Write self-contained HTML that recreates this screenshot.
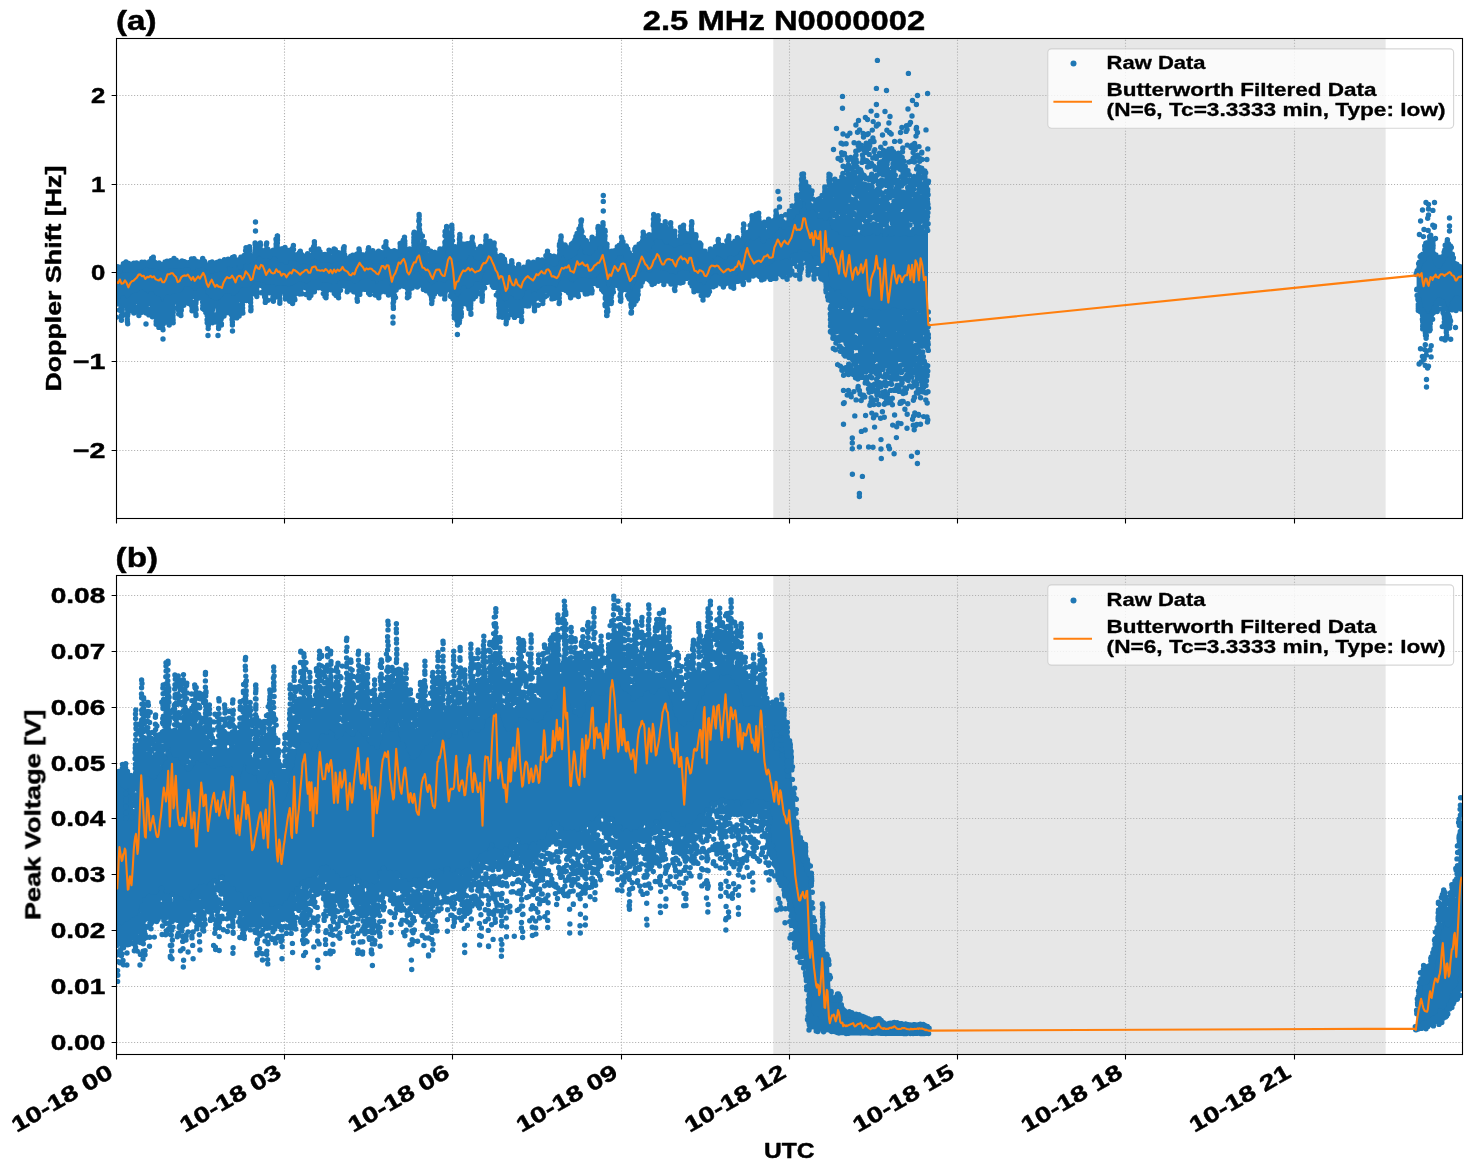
<!DOCTYPE html>
<html><head><meta charset="utf-8"><title>2.5 MHz N0000002</title>
<style>html,body{margin:0;padding:0;background:#fff}svg{display:block}</style></head>
<body>
<svg width="1472" height="1172" viewBox="0 0 1472 1172">
<defs>
<clipPath id="ca"><rect x="116.5" y="38.5" width="1346.0" height="480.0"/></clipPath>
<clipPath id="cb"><rect x="116.5" y="575.5" width="1346.0" height="479.0"/></clipPath>
<filter id="nf" x="0" y="0" width="100%" height="100%" filterUnits="userSpaceOnUse" color-interpolation-filters="sRGB"><feOffset dx="0" dy="0"/></filter>
</defs>
<rect width="1472" height="1172" fill="#fff"/>
<rect x="773.3" y="38.5" width="612.3" height="480.0" fill="#e7e7e7"/>
<path d="M284.5 518.5V38.5M452.5 518.5V38.5M621.5 518.5V38.5M789.5 518.5V38.5M957.5 518.5V38.5M1125.5 518.5V38.5M1294.5 518.5V38.5M116.5 95.5H1462.5M116.5 184.5H1462.5M116.5 272.5H1462.5M116.5 361.5H1462.5M116.5 450.5H1462.5" stroke="#b0b0b0" stroke-width="1.1" stroke-dasharray="1.1 1.83" fill="none"/>
<g clip-path="url(#ca)">
<path d="M116.5 271.2L117.5 270.5L118.5 272.3L119.5 272.7L120.5 270L121.5 269.4L122.5 269L123.5 268.8L124.5 268.5L125.5 271.5L126.5 269.2L127.5 269.6L128.5 271.4L129.5 269.4L130.5 268.5L131.5 268.6L132.5 271.4L133.5 268.4L134.5 269.1L135.5 270.1L136.5 268L137.5 268.6L138.5 268.3L139.5 266.2L140.5 267.2L141.5 265.7L142.5 267.9L143.5 265.9L144.5 266.7L145.5 265.7L146.5 265.1L147.5 265.2L148.5 265.8L149.5 266.6L150.5 267.3L151.5 267L152.5 263.3L153.5 264.8L154.5 264.7L155.5 266.1L156.5 266.6L157.5 267.8L158.5 265.5L159.5 266.1L160.5 269.2L161.5 267.7L162.5 270.1L163.5 267.1L164.5 269.2L165.5 267L166.5 268.4L167.5 266.6L168.5 265.5L169.5 267.1L170.5 266.1L171.5 265.3L172.5 265.6L173.5 265.7L174.5 264.4L175.5 267L176.5 265.3L177.5 265.3L178.5 267.4L179.5 264.6L180.5 265.5L181.5 267L182.5 267.1L183.5 264.4L184.5 264.6L185.5 265.8L186.5 266.2L187.5 265.5L188.5 264.7L189.5 264.9L190.5 266.6L191.5 265L192.5 265.3L193.5 266.1L194.5 266L195.5 265.4L196.5 265.1L197.5 264.5L198.5 266.8L199.5 264.6L200.5 263.9L201.5 266.2L202.5 264L203.5 265.9L204.5 264.8L205.5 267.1L206.5 266.7L207.5 268.7L208.5 269.4L209.5 268.6L210.5 268.5L211.5 268.4L212.5 270.7L213.5 270.6L214.5 269.5L215.5 268.3L216.5 271L217.5 268L218.5 270.4L219.5 268.7L220.5 269.9L221.5 267.3L222.5 269.1L223.5 267.1L224.5 268.3L225.5 265.7L226.5 264.9L227.5 265.5L228.5 265.4L229.5 263.7L230.5 264.3L231.5 266.3L232.5 264.9L233.5 266.1L234.5 263L235.5 263.5L236.5 263.6L237.5 263.3L238.5 264.4L239.5 266.6L240.5 268.3L241.5 265L242.5 263.5L243.5 262.2L244.5 261.1L245.5 259.6L246.5 262.7L247.5 262.9L248.5 262.3L249.5 258.6L250.5 259.7L251.5 257.5L252.5 260.8L253.5 259.9L254.5 259.1L255.5 255.3L256.5 255.8L257.5 254.3L258.5 253.7L259.5 254.5L260.5 254L261.5 255.5L262.5 254.7L263.5 257.1L264.5 254.4L265.5 255.3L266.5 257.7L267.5 255.5L268.5 254.6L269.5 254.3L270.5 257.9L271.5 253.3L272.5 255.2L273.5 254.3L274.5 255L275.5 252.8L276.5 253.4L277.5 252.8L278.5 253.1L279.5 257.6L280.5 261L281.5 261.2L282.5 260.1L283.5 260.5L284.5 260.7L285.5 259.8L286.5 263.2L287.5 260.3L288.5 259.6L289.5 259.1L290.5 257.8L291.5 259.1L292.5 258.5L293.5 258L294.5 258.4L295.5 259.4L296.5 259L297.5 259.5L298.5 260.1L299.5 260.7L300.5 260.7L301.5 262.9L302.5 262.7L303.5 261.2L304.5 261.4L305.5 261.6L306.5 261.7L307.5 263.6L308.5 260.8L309.5 259.4L310.5 258.1L311.5 258.3L312.5 257.9L313.5 255L314.5 255.3L315.5 254.6L316.5 258.4L317.5 256.4L318.5 259.7L319.5 259.8L320.5 258.8L321.5 259.6L322.5 261.5L323.5 261.7L324.5 260.6L325.5 259.4L326.5 259.8L327.5 261.2L328.5 260.5L329.5 259.8L330.5 260.9L331.5 262.4L332.5 259.5L333.5 259.8L334.5 259.4L335.5 260.7L336.5 258.5L337.5 258.4L338.5 259.9L339.5 257.7L340.5 257.5L341.5 259.9L342.5 256.8L343.5 257.9L344.5 258L345.5 260.4L346.5 259.9L347.5 262.4L348.5 262.5L349.5 263.3L350.5 265.8L351.5 263.9L352.5 264.9L353.5 262.4L354.5 261.2L355.5 260.6L356.5 259.1L357.5 258.4L358.5 257.9L359.5 258.5L360.5 257.2L361.5 257.8L362.5 257.6L363.5 257.3L364.5 257.2L365.5 257.2L366.5 259.6L367.5 259.1L368.5 257.4L369.5 257.9L370.5 257.8L371.5 258.1L372.5 259.2L373.5 259.4L374.5 262.4L375.5 261.2L376.5 262.8L377.5 260.8L378.5 262.3L379.5 260.2L380.5 258.5L381.5 258.6L382.5 256.2L383.5 254.9L384.5 254.2L385.5 253.1L386.5 256.5L387.5 256.2L388.5 257.5L389.5 259.2L390.5 260.8L391.5 262.9L392.5 260.7L393.5 262L394.5 259L395.5 260.2L396.5 257.4L397.5 256.4L398.5 256L399.5 252.3L400.5 252.9L401.5 250.7L402.5 250.1L403.5 250.6L404.5 251.9L405.5 251.4L406.5 252.6L407.5 257.2L408.5 257.3L409.5 258.8L410.5 257.1L411.5 256.1L412.5 251.6L413.5 250.4L414.5 248.9L415.5 244.7L416.5 240.1L417.5 239.9L418.5 235.3L419.5 235.3L420.5 239.1L421.5 247.8L422.5 247.3L423.5 252.3L424.5 254.2L425.5 255.1L426.5 259.4L427.5 257.8L428.5 258.6L429.5 262.2L430.5 263.5L431.5 261.1L432.5 261.8L433.5 261.1L434.5 260.7L435.5 262.6L436.5 259.7L437.5 262.3L438.5 260.3L439.5 261.9L440.5 259.5L441.5 258.6L442.5 254.8L443.5 252.5L444.5 249.5L445.5 247.2L446.5 244.1L447.5 242.1L448.5 242.2L449.5 244.5L450.5 242.2L451.5 242.4L452.5 247.6L453.5 252.1L454.5 258.7L455.5 259.8L456.5 260.3L457.5 260.6L458.5 257.5L459.5 257.1L460.5 254.9L461.5 254.8L462.5 258.8L463.5 255.6L464.5 258.7L465.5 255.7L466.5 256.7L467.5 254.4L468.5 253.1L469.5 252.4L470.5 251.9L471.5 253.7L472.5 253L473.5 253.2L474.5 254.8L475.5 256.6L476.5 258.7L477.5 259.2L478.5 259.4L479.5 257.3L480.5 255.9L481.5 254.5L482.5 253L483.5 252.9L484.5 249.8L485.5 249.6L486.5 247.8L487.5 248.2L488.5 249.1L489.5 248.7L490.5 249.4L491.5 250.1L492.5 253.4L493.5 253.1L494.5 254L495.5 255.9L496.5 257.3L497.5 259.8L498.5 260.9L499.5 264.5L500.5 264.3L501.5 268.4L502.5 267.8L503.5 270.9L504.5 270.7L505.5 271.9L506.5 269.6L507.5 273.4L508.5 270.4L509.5 270.5L510.5 271L511.5 270.6L512.5 270.7L513.5 272.2L514.5 272.9L515.5 272.5L516.5 272.7L517.5 273L518.5 273.3L519.5 273.8L520.5 273.5L521.5 275.3L522.5 274.5L523.5 273.1L524.5 271.3L525.5 271.8L526.5 271.9L527.5 269.7L528.5 270.9L529.5 270.4L530.5 269.3L531.5 269.1L532.5 269.9L533.5 268.9L534.5 270.1L535.5 268.1L536.5 269.8L537.5 268.1L538.5 267.8L539.5 267.9L540.5 266.3L541.5 265.6L542.5 264.2L543.5 263.1L544.5 262.1L545.5 262.2L546.5 262.7L547.5 261.5L548.5 262L549.5 263.1L550.5 262.5L551.5 263.3L552.5 264.5L553.5 264.8L554.5 264.5L555.5 264.5L556.5 263.1L557.5 258.7L558.5 259.1L559.5 255.7L560.5 254.4L561.5 251L562.5 252.3L563.5 253.5L564.5 254.5L565.5 256.2L566.5 256L567.5 258.8L568.5 256.1L569.5 258L570.5 256.7L571.5 254.4L572.5 255.3L573.5 252L574.5 254.7L575.5 251.9L576.5 247.7L577.5 246.1L578.5 244L579.5 241.5L580.5 242.8L581.5 238.2L582.5 245L583.5 247L584.5 249.6L585.5 253.3L586.5 252.7L587.5 252.6L588.5 252.7L589.5 254.2L590.5 252.5L591.5 252L592.5 252.3L593.5 249.1L594.5 248.9L595.5 247.9L596.5 245.1L597.5 242.7L598.5 244.7L599.5 241.3L600.5 243.2L601.5 239.4L602.5 242L603.5 244.9L604.5 244L605.5 250.5L606.5 252.5L607.5 257.8L608.5 257.6L609.5 258.9L610.5 260.2L611.5 260.8L612.5 260.6L613.5 258.6L614.5 257.5L615.5 257.7L616.5 255L617.5 253.6L618.5 253.4L619.5 251.9L620.5 254.4L621.5 250.1L622.5 251.1L623.5 251.6L624.5 253.4L625.5 255.7L626.5 258.2L627.5 259.5L628.5 259.9L629.5 260.4L630.5 260.7L631.5 261.8L632.5 261.5L633.5 262.6L634.5 262.1L635.5 260.8L636.5 258.2L637.5 254.9L638.5 255L639.5 250.8L640.5 248.8L641.5 247.5L642.5 249.3L643.5 247.1L644.5 246.1L645.5 248.8L646.5 249.8L647.5 249.8L648.5 247.8L649.5 251.5L650.5 244.6L651.5 244.5L652.5 239.6L653.5 235.3L654.5 234.4L655.5 237.9L656.5 234.6L657.5 233.3L658.5 233.5L659.5 238.5L660.5 234.8L661.5 238.1L662.5 236.8L663.5 237.8L664.5 240.9L665.5 240.2L666.5 243.3L667.5 238.2L668.5 241.2L669.5 240.3L670.5 240.8L671.5 244.3L672.5 242.2L673.5 242.5L674.5 246.4L675.5 245.4L676.5 245.4L677.5 244.6L678.5 242.2L679.5 243.7L680.5 244.1L681.5 240.5L682.5 242L683.5 242.3L684.5 240.7L685.5 239.2L686.5 242.5L687.5 239.1L688.5 238.4L689.5 238.6L690.5 242.3L691.5 239L692.5 244.2L693.5 246.7L694.5 248.3L695.5 248.4L696.5 250.6L697.5 254.3L698.5 256.3L699.5 255.6L700.5 257.7L701.5 259.5L702.5 261.3L703.5 259.9L704.5 260.6L705.5 262.6L706.5 261.9L707.5 262L708.5 259.1L709.5 259.2L710.5 259.4L711.5 256.7L712.5 257.2L713.5 256.9L714.5 253.9L715.5 253.5L716.5 253.2L717.5 254.2L718.5 251.8L719.5 253.8L720.5 255.5L721.5 255L722.5 255.8L723.5 255.7L724.5 258.3L725.5 253.9L726.5 252.6L727.5 255L728.5 251.6L729.5 254.5L730.5 252L731.5 254.3L732.5 253.2L733.5 254.8L734.5 254.3L735.5 253.8L736.5 251.1L737.5 250.5L738.5 250.7L739.5 246.2L740.5 244.9L741.5 247.2L742.5 240.9L743.5 240.3L744.5 242L745.5 236.8L746.5 238.8L747.5 237.7L748.5 238.6L749.5 235.6L750.5 233.8L751.5 233.1L752.5 233.4L753.5 239L754.5 236.4L755.5 237.8L756.5 234.4L757.5 234.5L758.5 234.4L759.5 234.2L760.5 235.3L761.5 236.5L762.5 239L763.5 242.1L764.5 238.3L765.5 236.5L766.5 237.8L767.5 236.4L768.5 235.5L769.5 234L770.5 237.3L771.5 235.1L772.5 233.1L773.5 231.4L774.5 230.1L775.5 226.6L776.5 229.2L777.5 226.3L778.5 226L779.5 224.7L780.5 225.1L781.5 225.7L782.5 226.7L783.5 228.5L784.5 227.8L785.5 226.4L786.5 224.9L787.5 225.6L788.5 224.5L789.5 223.2L790.5 220.8L791.5 219.4L792.5 217.6L793.5 215.1L794.5 213.7L795.5 211.8L796.5 213.4L797.5 210.2L798.5 205.8L799.5 207.4L800.5 203.6L801.5 198.2L802.5 199.2L803.5 200L804.5 199.3L805.5 198.5L806.5 200.9L807.5 202L808.5 204.3L809.5 209.7L810.5 206.5L811.5 207.6L812.5 207.9L813.5 207.4L814.5 207.6L815.5 207.3L816.5 207.4L817.5 211L818.5 211L819.5 217.4L820.5 216.6L821.5 216.8L822.5 210.8L823.5 215.9L824.5 216.9L825.5 219.5L826.5 212.1L827.5 214.9L828.5 206.9L829.5 208.3L830.5 203.2L831.5 200.5L832.5 202.8L832.5 308.2L831.5 297L830.5 298.4L829.5 294L828.5 286.9L827.5 283L826.5 277.5L825.5 269.7L824.5 268.7L823.5 267.4L822.5 265.9L821.5 263.5L820.5 260.9L819.5 262.5L818.5 260.1L817.5 257.2L816.5 261L815.5 256.8L814.5 261.6L813.5 260.1L812.5 261L811.5 260.1L810.5 256.5L809.5 254.3L808.5 258.8L807.5 256.3L806.5 257.5L805.5 252.9L804.5 252.8L803.5 256.8L802.5 256.7L801.5 256.7L800.5 250.8L799.5 256.8L798.5 255.3L797.5 257.2L796.5 258L795.5 253.8L794.5 259.5L793.5 259.8L792.5 254.9L791.5 261.1L790.5 261.3L789.5 262.1L788.5 261.1L787.5 262.7L786.5 260.7L785.5 259.7L784.5 263.4L783.5 262.3L782.5 261.1L781.5 263.8L780.5 262.8L779.5 263.2L778.5 260.9L777.5 262.6L776.5 264.8L775.5 262.9L774.5 264.8L773.5 266.5L772.5 267L771.5 265L770.5 268.5L769.5 266.6L768.5 267.1L767.5 267L766.5 269.5L765.5 269.5L764.5 270.1L763.5 270.4L762.5 270.7L761.5 269L760.5 269.1L759.5 270.4L758.5 270.4L757.5 271.5L756.5 270.1L755.5 271.3L754.5 271.1L753.5 269.8L752.5 270.4L751.5 268.3L750.5 269.4L749.5 268.9L748.5 267.2L747.5 270.2L746.5 268.1L745.5 271.1L744.5 271.7L743.5 272.8L742.5 273.9L741.5 275L740.5 273.6L739.5 276.7L738.5 277.2L737.5 277.5L736.5 278L735.5 277.1L734.5 278.1L733.5 277.3L732.5 277.3L731.5 279.1L730.5 278.9L729.5 277.2L728.5 279.3L727.5 278.9L726.5 279.2L725.5 277.7L724.5 279.3L723.5 277.1L722.5 278.5L721.5 278.6L720.5 278.3L719.5 276.4L718.5 276.8L717.5 276.8L716.5 275.9L715.5 274.5L714.5 277.3L713.5 276.7L712.5 279.3L711.5 280L710.5 281.5L709.5 280.2L708.5 283.3L707.5 284.9L706.5 285.1L705.5 285.5L704.5 286L703.5 287L702.5 286.4L701.5 287.2L700.5 283.8L699.5 285.8L698.5 284.7L697.5 283.1L696.5 282.9L695.5 281.8L694.5 280.6L693.5 277L692.5 278.6L691.5 275.4L690.5 277L689.5 275L688.5 273.3L687.5 271.4L686.5 274.4L685.5 271.5L684.5 272.1L683.5 272.8L682.5 272.2L681.5 272.2L680.5 273.3L679.5 272.3L678.5 275.5L677.5 275.6L676.5 275.9L675.5 277.1L674.5 276.8L673.5 274.9L672.5 277.1L671.5 275L670.5 275.5L669.5 275.9L668.5 274.4L667.5 274.2L666.5 272.7L665.5 272.3L664.5 271.9L663.5 273.7L662.5 274.1L661.5 272.2L660.5 273.4L659.5 270.8L658.5 270.7L657.5 270.6L656.5 272.9L655.5 270L654.5 270.7L653.5 274L652.5 273.6L651.5 274.1L650.5 275.1L649.5 274L648.5 275.1L647.5 274.9L646.5 272.8L645.5 272.1L644.5 271.6L643.5 270.7L642.5 272.8L641.5 274.3L640.5 276L639.5 278L638.5 281.7L637.5 284.1L636.5 284.3L635.5 287.1L634.5 290.9L633.5 293.7L632.5 295.6L631.5 293.5L630.5 292.1L629.5 291.9L628.5 290.1L627.5 285.6L626.5 283.1L625.5 280.1L624.5 280L623.5 281L622.5 279.8L621.5 283L620.5 285.7L619.5 284.5L618.5 280.2L617.5 280.4L616.5 278.3L615.5 278L614.5 280.6L613.5 281.4L612.5 285.6L611.5 287.4L610.5 288L609.5 293.1L608.5 292.9L607.5 296.5L606.5 293.3L605.5 289.7L604.5 286.5L603.5 282.1L602.5 278.5L601.5 274.1L600.5 276.5L599.5 276.9L598.5 277.7L597.5 278.8L596.5 279.6L595.5 280.4L594.5 278.9L593.5 280.8L592.5 281L591.5 280.2L590.5 280.4L589.5 282.4L588.5 280.2L587.5 282.4L586.5 280.1L585.5 280.8L584.5 278.8L583.5 279.4L582.5 278.4L581.5 279.9L580.5 281.9L579.5 279.2L578.5 279.4L577.5 283.2L576.5 281.8L575.5 284.4L574.5 284.8L573.5 284.2L572.5 284.9L571.5 285.5L570.5 284.4L569.5 283.4L568.5 282.9L567.5 282.8L566.5 279.5L565.5 280.1L564.5 279.2L563.5 279.2L562.5 281.4L561.5 282.4L560.5 285.2L559.5 289.1L558.5 289.9L557.5 290.6L556.5 288.5L555.5 288.8L554.5 289.1L553.5 287.9L552.5 287.2L551.5 287.6L550.5 287L549.5 287.3L548.5 286.6L547.5 288.1L546.5 288.8L545.5 287.7L544.5 287L543.5 290L542.5 289L541.5 289.5L540.5 291.6L539.5 290.6L538.5 293L537.5 294.4L536.5 294.6L535.5 294.7L534.5 295.5L533.5 294.4L532.5 295L531.5 295.3L530.5 294.9L529.5 290.6L528.5 294.2L527.5 293.9L526.5 296.3L525.5 296.8L524.5 300.7L523.5 302L522.5 304.7L521.5 303.1L520.5 302.2L519.5 303.9L518.5 301L517.5 302L516.5 303.6L515.5 303.1L514.5 302.7L513.5 301.4L512.5 299.8L511.5 299.3L510.5 301.4L509.5 302.5L508.5 302L507.5 301.5L506.5 305.3L505.5 305L504.5 303.1L503.5 305.2L502.5 301.7L501.5 301.4L500.5 300.5L499.5 298.9L498.5 295.4L497.5 291.2L496.5 286.1L495.5 282.1L494.5 275.8L493.5 276L492.5 275.7L491.5 274.6L490.5 273.2L489.5 273.2L488.5 272.5L487.5 272.7L486.5 273L485.5 275.9L484.5 278.7L483.5 283.4L482.5 285.4L481.5 286.2L480.5 285.6L479.5 283.3L478.5 284.4L477.5 282.9L476.5 285.6L475.5 286.1L474.5 287.6L473.5 290.4L472.5 288.1L471.5 290.2L470.5 295.4L469.5 293.8L468.5 289.7L467.5 292.5L466.5 289.9L465.5 290.9L464.5 289L463.5 288.4L462.5 293.5L461.5 295.8L460.5 299L459.5 302.7L458.5 302.9L457.5 302.6L456.5 304.7L455.5 297.3L454.5 297.2L453.5 296.1L452.5 291.1L451.5 283L450.5 282.8L449.5 280.5L448.5 281.6L447.5 283.2L446.5 283.6L445.5 284.7L444.5 283.9L443.5 286.3L442.5 285.3L441.5 284.7L440.5 283.2L439.5 283.5L438.5 284.4L437.5 283.1L436.5 286.5L435.5 287.9L434.5 285.2L433.5 287.4L432.5 288.4L431.5 287.2L430.5 286.6L429.5 286.8L428.5 284L427.5 285L426.5 283.4L425.5 281.7L424.5 279.8L423.5 277.5L422.5 278.2L421.5 277.8L420.5 276.9L419.5 275.9L418.5 274.3L417.5 275.7L416.5 275.9L415.5 276.8L414.5 275.1L413.5 279.3L412.5 280.9L411.5 282.4L410.5 283.3L409.5 281L408.5 284.6L407.5 282.1L406.5 282.2L405.5 281.6L404.5 279.5L403.5 279.5L402.5 275.3L401.5 276L400.5 274.5L399.5 275.8L398.5 278L397.5 280.7L396.5 281.8L395.5 287.5L394.5 290.3L393.5 290.3L392.5 293.1L391.5 287.7L390.5 290L389.5 288.1L388.5 286.2L387.5 281.8L386.5 281.5L385.5 281L384.5 281L383.5 281.2L382.5 282.2L381.5 284.1L380.5 281.9L379.5 284.5L378.5 284.6L377.5 285.8L376.5 285.2L375.5 285.9L374.5 285.3L373.5 284.8L372.5 281.5L371.5 283.7L370.5 283.7L369.5 282.3L368.5 281.4L367.5 279.7L366.5 279.4L365.5 279.2L364.5 281.5L363.5 282.2L362.5 280.8L361.5 280.9L360.5 282.9L359.5 283.7L358.5 286.2L357.5 284.1L356.5 286.5L355.5 284.9L354.5 286.9L353.5 285L352.5 286.4L351.5 283.7L350.5 283.7L349.5 282.1L348.5 283.5L347.5 282.8L346.5 282.3L345.5 281.8L344.5 283.1L343.5 281L342.5 283.6L341.5 284L340.5 284.5L339.5 282.1L338.5 284.9L337.5 285.9L336.5 285.3L335.5 284.9L334.5 286.1L333.5 285.2L332.5 286.6L331.5 286.6L330.5 285.9L329.5 284.7L328.5 286.5L327.5 285.9L326.5 283.2L325.5 284L324.5 285.6L323.5 285.4L322.5 284.8L321.5 283.6L320.5 283.9L319.5 283L318.5 280.2L317.5 280.3L316.5 282.1L315.5 281.8L314.5 280.4L313.5 281.5L312.5 280.6L311.5 284.4L310.5 285.3L309.5 285.9L308.5 285.9L307.5 284.2L306.5 285.6L305.5 285.3L304.5 285.2L303.5 283.9L302.5 284.8L301.5 284.6L300.5 284.3L299.5 284.4L298.5 285.9L297.5 284.1L296.5 287.4L295.5 285.2L294.5 285.6L293.5 289.6L292.5 289.9L291.5 288.2L290.5 289.6L289.5 287.5L288.5 288.4L287.5 288.7L286.5 288.6L285.5 287.1L284.5 289L283.5 288.8L282.5 286.8L281.5 286.9L280.5 286.4L279.5 286.8L278.5 286.4L277.5 289.1L276.5 288.3L275.5 289.1L274.5 288.8L273.5 285.8L272.5 287.2L271.5 288.4L270.5 285.4L269.5 288.8L268.5 288.5L267.5 288.9L266.5 285.8L265.5 286.2L264.5 287.2L263.5 285.7L262.5 283.4L261.5 284.1L260.5 283.3L259.5 283L258.5 284.1L257.5 282.5L256.5 285.4L255.5 287.2L254.5 285L253.5 287.3L252.5 287.3L251.5 287.2L250.5 288.8L249.5 290.8L248.5 288.3L247.5 291.4L246.5 292.4L245.5 288.6L244.5 289.6L243.5 292.7L242.5 289.2L241.5 291.7L240.5 292.2L239.5 295.2L238.5 294.4L237.5 296L236.5 297L235.5 298.3L234.5 297.6L233.5 297.1L232.5 299.5L231.5 297.5L230.5 298L229.5 294.4L228.5 296.2L227.5 295.3L226.5 294.3L225.5 296.6L224.5 296.4L223.5 298L222.5 301.8L221.5 301.2L220.5 300.5L219.5 304.4L218.5 305.8L217.5 305.2L216.5 301.5L215.5 301.9L214.5 301.3L213.5 302.1L212.5 301.2L211.5 302L210.5 302.1L209.5 299.1L208.5 303.1L207.5 298.1L206.5 300.2L205.5 295.3L204.5 294.8L203.5 293L202.5 289.7L201.5 289L200.5 289L199.5 289.6L198.5 293.4L197.5 294.2L196.5 294.8L195.5 291.4L194.5 291.5L193.5 292.9L192.5 292.4L191.5 289.8L190.5 290.5L189.5 289.6L188.5 288.2L187.5 289.3L186.5 287.5L185.5 289L184.5 291.5L183.5 292.6L182.5 293.6L181.5 293.2L180.5 295.8L179.5 293.7L178.5 296.7L177.5 294.2L176.5 296.5L175.5 297.4L174.5 294.5L173.5 297.6L172.5 296.4L171.5 296.1L170.5 298.3L169.5 299L168.5 296.7L167.5 295.8L166.5 298.7L165.5 302.3L164.5 303.2L163.5 302.4L162.5 302.7L161.5 303.2L160.5 303.2L159.5 303L158.5 299.9L157.5 297.2L156.5 299.9L155.5 297.2L154.5 296.1L153.5 296L152.5 295.8L151.5 292.5L150.5 294L149.5 295.5L148.5 294.7L147.5 294.9L146.5 294.5L145.5 293.6L144.5 292.5L143.5 293.4L142.5 293.8L141.5 290.7L140.5 292L139.5 294L138.5 294.1L137.5 294L136.5 294.5L135.5 294.9L134.5 294.1L133.5 294.9L132.5 296.5L131.5 297.5L130.5 298.8L129.5 300L128.5 299.9L127.5 302L126.5 300L125.5 299.4L124.5 300.8L123.5 296.8L122.5 298.7L121.5 300L120.5 300.6L119.5 300.5L118.5 299.4L117.5 300.9L116.5 300.6ZM831 223.7L832 225.2L833 226.3L834 226.8L835 226.4L836 226.1L837 227.7L838 226.9L839 230.1L840 229.9L841 230.7L842 230.2L843 229.6L844 232.1L845 230.9L846 232.2L847 231.6L848 232.2L849 230.1L850 231.9L851 230.2L852 231.8L853 230.9L854 230.4L855 232.2L856 231.5L857 230L858 231.4L859 232.5L860 231.9L861 231.9L862 230.8L863 231.5L864 230.8L865 232.1L866 230.5L867 232.2L868 230.6L869 231.8L870 231.7L871 230.5L872 231.6L873 231L874 230.3L875 230.9L876 231.2L877 232.7L878 231.3L879 232.8L880 231L881 230.1L882 230.3L883 232.4L884 230.2L885 233L886 230.8L887 232.1L888 230.3L889 231.4L890 231.1L891 232.7L892 230.6L893 230.6L894 231.6L895 231.1L896 231.9L897 230.2L898 232.2L899 232.6L900 232.3L901 230.8L902 230.6L903 230.3L904 232.5L905 232.3L906 230L907 230.3L908 231.9L909 232L910 231L911 232.3L912 232.7L913 231.4L914 230L915 232.4L916 230.6L917 231.6L918 231.3L919 231.3L920 231.5L921 233L922 230.8L923 230.6L924 230.1L925 230.7L926 232.1L927 232.4L928 232.2L928 313.6L927 313.9L926 311.9L925 313.3L924 312.1L923 312.4L922 312.3L921 311.2L920 313.8L919 313.9L918 312.3L917 311.3L916 312.6L915 311.5L914 313.2L913 312.4L912 313L911 312.6L910 311.9L909 312.4L908 311.7L907 313.8L906 313.7L905 313.3L904 312.2L903 312.3L902 313.5L901 312.8L900 311.7L899 313.6L898 312L897 312.8L896 312.7L895 311.5L894 311.1L893 311.8L892 311.4L891 312.4L890 313.9L889 313.2L888 312L887 313.6L886 313.8L885 312.9L884 312L883 311.6L882 312.2L881 313.3L880 311.9L879 313.2L878 311.9L877 313.7L876 313L875 313.1L874 311.2L873 313.5L872 313.8L871 312.6L870 311.5L869 313.7L868 312.5L867 313L866 310.4L865 311.5L864 310.9L863 312L862 310.2L861 309.1L860 309.9L859 309.5L858 310.8L857 309L856 310.5L855 307.9L854 307L853 306.7L852 305.7L851 305.8L850 304.2L849 305.5L848 303.8L847 304.2L846 302.9L845 301.4L844 299.4L843 298.8L842 298.5L841 299.4L840 296.4L839 295.3L838 293.6L837 295.8L836 293.9L835 295.7L834 293.4L833 294.2L832 292.6L831 294.2ZM1416.6 275.9L1417.6 272.6L1418.6 269L1419.6 266.1L1420.6 263L1421.6 262.1L1422.6 259.8L1423.6 260.9L1424.6 257.4L1425.6 256.1L1426.6 255L1427.6 252.3L1428.6 249.8L1429.6 253.3L1430.6 254.3L1431.6 253.1L1432.6 255.6L1433.6 257.3L1434.6 260.5L1435.6 262.8L1436.6 264.4L1437.6 266.4L1438.6 267.4L1439.6 265.4L1440.6 264.7L1441.6 262.1L1442.6 260.1L1443.6 258.3L1444.6 256.6L1445.6 256.6L1446.6 253.5L1447.6 252.9L1448.6 252.4L1449.6 252.1L1450.6 256.2L1451.6 256.1L1452.6 258.4L1453.6 263.8L1454.6 268.1L1455.6 269.6L1456.6 269.8L1457.6 270.5L1458.6 270.1L1459.6 270.2L1460.6 270.4L1461.6 271.7L1462.6 271.1L1462.6 297.6L1461.6 296.9L1460.6 298L1459.6 298.1L1458.6 297.4L1457.6 298.2L1456.6 296.7L1455.6 297.8L1454.6 299L1453.6 301L1452.6 301L1451.6 305.2L1450.6 307.3L1449.6 316L1448.6 313.6L1447.6 317L1446.6 317.8L1445.6 313.5L1444.6 306.7L1443.6 303.3L1442.6 301.4L1441.6 300.1L1440.6 299.6L1439.6 298.3L1438.6 299.7L1437.6 301.9L1436.6 301.4L1435.6 304.7L1434.6 306.6L1433.6 308.4L1432.6 310.7L1431.6 312.5L1430.6 314.7L1429.6 314.3L1428.6 314.4L1427.6 317.9L1426.6 315.7L1425.6 318.2L1424.6 317L1423.6 311.6L1422.6 309L1421.6 308.6L1420.6 305.9L1419.6 302.6L1418.6 298.4L1417.6 294.2L1416.6 287.9Z" fill="#1f77b4"/>
<path d="M116.8 269.8h0M116.4 268.2h0M116.7 301.9h0M116.2 317.2h0M117.4 269.2h0M117.7 266.7h0M117.1 302.2h0M117.3 303.9h0M118.2 270.9h0M118.1 270.5h0M118.9 300.8h0M119.5 271.3h0M119.5 301.9h0M119.3 310.1h0M120.3 268.7h0M120 267.8h0M120.6 301.9h0M120.3 303.7h0M121.5 268.1h0M121.3 266.9h0M121.5 301.3h0M121.5 303.5h0M122.9 267.6h0M122.2 300.1h0M122.2 310.6h0M122 302.8h0M121.9 307.5h0M122.1 310.4h0M122.1 312.6h0M122.2 315.8h0M123.9 267.4h0M123.4 263.6h0M123.1 298.1h0M123.2 303.5h0M124.6 267.2h0M124.3 302.2h0M124.1 305.2h0M125 270.2h0M125.9 300.7h0M125.3 302.6h0M126 267.9h0M126.9 266.5h0M127.1 267.3h0M127.1 264.8h0M127 263.4h0M127 301.4h0M126 315.1h0M127.3 268.3h0M128.2 263.9h0M128 263.3h0M127.5 303.4h0M127.2 308.3h0M127.8 306.1h0M127.7 307.7h0M127.9 313.9h0M127.7 314.3h0M129 270.1h0M128.1 301.2h0M128.1 304.9h0M129.2 268.1h0M129.2 267.7h0M130 301.4h0M129.3 307.7h0M130.8 267.2h0M130.5 264.3h0M130.8 300.1h0M130.6 304.5h0M129.9 300.2h0M130.1 305.2h0M130 306.3h0M130 309.3h0M131.4 267.2h0M131.2 266.3h0M131.4 298.8h0M131.6 299.9h0M132.8 270h0M132.5 297.9h0M132.8 303.4h0M132.5 300.7h0M132.6 305h0M132.6 310.2h0M132.3 310.9h0M133.2 267.1h0M133.3 264.6h0M133 296.3h0M133.3 306.3h0M134.8 267.7h0M134.5 266.3h0M134.7 295.4h0M134.9 299.1h0M135.5 268.8h0M135.1 265.7h0M135.3 296.2h0M135.5 300.5h0M136.7 266.7h0M136.6 263h0M136.1 295.9h0M137.1 299.6h0M136.8 300.5h0M136.7 307.4h0M136.7 310.7h0M136.9 311.5h0M137.1 267.2h0M137.4 266.1h0M137.4 295.3h0M138.7 267h0M138.9 265.4h0M138.5 295.4h0M138.5 295.8h0M139.8 264.8h0M140 264.1h0M139.8 295.3h0M139.3 297.5h0M140.4 265.9h0M140.5 265.6h0M140.1 293.4h0M140.1 299.5h0M141.9 264.3h0M141.4 264h0M141.7 262.6h0M141.8 262.2h0M141.7 292.1h0M141.5 292.6h0M141.7 294.8h0M141.8 296.7h0M142 302h0M142 302.9h0M141.6 305.9h0M141.8 309.1h0M141.9 312.2h0M142.2 266.6h0M143 265.4h0M142.7 295.1h0M142.3 296.7h0M143.5 264.5h0M143.6 294.7h0M143.5 301.2h0M144.2 265.4h0M144.6 262.3h0M144.1 293.8h0M144.2 297.1h0M145.3 264.4h0M145.8 264h0M145.2 295h0M145.6 303.5h0M146.9 263.8h0M146.9 295.9h0M147.4 263.8h0M147.6 263.4h0M147.5 296.3h0M148.4 264.5h0M148.4 296h0M148.8 299.7h0M149.2 299.7h0M148.7 301.7h0M149.2 303.6h0M148.8 309.1h0M148.8 313.3h0M148.9 314.9h0M149.2 265.2h0M149.5 261.7h0M149.4 296.8h0M150.6 266h0M150.7 265.7h0M150.9 295.4h0M150.7 299.2h0M150.4 296.5h0M150.1 301.5h0M150.3 302.6h0M151.1 265.6h0M151.6 265.6h0M151.6 261.1h0M151.9 259.9h0M151.6 258.4h0M151.4 293.8h0M151.5 299.6h0M152.8 262h0M152.4 260.2h0M152.4 297.1h0M152.1 299.7h0M153.3 263.5h0M153 297.4h0M153.9 308.3h0M154.4 263.4h0M154.7 262.3h0M154.7 297.4h0M154.3 303.1h0M155.8 264.7h0M155.6 264h0M155.4 298.5h0M155.8 304.3h0M156.6 265.3h0M156.6 264.2h0M156.4 301.3h0M156.6 304.2h0M155.9 304.1h0M156.2 306.7h0M156 309.1h0M156.3 313.5h0M156 317.4h0M156.2 321.5h0M156.2 324.2h0M157.2 266.4h0M157.7 265.6h0M157.6 298.6h0M157.3 300.6h0M157.8 304.4h0M157.4 306.2h0M157.6 311.4h0M157.5 313h0M158.2 264.2h0M158.9 301.2h0M158.6 314.6h0M159.3 264.8h0M159.1 262.9h0M159.8 304.3h0M159.3 318.2h0M159.6 305.5h0M159.4 308.4h0M159.3 315.2h0M159.2 318.4h0M159.4 321.5h0M159.4 323.1h0M160.4 267.9h0M160.6 304.5h0M160.5 313.1h0M161 266.3h0M161 266.2h0M161.6 304.6h0M161.1 320.3h0M161.9 304.8h0M161.7 309.9h0M162 313.8h0M162.1 316.2h0M161.8 318.6h0M162.4 268.7h0M162.2 268.1h0M163 304h0M162.6 320.5h0M163.7 265.8h0M163.6 264.3h0M164 303.7h0M163.5 305.5h0M164.9 267.8h0M164.7 264.9h0M164.4 304.5h0M164.3 307.1h0M164.1 309.2h0M164.1 313.2h0M164 316.6h0M164 319.6h0M164.2 322.2h0M165.3 265.6h0M165.9 303.7h0M166.6 267.1h0M166.8 266h0M167 261.3h0M166.1 300h0M166.4 306.1h0M167 265.2h0M167.6 262.1h0M167.6 297.1h0M167.8 302.9h0M167.6 300.1h0M168.1 303.9h0M167.8 305h0M167.9 309h0M168 312.9h0M168 316.8h0M167.8 322.3h0M167.8 322.6h0M169 264.1h0M168.3 263.8h0M168.5 298.1h0M168.3 309.9h0M169.6 265.8h0M169.3 300.4h0M169.3 312.3h0M171 264.8h0M170.6 260.8h0M170.6 299.7h0M170.9 301.6h0M170.3 302.4h0M169.9 304.1h0M170 307.2h0M170.1 312.8h0M170.1 315.2h0M170.1 317.1h0M170.2 319.6h0M171.6 263.9h0M171.2 262.9h0M171.7 297.5h0M172 300.4h0M172.2 264.2h0M172.9 297.7h0M172.1 305.7h0M173.7 264.4h0M173.8 263.2h0M173.6 261.3h0M173.1 299h0M173.4 309.3h0M174.8 263h0M174.3 295.8h0M174.3 308.1h0M175.5 265.6h0M175.1 262.3h0M175.8 298.7h0M175.5 301h0M176.1 263.9h0M176.2 260.2h0M176 297.9h0M178 264h0M177.1 263.7h0M177.2 295.6h0M177.7 295.8h0M178 266h0M178.4 264h0M178.9 298.1h0M178.2 304.2h0M178.8 300.7h0M178.5 302.1h0M178.8 307.5h0M178.7 310.4h0M178.7 313.9h0M179.7 263.3h0M179.2 262.8h0M179.5 295.1h0M179.4 302.8h0M180.9 264.2h0M180.6 262.1h0M180.4 297.1h0M180.7 313.3h0M181.5 265.6h0M182 261h0M182 294.6h0M181.7 300.1h0M181.4 296.5h0M181.6 301.9h0M181 306h0M181.5 306.8h0M181.3 310.2h0M182.3 265.7h0M182.5 295h0M182.2 299.5h0M183.3 263.1h0M183.1 262.5h0M183.1 293.9h0M183.8 305.3h0M183.3 299.8h0M183.4 300.1h0M184.8 263.3h0M184.4 261.8h0M184.7 292.9h0M184.5 293h0M184 295.9h0M184.2 300h0M184.1 300.9h0M185.2 264.4h0M185.6 290.4h0M185.9 297.5h0M185.3 291.2h0M184.9 295.6h0M185.3 296.9h0M185 299.9h0M186.5 264.9h0M186.7 262.8h0M186.2 288.9h0M186.8 293.3h0M187.4 264.1h0M187.5 263.4h0M187.1 290.7h0M187.8 302.7h0M188.9 263.4h0M188.4 262.8h0M188.8 289.5h0M188.3 294.7h0M188.3 290.1h0M188.6 298.5h0M188.4 299.5h0M189.6 263.5h0M189.2 262.7h0M189.6 291h0M189.7 300h0M190.5 265.2h0M190.1 291.8h0M190.3 292.8h0M191.6 263.7h0M191.7 261.4h0M191.5 259h0M191.2 291.2h0M191.6 305.4h0M191.9 295h0M192 296.7h0M191.9 302h0M192.1 306.2h0M192.1 307.5h0M192 310.8h0M192.3 264h0M192.6 263h0M192.2 293.8h0M193.2 264.7h0M193.9 263.4h0M193.9 261.9h0M193.6 260h0M193.9 258.7h0M193.8 294.2h0M193.2 295.6h0M194.6 264.7h0M194.4 292.9h0M194.9 293.6h0M195.2 264.1h0M195.7 261h0M195.1 292.8h0M195.8 295.6h0M196 263.8h0M196.2 296.2h0M196.4 298.1h0M197.1 263.2h0M197.8 295.5h0M198 298h0M198.5 265.5h0M198.7 261.9h0M198 294.8h0M198.9 298.1h0M200 263.3h0M199.2 290.9h0M199.5 293.3h0M200.3 262.6h0M200.5 262h0M200.4 290.3h0M200.1 296.8h0M201 264.8h0M201.2 290.3h0M201.9 291h0M202.4 262.7h0M202.2 262.2h0M202.5 291.1h0M202.7 291.2h0M202.9 296.2h0M202.9 298.1h0M203.9 264.5h0M203.8 262.9h0M203.7 261.7h0M203.9 261.2h0M203.4 294.4h0M203.9 299.1h0M204.6 263.5h0M204.4 261.2h0M204.9 296.1h0M204.1 309.5h0M205.1 297.1h0M204.7 301.4h0M205.1 305.3h0M205 305.7h0M205.6 265.8h0M205.6 296.6h0M205.8 312.6h0M205.6 298h0M205.1 304.7h0M205.4 305.4h0M206.6 265.3h0M206.5 265h0M206.5 301.6h0M206.1 302h0M207.9 267.4h0M207.8 265.3h0M207.1 299.4h0M207.2 314.3h0M207.1 300.3h0M207.2 303.7h0M207 310.2h0M207.1 313.7h0M207.2 315.4h0M207.1 319.7h0M207.2 322.8h0M208.7 268.1h0M208.1 304.4h0M208.7 306.6h0M208.3 310.2h0M208.4 312.4h0M208.6 314.9h0M208.4 318.3h0M208.5 320.1h0M209.5 267.2h0M209.4 300.5h0M209.5 300.8h0M210.7 267.2h0M210 262.8h0M210.9 303.4h0M211.6 267.1h0M211.5 303.3h0M211.8 305h0M212.8 269.4h0M212 264.7h0M213.1 269.1h0M213 265.8h0M212.5 302.5h0M213.2 269.2h0M213.1 268.3h0M213.9 303.5h0M213.8 315h0M214.3 268.2h0M214.8 263.5h0M214.4 302.6h0M214.5 305h0M215.2 267h0M215.3 303.3h0M215.4 316.9h0M216.5 269.6h0M217 266.5h0M216.8 265.6h0M216.9 262.4h0M216.3 302.8h0M216.1 322h0M217.7 266.7h0M217.3 306.6h0M217.9 312.9h0M218.6 269h0M218.5 307.2h0M219.3 267.4h0M219.9 264.8h0M219.9 261.9h0M219.8 261.1h0M219.8 305.8h0M219.2 309.6h0M219.7 308.1h0M220.1 313.5h0M219.9 314.8h0M221 268.5h0M220.8 267.5h0M220.9 301.8h0M220 315.3h0M221.9 266h0M221.1 265.5h0M221.3 302.6h0M221.7 312.1h0M222.3 267.7h0M222.2 303.1h0M222.2 312.2h0M224 265.8h0M223 263h0M223.5 299.4h0M223.8 306.4h0M224.3 266.9h0M224.6 266.1h0M225 297.8h0M224 299.2h0M224.2 302h0M224.2 305.4h0M224.1 311.9h0M224.1 314.8h0M224 316h0M225.4 264.4h0M226 298h0M225.3 298h0M225.7 301.4h0M226.1 304.6h0M225.9 305.3h0M225.9 308.5h0M227 263.5h0M226.1 295.7h0M226.4 297h0M227.7 264.1h0M227.5 262h0M227.7 296.6h0M227.7 304.6h0M228.1 264.1h0M228.4 263h0M228.1 263.3h0M228.4 260.1h0M228.1 259.2h0M228.6 297.6h0M228.6 299h0M228.2 303.5h0M228.6 309.4h0M228.4 309.5h0M229.1 262.3h0M229.9 262h0M229.3 295.7h0M229.3 301h0M230.4 263h0M230.9 261.1h0M231 299.4h0M230.9 301.2h0M230.5 302.2h0M230.5 306.3h0M230.6 308.4h0M230.7 313.3h0M230.5 313.5h0M231.9 264.9h0M231.5 262.1h0M231.6 298.9h0M231.9 315.4h0M232.1 263.6h0M232.5 257.5h0M232.6 300.8h0M232.7 308.3h0M233.9 264.7h0M233.7 262.9h0M233.1 298.4h0M233.6 302.2h0M234.2 261.7h0M234.4 298.9h0M234.1 302h0M234.4 305h0M234.2 307.9h0M234.2 308.6h0M235.8 262.2h0M235.3 260.4h0M235.4 299.6h0M236.2 262.3h0M236.1 298.3h0M237 301.1h0M237.4 261.9h0M237.2 260.2h0M237.2 297.3h0M238.8 263.1h0M238.4 295.8h0M238.5 299.9h0M239.8 265.3h0M239.3 259.8h0M239.6 296.5h0M238.9 297.8h0M239.4 300h0M238.9 305.4h0M239.3 307.9h0M239.1 310.1h0M238.9 313.2h0M239.1 316h0M240.6 266.9h0M241 263.3h0M240.6 293.6h0M240.2 296.9h0M241.3 263.7h0M241.8 262.6h0M241.3 293h0M241.6 295.1h0M243 262.2h0M242.8 261.2h0M242.3 290.5h0M242.5 297h0M243.8 260.8h0M243.4 259.5h0M243.8 294.1h0M243.6 295.5h0M244.8 259.8h0M244.2 255.5h0M244.5 290.9h0M245.3 258.3h0M245.8 257h0M245.3 290h0M245.7 298.9h0M246.6 261.3h0M246.7 293.7h0M246.4 300.6h0M247.7 261.5h0M247.5 292.8h0M247.6 295h0M248.6 260.9h0M248.7 255.2h0M248.3 289.6h0M248.9 294.2h0M249.2 257.3h0M249 255.9h0M249.5 254.4h0M249.6 251.1h0M249.7 248.3h0M249.5 246.8h0M249.8 292.2h0M250.2 258.3h0M251 290.1h0M250.5 301.8h0M251.7 256.2h0M251.1 288.6h0M251.5 292h0M252 259.4h0M252.5 288.6h0M252.4 292.9h0M253.8 258.6h0M253 257.4h0M253.7 288.6h0M253.3 289.3h0M254.5 257.7h0M254.3 286.4h0M254 293.8h0M255 254h0M255.3 288.5h0M255.9 292.3h0M256.1 254.5h0M256.4 286.8h0M257.9 252.9h0M257.8 246.1h0M257 283.8h0M258.2 252.3h0M258.7 251.1h0M258 249.8h0M258.4 248.8h0M258.2 246.7h0M258.2 285.5h0M260 253.1h0M259.6 251.3h0M259.4 284.4h0M259.3 284.4h0M260.2 252.6h0M260.6 250.2h0M260.6 249.8h0M260.1 246.5h0M260.4 245h0M260.3 242.9h0M260.2 284.6h0M261.5 254.2h0M261 251.7h0M261.4 285.5h0M261.1 292.7h0M262.6 253.4h0M262.8 284.7h0M262.8 292.5h0M262 285.5h0M262.4 292.1h0M262.3 292.8h0M263.8 255.8h0M263.5 287.1h0M264.8 253h0M264.1 288.5h0M264.6 296.8h0M265.2 254h0M265.5 250h0M265.5 287.5h0M265.3 292.4h0M266.4 256.4h0M266.5 253.3h0M266.2 287.2h0M266.1 288.7h0M267.5 254.2h0M267.8 249.1h0M267.2 290.3h0M267.9 300.2h0M268.1 253.3h0M268.1 250.4h0M268.9 289.9h0M268.1 291.2h0M269.1 253h0M269.4 290.1h0M269.8 292.9h0M270.2 256.5h0M270.2 286.8h0M270 288.3h0M271 251.9h0M271.6 289.8h0M271.8 292h0M272.8 253.8h0M272.7 251.7h0M272.8 288.5h0M272.9 297.5h0M272.6 291.1h0M272.7 293.7h0M272.6 299.4h0M272.8 299.6h0M273.4 252.9h0M273.2 250.3h0M273.1 287.1h0M273 297.5h0M274.8 253.7h0M274.7 290.1h0M274.2 292.9h0M274.3 295.8h0M274.5 297.6h0M275.7 251.5h0M275.1 290.4h0M275.7 291.3h0M276.3 252h0M276.2 246.1h0M276.3 249.6h0M276.1 243.9h0M276.3 240.6h0M276 239.3h0M276.4 289.7h0M277.3 251.5h0M277.1 239.6h0M277.2 290.5h0M277.1 291.2h0M277 292.6h0M277 296.9h0M278.4 251.8h0M279 249h0M278.6 287.7h0M279 289.1h0M279.2 256.3h0M279.2 252.5h0M279.7 288.2h0M279.3 291.4h0M280.4 259.7h0M280.1 255.9h0M280.1 287.8h0M280.6 289.9h0M281.9 259.8h0M281.1 288.3h0M281.5 290.9h0M282.1 258.7h0M282.2 253.1h0M283 288.2h0M282.8 289.9h0M283.2 259.2h0M283 248.6h0M283.2 290.2h0M283.9 292h0M284.9 259.4h0M284.5 259.2h0M284.9 290.3h0M284.9 294h0M285.6 258.5h0M285.1 256.6h0M285.1 258.1h0M285.2 254h0M284.7 250.6h0M284.9 247.7h0M285 247.5h0M285.5 288.4h0M285.3 291.4h0M286.1 261.9h0M286.6 289.9h0M286.7 297.4h0M287 258.9h0M287.6 257.3h0M288 290h0M287.2 291.1h0M288.1 258.2h0M288.4 253.3h0M288.5 255.7h0M288.1 251.2h0M288.2 250.4h0M288.1 289.8h0M288.4 291.6h0M289.2 257.8h0M289.1 252.2h0M289.9 288.9h0M289.7 299.5h0M289.5 291.8h0M289.6 294.5h0M289.5 295.3h0M289.6 298.5h0M289.7 301.3h0M290.9 256.4h0M290.9 251h0M290.1 290.9h0M290.3 292.5h0M291.6 257.8h0M291.3 289.6h0M291.9 296.9h0M292.3 257.1h0M292.1 248.7h0M292.8 291.2h0M292.8 292.7h0M293.9 256.7h0M293.5 255.8h0M293.3 290.9h0M293.9 298.5h0M294.8 257.1h0M294.7 287h0M294.1 287.9h0M295 290.2h0M294.9 291.6h0M295.1 294.2h0M294.7 298.9h0M294.9 299.8h0M295.2 258.1h0M296 286.5h0M295.4 286.6h0M296.2 257.7h0M296.5 288.8h0M296.4 290.9h0M298 258.1h0M297.8 254.5h0M297.8 285.4h0M297.9 289.9h0M298.8 258.8h0M298.5 255.5h0M298.6 287.3h0M298.9 291.3h0M299.1 259.4h0M299.9 254.3h0M299.3 258.1h0M299.3 254.2h0M299.4 252.8h0M299.6 285.7h0M299.5 291.9h0M300.3 259.4h0M300.6 256.9h0M301 285.6h0M300.4 292.3h0M300.8 287.5h0M300.8 289.5h0M300.9 292.7h0M301.5 261.6h0M301.7 257.1h0M301 286h0M301.6 287h0M302.3 261.3h0M302.2 254.9h0M302.1 286.1h0M302.1 293.7h0M303.4 259.9h0M303.7 257.8h0M303.7 285.3h0M303.4 286.3h0M304.7 260h0M304.2 257.6h0M304.6 286.5h0M304.3 286.8h0M305.3 260.2h0M305.4 286.7h0M305.6 287.7h0M306.1 260.3h0M306.3 256.8h0M306.5 259.5h0M306 256.3h0M306.2 256.2h0M306.2 287h0M306.1 294.5h0M307.9 262.2h0M307.4 257.6h0M307.8 285.6h0M308.9 259.5h0M308.1 258.7h0M308.8 287.2h0M309 292h0M308 287.7h0M308.3 291.3h0M309.9 258h0M309.5 255.9h0M309 287.3h0M309.2 289.9h0M310 256.7h0M310.7 255.3h0M310.6 286.6h0M310.9 295.6h0M311.3 257h0M311.3 249.6h0M311.4 285.7h0M311.6 286.5h0M312.5 256.5h0M312.8 249.6h0M312.8 281.9h0M312.2 287.8h0M313.1 253.7h0M313.5 247h0M313.3 282.8h0M313.5 286.9h0M314.5 253.9h0M314.5 281.8h0M314.4 283.9h0M316 253.3h0M315.3 283.2h0M315.9 285.3h0M316.7 257h0M316.2 251h0M316.6 283.4h0M316.5 284.4h0M317.3 255.1h0M317.4 253h0M317.4 281.6h0M318.2 258.4h0M318.8 256.6h0M318.1 281.5h0M318.4 287.7h0M319.4 258.4h0M319.1 257.2h0M319.5 284.3h0M320.6 257.4h0M320.1 255.8h0M320.2 253.3h0M320 251.8h0M320.1 285.3h0M320.6 287.5h0M321.7 258.2h0M321.6 285h0M322.7 260.2h0M322.3 286.2h0M322.9 288.8h0M323.5 260.3h0M323.7 254.6h0M323.8 286.7h0M323.3 293.6h0M324.4 259.3h0M325 254.4h0M324.5 286.9h0M325.3 258.1h0M325.8 256.5h0M325.4 285.4h0M325 296.6h0M325.8 287.6h0M325.6 289.5h0M325.9 290.8h0M326.1 258.4h0M326.7 284.6h0M327.5 259.8h0M327.1 258.7h0M327.4 287.2h0M327.9 288.4h0M328.3 259.2h0M328.8 257.2h0M328.8 287.9h0M328.6 288h0M329.3 258.4h0M329.8 258.1h0M329.8 286.1h0M330.5 259.5h0M330.3 287.3h0M330.9 289.8h0M331.7 261.1h0M331.3 256.6h0M331.7 288h0M331.9 289.2h0M332.7 258.2h0M332.8 257.4h0M332.5 287.9h0M333.4 258.4h0M333.7 252.3h0M333.3 286.6h0M333.1 287.4h0M334.9 258.1h0M334.7 252.1h0M334.4 257h0M334.1 254.7h0M334.3 250.7h0M334.1 248.9h0M334.9 287.4h0M334.3 293.4h0M335.1 259.4h0M335.3 257.8h0M335.6 254.3h0M335.2 252.3h0M335.3 249.8h0M335.7 286.2h0M335.6 291.7h0M336.3 257.1h0M336.5 286.6h0M336.1 295.5h0M337.7 257h0M337.2 287.3h0M337 290.9h0M338.1 258.6h0M338.5 252.6h0M338.7 286.2h0M338.4 288.5h0M339.7 256.4h0M339.2 252.9h0M339.8 283.5h0M339.9 288.4h0M340.5 256.2h0M340.4 285.8h0M340.5 290.2h0M341.1 258.6h0M341.1 255.2h0M341.3 285.4h0M341.7 285.7h0M342.9 255.5h0M342.8 253.1h0M342.7 285h0M343.6 256.6h0M343.7 254.8h0M343.3 256.3h0M343.5 250.1h0M343.5 248.2h0M343.1 282.4h0M343.2 283.7h0M344.5 256.6h0M344.6 254.6h0M344.8 284.5h0M344.5 286h0M345.7 259.1h0M345.2 257h0M345.8 283.1h0M345.6 285h0M347 258.5h0M346.7 283.6h0M346 284.5h0M347.8 261h0M347.1 284.2h0M347.7 284.8h0M348.1 261.2h0M348.9 284.8h0M348.3 285.1h0M348.3 286.9h0M348.5 287.4h0M349.1 261.9h0M349.8 283.5h0M349.2 287.9h0M349.5 284.4h0M349.2 288.7h0M350.8 264.4h0M350.2 285h0M350.4 285.4h0M351.7 262.5h0M351.3 258.5h0M351.5 285.1h0M351.7 285.2h0M352.2 263.5h0M352.7 255.3h0M353 287.7h0M352.1 290.2h0M353.8 261h0M353.4 255.4h0M353.3 286.3h0M353.7 291.7h0M354.5 259.8h0M354.5 258.2h0M354.4 288.3h0M354.9 291.4h0M355.1 259.3h0M355.9 258.9h0M355.4 286.2h0M355.7 288.1h0M356.6 257.8h0M356.4 254.5h0M356.6 287.8h0M357.2 257.1h0M357.2 253.9h0M357.6 285.4h0M357.3 291h0M358.5 256.5h0M358.4 255.3h0M358.6 254.9h0M358.5 253.3h0M358.8 287.5h0M358.2 291.5h0M359.8 257.1h0M359.1 285h0M359.8 294.4h0M361 255.9h0M360.6 254.2h0M360.1 284.3h0M360.1 291h0M361.9 256.4h0M362 282.2h0M361.7 287.9h0M362.3 256.3h0M362 282.2h0M363.1 256h0M363.6 254.9h0M363.9 283.5h0M363.4 287.3h0M364.5 255.9h0M364.7 282.8h0M364.8 288.1h0M364.3 282.9h0M364.2 289.2h0M365.9 255.8h0M365.4 280.6h0M365.6 286.3h0M366.6 258.3h0M367 255h0M367 280.7h0M366.1 285.1h0M367 257.7h0M367.7 254.8h0M367.7 252.7h0M367.9 281h0M367.5 283.8h0M368.2 256h0M368.3 254.4h0M368.3 282.7h0M368.6 286.6h0M368.5 284.1h0M368.9 288.1h0M368.8 291.1h0M368.6 293h0M369.7 256.5h0M369.6 283.7h0M369.9 285.6h0M370.2 256.4h0M370.4 253.8h0M370.5 285.1h0M370.9 290.4h0M371 256.8h0M371.9 285h0M371.6 286.7h0M372.7 257.8h0M372.8 250.6h0M372.8 282.9h0M372.6 283.3h0M373.6 258.1h0M373 253.6h0M373.8 286.1h0M373.2 286.2h0M374.2 261.1h0M374.2 253.4h0M374.9 286.7h0M374.2 290.8h0M375.2 259.9h0M375.2 256.8h0M375.1 287.2h0M375.9 291.6h0M375.4 289.6h0M375.1 294.7h0M375.2 295h0M376.5 261.4h0M376.6 253h0M376.5 286.6h0M376.2 290.6h0M377.3 259.4h0M378 258.3h0M377.9 287.1h0M378.9 261h0M378.2 285.9h0M378.7 294.3h0M379.6 258.8h0M379.8 285.9h0M380.7 257.1h0M380.8 254.4h0M380.7 283.2h0M380.6 292.2h0M381.9 257.3h0M381.6 252.8h0M381.1 285.5h0M381.5 290.3h0M382.3 254.8h0M382.2 283.6h0M383.5 253.6h0M383.5 282.6h0M384.1 252.8h0M384 247h0M384.2 282.3h0M384.1 286.2h0M385.5 251.7h0M385.9 247.7h0M385.8 246.9h0M386 282.3h0M385.2 283.6h0M386.8 255.2h0M386.6 252.3h0M386.6 282.9h0M386.3 286.8h0M387.7 254.8h0M387.6 249.5h0M387.5 283.1h0M387.7 289.4h0M388.1 256.1h0M388.4 255.9h0M388.2 287.5h0M388.7 288.1h0M388.6 293.8h0M388.5 295.1h0M389 257.9h0M390 257.5h0M389.3 289.5h0M389.4 290.8h0M390.5 259.4h0M390.5 257.3h0M390 291.3h0M390.4 293.9h0M391.9 261.6h0M391.5 255h0M391.3 289h0M392.2 259.4h0M392.4 258.7h0M392.6 294.5h0M393.8 260.7h0M393.8 256.8h0M393.4 291.7h0M393.6 301.4h0M394.6 257.7h0M394.9 255.9h0M393.9 254.8h0M393.9 253.3h0M394.2 250.8h0M394.1 291.6h0M394.5 295.9h0M394.5 295.5h0M394.4 295.9h0M395.1 258.8h0M395 251.3h0M395.2 288.8h0M395.5 297.6h0M396.5 256h0M396.5 255.3h0M396.8 283.2h0M396.1 290h0M398 255h0M397.3 252.7h0M397 282h0M397.2 285.3h0M398 254.6h0M398.7 279.4h0M398.9 281.5h0M399.5 251h0M399.9 250.2h0M399.6 277.1h0M399.6 277.5h0M400.3 251.6h0M400.1 243.5h0M400.3 247.1h0M400.3 246h0M400.7 275.9h0M401.1 249.3h0M401.2 243.9h0M401.5 277.3h0M401.8 285.1h0M402.3 248.7h0M402.4 276.7h0M402.3 277.1h0M403.2 249.2h0M403.8 247.9h0M403.4 249h0M403 244.6h0M403.1 241.3h0M403.3 240.1h0M403.1 280.9h0M403.8 286.2h0M404.1 250.6h0M404.7 280.9h0M404.5 284.9h0M405.1 282.9h0M404.7 283.5h0M404.9 285.7h0M405.2 250.1h0M405.4 248.6h0M405.9 283h0M405.4 285h0M406.1 251.3h0M406.4 283.5h0M406.8 286.6h0M407.7 255.8h0M407.9 251.2h0M407.3 283.5h0M408 286.4h0M407.5 284.8h0M407.3 288.6h0M407.6 293.3h0M407.6 296.9h0M407.4 297.7h0M408 256h0M408.2 250.7h0M408.8 286h0M409 289h0M409.7 257.4h0M409.6 254.5h0M409.6 282.3h0M409.8 282.5h0M410.4 255.7h0M410.9 284.7h0M411 285.9h0M410.5 285h0M410.3 288.2h0M411.2 254.7h0M411.9 254h0M411.3 283.7h0M411.3 287.2h0M412.9 250.2h0M412.7 282.2h0M412.1 288h0M413.1 249.1h0M413.8 242.5h0M413.9 280.6h0M413.9 285.3h0M414.1 247.6h0M414.7 244.7h0M414.1 276.5h0M415.3 243.3h0M415.2 240.5h0M415.5 278.2h0M416.6 238.8h0M416.9 238.1h0M416.7 277.2h0M416.5 280.8h0M417.9 238.6h0M417 277h0M417.3 283.8h0M418.3 234h0M418.4 275.7h0M418 279.8h0M419.3 233.9h0M419.2 232.6h0M419.6 277.3h0M419.3 281.1h0M421 237.8h0M420.2 233.1h0M420.4 278.3h0M420.3 278.7h0M421.3 246.5h0M421.6 279.1h0M421.5 285.3h0M423 246h0M422.4 236h0M422.8 279.5h0M422.3 280.8h0M423.9 251h0M423 248.9h0M423 250.5h0M423.4 246.4h0M423.1 242.4h0M423.2 278.9h0M424.4 252.9h0M424.2 247.7h0M425 281.2h0M424.1 284h0M425.7 253.7h0M425.8 249h0M425.6 283h0M425.2 288.3h0M426.5 258.1h0M426.7 249.8h0M426.5 284.7h0M426.2 290.8h0M427.9 256.5h0M427.6 248.7h0M427.9 286.4h0M427.8 289.7h0M428 257.2h0M428.7 285.3h0M428.9 286.9h0M429.8 260.8h0M429.2 260.5h0M429.4 288.1h0M429.8 293.6h0M430.1 262.1h0M430.1 261.2h0M430.7 288h0M430.4 293.7h0M431.4 259.8h0M431.5 288.5h0M431.7 292.7h0M430.9 290.3h0M431 295h0M431.2 296.1h0M432.9 260.5h0M432.7 259.8h0M432.3 289.7h0M433 296.9h0M432.7 293.2h0M432.5 294.8h0M433.8 259.8h0M433.1 255.5h0M433.9 288.7h0M433.7 290.5h0M434.8 259.4h0M434.8 257.1h0M435 258.1h0M434.8 254.9h0M434.9 252.5h0M434.7 252.4h0M434 286.5h0M434.4 291.4h0M434.4 288.9h0M434.3 291.1h0M434.5 294.1h0M435.2 261.2h0M435.2 258.2h0M435.3 289.2h0M436.8 258.3h0M436.6 253.6h0M436.6 287.9h0M436.3 291.7h0M437.7 261h0M437.2 259.1h0M437.2 284.4h0M438.2 259h0M438.3 256.6h0M438.7 285.8h0M438.3 288h0M438.6 287.6h0M438.6 289.8h0M439.7 260.6h0M439.6 253.1h0M439 284.8h0M440.5 258.1h0M440.4 254.7h0M440.8 284.5h0M442 257.2h0M441.3 286.1h0M441.2 286.2h0M442.6 253.4h0M442.4 250.1h0M442.5 286.7h0M442.3 287.4h0M443 251.1h0M443.1 249.1h0M443.6 287.6h0M443.4 291h0M444.1 248.2h0M444.7 285.2h0M444.9 293.8h0M445.1 245.8h0M445.9 244.8h0M445 243h0M444.9 242.1h0M445 235.8h0M445.1 231.7h0M445.1 231.4h0M446 286h0M445.3 291.8h0M446.6 242.7h0M446.5 240.5h0M446.3 284.9h0M446.6 289.5h0M447.6 240.8h0M447.5 240.4h0M447.9 284.6h0M447.1 286.2h0M448.5 240.8h0M448.2 237.8h0M448.3 283h0M448.6 284.1h0M449.4 243.2h0M449.1 242.2h0M449.7 281.8h0M449.3 284.3h0M450.7 240.9h0M450 239.5h0M450.6 239.5h0M450.4 236.5h0M450.4 236.1h0M450.1 284.1h0M450.4 284.2h0M451.6 241.1h0M451.7 284.4h0M451.6 288.3h0M452.3 246.2h0M452.5 240.6h0M452.1 292.5h0M453 295.5h0M453.4 250.7h0M453.1 297.4h0M453 299.1h0M454.4 257.3h0M454.8 255.5h0M454.7 298.6h0M454 299.5h0M454.8 300.4h0M454.7 303.4h0M454.8 308.3h0M454.8 308.5h0M455.8 258.5h0M455.9 298.7h0M455.7 302h0M456.8 258.9h0M456.9 306h0M456.9 320.5h0M457.6 259.2h0M457.5 252.9h0M457.8 304h0M457.4 307.9h0M458 256.1h0M458.2 304.3h0M458.3 305.5h0M460 255.7h0M460 242.6h0M459.8 254.7h0M460 249.7h0M459.9 245.6h0M460.1 242.6h0M459.6 239.5h0M460 237.2h0M459.8 234.5h0M459.4 304.1h0M460 304.2h0M460.6 253.5h0M460.9 249.9h0M460.3 300.4h0M461.7 253.5h0M461.7 251.5h0M461.2 297.2h0M461 297.4h0M461 300.3h0M460.9 301.5h0M461.1 307.6h0M461.2 312h0M461.4 314h0M461.2 316.6h0M462.7 257.4h0M462.8 294.9h0M463.5 254.3h0M464 250.5h0M463.6 289.8h0M463.9 289.9h0M465 257.4h0M464.3 250.7h0M464.9 290.4h0M465 294h0M465 293.1h0M464.7 294.2h0M464.8 299.5h0M464.9 301.3h0M465.5 254.4h0M465.8 244.1h0M465.8 292.2h0M465.8 296.9h0M465.2 294.6h0M465.6 296.7h0M465.3 302.9h0M465.5 303.6h0M466.6 255.3h0M466.6 291.2h0M466.8 292.4h0M466.6 295.1h0M466.7 298.7h0M467.1 253.1h0M467.5 247.4h0M467.7 252.7h0M467.8 248.7h0M467.6 245.8h0M467.6 243.8h0M467.8 293.8h0M467.1 301.8h0M468.4 251.8h0M468 248.8h0M468.1 291h0M468.1 305.5h0M469.2 291.8h0M468.8 296h0M468.9 298.9h0M468.7 304.7h0M469.1 306h0M469 308.8h0M469.8 251h0M469.5 250.2h0M469.2 295.1h0M469.5 297.8h0M470.9 250.6h0M470.7 243h0M470.6 296.8h0M470.8 298.7h0M471 252.4h0M471.8 250.3h0M471.9 291.5h0M471.1 294.3h0M472.9 251.7h0M472.1 243.2h0M472.3 289.4h0M473.9 251.9h0M473.1 244.2h0M473.5 251.2h0M473.6 246.8h0M473.7 291.8h0M473.2 298.9h0M474.3 253.4h0M474.5 251.6h0M474.4 288.9h0M474.7 289.4h0M474.2 293.2h0M474.4 295.2h0M475.5 255.3h0M475.2 287.5h0M475.7 292.6h0M476.1 257.3h0M476.1 287h0M476.4 289.7h0M477.7 257.9h0M478 284.2h0M477.6 286.3h0M478.7 258h0M478.1 251.1h0M478 285.8h0M478.8 287.5h0M479.8 255.9h0M479.4 251.3h0M479.7 284.6h0M479.2 293.2h0M480.4 254.6h0M480.6 252.9h0M480.6 250.2h0M480.5 246.4h0M480.6 287h0M480.7 294.2h0M481.5 253.1h0M482 249.4h0M481.1 287.5h0M481.7 287.6h0M482 251.7h0M482 286.7h0M482.4 294.7h0M483.9 251.5h0M483.7 284.8h0M484.5 248.4h0M484.8 246.4h0M484.4 280.1h0M484.6 287.9h0M485 248.3h0M485.2 246.1h0M485.1 277.2h0M485.9 278.8h0M486.6 246.5h0M486.2 242.5h0M486 274.3h0M487.7 246.9h0M487.8 246.4h0M487.2 274.1h0M487.2 275.4h0M488.2 247.8h0M488.3 247.7h0M488.1 273.8h0M488.6 274.4h0M489.5 247.3h0M489 245.3h0M489.4 274.5h0M489.3 278.4h0M490.8 248h0M490.6 244.5h0M489.8 246.8h0M490.1 243h0M490.1 241.2h0M490.3 274.5h0M490.3 278.1h0M491.5 248.8h0M491.2 245.2h0M491.6 276h0M491.1 280h0M492.1 252h0M492.1 277h0M492.9 281.6h0M492.5 280h0M492.1 283.8h0M492.3 285.5h0M493.4 251.7h0M493.2 249.8h0M493.3 277.3h0M493.2 278.6h0M493.6 280.9h0M493.4 284h0M493.5 287.3h0M494.9 252.6h0M494.5 252.6h0M494.7 277.1h0M494.1 281.1h0M494.9 278.1h0M494.3 282.9h0M494.6 285h0M495.1 254.5h0M495.1 249.6h0M495.7 283.5h0M495.9 283.5h0M496.2 255.9h0M496.1 287.4h0M496.3 295.1h0M497.8 258.5h0M497.3 257.2h0M498 292.5h0M497.4 294.4h0M499 259.5h0M498.3 258.1h0M498.8 296.7h0M499.8 263.2h0M499.7 260.1h0M499.7 300.3h0M499.4 308.9h0M500.1 263h0M500.6 262.9h0M501 262.1h0M500.8 256.9h0M500.9 255.5h0M500.3 301.9h0M500.6 309.2h0M500.5 307.3h0M500.3 307.5h0M501.9 267.1h0M502 261.9h0M501.3 302.8h0M500.9 303.1h0M500.9 310.8h0M501.1 311.8h0M503 266.4h0M502.5 264.1h0M502.2 303.1h0M502.3 317.2h0M502.7 303.8h0M502.7 307.4h0M502.4 311.5h0M502.5 312.6h0M503.5 269.6h0M503.2 268.6h0M502.8 263.6h0M503.1 261.1h0M503.1 259.1h0M503.7 306.5h0M503.2 309.3h0M504.4 269.3h0M504.8 262h0M504.6 269h0M504.6 262.7h0M504.3 260.3h0M504.4 259.3h0M504.1 304.4h0M504.8 306.8h0M505.9 270.5h0M505.2 268.1h0M505.8 306.3h0M505.9 307.3h0M506.4 268.3h0M506.6 306.7h0M506.2 309h0M507.8 272h0M507.4 266.1h0M507.1 302.8h0M507.9 318h0M508.5 269h0M508.7 303.3h0M508.2 305.6h0M509.1 269.2h0M509.3 268.4h0M509.6 303.8h0M509.4 315h0M510.4 269.7h0M510.5 302.8h0M511.7 269.2h0M512 263h0M511.9 300.7h0M511.4 300.8h0M512.8 269.4h0M512.5 266.8h0M512.6 301.2h0M512.3 301.2h0M513.4 270.9h0M513.7 268.2h0M513.3 302.8h0M513.8 304.9h0M513.5 304.4h0M513.8 308.9h0M513.7 309.5h0M513.4 312.5h0M513.7 315.6h0M514.8 271.6h0M515 304.1h0M514.8 309.2h0M515 271.2h0M515.6 304.4h0M515.1 310.9h0M516.2 271.4h0M516.9 271h0M516.4 305h0M516.5 307h0M517.4 271.6h0M517.1 270.6h0M517.5 303.3h0M517.7 315.2h0M518.6 272h0M518.7 267.5h0M518.7 302.3h0M518.7 303.1h0M519.2 272.4h0M519.7 268.7h0M520 305.2h0M519.7 311h0M519 307.2h0M518.9 312.4h0M519.1 315h0M520.3 272.2h0M520.8 303.5h0M520.1 306.7h0M521.6 273.9h0M521.6 273.1h0M521.8 304.5h0M521.2 306.1h0M522.2 273.1h0M522.9 306h0M522.1 306.3h0M523.3 271.8h0M523.8 267.1h0M523.7 303.4h0M523.7 305.4h0M524.8 269.9h0M524.4 268.4h0M524.2 302h0M524.9 305.5h0M525.5 270.5h0M525.5 298.2h0M525.6 301.7h0M526.4 270.6h0M526.1 267.2h0M526.5 297.6h0M526.6 304.6h0M526.3 299.6h0M526.3 303h0M526.2 303.3h0M527.4 268.4h0M527.8 265.8h0M527 295.3h0M527.9 299.6h0M528.4 269.5h0M528.1 295.6h0M528.7 297.1h0M528.5 301h0M528.8 303.8h0M528.7 305.9h0M529.6 269.1h0M529 266.7h0M529 292h0M529 300.6h0M530.2 268h0M530.8 267.1h0M530.9 296.3h0M530.4 298.5h0M531.3 267.7h0M531.4 267.7h0M531.8 296.7h0M532.8 268.6h0M532.3 268.3h0M532.9 264.5h0M532.7 263.5h0M532.9 296.3h0M532.5 298.9h0M532.3 298h0M532.3 300.7h0M532.6 301.2h0M533.6 267.5h0M533.4 262.3h0M533.9 295.7h0M534.3 268.8h0M534.5 268.7h0M534.8 296.8h0M534.9 305h0M535.1 266.8h0M535.3 264.4h0M535.9 296h0M535.1 305.1h0M536.4 268.5h0M536.4 267.8h0M536.8 296h0M536.7 298.2h0M537.4 266.8h0M537.5 263.7h0M537.3 295.8h0M538.6 266.5h0M538.7 294.3h0M538.3 305.2h0M539.5 266.5h0M539.5 291.9h0M540.8 264.9h0M541 293h0M540.6 294.9h0M541.7 264.3h0M541.8 290.8h0M541 299.5h0M542.6 262.8h0M542.1 260h0M542.1 290.4h0M543 292.4h0M543.4 261.7h0M543.2 291.3h0M544.3 260.8h0M544.9 260.7h0M544.3 288.3h0M545.4 260.9h0M545.9 255.7h0M545.1 289.1h0M545.1 296.8h0M546.9 261.3h0M546.7 290.2h0M546.6 295.7h0M547.9 260.2h0M547.6 254.7h0M547.6 289.5h0M547.6 289.6h0M548.5 260.6h0M548.3 257.1h0M548.2 288h0M548.6 291.6h0M549.3 261.8h0M549.6 255.5h0M549.8 288.6h0M549.1 293.5h0M550.7 261.2h0M550.2 257h0M550.5 260.3h0M550.5 258.4h0M550.4 257h0M550.7 288.3h0M550.3 293.2h0M551.1 261.9h0M552 289h0M551.7 291.9h0M552.7 263.1h0M552.4 261.4h0M552.3 288.6h0M552.5 293.6h0M553.1 263.5h0M554 262.9h0M553.8 289.2h0M554.6 263.2h0M554.1 260.4h0M554.4 290.4h0M554.7 298.2h0M555.4 263.2h0M555 260.2h0M555.6 290.1h0M556.3 261.7h0M556.3 259.3h0M556.9 289.9h0M556.1 293.5h0M557.7 257.4h0M557.8 256.8h0M557.4 292h0M557.5 294.3h0M558.4 257.7h0M558.1 291.3h0M559 293.2h0M559.6 254.4h0M559.9 252.2h0M559.8 253.1h0M559.7 250.3h0M559.4 246h0M559.5 244.1h0M559.3 290.5h0M559.5 294.1h0M560.8 253.1h0M560.4 241.2h0M560.2 249.8h0M560 247.7h0M560.2 246.4h0M560.1 286.5h0M560.7 288.8h0M561 249.7h0M561.7 245.1h0M561 283.7h0M561.4 285h0M561.5 288.8h0M561.6 289.1h0M562.2 250.9h0M561.8 250h0M562 246.3h0M562 245.8h0M562.2 282.8h0M563.5 252.1h0M563.2 249.2h0M563.9 280.6h0M563.5 286.3h0M564.5 253.1h0M565 245h0M564.7 280.6h0M565 286.2h0M565.8 254.9h0M565.4 250.1h0M565.3 281.4h0M565.8 290.4h0M566.1 254.6h0M566.1 253.2h0M566.5 280.8h0M566.5 289.3h0M567.4 257.5h0M568 252h0M567.8 284.2h0M567.1 285.6h0M568.3 254.8h0M568.7 253.2h0M568.3 284.2h0M568.3 292.4h0M569.4 256.6h0M569.1 254.2h0M569.2 284.7h0M569.8 286.5h0M570.8 255.4h0M570.3 253.2h0M570.2 252.2h0M570.1 249h0M570.3 285.8h0M571.4 253.1h0M571.4 286.9h0M571.8 295.4h0M572.7 254h0M572.9 242.9h0M572.1 286.2h0M572.8 290.1h0M573.7 250.7h0M573.5 248.6h0M573.4 285.6h0M573.8 289.1h0M574.5 253.3h0M574.2 245.9h0M574.7 253.1h0M575.1 247.7h0M574.6 245.6h0M574.8 243.1h0M574.8 240.3h0M574.1 286.1h0M574.3 290.9h0M575.2 250.5h0M575.7 249h0M575.9 248.6h0M575.8 246.9h0M576 244.7h0M576.1 240.7h0M575.7 238.6h0M575.9 236.4h0M575.2 285.8h0M575.4 294.9h0M576.5 246.4h0M576.3 283.1h0M576.7 288.7h0M577.6 244.7h0M577.5 238.5h0M577.1 284.5h0M579 242.6h0M578.6 280.7h0M579 240.2h0M579.6 239.2h0M579.4 239.8h0M579.3 236.2h0M579.2 233.7h0M579.9 280.6h0M581 241.4h0M580.1 283.2h0M580.8 283.6h0M580.8 287.6h0M580.6 289.1h0M581.1 236.9h0M581.9 231.5h0M581.2 281.3h0M581.2 289.6h0M582.8 243.7h0M582.1 238.4h0M582.1 240.4h0M582.6 239.8h0M582.3 236.7h0M582.6 279.7h0M582 289.5h0M583.5 245.6h0M583.5 237.5h0M583.3 280.8h0M583.3 286.5h0M583.5 281.5h0M583.7 284.6h0M583.9 288.3h0M583.6 289.6h0M585 248.2h0M584.1 243.7h0M584.8 280.1h0M585.4 251.9h0M585.4 245.7h0M585.3 282.2h0M586.1 251.3h0M586.4 243.9h0M586.6 281.5h0M586.8 288.4h0M587.8 251.3h0M587.5 248.7h0M587.4 251.1h0M587.2 247.2h0M587.1 245.3h0M587.5 283.8h0M587.7 289.3h0M587.6 286.5h0M587.6 287.2h0M587.3 291h0M587.5 293.7h0M588.7 251.3h0M588.8 281.5h0M588.8 288.3h0M589.4 252.9h0M589.5 283.8h0M589.6 292.4h0M591 251.1h0M590.4 246.8h0M590.1 249.4h0M590.2 244.8h0M590.2 244.5h0M590 281.8h0M591 284.5h0M591.2 250.6h0M591.9 247.3h0M591.4 281.5h0M591.6 284h0M592.1 251h0M592.4 240.9h0M592.5 282.4h0M593.4 247.8h0M593.1 241.9h0M593.8 247.6h0M593.4 242.2h0M593.6 240h0M593.6 282.2h0M593.9 283.6h0M594.9 247.5h0M594.7 280.2h0M594.5 281.2h0M595.2 246.6h0M595.4 238.9h0M595 281.7h0M596.8 243.7h0M597 238.8h0M596.2 280.9h0M596.7 282.4h0M597.8 241.4h0M597.9 239.3h0M597.7 280.2h0M598 285.6h0M599 243.4h0M598.4 234.8h0M598.4 279h0M598.9 279.6h0M599.7 240h0M599.9 278.2h0M599.4 279.8h0M600.8 241.8h0M600.5 277.8h0M600.5 280.2h0M601.5 238.1h0M601.2 237.7h0M601.1 236.3h0M601.2 231.1h0M601.2 231.1h0M601.3 275.5h0M602.4 240.7h0M602.2 230.2h0M602.9 279.9h0M602.8 283h0M603 243.5h0M603.8 283.4h0M603.5 291.5h0M604.9 242.6h0M604.9 242h0M604.8 238.8h0M605.1 235.9h0M605.2 231.6h0M605 230.2h0M604.8 287.8h0M604.7 288.3h0M605 249.1h0M605 242.4h0M605.6 291h0M605.1 293.4h0M605.1 293.3h0M605.3 297.5h0M605.3 298.4h0M605 304.3h0M605.2 305.7h0M606.3 251.1h0M606.3 246.5h0M606.1 294.6h0M607.4 256.5h0M607.2 297.9h0M607.8 311.6h0M607.5 297.9h0M607.2 303h0M607.4 304.7h0M607.6 309.2h0M607.5 311.2h0M608.2 256.2h0M608.4 254.6h0M608.8 294.2h0M609 296.5h0M609.2 257.6h0M609.6 294.5h0M610.9 258.8h0M610.1 289.4h0M610.3 293.1h0M610.3 291h0M610.5 295.1h0M610.2 295.9h0M612 259.5h0M611.9 256.6h0M611.6 288.7h0M612.8 259.3h0M612.3 256h0M612.6 286.9h0M612.9 289.4h0M613.2 257.3h0M613.8 251h0M613.9 282.8h0M613.4 292.1h0M614.8 256.1h0M614.7 252.3h0M614.1 282h0M615 283.4h0M615.2 256.4h0M616 251.7h0M616 279.4h0M616 279.5h0M616.2 253.7h0M616.8 249.4h0M616.2 279.7h0M616.6 280.5h0M617.5 252.2h0M617.3 246.6h0M617.7 281.8h0M617 285.4h0M618.7 252.1h0M618.1 249.2h0M618.2 281.5h0M619.6 250.5h0M619.3 245.2h0M619.5 285.9h0M619.8 288.8h0M620.1 253.1h0M620.3 287h0M620.1 295.9h0M621.2 248.7h0M621.2 284.3h0M621.3 285.3h0M621.2 286.3h0M621.1 289.2h0M621.1 291.6h0M622.7 249.7h0M623 241.8h0M622.7 281.2h0M623.8 250.3h0M623.1 248.7h0M623.9 282.3h0M623.6 285h0M624.4 252h0M624.4 281.4h0M624.3 286h0M625.6 254.4h0M625.5 253.8h0M625.2 281.4h0M626.1 256.8h0M626.1 251h0M626 255.9h0M626.1 250.1h0M626.4 246.6h0M626.2 245.9h0M626.1 284.5h0M626.4 289.7h0M627.4 258.2h0M627.8 253.8h0M627.9 287h0M627.5 295.5h0M628.3 258.6h0M628.3 253.8h0M629 291.5h0M628.7 297.8h0M629.5 259h0M629.6 258.3h0M629.2 257.7h0M629.1 254.2h0M629.3 252.7h0M629.1 293.2h0M629.4 299.1h0M630.9 259.4h0M630.2 255.9h0M630.2 293.5h0M630.9 304.4h0M631 260.5h0M631.7 259.8h0M632 294.9h0M631.2 306.4h0M632.7 260.1h0M632.4 297h0M632.2 303.8h0M633.4 261.3h0M633 255.5h0M633.6 295h0M633.5 296.4h0M633.7 295.3h0M634.2 303.1h0M634 304.6h0M634.1 260.7h0M634.5 258.8h0M634.6 292.3h0M634.2 298.5h0M635.8 259.4h0M635.4 252.8h0M635.7 257.6h0M635.8 255.5h0M635.9 251.8h0M635.5 249.4h0M635.7 247.2h0M635.5 288.4h0M635.9 292.9h0M635.8 290.1h0M636 292.7h0M636 300.9h0M635.8 301.1h0M636 256.9h0M636.8 255.7h0M636.1 256.5h0M636.2 252.7h0M637 285.7h0M636.1 290.8h0M637.6 253.5h0M637.4 249.1h0M637.3 285.4h0M637.9 287.3h0M638.1 253.6h0M638.4 283h0M638.9 283.7h0M638.2 284.9h0M638.1 287.9h0M638 291h0M638.2 294.6h0M639.1 249.4h0M639.1 244.2h0M639.5 279.3h0M639.7 280.4h0M640.1 247.4h0M640.9 244.5h0M640.3 277.4h0M640.7 278.5h0M640.9 282h0M640.5 283.6h0M640.8 285.9h0M641.9 246.1h0M641.6 242.9h0M641.2 275.7h0M641.1 277h0M641.1 277.8h0M640.8 281.6h0M641 283.2h0M642 247.9h0M642.5 241.4h0M642.4 274.1h0M642.8 280.6h0M643.3 245.8h0M644 235h0M643.9 272h0M643.3 278.2h0M644.9 244.8h0M644.4 272.9h0M644.3 275.8h0M645.3 247.5h0M645.9 241h0M645.3 273.5h0M645 275.9h0M646.7 248.5h0M646.2 239.3h0M645.7 246.3h0M646.3 243.5h0M645.7 239.6h0M646 238.7h0M646.7 274.1h0M646.6 275.6h0M646.5 276h0M646.3 278.3h0M647.2 248.4h0M647.9 243.7h0M647.3 276.2h0M647.7 277.1h0M648.5 246.5h0M648.7 245.9h0M648.6 276.5h0M648.3 276.7h0M649 277.1h0M648.8 279.7h0M649.4 250.1h0M649.4 275.4h0M649.8 278.9h0M650.4 243.2h0M650 241.7h0M650.9 276.5h0M650.7 281.6h0M651.7 243.2h0M651.2 239.7h0M651.3 275.4h0M651.6 275.6h0M652.4 238.2h0M652.7 236.3h0M652.3 275h0M652.3 276.9h0M652.3 275.2h0M651.8 280.4h0M652.1 283.5h0M652.1 284.5h0M653.8 234h0M653.3 225.4h0M653.5 275.4h0M653.3 279.1h0M654.2 233.1h0M654.3 227.3h0M655 272.1h0M654.3 272.5h0M653.9 276.4h0M654.2 280.1h0M655.3 236.5h0M655.4 232.7h0M655.2 233.8h0M655.7 232.9h0M655.6 227.7h0M655.4 225.9h0M655.5 223h0M655.6 271.4h0M655.9 277.9h0M656.5 233.2h0M656.8 226h0M656.6 274.3h0M656.2 275.6h0M657.3 231.9h0M657.9 221.9h0M657.3 272h0M658.8 232.1h0M658.6 231.1h0M658 272h0M658.3 281.2h0M659.6 237.1h0M659.7 225.1h0M659 272.1h0M659.4 274h0M659.4 278.8h0M660.3 233.5h0M660.2 274.8h0M660.1 278.9h0M661.5 236.8h0M661.6 228.8h0M661.8 273.6h0M661.3 276.8h0M662.5 235.4h0M662.7 230h0M662.1 235.4h0M662.3 230.3h0M662.1 226.1h0M662 225.9h0M662.7 275.5h0M663 281.1h0M663.9 236.5h0M663.7 231.9h0M663.6 275h0M664.8 239.6h0M664.8 239h0M664.7 273.2h0M665.4 238.8h0M665.8 229.5h0M665.6 273.6h0M665.7 278.6h0M666.4 241.9h0M666.2 241.4h0M666.4 274.1h0M666.7 278.4h0M667.3 236.8h0M667.4 275.5h0M667.6 277h0M668.2 239.9h0M668.6 230.9h0M668.1 275.8h0M668.8 281.3h0M669.6 238.9h0M669.8 236.6h0M669.5 235h0M669.7 232.5h0M669.9 277.3h0M669.8 277.5h0M670.3 239.5h0M670.5 234.1h0M670 276.8h0M671.3 243h0M671.8 234.5h0M671.6 276.4h0M671 281.1h0M670.8 279.7h0M671.3 280.3h0M671 284.1h0M672.7 240.8h0M672 237h0M672.8 278.5h0M672.7 282.4h0M673.9 241.1h0M673.2 232.7h0M673 276.3h0M674.7 245h0M674.8 244.1h0M674.3 243.1h0M674.5 240.5h0M674.3 236.8h0M674.4 235.3h0M675 278.1h0M674.1 280.7h0M675.9 244.1h0M675 244h0M675.6 278.5h0M675.1 281.3h0M676.3 244.1h0M676.4 240.3h0M676.2 277.3h0M676.1 279.7h0M677.6 243.2h0M677.2 276.9h0M677.3 278.6h0M678 240.9h0M678.4 240.6h0M678.4 276.8h0M678.5 277h0M678.2 281.9h0M678.4 282.5h0M679.8 242.4h0M679.9 241.8h0M679.9 273.7h0M679.4 282.6h0M680.9 242.7h0M680.3 239.6h0M680.3 238.7h0M680.3 235.7h0M680.7 231.7h0M680.7 228h0M680.5 227.1h0M680.2 274.7h0M680.5 283.1h0M681.2 239.1h0M681.7 235.9h0M681 273.5h0M681.5 276.8h0M682.2 240.7h0M683 240.1h0M682.2 273.6h0M682.7 275.5h0M682.5 275.7h0M682.2 280.9h0M682.2 281.7h0M683.9 240.9h0M683.2 274.1h0M683.8 276h0M683.3 275.9h0M683.3 277.3h0M684.1 239.3h0M684.1 273.4h0M684.5 277.5h0M685.4 237.9h0M685.5 233.3h0M685.2 272.9h0M685.4 274.4h0M685.1 274.9h0M685.3 277.3h0M686.2 241.2h0M686.5 240h0M686.9 275.7h0M686.8 278.4h0M687.9 237.7h0M687.9 235.4h0M687.1 272.8h0M689 237h0M688.2 274.7h0M689.5 237.2h0M689.6 233.7h0M689.6 276.4h0M689.1 277.3h0M690.7 240.9h0M690.6 278.3h0M690.3 282.9h0M691.5 237.6h0M691.5 276.8h0M691.8 282.7h0M692 242.8h0M692.4 233.7h0M692.2 280h0M692.1 286h0M692.7 282.7h0M692.5 284.1h0M693 245.4h0M693.1 238.3h0M693.3 278.3h0M693.4 278.4h0M694.1 246.9h0M694.6 243.9h0M694.3 282h0M694.4 282.6h0M695.7 247.1h0M695.9 242.9h0M695.7 245.4h0M695.4 244h0M695.3 239.7h0M695.4 239.2h0M695.7 283.2h0M695.9 287.8h0M696.3 249.2h0M696.9 247.1h0M696.4 284.2h0M696.2 290.1h0M697.5 252.9h0M697.5 284.4h0M697.9 288h0M698.8 254.9h0M698.7 248.7h0M698.1 286.1h0M698.3 290.7h0M699.8 254.2h0M699.1 253.6h0M699 287.1h0M699.5 288.2h0M700.5 256.3h0M700.8 249.3h0M701 254.4h0M700.8 251.2h0M701 250.3h0M700.7 246.5h0M700.9 244.4h0M700.2 285.1h0M700.6 289.8h0M701.2 258.1h0M701.8 255.6h0M701.1 288.5h0M701.2 295.5h0M702.3 259.9h0M702.7 252.4h0M702.3 287.7h0M702.6 293.4h0M703.2 258.6h0M703.2 256.5h0M703.1 288.3h0M703.8 288.6h0M704.7 259.3h0M704.8 287.4h0M704.6 290.3h0M705.5 261.3h0M705.5 256.5h0M706 286.8h0M705.2 288.2h0M705.7 288.7h0M706.2 291.7h0M705.9 291.7h0M706.2 260.5h0M707 286.4h0M706.3 287.5h0M707.8 260.6h0M707.2 255.1h0M707 257.4h0M707.2 256.1h0M707.2 253.9h0M707.2 286.3h0M707.5 286.8h0M707.3 291.8h0M707.5 292.9h0M707.6 295h0M708.6 257.7h0M708.8 254.7h0M708.6 254.6h0M708.6 284.7h0M708.1 284.8h0M709.8 257.9h0M709.2 257.3h0M709.2 281.6h0M709.5 291.6h0M709.1 283.1h0M709 285.7h0M709.2 288.3h0M710.8 258h0M710.3 249.7h0M710.5 282.8h0M710 284.7h0M711.3 255.4h0M711.3 255h0M711.8 254.4h0M711.9 252.8h0M711.9 250.6h0M711.5 281.4h0M711.2 284.7h0M712.3 255.8h0M712.8 251.9h0M712.9 280.7h0M712.9 281.4h0M713.8 255.6h0M713.2 278h0M713.2 282h0M713.1 280.5h0M713.1 282.1h0M713.2 284.5h0M713.3 286.7h0M714.7 252.6h0M714.8 250.9h0M714.4 278.7h0M714.7 279.4h0M715.9 252.2h0M715.4 246.6h0M715.7 275.9h0M715.9 282.8h0M716.1 276.5h0M715.6 279.3h0M715.5 284.6h0M715.8 285.5h0M716.3 251.9h0M716.6 251.3h0M717 277.2h0M716.3 280.6h0M717.5 252.9h0M717.8 247.9h0M717.7 278.2h0M717.6 279.9h0M718.9 250.5h0M718.3 247.9h0M718.4 246.9h0M718.6 278.2h0M718.2 279.1h0M719.4 252.4h0M719.6 250.6h0M719.6 277.7h0M719.5 282.6h0M720.5 254.1h0M721 254.1h0M720.9 279.6h0M720.7 281h0M721.6 253.7h0M721.5 280h0M721.1 284h0M722 254.5h0M722.7 248.3h0M722.1 279.9h0M722.5 280.3h0M723.8 254.3h0M723 245.8h0M723.5 278.4h0M723.1 281.4h0M725 257h0M724.1 256h0M724.7 280.7h0M724.9 284.1h0M725.5 252.6h0M725.2 279.1h0M726 251.2h0M726.1 249h0M727.1 250.9h0M727 245.3h0M727.1 240.8h0M726.9 240.7h0M727 280.5h0M726.8 281.5h0M727.6 253.6h0M727.7 249.8h0M727.8 252.6h0M728.1 246.4h0M728.2 243.1h0M727.9 242.7h0M728 280.3h0M727.5 283.1h0M729 250.2h0M728.7 280.7h0M728.5 282.1h0M729.9 253.1h0M729.1 252.4h0M729.8 278.6h0M731 250.7h0M730.7 280.3h0M731.8 253h0M731.4 280.5h0M731.9 281.4h0M730.9 286.7h0M731.1 286.9h0M732.5 251.8h0M732.4 246.3h0M732.9 250.7h0M732.7 245.9h0M732.7 243.2h0M732.6 278.6h0M733.8 253.5h0M733.6 278.7h0M733.2 283.4h0M733.4 280.9h0M733.5 281.9h0M733.2 284.1h0M733.4 286.6h0M735 253h0M734.2 247.3h0M734.7 250.3h0M735 248.1h0M734.9 245.6h0M734.9 242.3h0M734.9 241.2h0M734.5 279.5h0M734.2 281.1h0M736 252.5h0M735.5 245.8h0M735.8 278.5h0M736.8 249.7h0M736.5 244h0M736.1 279.3h0M736.5 281.4h0M737.3 249.2h0M737.4 247.2h0M737.5 245.7h0M737.6 242.5h0M737.4 241.1h0M737.4 237.7h0M737.5 278.9h0M738 249.4h0M738.6 278.6h0M738.3 279.8h0M738.2 281h0M738.3 281.2h0M739.2 244.8h0M739.2 240.7h0M739.2 278h0M739.4 279.9h0M740.6 243.5h0M740.4 241.6h0M740.4 275h0M741.2 245.9h0M741.9 244.7h0M741.4 276.3h0M741.2 279h0M742.1 239.6h0M742.2 275.3h0M742.1 281.4h0M743.2 239h0M743.2 237.9h0M743.4 274.2h0M743.5 275h0M743.5 275.1h0M743.1 282.1h0M743.3 282.5h0M744.3 240.6h0M744.9 273h0M745.4 235.5h0M745.5 233.9h0M745.3 272.4h0M745.2 277.3h0M746.9 237.4h0M746.9 269.4h0M747.4 236.3h0M747.2 233.7h0M747.8 271.6h0M747.6 271.6h0M748.3 237.2h0M748.1 232.3h0M748.7 268.5h0M748.9 272h0M749.4 234.2h0M750 225.4h0M749.9 270.2h0M749.5 271.1h0M750.1 232.4h0M750.6 229.4h0M750.1 270.8h0M750.5 275.8h0M751.7 231.7h0M751.5 227h0M751.6 269.6h0M751.2 272h0M752.8 232h0M752.5 225.3h0M752.4 271.8h0M752.4 275.7h0M753.3 237.7h0M753.9 271.1h0M753.1 276.1h0M753.3 274.2h0M753.5 274.3h0M754.8 235h0M754.4 219.7h0M754.7 272.4h0M754.4 272.9h0M755.1 236.4h0M755.9 235.4h0M755.7 232.3h0M756.2 227.2h0M756.2 223.2h0M756.2 219.6h0M756.2 217.6h0M756 214.2h0M755.9 272.6h0M756.4 233.1h0M756.2 230.2h0M756.7 271.4h0M756.4 274.9h0M758 233.1h0M757.2 230.7h0M757.3 272.8h0M757.6 274.7h0M758.1 233.1h0M758.5 232.9h0M758.1 271.7h0M758.3 274.3h0M759.7 232.9h0M759.6 231h0M760 228.7h0M759.9 225.7h0M759.8 224.9h0M759.6 271.8h0M759.6 275.2h0M759.3 271.9h0M759.8 276.1h0M759.5 276.5h0M760.1 233.9h0M760.6 223.7h0M760.7 270.4h0M760.8 272.7h0M761.5 235.2h0M761.4 270.4h0M761.2 273.4h0M763 237.7h0M762.6 228.2h0M762.8 272.1h0M762.8 277.3h0M763.4 240.7h0M763.7 230.6h0M763.4 271.8h0M764.1 237h0M764.5 222.2h0M765 271.5h0M764.5 272.8h0M764 274.4h0M764.3 275.6h0M764.1 279.1h0M765.4 235.1h0M765 231.6h0M765.3 270.8h0M766 277.1h0M766.5 236.4h0M767 235.8h0M766.8 270.9h0M766.8 274.9h0M766.3 272.3h0M765.9 275.6h0M766.1 276h0M767.3 235h0M767.4 233.2h0M767.7 268.3h0M767.6 268.7h0M768.2 234.2h0M768.2 225.9h0M768.6 268.4h0M769.7 232.7h0M769 227.6h0M769.4 268h0M769.7 270.4h0M770.1 236h0M770.3 235.4h0M770.2 232.1h0M770.3 230.9h0M770.4 228.6h0M770.3 269.8h0M770 274.3h0M770.3 270.9h0M770.3 279.2h0M770.5 279.4h0M771.4 233.7h0M771.3 231.2h0M771.5 233.6h0M771.7 225.9h0M771.7 225.3h0M771.7 266.4h0M772.7 231.8h0M772.4 268.3h0M772.2 271.4h0M773.8 230.1h0M773.3 220.8h0M773.4 267.9h0M773.3 270.5h0M773.9 270h0M773.9 274.2h0M773.9 277.6h0M774 278.3h0M774.9 228.8h0M774.1 226.3h0M774.5 266.1h0M774.7 269.7h0M775.1 225.3h0M775.1 264.3h0M775.1 270.5h0M776.1 227.8h0M776.2 226.5h0M776 266.1h0M777.7 224.9h0M777.5 216.5h0M777.1 263.9h0M777.2 268.3h0M778.2 224.6h0M778.3 221.3h0M778.5 262.3h0M778.4 266.6h0M778.2 264.9h0M778.4 267.2h0M778.6 272.3h0M778.3 273.2h0M779.3 223.3h0M779.7 264.6h0M779.9 266.5h0M780.2 223.7h0M780.5 264.2h0M780.5 268h0M781.6 224.4h0M781.5 221h0M781.2 219.4h0M781.5 216.5h0M781.7 265.1h0M781.4 272.7h0M781.6 268h0M781.8 268.4h0M781.6 272.3h0M781.5 274.9h0M782.1 225.3h0M782.9 221.8h0M782.8 262.5h0M782.9 276.7h0M783.7 227.1h0M783.1 225.3h0M783.2 263.6h0M783.5 269.3h0M783.3 265.4h0M783.5 269.1h0M783.5 272.3h0M783.4 274.9h0M784.2 226.5h0M784.8 223.9h0M784.7 264.8h0M784.1 272.7h0M785.1 225h0M785.6 214.8h0M785.7 261h0M785.7 267.3h0M786 223.6h0M786.7 262.1h0M786.7 265.2h0M787.6 224.3h0M787.3 222.7h0M787.1 264.1h0M787.4 269.1h0M787.1 265.5h0M786.9 268h0M787.1 273.1h0M786.9 278.4h0M787.1 279.2h0M788.4 223.1h0M788.9 222.6h0M788.3 262.5h0M788.3 271.1h0M789 221.9h0M789.1 221.2h0M789.4 263.4h0M789 273h0M790.4 219.5h0M790.4 213.7h0M790 262.7h0M790.1 265.3h0M790.1 266.7h0M790.1 268.8h0M790.3 274.7h0M790.1 275h0M791 218h0M791.2 217.8h0M791.9 262.5h0M791.3 271h0M791.9 263.3h0M791.9 271h0M791.8 272.4h0M792.6 216.2h0M792.2 205.9h0M792.5 256.3h0M793.7 213.8h0M793.1 213.2h0M793.1 261.2h0M794 212.4h0M794.1 208.9h0M794.6 260.9h0M794.5 263.5h0M795.1 210.4h0M795 207.7h0M795.2 255.2h0M795.5 275.2h0M796.8 212.1h0M797 259.3h0M796.8 266.6h0M797.3 208.8h0M797.8 196.2h0M797.2 258.6h0M798.3 204.4h0M798.1 200.8h0M798.7 256.7h0M798.6 258.8h0M799.9 206.1h0M799.5 196.7h0M799.2 258.2h0M800.1 202.3h0M800.8 196.8h0M800.1 252.1h0M800.3 267h0M800.8 253.3h0M801 257.2h0M801 261.3h0M800.9 266.1h0M801 268.7h0M801 269.7h0M801.5 196.8h0M801.6 189.5h0M801.6 194.9h0M801.3 193.7h0M801.4 188.5h0M801.2 185.6h0M801.6 184.6h0M801.8 181h0M801.5 179.3h0M801.4 258h0M801.1 263.7h0M801.7 258.6h0M801.7 264.8h0M801.5 268.5h0M803 197.8h0M802.1 193.6h0M802.3 195.3h0M802.1 192.7h0M802.1 189h0M802.2 188.7h0M801.9 185.7h0M802 182.6h0M802 178.4h0M801.9 174.8h0M802 174.1h0M802.4 258h0M803.4 198.7h0M803.2 190.2h0M803.1 258.1h0M804.5 198h0M804.7 254.2h0M805.7 197.1h0M805.8 192.9h0M805.5 193.3h0M805.8 192.4h0M805.7 189.2h0M805.7 184h0M805.6 182h0M805.8 254.3h0M806.4 199.5h0M806.1 196.3h0M806.2 258.9h0M806.8 263.1h0M807.5 200.6h0M807.4 191.4h0M807.3 257.7h0M807.5 258.6h0M808.1 203h0M808.5 195.9h0M808.8 260.2h0M808.5 265.7h0M808 262.4h0M808.1 266.9h0M808.1 270.4h0M808.3 272.8h0M808.2 275.1h0M809.2 208.4h0M809.5 198.3h0M809.2 255.6h0M809 264h0M810.5 205.1h0M810.1 257.8h0M810.2 261.3h0M810.2 262.5h0M810.2 265.2h0M811.9 206.2h0M811.4 194.2h0M811.9 261.5h0M811.4 267.7h0M813 206.5h0M812 191h0M812.8 262.3h0M812.5 269.7h0M814 206h0M813 199.1h0M813.9 261.5h0M813.5 266.9h0M814.2 206.3h0M814.8 263h0M814 271h0M813.9 266.1h0M814.1 268.9h0M814.2 271.8h0M813.9 275.9h0M814.1 279h0M815.3 205.9h0M815.8 203h0M815.9 258.2h0M815.7 263.5h0M816 206.1h0M816 202h0M816.1 262.4h0M816.1 269.5h0M817.2 209.7h0M817.9 199.4h0M817.4 258.6h0M817.3 261.5h0M818.2 209.6h0M818.4 201.9h0M818.5 261.5h0M818.2 273.7h0M819.5 216h0M819.4 198.7h0M819.9 263.8h0M819.2 269.4h0M820.8 215.3h0M820.8 214.9h0M821.2 210.4h0M820.8 205.5h0M821.2 201.8h0M821 200.9h0M820.8 262.3h0M820.7 278h0M821.4 215.4h0M821.5 264.8h0M821.8 266.7h0M822.7 209.5h0M822.1 195.4h0M822.6 267.2h0M823.5 214.6h0M823.7 268.8h0M823.6 276.7h0M824.5 215.5h0M825 210.2h0M825 215.1h0M824.7 209.7h0M825.1 208.1h0M824.7 204.4h0M825.2 199.4h0M825.1 196.6h0M824.9 194.6h0M824.3 270.1h0M824.1 280.3h0M825.6 218.1h0M826.1 216.9h0M825.9 212.2h0M825.9 208.4h0M826.3 205.7h0M826 203.1h0M826.2 198h0M826.2 195.7h0M825.7 193.2h0M826 191.3h0M825.5 271h0M825 279.3h0M827 210.7h0M826.2 206.2h0M827 278.9h0M826 283.7h0M826.2 280.7h0M826.1 285.4h0M826.1 289.6h0M827 213.5h0M827.4 210.4h0M827.2 284.3h0M827.6 296.7h0M828.8 205.6h0M828.6 288.3h0M828.3 299.9h0M829.9 206.9h0M829 205.8h0M829.1 202.3h0M828.8 197.9h0M829.1 196h0M829.2 192.2h0M828.8 190.4h0M829.3 185.3h0M829.1 181.7h0M828.9 180h0M829 176.9h0M829 174.3h0M829 295.3h0M830 297h0M830.3 201.8h0M830 299.7h0M830.2 308.6h0M830.6 300.8h0M830.6 307.6h0M830.3 308.4h0M830.3 313.9h0M830.4 319.6h0M830.8 323h0M830.5 325.9h0M830.4 331.5h0M830.6 332.1h0M831.1 199.2h0M831.7 298.4h0M832.7 201.4h0M833 309.5h0M833 310.9h0M833 314h0M833 318.5h0M832.8 322.6h0M832.9 324.4h0M833.2 328.5h0M833.1 334.4h0M832.9 338h0M832.9 338.3h0M126 262h0M125.6 264.3h0M126.2 266.6h0M126.2 269.9h0M133.8 263.2h0M133.9 265.5h0M133.7 268h0M134.1 269.7h0M153.3 257.3h0M153.2 259h0M153 262.6h0M153.4 265.6h0M165.1 262h0M164.9 263.5h0M165.2 266.9h0M165.4 269.8h0M174 258.5h0M173.8 260.1h0M173.7 262.5h0M173.8 266.3h0M192.8 259.6h0M193.2 261.3h0M192.9 264.5h0M193.2 268h0M202.7 258.5h0M202.9 259.6h0M202.9 262.8h0M203 265.2h0M212.1 262h0M211.9 264.6h0M212.5 268.2h0M212.1 270.9h0M224.4 259.6h0M224.7 262h0M224.5 264.7h0M224 267.4h0M224.8 269.7h0M234.2 256.6h0M234.2 258.7h0M234.5 260.8h0M234 263.6h0M233.9 265.4h0M240.9 257.3h0M241.2 259.9h0M241.2 261.7h0M240.6 265.4h0M246 247.8h0M245.6 250.6h0M246.3 253.1h0M245.9 255.2h0M245.7 258.8h0M255.1 243h0M255.1 244.2h0M255.5 246.9h0M255.2 250.3h0M254.8 253.3h0M255.1 254.5h0M266.7 243h0M266.3 244.7h0M266.7 248.9h0M266.6 251.6h0M266.9 255.4h0M277.3 235.9h0M277.4 237.7h0M277.1 240.4h0M277.4 242.9h0M277.1 245.4h0M276.9 248.7h0M277.2 251.3h0M281.7 248.9h0M282.1 251h0M281.9 253.5h0M281.5 257.3h0M281.7 259.6h0M293.4 245.4h0M293 247.8h0M293.5 249.5h0M293.1 253.5h0M293.7 256.8h0M300.3 251.3h0M300.4 252.7h0M300.4 255.8h0M300.4 260.4h0M307.6 253.7h0M307.9 255.7h0M307.7 258.8h0M307.3 261.1h0M314.4 241.8h0M314.4 244.4h0M314.3 247.2h0M314.7 249.4h0M314.8 252.6h0M318.7 248.9h0M318.4 250.4h0M318.6 254.4h0M319 257.1h0M329 250.1h0M329.4 252h0M329.1 255.6h0M328.6 258.2h0M344.2 246.6h0M344 248.7h0M343.9 251.5h0M343.9 253.2h0M344 256h0M350.7 256.1h0M350.9 257.3h0M350.6 259.9h0M350.6 263.7h0M359 248.9h0M359.3 250.7h0M358.8 253.4h0M358.7 255.7h0M368.6 247.8h0M368.2 249.4h0M368.8 252.4h0M368.4 256.6h0M378.6 251.3h0M378.2 252.7h0M378.2 255.6h0M378.2 258.9h0M386 241.8h0M385.8 244.5h0M386 247.1h0M386.1 250.1h0M385.7 252.9h0M390 251.3h0M389.9 253.4h0M389.7 255.9h0M390.3 260.5h0M404.5 237.1h0M404.3 239.3h0M404.8 241.1h0M404.8 243.7h0M404.8 245.8h0M404.6 249.7h0M409.6 248.9h0M409.5 250.6h0M409.8 255h0M409.9 257.1h0M414.2 232.3h0M413.8 233.7h0M413.9 237.4h0M413.9 240.2h0M414.5 242.7h0M414 245.5h0M419.1 214.5h0M419.2 215.9h0M419.2 219.1h0M418.8 220.9h0M419.5 224.7h0M419 227.3h0M419.5 229.8h0M419 232h0M418.8 235.5h0M424.2 241.8h0M424.1 243.8h0M424.1 247.3h0M424.2 249.6h0M424 252h0M430.8 251.3h0M430.5 254.5h0M431 257.7h0M430.7 260.3h0M440 248.9h0M439.8 250h0M440.2 253h0M440.3 255.9h0M440.1 258.3h0M446.6 226.4h0M446.6 227.8h0M446.7 231.2h0M446.8 234.1h0M446.5 236.9h0M446.2 239.7h0M446.3 242.5h0M451.8 225.2h0M451.9 227.6h0M452 229.6h0M451.7 232.6h0M452.1 235.9h0M451.5 237.2h0M451.5 240.1h0M451.5 243.5h0M455.1 246.6h0M455.1 248.5h0M455.5 251.9h0M455.4 253.8h0M455.1 256.7h0M454.8 259.6h0M459.7 237.1h0M459.4 239.1h0M459.7 240.7h0M459.5 243.5h0M459.8 247.3h0M459.5 248.5h0M459.4 251.3h0M459.5 253.8h0M463.3 244.2h0M463.6 246.7h0M463.2 250.1h0M463.1 251.7h0M463.4 254.5h0M472.4 237.1h0M472.2 238.2h0M472.1 241.6h0M472.3 243.7h0M472.3 247h0M472.2 248.2h0M472.5 251.2h0M478.4 248.9h0M478.2 251.6h0M478.7 254.1h0M478.8 257.8h0M486.1 235.9h0M486.1 237.3h0M485.8 240.4h0M485.9 244h0M485.9 246.7h0M494.2 243h0M493.9 245.1h0M494 247.6h0M493.9 250h0M494.5 253.2h0M502.4 256.1h0M502.2 258.3h0M502.7 260h0M502.1 263.6h0M502.5 266.2h0M511.7 260.8h0M511.7 263.1h0M512 266.6h0M512.1 268.6h0M518.7 264.4h0M518.4 266.5h0M518.4 269.6h0M518.7 273.2h0M528.4 262h0M528.1 264.1h0M528.7 267.3h0M538 259.6h0M538 260.8h0M537.8 264.4h0M538.1 266.7h0M547.5 251.3h0M547.5 253.5h0M547.7 256.6h0M547.1 259.4h0M553.9 256.1h0M553.6 258.4h0M554.2 261.3h0M554.1 264.2h0M561 235.9h0M561.2 237.1h0M560.8 239.7h0M561.1 242.5h0M561.1 245.6h0M560.9 248h0M560.9 250.3h0M566.2 246.6h0M566.5 249.6h0M566.3 252.7h0M565.9 254.4h0M571.4 244.2h0M571.4 246.5h0M571.5 249.7h0M571.7 252.7h0M571.7 255.3h0M577.1 233.5h0M577.5 235.9h0M577.2 238.5h0M577.4 241.2h0M576.9 244.4h0M577.2 246.9h0M581 220.4h0M581.2 221.7h0M580.7 225.4h0M580.9 228.5h0M581.4 229.9h0M581.1 233.4h0M581.3 235.6h0M581.1 239.2h0M586.3 240.6h0M586.7 242.4h0M586.7 246.4h0M586 248.1h0M585.9 252.2h0M592.1 237.1h0M591.9 239.1h0M592.2 242.1h0M592.4 244.4h0M592.4 248.3h0M591.8 250.7h0M598.2 226.4h0M597.9 228.2h0M598.4 231.1h0M598.6 233.2h0M598.5 236h0M598 238.6h0M597.9 242h0M603 222.8h0M603.1 225h0M602.7 227.9h0M602.9 230.5h0M602.8 232.3h0M603.4 234.3h0M602.8 236.7h0M602.8 239.4h0M607 244.2h0M606.9 246.8h0M606.8 249h0M606.9 252.9h0M606.8 256.1h0M611.6 251.3h0M611.9 253.3h0M612 255.9h0M611.9 260.2h0M621.5 237.1h0M621.9 238.5h0M621.7 242.1h0M621.8 244.3h0M621.2 247h0M621.6 248.9h0M627.8 248.9h0M627.7 250.3h0M628 253.4h0M627.7 255.4h0M627.5 259.3h0M634.8 248.9h0M634.8 250.4h0M635.2 254.1h0M634.4 255.6h0M634.6 258.7h0M643.2 232.3h0M643.4 234.8h0M642.9 237.1h0M642.9 240.1h0M642.8 242.4h0M643.4 245.5h0M649.2 234.7h0M649.2 237.1h0M649 239.9h0M649.1 243h0M649.1 244.6h0M649 248.6h0M653.7 214.5h0M654 216.3h0M653.4 219.1h0M653.8 221.7h0M653.5 223.6h0M654 227.6h0M654 229.8h0M654.1 232.1h0M654 235h0M658.1 215.7h0M657.8 217.1h0M658.3 220h0M657.8 223.5h0M657.9 225.8h0M658.1 228.9h0M658 231.7h0M658.4 235.2h0M665.2 221.6h0M665.3 223h0M665.5 226.2h0M665.5 228h0M665.3 231.7h0M665.3 233.8h0M665 235.9h0M665.5 238.1h0M670.7 222.8h0M670.6 224h0M670.8 227.5h0M670.4 230.5h0M670.5 232.5h0M670.8 236h0M671.1 239.8h0M674.8 231.1h0M674.6 232.7h0M674.6 235.5h0M675 239.3h0M674.7 241h0M674.8 244h0M683.6 225.2h0M683.3 227.2h0M683.5 230h0M683.7 231.8h0M683.3 234.1h0M683.5 237.3h0M683.6 240.1h0M691.7 221.6h0M691.9 223.5h0M691.4 225.9h0M691.5 229.2h0M691.7 231.5h0M691.8 233.6h0M691.9 236.1h0M691.9 239.6h0M695.8 234.7h0M696.1 236.4h0M695.5 239.9h0M695.9 241.9h0M695.9 245.3h0M695.4 248.6h0M699.7 243h0M700 244.5h0M699.8 246.8h0M699.5 250.6h0M699.3 251.7h0M699.8 254.9h0M704.9 251.3h0M705.1 254.1h0M705.2 257.3h0M704.7 261h0M710.4 248.9h0M710.4 251.6h0M710.8 255h0M710.1 257.4h0M718.3 239.4h0M718.1 240.5h0M718.5 243.1h0M718.5 245.8h0M718 248.7h0M718.7 252h0M722.8 245.4h0M722.9 247h0M723.1 250.2h0M723.1 253.3h0M722.4 255.1h0M728.8 235.9h0M728.6 237.8h0M728.7 239.7h0M728.8 243.4h0M728.6 244.8h0M728.8 247.4h0M729.1 250.2h0M734.8 241.8h0M734.4 244.2h0M735 246.4h0M735.1 249.1h0M734.7 252.1h0M743.6 224h0M744 225.2h0M743.3 228.8h0M743.5 231.6h0M743.9 234.7h0M743.9 237.5h0M743.5 240.5h0M752 215.7h0M752.3 218.2h0M752.3 221h0M751.8 222.8h0M751.9 225.9h0M751.6 228.5h0M751.9 231.8h0M752.4 233.9h0M758.7 213.3h0M758.4 216h0M758.8 217.2h0M759 220.4h0M758.9 223.1h0M758.9 226.4h0M758.4 229.4h0M758.8 231.8h0M759 233.4h0M763.8 222.8h0M764.1 225.2h0M763.7 226.8h0M763.4 229.6h0M763.5 232.9h0M763.5 235.9h0M763.9 238h0M768.6 219.2h0M768.6 221.7h0M768.8 223.6h0M768.4 226.3h0M769 230h0M768.7 233.1h0M768.7 235.7h0M776 211h0M776.3 213.5h0M775.9 215.7h0M775.8 218.1h0M776.2 220.1h0M776.4 223.8h0M775.7 226.1h0M789.4 211h0M789.1 213.5h0M789.2 216.1h0M789.1 218.8h0M789.6 220.7h0M789.7 223.3h0M796.7 195h0M796.8 197.2h0M796.9 199.7h0M797.1 202.8h0M796.6 204.4h0M796.4 207.5h0M796.7 209h0M803.5 174h0M803.1 176.1h0M803.5 177.6h0M803.7 181.1h0M803.3 183.4h0M803.3 186.1h0M803.6 188h0M803.2 190.5h0M803.6 193h0M803.5 196.4h0M808.8 187h0M808.9 188.4h0M808.5 190.9h0M808.6 194.4h0M808.5 196.6h0M808.6 198.9h0M808.8 202.2h0M808.4 204.1h0M808.4 206.2h0M824.8 187h0M824.9 188.6h0M824.8 191.4h0M824.4 194h0M825.1 197h0M824.7 199.8h0M824.8 202.5h0M824.7 203.8h0M824.4 207.5h0M824.8 208.9h0M825 212.7h0M825 215.4h0M830.1 175h0M829.7 177.2h0M830.1 180h0M829.7 182.9h0M830.2 183.9h0M830.2 187.3h0M830.5 189.6h0M829.9 192.5h0M829.8 195.3h0M830.3 198.1h0M830.1 200.5h0M829.9 203.2h0M830 206.5h0M829.8 208.7h0M121.4 320.3h0M121.2 317.5h0M121.3 315.8h0M121.2 311.1h0M121.1 308h0M121.3 306.3h0M121.4 301.5h0M127.7 323.8h0M127.4 321.8h0M127.3 319.4h0M127.5 315.9h0M127.4 313.3h0M127.7 309.9h0M128 307.7h0M127.4 304.3h0M133.9 313.1h0M133.6 311.7h0M134.2 306.7h0M133.6 303.5h0M134 301.9h0M133.6 298.1h0M138.9 315.5h0M138.6 312.8h0M138.7 310.3h0M138.5 308.4h0M139.2 305.9h0M138.7 302.7h0M139.1 300h0M138.7 296.8h0M146.1 313.1h0M146.4 311.4h0M145.8 308.6h0M145.9 305.4h0M146.4 301.8h0M146.1 299.4h0M146.3 297.3h0M152.4 316.7h0M152.5 315.3h0M152.2 310.9h0M152.3 308.2h0M152.3 305.3h0M152 300.8h0M152.3 298.3h0M158.9 327.4h0M159 325.9h0M159 322.3h0M158.9 318.7h0M158.7 316.2h0M158.9 313h0M159.1 311.2h0M158.8 308.2h0M159.2 305.4h0M163 329.8h0M162.7 328.5h0M163.2 324.1h0M162.9 321.4h0M162.7 319.1h0M163.1 315.4h0M163.1 312.6h0M163.3 309.3h0M163.3 305.7h0M169.2 325h0M169.4 322h0M169.4 319.5h0M169.1 316h0M168.9 313.8h0M169.3 311h0M169 308h0M169.1 304.4h0M169.3 300.6h0M173.2 322.7h0M173.1 320h0M172.9 317.9h0M173 315.4h0M173.2 312.3h0M173 308.8h0M172.8 306.4h0M173 302.9h0M173.5 299.4h0M180.9 315.5h0M180.6 313h0M180.8 309.8h0M180.7 307.9h0M180.9 304.3h0M180.6 300h0M180.9 297h0M188.8 303.6h0M188.5 301.9h0M189 297.5h0M188.9 294.5h0M189 291h0M196 315.5h0M195.9 314.1h0M196.1 309.4h0M195.8 307.4h0M195.9 303.6h0M196 301.8h0M195.9 297.2h0M202.7 308.4h0M202.8 305.6h0M202.6 302.1h0M202.7 298.9h0M202.5 296.6h0M202.8 294.2h0M208.2 328.6h0M208.3 325.7h0M208.3 324.3h0M208 321.3h0M208.5 318.2h0M208.2 314h0M208.6 311.3h0M208.1 307.9h0M208.1 306.1h0M212.5 322.7h0M212.5 321.5h0M212.8 318.2h0M212.2 314.2h0M212.1 311.4h0M212.8 309.4h0M212.9 306.5h0M212.2 303.5h0M218.6 328.6h0M218.6 326.7h0M218.7 322.6h0M218.3 319.9h0M218.3 316.6h0M218.3 314.7h0M218.3 311.6h0M218.4 308.7h0M221.4 325h0M221.4 323.8h0M221 319.6h0M221.7 317.8h0M221.1 314h0M221.6 310.9h0M221.4 309.6h0M221.3 305.6h0M226 313.1h0M225.8 310.7h0M226.4 308.8h0M226.1 304.8h0M226 302.5h0M225.8 300.4h0M225.6 297.3h0M232.4 325h0M232.4 322.2h0M232.1 319.5h0M232.7 317.2h0M232.5 315h0M232.6 311.4h0M232.5 307.9h0M232.5 306h0M232.5 302.9h0M236.7 317.9h0M236.4 316.6h0M236.6 313.2h0M237.1 310.2h0M236.8 307.6h0M236.6 303.9h0M236.3 302h0M236.7 299.7h0M242.9 313.1h0M242.6 311.1h0M242.6 307.9h0M242.5 304.8h0M242.5 301.4h0M242.7 297.7h0M243.1 294.8h0M250.8 310.8h0M251 309.5h0M250.9 306.5h0M250.6 302.6h0M250.7 299.1h0M250.4 297.6h0M251.2 293.3h0M256.8 296.5h0M256.4 293.8h0M257 291.6h0M256.7 288.8h0M257.2 286.3h0M257.1 283.9h0M265.3 302.4h0M265.5 299.9h0M265.6 296.4h0M265.1 294.1h0M265.2 290.8h0M265.5 288h0M273.4 301.3h0M273.5 298.7h0M273.4 295.6h0M273.1 293.1h0M273 291h0M273.5 287.6h0M279.8 303.2h0M279.9 300.9h0M279.8 298.1h0M279.5 295.4h0M279.9 291.9h0M280 288.3h0M285.5 298.9h0M285.6 296.5h0M285.2 293.1h0M285.7 290.9h0M285.1 288.6h0M292.6 303.6h0M292.7 300.8h0M292.4 298.5h0M292.7 295.6h0M292.6 291.3h0M292.9 287.7h0M299.7 294.1h0M299.5 291.6h0M299.6 287.7h0M299.8 283.9h0M309.3 297.7h0M309.4 296.3h0M309.3 292.4h0M309 287.8h0M309.6 284.5h0M314.4 291.7h0M314.4 290.3h0M314.8 286.8h0M314.7 284.2h0M314.7 281.8h0M326 297.7h0M326.2 295h0M326.3 291.7h0M325.9 289.4h0M326.3 286.5h0M338.6 297.7h0M338.4 294.3h0M338.2 292.2h0M338.8 289.4h0M338.6 285.5h0M347.2 291.7h0M347.5 290.4h0M346.9 285.8h0M347.3 282.6h0M357.4 301.3h0M357.1 298.8h0M357.6 294.9h0M357.1 293.2h0M357.3 288.8h0M357.2 285.6h0M366.3 289.4h0M366.1 286.2h0M365.9 283.2h0M366.3 280.8h0M369.9 294.6h0M369.6 291.5h0M370.3 288.6h0M369.9 285.4h0M369.9 282.4h0M378.8 297.7h0M378.8 295h0M378.7 292.9h0M379.2 288.6h0M378.6 285.6h0M385.2 291.7h0M385.4 289.5h0M385.3 287.3h0M384.9 284.1h0M385.4 280.8h0M393.4 308.4h0M393.3 306.5h0M393.1 303.3h0M393.7 300h0M393.4 297.8h0M393.5 294.6h0M393.7 292.2h0M399.1 287h0M398.9 284.5h0M399 282h0M399.2 277.5h0M408.9 296.5h0M409.1 293.4h0M409.1 290.2h0M409 286.3h0M408.6 283.7h0M417.3 287h0M417.3 284.1h0M417.3 280.6h0M417.2 278.2h0M416.9 273.9h0M423.4 289.4h0M423.2 286.7h0M423.7 284.6h0M423.4 281.6h0M423.6 279h0M431.7 303.6h0M432 301.1h0M431.6 299.2h0M431.5 296.1h0M431.7 292.4h0M431.8 290.2h0M440.6 294.1h0M440.8 292.2h0M440.2 287.9h0M440.9 284.4h0M444.7 298.9h0M445 296.3h0M444.5 293.3h0M444.4 290.9h0M444.7 287.6h0M444.4 285.7h0M450.7 296.5h0M450.7 295.1h0M450.5 290.6h0M451.1 288.5h0M450.7 284.7h0M450.7 282.3h0M454.4 317.9h0M454.1 315.1h0M454.3 311.9h0M454.5 309h0M454 305.6h0M454.6 303.5h0M454.3 298.9h0M454 296.3h0M457.5 325h0M457.8 323.4h0M457.7 320.7h0M457.5 317.4h0M457.3 314h0M457.7 311.9h0M457.2 308.8h0M457.9 305.5h0M457.8 303.2h0M459.3 322.7h0M459.6 319.9h0M459.4 317.4h0M459 314.6h0M459.6 312.4h0M459.6 308.9h0M459.6 306.8h0M459.6 304.2h0M459 300.5h0M464.2 303.6h0M464.3 301.9h0M463.9 298.3h0M464 295.7h0M463.9 291h0M463.8 288.2h0M470.9 314.3h0M470.9 313.1h0M470.7 308.5h0M470.7 305.2h0M470.8 303.1h0M470.8 300.4h0M470.7 296.7h0M470.9 293.6h0M475.6 296.5h0M475.6 293.9h0M475.4 291.4h0M475.9 288h0M475.9 284.5h0M482.1 301.3h0M482.1 298.6h0M482.3 297h0M481.9 293h0M482.2 291.3h0M482.3 287.4h0M481.9 285h0M487.5 282.2h0M487.5 280.3h0M487.8 276.3h0M487.4 272.1h0M494.3 287h0M494.3 285h0M494.1 280.8h0M494 278.3h0M499 316.7h0M499.2 314.3h0M499.4 311.8h0M499.1 309.1h0M498.7 305.3h0M498.7 303.2h0M499.1 300.8h0M498.9 297.6h0M506.1 323.8h0M506.3 321.6h0M506.4 318.3h0M506.3 316.4h0M505.9 313h0M506.1 310.7h0M506 308.2h0M506.4 305.1h0M511.2 313.1h0M511.1 310.6h0M511.5 307.8h0M511.3 305.1h0M511.3 301.4h0M511.2 298.5h0M514.5 317.4h0M514.5 316h0M514.8 312.2h0M514.6 309.8h0M514.7 306.5h0M514.7 303.5h0M514.7 301.6h0M521.5 321.5h0M521.8 319.9h0M521.2 316.5h0M521.7 312.2h0M521.5 309.7h0M521.7 306.7h0M521.5 303.9h0M527.4 306h0M527.3 304.2h0M527.8 301.1h0M527.5 298.1h0M527.3 296.3h0M527.2 292.9h0M534.5 310.8h0M534.5 308.5h0M534.1 304.7h0M534.1 301.9h0M534.2 298.3h0M534.6 294.3h0M542.8 303.6h0M542.8 300.7h0M542.9 299.2h0M542.7 294.9h0M543 293.3h0M542.5 289.9h0M551.9 298.9h0M552.1 296.1h0M551.8 294h0M552.2 291.4h0M551.6 288.2h0M559.1 303.6h0M559.4 301.9h0M559.2 298.1h0M559.1 295.2h0M558.9 292.1h0M558.8 289.5h0M563.5 289.4h0M563.2 286.6h0M563.5 282.9h0M563.7 279.3h0M570.6 297.7h0M570.2 295.3h0M570.5 293.1h0M571 290.7h0M570.5 286.7h0M570.3 284.1h0M578.4 296.5h0M578.1 294.7h0M578.2 290.6h0M578.3 288h0M578.4 284.1h0M578.6 280.8h0M585.4 294.1h0M585.1 293h0M585.7 290.1h0M585.3 285.8h0M585.3 282.7h0M585.2 280h0M591.8 292.9h0M592.1 290.7h0M591.4 288.4h0M591.5 283.8h0M591.5 282.3h0M601.7 289.4h0M601.9 288h0M601.8 283.8h0M602 281.7h0M601.5 279.3h0M602 275.8h0M606.7 315.5h0M606.9 313.2h0M606.6 311.5h0M607.1 307.5h0M606.7 305.4h0M606.4 301.6h0M607 299.7h0M606.7 297h0M606.8 292.8h0M611.2 303.6h0M611.5 301.5h0M611.2 297.6h0M611.6 294.4h0M610.9 291.6h0M611.2 289.9h0M615.4 284.6h0M615.6 282.3h0M615.1 276.6h0M620.7 301.3h0M620.9 298.7h0M620.6 296.4h0M620.5 294.1h0M621.1 291.1h0M620.6 287.1h0M620.5 284h0M625.1 289.4h0M624.9 286.2h0M625 282.6h0M625.4 280.6h0M631.4 313.1h0M631.5 311.6h0M631.5 307.3h0M631.7 305.8h0M631.5 302.7h0M631.4 299.5h0M631.5 296.6h0M637.4 298.9h0M637.4 296.4h0M637.3 292.9h0M637 290.1h0M637.1 288h0M637.5 284.9h0M642.2 282.2h0M642.4 279.8h0M642.1 276.4h0M642.6 274h0M654.3 283.4h0M654.5 281.9h0M654.1 277.5h0M654.2 274.4h0M663.8 284.6h0M664.1 282.5h0M664.1 279.2h0M664.1 277.2h0M664.2 273.2h0M674.9 290.6h0M674.5 288.9h0M675.1 285.9h0M675.3 283.3h0M674.9 280.1h0M675.2 277.4h0M683 282.2h0M683.3 279.8h0M683.3 277h0M683.3 275h0M682.8 272.4h0M694 291.7h0M693.9 289.5h0M693.9 286.7h0M694.2 283.5h0M694 279.8h0M703 300.1h0M703 297.3h0M702.9 294.7h0M702.7 291.9h0M703.3 288.2h0M708.3 294.1h0M708.7 291.3h0M708.4 288.4h0M708.5 285.7h0M708.7 282.8h0M715.4 284.6h0M715.3 283.3h0M715.1 278.6h0M715.4 275.9h0M723.4 287h0M723.7 285.8h0M723.7 282.1h0M723.7 278.7h0M733.7 288.2h0M733.5 286.2h0M733.7 283.2h0M733.4 279h0M743.2 284.6h0M743.4 282.8h0M742.9 280.5h0M743.5 277.2h0M743.2 272.9h0M748.8 279.9h0M748.8 278h0M749 275.2h0M749.2 271.3h0M749.1 267.9h0M761.6 279.9h0M761.3 277.8h0M761.3 274.2h0M761.7 271.6h0M775.9 278.6h0M775.9 275.6h0M776 273.7h0M775.9 270.2h0M775.6 267.5h0M776.2 263.2h0M799.8 279h0M799.7 276.9h0M800.1 273.2h0M799.5 270.6h0M799.9 268.2h0M799.9 265.9h0M799.7 261.6h0M800.1 259.3h0M800.1 255.8h0M800.2 253.5h0M821.5 279h0M821.7 277.4h0M821.4 273.9h0M821.4 272.2h0M821.3 268.3h0M821.7 266h0M821.7 263.4h0M826.1 292h0M825.9 289.9h0M826.3 286.9h0M826.1 284.2h0M826.3 280.8h0M825.9 278.8h0M826 274.5h0M825.8 271.9h0M830.9 295.2h0M830.5 199.3h0M830.6 215.1h0M831.4 208.4h0M830.7 316.5h0M830.8 306.2h0M830.9 309.6h0M831.9 223.4h0M831.7 301.9h0M831.8 291.2h0M832.1 304.9h0M832 203.4h0M832 214.1h0M832.3 194h0M831.5 332h0M832.1 306.1h0M832 314.7h0M832.6 220.9h0M832.7 221.7h0M832.8 305.6h0M832.9 297.9h0M833.1 293.8h0M833.2 209.8h0M832.8 188.8h0M833.1 215.2h0M832.8 310h0M833.3 348.4h0M832.6 314h0M833.5 227h0M834.3 225.1h0M833.7 304.6h0M834.5 305.8h0M833.5 305.5h0M833.5 186.3h0M834.4 206.7h0M834.2 205.4h0M833.7 200.1h0M834.2 327h0M833.9 326.6h0M833.7 317.2h0M834.9 226.5h0M835.4 221.4h0M835.4 306.2h0M835.4 307.8h0M834.7 303h0M834.9 179.3h0M835.2 180.9h0M835 195.2h0M835 214.3h0M834.8 185h0M835.3 349.7h0M834.8 318.9h0M834.9 329h0M834.8 318h0M836.5 216.5h0M836.4 223h0M835.6 310.7h0M836 305h0M836.3 296.1h0M835.8 312.1h0M835.7 303.3h0M835.6 184.5h0M835.9 192.8h0M835.9 205h0M836 200.5h0M836.4 196.2h0M835.8 331.9h0M835.9 337.6h0M835.8 321.2h0M836.4 316.8h0M835.9 343.1h0M837.4 221.5h0M836.7 224.4h0M836.5 228.6h0M837.4 300.8h0M836.7 317.8h0M837.4 315.7h0M837.4 301.8h0M837 300h0M837.2 197.8h0M836.7 187.3h0M837.5 191.2h0M837 198.7h0M837.3 322.1h0M836.6 323.7h0M836.6 330h0M837 328h0M836.6 341.6h0M837.6 218.5h0M837.9 218h0M837.8 226.5h0M838.5 303.6h0M837.7 293.8h0M838.4 291.9h0M837.7 293.9h0M837.6 297h0M837.8 295.6h0M838 209.2h0M838.1 158.5h0M838 188.9h0M838.3 210.2h0M837.9 185.5h0M837.6 321.5h0M837.6 326h0M837.6 364.6h0M838.2 338.2h0M838.2 320.4h0M838.6 221h0M839 226.9h0M838.8 219.4h0M838.9 212.1h0M839.3 305.9h0M838.6 301.8h0M838.8 318.6h0M838.8 298.8h0M838.9 295.1h0M838.5 316.8h0M838.7 190.8h0M839.2 210.1h0M839.1 198.3h0M839.1 181.5h0M838.6 192.9h0M839 200.5h0M839.3 346.5h0M839.2 337.9h0M838.6 340.9h0M838.9 337.5h0M838.6 326.3h0M840.3 209.6h0M839.6 230.2h0M840.2 221.1h0M839.7 225.3h0M839.6 320.9h0M839.8 322.5h0M839.7 302.2h0M839.6 311.3h0M839.7 297.4h0M840.4 300.3h0M839.6 202.7h0M840 185.2h0M839.7 190.3h0M840.4 197h0M840.1 207.3h0M839.8 192.5h0M840.1 346.4h0M840.3 351.3h0M839.8 336.7h0M840.3 366.1h0M839.7 331.5h0M840.6 223.3h0M841.3 227.9h0M840.9 228.3h0M840.9 232.3h0M840.6 312.8h0M841.5 299.9h0M841.4 325.4h0M841.3 306.8h0M841 304.1h0M841.1 323.5h0M840.7 191.1h0M841.2 181.4h0M841.1 143.2h0M841.1 193.2h0M841 160.2h0M841 205.3h0M841.3 349.2h0M840.7 331.3h0M841.2 337.6h0M841.5 348.3h0M840.9 350.1h0M841.1 331.8h0M842 217.8h0M842.4 232.2h0M842.1 227.3h0M842.4 211.9h0M841.9 213.8h0M842.1 321.5h0M841.9 305.2h0M841.8 301.1h0M841.9 325.4h0M842.1 324.6h0M842 315.7h0M842 205.9h0M841.8 177h0M842.3 204.9h0M842.2 154.9h0M842.5 191.3h0M842.4 180.3h0M841.6 152.8h0M841.7 331.9h0M841.7 328.7h0M841.9 370.3h0M842.3 337.1h0M842.2 339.7h0M843.5 211.7h0M843 206.8h0M843.4 208.1h0M843.4 221.7h0M842.7 225.2h0M842.7 298.6h0M842.6 318h0M842.8 324.7h0M842.7 312.8h0M843.1 306.4h0M843.4 201h0M842.5 181.3h0M843.1 166.2h0M842.9 173.4h0M842.5 195.6h0M842.9 187.2h0M842.9 191.9h0M842.7 328h0M843.1 368.4h0M842.8 331.3h0M842.9 328.7h0M842.8 338.3h0M844.1 225.5h0M844.5 208.1h0M843.6 222.1h0M843.6 223.8h0M843.5 216.4h0M843.5 305.1h0M844.3 305.1h0M843.8 312.9h0M843.6 304.7h0M843.9 318.9h0M844.1 315.2h0M843.8 188.8h0M844.3 154.1h0M843.9 179.7h0M843.9 178.5h0M843.6 179.9h0M844.3 200h0M844.4 153.5h0M843.9 350h0M844 334.7h0M843.6 375.3h0M843.9 354.5h0M844.2 402.7h0M844.2 330.9h0M844.9 227.5h0M845.3 224.1h0M845.1 220.5h0M845.1 207.1h0M844.7 211.4h0M845 320.7h0M844.9 300.5h0M844.7 317.4h0M845.4 318.4h0M845 327.5h0M845.4 325h0M844.9 184h0M844.9 183.8h0M845.3 201.7h0M845.1 196.9h0M844.7 179.7h0M844.7 198.8h0M845.2 191h0M845.4 350.2h0M845 349.3h0M844.9 353h0M845 335.6h0M844.8 336.3h0M845.1 356.1h0M845.5 229.3h0M846.1 226.4h0M846.1 233.7h0M845.6 233.3h0M845.5 211.7h0M846.4 210.4h0M845.9 321.4h0M845.7 306.6h0M846.3 317.4h0M846.2 326.8h0M846.4 319.2h0M845.6 310.9h0M846.3 201.7h0M846.4 184.6h0M846 200.4h0M846 166.8h0M845.8 202h0M846.1 200.3h0M846.1 143.7h0M845.7 367.7h0M845.9 342.3h0M846.1 355h0M846.3 333.7h0M845.7 354.3h0M846.2 343.7h0M847.2 205.7h0M846.7 218.6h0M846.6 216.9h0M847.5 208.1h0M847.2 208.4h0M847.3 224.2h0M846.9 303.8h0M847.1 307.4h0M847.4 317.2h0M847.1 323.1h0M847.1 314.1h0M846.9 189.4h0M847.2 187.8h0M846.9 185.9h0M846.7 195h0M846.6 169.6h0M847.2 183.3h0M847.2 158h0M847.4 135.8h0M847.1 344.8h0M847.2 352.9h0M847.2 395.1h0M847.3 340.6h0M847 371.4h0M847 336.1h0M847.7 208.8h0M848.2 221.8h0M847.9 228.4h0M848.4 222.2h0M848.4 210.2h0M848 233.3h0M848.4 322h0M848.4 311.4h0M848.3 329.7h0M847.6 305.8h0M847.7 303.6h0M848.2 160.2h0M848.4 165h0M848.1 186.5h0M847.7 173.7h0M848.1 185.5h0M848.1 196h0M848 173.8h0M848.5 374.5h0M848 345h0M847.5 369.8h0M848.5 352.8h0M848.1 369h0M848.4 337.4h0M849.3 213.2h0M849.4 222.9h0M848.9 227.8h0M848.9 219.6h0M849.4 219.9h0M849.5 330.1h0M849 306.5h0M849 320.9h0M848.9 319.8h0M848.6 309h0M848.7 177.4h0M848.7 199.3h0M849.5 177.8h0M849.4 199.1h0M848.7 195.9h0M849.5 168.7h0M849.1 167.4h0M848.5 177.5h0M848.9 357.5h0M848.6 373.5h0M848.7 364.1h0M849.3 368h0M849 337.1h0M849.2 350h0M850 209.1h0M850.1 231.3h0M849.7 223.9h0M849.7 223.7h0M850.2 233.9h0M850.4 306h0M849.6 330.5h0M849.5 331h0M850 308.3h0M849.8 327.2h0M850.2 331.9h0M849.5 181.5h0M850 188.5h0M850.4 192.1h0M850.2 167.5h0M849.6 177.2h0M850.3 190h0M849.9 133.3h0M850.4 339.2h0M849.5 349h0M850.4 355.1h0M849.7 340.1h0M850 354.1h0M850.2 353h0M850.4 356.6h0M850.6 205.9h0M850.7 223.1h0M850.7 208.2h0M850.5 216.5h0M851.4 208.5h0M851.1 317.6h0M851.2 321.2h0M850.8 317.9h0M851.1 315.5h0M851.1 315.7h0M851 325.6h0M850.6 200.6h0M851.3 185.4h0M850.9 187h0M851.5 181.7h0M850.7 157.4h0M851.4 199.4h0M851.5 176.1h0M851.5 177.4h0M851 337.7h0M850.9 394.6h0M850.8 341.4h0M851.2 396.7h0M850.9 335.1h0M850.6 366.6h0M851.7 211.8h0M852 226.3h0M852.2 220.6h0M851.7 208.2h0M851.6 212.4h0M852.4 321.3h0M851.8 327.5h0M852.1 321.5h0M851.6 330.9h0M851.7 304.1h0M852.4 318.5h0M852.4 186.3h0M852.1 177.5h0M851.9 202.3h0M851.9 175.4h0M852.3 190.7h0M851.9 190.3h0M852.1 203.9h0M851.7 337.5h0M851.7 348.5h0M851.5 351.6h0M851.8 347.6h0M851.9 356.5h0M851.7 341h0M851.9 336h0M852.5 214.3h0M853.5 220.8h0M853.5 226.3h0M852.9 205.9h0M853 223.4h0M852.9 315.8h0M852.6 305.2h0M852.7 328.5h0M852.8 332.3h0M852.8 325.7h0M853.3 318.5h0M853.4 173.1h0M853.2 172.4h0M852.9 171.3h0M852.6 199.8h0M853 159.8h0M853.5 171.8h0M853.2 171.8h0M853 355.7h0M852.9 360.2h0M852.7 359.8h0M853.3 374.6h0M852.6 370.5h0M852.7 344.7h0M853.1 374h0M853.7 213.3h0M853.5 205.5h0M854.4 214.9h0M853.5 229.7h0M854.5 215.1h0M854.1 315.6h0M854.4 321.6h0M854.1 330.5h0M853.6 328.4h0M854.2 320h0M853.7 315h0M854.1 142.7h0M854 193.1h0M854.4 178.8h0M854.4 175h0M854.3 166.4h0M853.6 161.6h0M853.7 162.9h0M853.9 364.1h0M853.7 338h0M853.6 340.6h0M853.9 391.6h0M853.9 369.7h0M853.9 337.9h0M854.3 345h0M855.3 229h0M855.2 232.5h0M855.2 226.7h0M854.7 226.3h0M854.9 207.7h0M855.2 323.6h0M855.4 327.3h0M854.6 324.5h0M854.6 330.4h0M855.5 315.5h0M855.4 319.9h0M854.6 160.6h0M854.8 162.7h0M854.9 180.8h0M855.3 182.3h0M855.3 194.2h0M855.3 199.4h0M854.6 180.9h0M855.5 364.7h0M854.5 360h0M854.7 343.9h0M855.4 362.6h0M854.6 340.9h0M854.7 337h0M854.8 415.9h0M855.7 227.8h0M856.3 207.7h0M855.8 225.8h0M856.3 228h0M855.7 205.9h0M855.8 312.7h0M856.1 310h0M856 319h0M856.3 328.1h0M855.6 313.5h0M855.6 322.3h0M856 155.1h0M856.1 159.8h0M855.8 151.2h0M855.9 178h0M855.9 125h0M855.8 201.9h0M855.7 155.6h0M855.7 347.5h0M856.1 399.9h0M856.5 360.5h0M855.8 347.7h0M856.4 369.8h0M855.5 377.7h0M855.7 340.2h0M856.6 205.9h0M857.4 217.9h0M856.6 215.3h0M856.5 207.1h0M856.7 204.4h0M856.6 320.6h0M856.7 307.6h0M856.7 321.4h0M856.9 319.6h0M856.5 314.4h0M857.1 310.5h0M857.3 187h0M857 166.9h0M857.2 171.4h0M856.5 162.3h0M857.3 195h0M856.9 189.5h0M857 196.2h0M857.2 345.8h0M856.5 342h0M857.5 346.9h0M857.4 338.8h0M856.9 345.9h0M857 355.4h0M856.6 340.2h0M856.7 372.9h0M858 216.7h0M858.1 206.7h0M857.8 222.9h0M857.6 204.3h0M857.7 219.6h0M858.3 319.2h0M857.6 314.3h0M858.4 331.4h0M858 314h0M858.1 323.8h0M857.9 171.3h0M858.3 145.7h0M857.9 182.5h0M857.5 132.3h0M858.4 182.4h0M857.7 193.7h0M858.2 145.4h0M858 190.6h0M858.2 374.6h0M858.2 386.5h0M858.1 376.6h0M858.4 357.1h0M857.7 371.3h0M858 387.9h0M857.8 379.1h0M859.3 222.4h0M859.3 216.4h0M858.6 215.3h0M859 218h0M859 211.5h0M859.2 314.4h0M858.6 321.3h0M858.8 307.8h0M859.2 331.8h0M859.4 331.1h0M859.2 316h0M858.8 143.1h0M859.1 169.2h0M859.2 178h0M858.6 191.4h0M858.8 203h0M858.6 150h0M858.6 171.9h0M859.1 148.4h0M859.2 367h0M859 376.2h0M858.7 342.3h0M858.6 356.8h0M858.6 370.8h0M858.5 372.7h0M859.4 376.2h0M860.4 216.9h0M859.5 225.5h0M859.7 227.3h0M859.6 223.4h0M860.3 227.4h0M860 316.7h0M860.4 321.6h0M860.4 334.6h0M860.2 324.8h0M860.4 314.3h0M860.4 311.7h0M859.6 129.9h0M860.4 179.7h0M859.6 193.7h0M860.5 169.9h0M859.8 180.8h0M859.7 176.9h0M860 194.7h0M860.2 393.9h0M859.8 340.3h0M860.1 349.2h0M859.8 358h0M860.4 369.9h0M860.3 340.9h0M860 376.6h0M859.9 361.4h0M861.2 206.4h0M860.7 217.5h0M861.5 205.3h0M861.3 205h0M860.9 213.1h0M861.4 323.6h0M860.9 310.7h0M860.6 326.9h0M860.9 314.3h0M860.7 321.4h0M861 335.4h0M861.2 145.3h0M861.2 171.9h0M861.2 145.8h0M861.1 197.9h0M860.6 192.3h0M861.2 178h0M861 174.1h0M861.3 341h0M860.6 351.6h0M861.4 431.4h0M861.2 357.9h0M860.6 343.2h0M861.4 375.5h0M860.9 354.1h0M861.2 400.5h0M862.4 232h0M862 219.4h0M862.4 210.7h0M861.6 213.9h0M862.3 218h0M861.7 317.2h0M862.1 319.4h0M862 308.9h0M862.3 335.4h0M861.7 332.8h0M862.1 326.7h0M862.2 202.4h0M862 173.7h0M862.4 177.1h0M861.7 187.3h0M862.5 154.9h0M861.5 183.8h0M861.9 162.4h0M862.3 199.4h0M862.4 366.1h0M861.8 341.7h0M862.5 352h0M861.8 348h0M862 395.4h0M861.6 377.4h0M862.4 353.5h0M861.7 364.8h0M862.8 214.1h0M863 206.7h0M863 232.5h0M863.5 217.9h0M863.4 227.6h0M862.8 213.1h0M862.7 333.1h0M862.5 327.8h0M863.2 324.7h0M863.3 313.7h0M863.4 327.2h0M862.7 189.7h0M862.9 192.4h0M862.9 159.8h0M863 158.1h0M863.1 133.5h0M862.7 187.3h0M862.9 190.9h0M863.5 137.1h0M863.3 349.3h0M862.6 351.2h0M863 341.6h0M863.5 370.4h0M863.4 356.5h0M863 366h0M862.7 360.4h0M862.6 367.7h0M864.4 207.3h0M863.5 226.7h0M863.7 228.5h0M863.6 210.7h0M863.6 207.2h0M864 312.3h0M864.4 328.2h0M864.5 337.2h0M863.6 323.1h0M864.4 323.7h0M863.8 313.1h0M864.5 197.1h0M863.8 150h0M864.3 134.3h0M864.1 175.4h0M864.3 190.5h0M864.2 186h0M863.6 184h0M864 339.5h0M864.4 352.9h0M863.8 372h0M863.6 395.1h0M864 340.8h0M864.2 366.2h0M863.5 355.6h0M864.1 377.6h0M865.4 204.7h0M864.7 232.8h0M864.9 227.4h0M865 227.8h0M864.8 233.6h0M864.8 329.3h0M864.9 323.7h0M864.8 329.3h0M865.2 325.5h0M864.8 338.2h0M865.3 188.7h0M865.4 117.5h0M865.3 148.9h0M865.4 185.6h0M864.6 176.6h0M865.3 203.6h0M865.1 184.4h0M865.4 362.5h0M865.2 382.9h0M864.6 366.4h0M865.2 430h0M865 340.6h0M865.2 367.5h0M864.7 368.6h0M865 354.1h0M864.8 397h0M866.4 222.6h0M866.3 206.3h0M865.5 221.5h0M865.9 214h0M866.2 212.5h0M865.7 312.5h0M866.3 329.7h0M865.5 337h0M865.9 313.1h0M865.9 315h0M865.5 320.6h0M866.2 143.2h0M865.9 178.8h0M866.5 201.5h0M866 203.2h0M866.4 200.9h0M865.7 161.6h0M865.9 147.2h0M865.5 147.9h0M865.6 349.4h0M865.6 415.5h0M866 371.8h0M865.6 361h0M865.7 345.2h0M866 355.7h0M866 359.1h0M866.2 362.4h0M865.6 379.4h0M867.4 214.8h0M867 226.4h0M866.9 214.3h0M866.6 209.1h0M866.9 213.3h0M867.5 320.7h0M867.4 328.8h0M867.1 326.9h0M866.8 337.5h0M866.6 330.5h0M867 200.3h0M867.3 134.5h0M866.7 160.7h0M866.7 152.4h0M867.2 196.2h0M866.7 197h0M866.9 193.8h0M866.7 371.1h0M867.2 347.7h0M866.9 354.1h0M867.3 360h0M866.5 380.6h0M867.1 361.7h0M866.9 351.6h0M866.7 379h0M866.8 377.3h0M868.3 232.6h0M868.3 223.9h0M867.8 214.7h0M868.2 215.8h0M868.2 227h0M867.8 231.1h0M867.9 333.9h0M868.3 323.5h0M868.2 329.9h0M868.1 338.4h0M868.2 315.2h0M868.4 315.2h0M868.2 178.2h0M868.2 133.7h0M868.4 184.9h0M868 162h0M867.9 188.5h0M868 200.5h0M867.6 167h0M868 364.7h0M868.3 351.7h0M867.9 346.5h0M868.3 367.3h0M867.6 344.5h0M868.3 368.3h0M867.5 367.8h0M868.1 383.7h0M869.4 229.1h0M868.7 220.7h0M869.3 209.5h0M869 211.8h0M869 232.9h0M869.4 324.5h0M868.8 329.6h0M868.7 322.7h0M869 325.7h0M869.1 322.2h0M868.6 335.5h0M868.9 179.4h0M868.8 198.6h0M868.5 200h0M869.2 154.4h0M868.5 188.3h0M868.9 148.4h0M868.8 165.7h0M868.5 345.9h0M869.2 356.8h0M868.9 365.2h0M869.3 361.7h0M869.2 392.2h0M868.5 388.9h0M869.1 360.8h0M869.1 368.4h0M870.2 212h0M870 228.8h0M870.1 219.5h0M870 232.5h0M869.7 210.1h0M869.6 312.6h0M870.3 322.4h0M870.4 310.8h0M870.1 327.9h0M870.3 337.3h0M870.4 335.8h0M870.3 203.1h0M870.4 197h0M870 202h0M869.7 145.7h0M870.5 141.3h0M870.2 166.3h0M870.4 193.6h0M870.1 376.2h0M869.8 376.9h0M869.9 405.2h0M869.7 364.4h0M869.6 365h0M869.5 342h0M870.4 354.4h0M869.6 354.4h0M870 345.3h0M871.2 217.3h0M870.7 210h0M871.2 226.5h0M870.8 204.4h0M871.5 205.8h0M870.7 330.8h0M870.8 332.4h0M870.7 319h0M871.1 318h0M871.4 315.4h0M871 312.1h0M871 202.7h0M871.1 111.1h0M871.2 190.7h0M871 193.9h0M871.2 176.9h0M870.7 142.2h0M871.4 163.4h0M871 357.9h0M870.5 346.2h0M870.5 351.3h0M871.1 397.7h0M870.7 366.4h0M871.1 389.8h0M871 402.3h0M871.5 385.5h0M871.8 230.9h0M872 226.3h0M872.3 228.8h0M872.2 230.1h0M872.1 230.5h0M871.7 336h0M871.6 329.1h0M872.1 322h0M871.6 330.2h0M872.3 338.4h0M872.4 327.2h0M871.7 185.6h0M872.1 199.2h0M872.1 187h0M872.3 130.1h0M872.2 200.5h0M871.7 174.2h0M872.2 201.7h0M872.5 388.8h0M871.6 372h0M871.9 377.8h0M872.4 364.3h0M872.2 347.7h0M872.2 365h0M872.4 363.3h0M871.8 413.1h0M871.6 391.6h0M873 230.9h0M872.8 228.4h0M872.7 230.1h0M873.5 224h0M872.9 209.6h0M872.5 328.7h0M872.5 333h0M873.4 315.6h0M873.4 328.4h0M872.5 335h0M872.9 312.1h0M873.2 121.6h0M873.1 176h0M873.1 181.8h0M872.8 158.1h0M872.5 195.8h0M873 200.9h0M873.5 165.9h0M872.9 137.9h0M872.7 370.1h0M872.7 366.5h0M873.1 370.7h0M873.5 417.7h0M873.4 349.5h0M873.5 399.9h0M873.4 356.3h0M872.6 359.8h0M873 447.2h0M873.8 208.3h0M873.6 204.5h0M874.2 231.3h0M873.7 204.4h0M874.2 228.8h0M874.1 337.6h0M874.3 313.8h0M874.2 315.1h0M873.7 331.4h0M874.3 328.6h0M873.7 312.4h0M874.1 192.6h0M874.4 177.4h0M874 141.5h0M874 151.6h0M874.2 191.8h0M873.8 203.1h0M874.5 180.4h0M874.4 391h0M874.2 356.8h0M873.7 361h0M874.5 348.4h0M873.6 359.5h0M873.9 345.6h0M874.4 384.9h0M873.8 404.6h0M873.6 368.8h0M874.9 226.7h0M875.3 211.4h0M874.7 217.8h0M874.9 216h0M875 206.6h0M874.9 335.8h0M875 334.7h0M874.8 329.9h0M874.5 326h0M874.6 333.9h0M875.3 320.2h0M874.7 193.2h0M875.1 192.9h0M874.8 149.6h0M875 156.1h0M875.2 193.3h0M874.7 201.1h0M875.3 169.5h0M874.5 340.5h0M874.5 384.2h0M874.6 427.1h0M874.7 343.2h0M875.5 366.9h0M875.4 357.9h0M875.1 356.1h0M875.3 350h0M876.2 227.8h0M875.8 224.8h0M876 213.4h0M875.7 226h0M875.8 215.5h0M876 313h0M875.6 312.1h0M876 323.7h0M876.2 332.8h0M876 338.5h0M876.5 316.5h0M876.1 192.6h0M875.5 178.1h0M875.5 191.1h0M876.2 194.7h0M876.1 180.4h0M876.1 194.9h0M876.3 158.4h0M876 370.7h0M875.6 345.3h0M876.4 345.1h0M876.5 353.9h0M876.2 373.5h0M876 351.4h0M875.8 349h0M875.8 356.7h0M876 414.9h0M877.3 230.2h0M876.8 228.8h0M876.6 218.8h0M877.1 219.6h0M877.3 215.8h0M876.7 313.6h0M877.3 338.6h0M877.3 318.2h0M877 319.5h0M876.6 319h0M877.2 339.5h0M876.8 115.4h0M876.5 203.9h0M876.6 201.5h0M877.2 174.9h0M876.9 197.7h0M877 190.2h0M876.8 202.4h0M876.5 399.8h0M876.6 356.2h0M877.3 348.3h0M877.4 351.9h0M876.9 394.7h0M876.7 379.4h0M876.9 345.3h0M877.3 366h0M878 217.2h0M878.4 211.3h0M877.5 233h0M878 206.7h0M877.7 231.2h0M877.9 311.7h0M877.9 312h0M878.3 315.2h0M878.3 314h0M877.8 321.5h0M877.7 329.9h0M878.4 167.3h0M878.3 184.2h0M878.4 169h0M877.5 189.5h0M878.4 182h0M878.3 124.3h0M877.8 195.2h0M877.5 382.6h0M878.3 376.1h0M877.6 356.7h0M877.8 393.2h0M878.2 386.8h0M877.9 372.9h0M877.6 389.4h0M877.8 377.1h0M878 391.4h0M879.3 217.8h0M879.3 215h0M878.5 216h0M878.5 227h0M878.9 216.6h0M878.6 212.6h0M878.7 322.6h0M879.3 320h0M879.3 318.4h0M878.5 322.2h0M878.8 313.8h0M878.7 182h0M879.2 186.3h0M879.4 163.2h0M879.1 186.8h0M879.4 173.1h0M879.2 186.3h0M879.3 188.3h0M878.6 360h0M879.2 344.3h0M879.3 373h0M879.1 349.6h0M879.1 349.5h0M878.8 376h0M878.7 404.5h0M879.1 368.8h0M878.5 351.1h0M880.2 210.2h0M879.7 226.3h0M880.4 215.8h0M879.9 219.5h0M880 224.8h0M880.2 323.5h0M880.1 334.6h0M880.3 336.6h0M880.2 337.8h0M879.8 339.8h0M880.3 338.2h0M880.3 200.5h0M879.5 153.1h0M880.4 181.5h0M879.6 154.3h0M880.3 155.5h0M879.5 191.4h0M879.8 191.7h0M879.8 348.6h0M880.3 364.4h0M879.8 357.7h0M880.5 343.4h0M879.7 382.6h0M880.2 353.2h0M880.1 368.6h0M880.2 350.1h0M879.7 369.7h0M880.6 228.1h0M880.6 215.1h0M881.3 220.9h0M880.8 228.8h0M880.7 220.3h0M881.3 324.7h0M881.3 335.3h0M881.3 320.3h0M880.8 340h0M880.7 339.6h0M881.3 329.6h0M880.6 173.6h0M880.7 162h0M881 192.6h0M880.7 147.2h0M881.3 186.2h0M880.5 185.7h0M881.4 202h0M880.7 369.4h0M880.8 386.9h0M881.2 347.5h0M880.8 395.7h0M881.1 356.3h0M881.4 368.7h0M881.2 364.4h0M880.6 418.3h0M881.6 206.6h0M882.1 211.4h0M881.7 219.2h0M881.7 212.1h0M881.6 225.3h0M882.4 327.6h0M882.1 338h0M881.6 323.1h0M882.4 332.9h0M881.7 315h0M881.7 336.4h0M882.2 193.4h0M881.6 179.9h0M881.6 163h0M882.1 183.3h0M882.5 135h0M882 184.6h0M882.1 193.3h0M881.8 169.6h0M882 368.6h0M882.4 411.8h0M882.4 342.4h0M882.1 366.9h0M882.4 341.8h0M882.2 359.7h0M881.5 383.4h0M882 361.6h0M882.8 220.5h0M883.2 222.6h0M883.3 230.8h0M883.2 213.2h0M882.8 231h0M882.9 312.4h0M882.9 337h0M883.2 315.5h0M883.1 328.5h0M883 333h0M882.9 313.8h0M882.9 196.2h0M882.7 174.4h0M883.1 166.2h0M882.6 183.4h0M883.1 169.3h0M882.6 183.5h0M883.3 153h0M882.5 199.6h0M883.2 392.1h0M883.1 369.2h0M883.4 355.4h0M882.9 368.5h0M882.7 358h0M882.6 350.5h0M883.1 376.6h0M882.6 348.8h0M883.9 209.8h0M883.9 205h0M883.7 204.7h0M884 204.9h0M883.9 223.7h0M884.3 328.3h0M884 326.9h0M883.6 325.1h0M883.8 334.6h0M884.3 330.4h0M884.1 311.7h0M884.3 201.8h0M883.9 160.1h0M883.7 150.4h0M884.4 170.3h0M884.1 172.8h0M884.2 184.5h0M883.9 174.7h0M883.6 200.3h0M883.9 396.8h0M884.3 404.3h0M884.3 417.3h0M884.4 359.4h0M883.9 355.9h0M884.5 353h0M883.9 365.6h0M884.3 347.9h0M885.4 219.7h0M885.3 215.9h0M885.1 234.4h0M885.3 214.4h0M884.9 231.8h0M884.9 328.4h0M884.9 313h0M885.2 321.2h0M884.9 311.9h0M884.6 316.8h0M884.8 324.5h0M885 143.2h0M884.7 168.9h0M885.5 201.5h0M885.2 162.6h0M885.4 203h0M884.5 155.9h0M885.2 153.9h0M884.9 363.8h0M885 381.7h0M885.2 393.4h0M884.7 346.2h0M885.3 403h0M885.3 361.5h0M885.2 391.4h0M885.5 344.2h0M885.3 374.3h0M885.7 219.5h0M886.4 214.9h0M886.4 225.5h0M886 232.5h0M885.9 217.7h0M886.4 316.2h0M886.4 319.5h0M886.1 318.9h0M885.9 329.9h0M885.5 311.9h0M886.4 160.6h0M886.1 156.7h0M886.4 185.4h0M886.4 180.6h0M886.1 191.6h0M886.5 174.9h0M886.3 199.1h0M886.2 355.7h0M886.4 348.7h0M885.6 359.4h0M885.6 351.6h0M885.9 385.7h0M885.6 365.3h0M886.1 346h0M885.9 376.7h0M885.9 344.4h0M886.7 229.1h0M886.7 221.7h0M886.7 209.1h0M887.1 229.5h0M887.2 215.9h0M886.7 330.6h0M887.4 314.7h0M887.4 322.7h0M887.4 326.2h0M887.5 330h0M887.1 314h0M887 199h0M886.9 130.3h0M887.1 173.8h0M887.1 164.6h0M887.2 162.1h0M887.5 168.9h0M886.7 179.5h0M887.4 394.1h0M887.3 349.1h0M887.4 375.5h0M887.4 363.5h0M886.7 399.6h0M887 340.5h0M887 365.7h0M887.1 364.6h0M888.2 205.7h0M888 205.5h0M888.5 213.9h0M887.7 231.7h0M887.8 205.9h0M888.3 332.8h0M888.1 335h0M887.6 339.9h0M888.2 335.2h0M888.1 335h0M887.7 335.3h0M887.5 156.7h0M887.9 195h0M888.2 150.6h0M888.4 159.5h0M888.2 156h0M887.7 180.2h0M887.6 203.6h0M887.9 363.8h0M887.9 402.7h0M888 342.5h0M887.5 364h0M888.1 383.6h0M888.3 354.9h0M887.6 397.8h0M888.5 345.7h0M889.4 215.8h0M888.9 216.4h0M889.1 217.8h0M889.4 219.1h0M889.2 228.2h0M889.3 317h0M889.1 312.1h0M888.7 330.1h0M889.2 314.9h0M888.6 317.2h0M889 339.1h0M889.3 177.7h0M888.9 123h0M888.7 196.5h0M888.9 181.2h0M889 149.2h0M889.2 153.7h0M889.5 194.2h0M889 181.9h0M888.7 348.1h0M888.6 370.4h0M888.9 356.1h0M888.6 366.6h0M888.6 377.3h0M889.4 353.2h0M889.1 360.7h0M888.8 377h0M890 218.9h0M890.3 213.8h0M890.3 206.4h0M890.2 218.6h0M889.8 209.9h0M890.4 334.5h0M890.4 335.8h0M890.4 327.9h0M890.2 337.7h0M889.6 339.4h0M889.5 187.8h0M890.2 172.7h0M889.9 197.5h0M889.8 157.5h0M890.3 186.8h0M890 116.5h0M889.9 179.8h0M889.6 356.8h0M889.8 344.7h0M889.8 369.5h0M890.2 370.6h0M889.7 363.5h0M889.7 366h0M889.8 345.3h0M889.5 448.8h0M891 214.9h0M891.5 219h0M891.2 232.8h0M891.2 212.6h0M891.1 234.3h0M890.8 206.5h0M890.5 333h0M890.6 330.5h0M891.3 330.7h0M890.8 323.5h0M891.3 337.1h0M891.2 320.2h0M891.3 186.4h0M891 190.4h0M891.1 172.2h0M891.2 134h0M890.6 173.5h0M891 158.5h0M891.3 184.6h0M890.8 402.8h0M891 352.6h0M890.5 400.3h0M890.7 345.4h0M891 378h0M890.5 341.1h0M890.9 371.4h0M890.5 390.4h0M890.8 382.8h0M892.4 223.4h0M891.9 213.8h0M892 231.9h0M892.2 205.4h0M892.2 218h0M891.9 317.7h0M891.7 314.3h0M891.8 313.5h0M892.1 334.9h0M892.3 321.5h0M892.1 311.3h0M892.3 156.2h0M891.7 148.7h0M891.7 196h0M892 193.4h0M892.2 179h0M892.1 155.1h0M891.9 176.1h0M891.5 384.3h0M891.9 362.5h0M891.8 346.3h0M892.1 378.3h0M892.4 404.7h0M892.3 398.3h0M892 362h0M892.2 361h0M891.5 377.7h0M893 218.6h0M892.9 205.5h0M892.8 210.3h0M892.5 211.8h0M892.6 229.6h0M892.8 329.4h0M893.5 336.5h0M892.7 331.5h0M893.5 311.8h0M893.4 332.2h0M892.6 312.3h0M892.6 167.4h0M893.3 173.6h0M893.5 156.9h0M893.5 151.8h0M892.5 181.2h0M893 163.8h0M893.1 171.7h0M892.8 373.4h0M892.5 357.7h0M892.9 352.8h0M893 377.5h0M892.5 347.1h0M893 342.1h0M892.7 425.1h0M892.8 354.7h0M893.7 227h0M894.4 226.6h0M894.2 230.4h0M893.9 229.9h0M894.1 204.7h0M893.7 225.8h0M893.6 325.6h0M894 316h0M893.8 309.6h0M893.8 329.1h0M893.6 326h0M893.8 335.9h0M894 201.5h0M894.4 195.9h0M893.9 169.9h0M893.8 170.1h0M894.4 176.6h0M893.8 171.5h0M894.1 160.4h0M893.5 390.3h0M893.8 371.6h0M894.3 378.8h0M894.2 363h0M893.7 367.6h0M894 371.6h0M894.3 345.7h0M894.1 453.8h0M894.9 220.6h0M894.6 208.8h0M894.9 229.1h0M895 228h0M895 213.9h0M894.7 334.3h0M894.8 310.3h0M894.6 313.3h0M895.2 317.2h0M895.3 328.3h0M894.8 315.4h0M894.5 166h0M895.3 175.1h0M894.6 141.4h0M894.6 182.8h0M895.3 164.9h0M894.6 190.6h0M895.2 183.1h0M894.9 341.6h0M894.6 340.3h0M894.9 342.8h0M894.6 415h0M894.8 369.3h0M894.7 366.3h0M894.5 368.1h0M895 349.7h0M895.4 345.3h0M895.8 231.2h0M895.7 225.8h0M896.3 233.4h0M896.5 221.8h0M896.2 204.9h0M896.2 225.2h0M895.7 312.1h0M896.2 324.2h0M895.7 320.1h0M896.3 313.9h0M896.2 326.8h0M895.9 328.6h0M896.4 194.9h0M895.9 180.5h0M895.8 161.5h0M896.2 180.8h0M896 190.8h0M896.1 202.2h0M896.3 191.4h0M895.9 353.3h0M896 355.8h0M895.7 390.4h0M896.4 437.6h0M896.3 375h0M896.1 342.8h0M896 388.7h0M895.7 361.8h0M896.3 356.7h0M896.8 204.1h0M897.5 229.5h0M896.5 214.9h0M896.6 218.4h0M897 207.1h0M896.9 333.9h0M896.7 317.1h0M897 318.3h0M897.1 315h0M896.9 321.4h0M896.8 339.4h0M896.6 187.9h0M896.8 188.4h0M897.3 155h0M897.2 158.9h0M897.1 198.1h0M896.7 154.9h0M897.1 195.8h0M896.9 389.7h0M897.3 349.7h0M897.1 357.7h0M897.1 385.5h0M896.5 365.3h0M896.7 379h0M896.7 426.7h0M897.1 353.8h0M896.8 376.4h0M897.8 208.7h0M898 212.2h0M898.4 229h0M898.1 219.4h0M897.6 214.9h0M898.5 221.9h0M897.7 310.7h0M898.3 328.1h0M898.1 326.9h0M898.2 334.6h0M898.4 336.7h0M898.3 335.4h0M897.9 183.5h0M898.4 201.6h0M897.7 202.5h0M897.7 189.3h0M898 180.4h0M898.3 153.3h0M897.8 194.1h0M898.4 344h0M898.4 341.5h0M898.5 389.7h0M897.5 372.2h0M898.2 342.2h0M897.9 387h0M897.6 358.1h0M898.2 423.2h0M898.9 222h0M899 223.6h0M899 204h0M898.6 209.7h0M899.1 214.2h0M899.1 207.8h0M899 334.4h0M899.2 329h0M898.9 332.8h0M899.5 325.3h0M899 323h0M899.2 159h0M898.7 193.2h0M898.5 161.9h0M898.6 168h0M899.4 154.7h0M899.1 192.4h0M899 190h0M899.3 342.1h0M899.1 369.3h0M899.3 353.6h0M899.3 359.4h0M899.1 343.1h0M899 389.1h0M899.1 391.4h0M899.2 349.9h0M899.8 218.9h0M899.9 229.8h0M899.6 224.3h0M899.5 208h0M900.1 234.2h0M899.7 206.5h0M899.6 316.9h0M900 323.2h0M900.5 333.3h0M900.4 339.7h0M899.9 339.3h0M900 339.4h0M900.1 203.8h0M899.7 198.5h0M900.1 203h0M900 141.2h0M899.7 197.5h0M900.1 165h0M899.9 162.5h0M900.1 169.2h0M899.9 378.1h0M900.3 345.7h0M899.5 343.4h0M900.3 385h0M900.3 372.2h0M900 369.2h0M900 403.4h0M900.2 348.8h0M899.8 354.5h0M900.5 217.4h0M901.2 214.9h0M901.4 216.3h0M901.4 225h0M901.2 206.6h0M901.4 230.5h0M901.2 335.9h0M901.1 311.7h0M900.8 318.1h0M901.3 320.5h0M901.1 320.8h0M900.8 318.7h0M901.3 192.9h0M901.2 176.8h0M900.5 184.1h0M901.3 182.1h0M901.3 158.8h0M901.2 192.2h0M901.4 164.6h0M901.4 365h0M901 378.6h0M901 359.3h0M901.1 384.6h0M901 423.6h0M900.6 402h0M901.5 372.4h0M901.2 403.1h0M901.1 347.5h0M901.8 221.6h0M902 225.6h0M901.6 215.4h0M902.4 227.6h0M902 226.6h0M902.2 313h0M902.1 320.6h0M902 319.4h0M902.3 336.8h0M901.6 331.2h0M901.7 185.8h0M902 158.8h0M902.2 157.5h0M902.2 199.9h0M901.6 185.9h0M901.9 127.5h0M902.5 151.7h0M901.9 401.5h0M901.6 349.4h0M901.8 364.9h0M902.4 345h0M901.8 380.8h0M901.5 401.6h0M902.4 356.2h0M902.1 382.8h0M902.8 205.2h0M903 214.4h0M902.7 206.4h0M903.2 231.9h0M903.1 224.8h0M903.3 331.3h0M902.9 312.4h0M903 319.2h0M902.6 332.2h0M903.2 337.4h0M903.4 326.8h0M903.4 183.7h0M903 172.5h0M903 177.7h0M903.2 196.8h0M902.8 148h0M903 199.2h0M903 192.2h0M903.4 201h0M903 364.5h0M903.3 342.4h0M902.8 346.5h0M903.3 350.2h0M902.8 364.7h0M903.2 393.6h0M903.2 401.5h0M902.6 340.2h0M903.5 231.7h0M903.8 231.3h0M904.5 216h0M904.1 231.1h0M904.3 233h0M904.4 325.8h0M904.1 328.5h0M903.5 327.3h0M904.3 337.2h0M904 339.8h0M903.9 322.4h0M903.5 172h0M903.8 196.2h0M904.4 167.7h0M904.5 179.4h0M904.4 166.4h0M904 161.1h0M904.3 179.1h0M904 363.4h0M904.5 354.8h0M904 353.4h0M904.2 390.6h0M904.4 347.3h0M903.8 346.8h0M904.5 392.3h0M903.9 351.7h0M905.1 218.2h0M905.2 213.1h0M904.6 225.1h0M904.8 214.8h0M905.4 215.2h0M905 212.3h0M905 337.4h0M905.3 311.5h0M905.2 323h0M905.1 327.7h0M904.6 319.1h0M905.4 314.6h0M905 165.9h0M905.5 202.1h0M905.3 182.5h0M904.8 173.5h0M904.8 181h0M905 203.9h0M905.3 166.6h0M905.5 392.7h0M905 387.9h0M904.9 409.2h0M905.3 369.7h0M905 355.3h0M905 378.6h0M905.1 392.8h0M904.7 377.8h0M906.5 230h0M905.9 220.2h0M905.6 224.1h0M906.3 221.3h0M905.9 208.1h0M905.7 338.5h0M906.3 336.4h0M906.1 326.6h0M905.9 317h0M906.2 332.3h0M905.5 181.8h0M905.6 173.4h0M905.8 196.8h0M905.6 175.6h0M906.1 131.4h0M906.5 125.7h0M906.5 198.9h0M906 360.2h0M905.6 357.5h0M906.4 389.1h0M905.9 349.7h0M906.4 365.7h0M905.8 343.4h0M906.2 351.8h0M906.1 352.2h0M905.9 341.4h0M907 223.7h0M907.2 231.5h0M907.3 229.2h0M906.9 228.6h0M906.6 210.6h0M906.9 324.9h0M906.9 339.6h0M907.5 323.3h0M907.4 330.5h0M906.7 313.2h0M907.3 200.8h0M907.3 198.2h0M907.3 145.1h0M906.7 181.2h0M906.5 192.9h0M907.1 129.6h0M906.9 181.7h0M906.7 375.3h0M907.2 414.2h0M906.9 364.5h0M907 428.3h0M906.8 355.1h0M906.8 341.3h0M907.4 343.7h0M906.9 340.2h0M906.6 345.2h0M908 217h0M907.6 218.8h0M908 204.5h0M907.9 219.1h0M908 233h0M908.4 312.2h0M908.1 326h0M908.1 338.2h0M908.1 334.3h0M908.4 338.3h0M908.2 317.7h0M908.2 190h0M908 199.7h0M907.7 187.4h0M908 170.6h0M908.4 199.7h0M908 190.1h0M907.9 180.9h0M908.2 380.4h0M908.2 363.1h0M907.8 403.7h0M907.7 343.6h0M908 351.2h0M907.9 374.9h0M907.5 375.3h0M908.3 371.3h0M907.6 380.1h0M909.3 207.2h0M909 218.5h0M909.2 233.9h0M908.7 206.3h0M909.1 215.5h0M908.6 316h0M909.3 339.3h0M908.6 312h0M908.7 313.3h0M909.1 315.4h0M908.8 326.5h0M909.3 174.7h0M909.3 124.6h0M909.1 193.9h0M908.7 191.7h0M908.7 187.4h0M908.7 180h0M909 162.1h0M908.6 366.3h0M908.6 367.4h0M909 349.1h0M909.3 368.1h0M909.4 353.4h0M908.6 358.5h0M908.6 341.5h0M909.4 359.7h0M910.1 213.3h0M910 214.4h0M909.9 212h0M910 225h0M909.5 216.5h0M910.5 317.8h0M910 337.3h0M909.6 323.8h0M909.5 328.2h0M909.7 321h0M909.8 330.2h0M910.1 181.8h0M909.6 200.9h0M910.5 182.2h0M910 200.4h0M910.4 199.6h0M910.2 182.8h0M910.1 195.9h0M909.7 182.4h0M909.7 354h0M910.3 352.7h0M909.7 360.3h0M909.5 341.5h0M909.7 343.6h0M910.1 367h0M909.7 372h0M910.2 356.7h0M909.6 385.9h0M911.3 219.6h0M910.9 219.3h0M911.4 213.3h0M911.5 206.2h0M910.6 219.2h0M911 322.6h0M911.5 331.5h0M911.2 314.7h0M910.9 325h0M911 318.7h0M911.4 322h0M910.9 183.2h0M911 191.9h0M911 147.5h0M911.3 195.3h0M911.2 161.3h0M910.7 203.2h0M911.5 188.6h0M911 342.2h0M910.6 366.6h0M910.5 344.3h0M911.4 376.8h0M910.8 347.4h0M911.4 360.4h0M911.4 359.4h0M910.6 357.8h0M912.2 231.6h0M912.2 211.8h0M911.7 234.2h0M912.4 212h0M911.5 207.3h0M911.7 336.8h0M912.5 326.6h0M912.2 324.1h0M912.1 323.7h0M911.6 312.1h0M912.3 336.4h0M912.5 144.9h0M912.1 179.9h0M911.8 202.3h0M911.7 189.5h0M912.2 184.1h0M912.2 201.7h0M911.5 201.2h0M911.6 357.9h0M911.9 387h0M912 348h0M911.8 377.1h0M912.1 369.9h0M912.4 354.2h0M911.6 358.7h0M911.9 386.6h0M911.8 361.9h0M912.9 209.1h0M912.9 205.1h0M912.6 232.1h0M913.3 215.5h0M912.7 216.5h0M913.5 312.7h0M913 311.3h0M913 323.4h0M912.8 325.4h0M912.8 317.1h0M912.7 314.2h0M913.5 177.4h0M912.8 146.6h0M913.4 193.7h0M913.1 158.2h0M913 189.6h0M912.7 203.3h0M913.1 152.5h0M913.4 354.9h0M912.6 357h0M913.1 355.1h0M913 372.4h0M912.6 419.2h0M913.3 425.3h0M913.4 400.3h0M913 346.3h0M914.4 209.5h0M913.8 229.4h0M913.7 211.6h0M914.4 213.5h0M914.1 338.1h0M913.6 335.2h0M914 331h0M913.7 324.2h0M913.6 323h0M914 176.4h0M913.8 189.3h0M913.8 185.3h0M914.3 184.8h0M914.1 200.7h0M914.3 162h0M914.2 179.4h0M913.6 416.3h0M914.1 362.8h0M914.5 353.1h0M913.5 351.7h0M913.8 381.8h0M913.6 350.5h0M914.2 429.8h0M914.3 397.1h0M915.3 222.4h0M915.4 213.9h0M914.9 222.3h0M915.5 229.5h0M915.3 214.4h0M914.6 318.8h0M915.3 336.2h0M914.7 315.7h0M915.2 338.7h0M915.1 327.4h0M915.1 329.3h0M914.9 147.4h0M915.5 198.3h0M915.2 149.7h0M914.6 161.8h0M914.6 143.5h0M915 155.8h0M914.6 157h0M914.5 371.2h0M915.1 371.9h0M915.1 351.2h0M914.6 397.6h0M914.8 412.9h0M914.8 353.2h0M914.8 364.6h0M915.4 365.6h0M916.1 232h0M915.7 220.7h0M916.2 207.4h0M916.3 225.8h0M915.9 219.3h0M916.5 323.7h0M915.7 334.9h0M916.1 335.9h0M915.9 325.1h0M916.3 313.8h0M915.8 315.8h0M916.5 179.7h0M916.2 128.9h0M916 157h0M915.6 177.2h0M916 136.1h0M916 182.3h0M916 198.6h0M915.6 425.4h0M916.3 367.9h0M916 357.9h0M915.9 349.8h0M916.4 392.6h0M915.8 345.4h0M916.4 383.4h0M915.6 385.5h0M916.5 352.4h0M916.9 211.1h0M916.5 220.2h0M916.6 207.4h0M917.3 214.6h0M916.6 207.3h0M917 210.7h0M917.2 338.9h0M917.3 333.2h0M917.3 329.4h0M917.1 335.2h0M917 328.1h0M917 314.3h0M916.6 169.1h0M917.4 196.7h0M917.4 195.9h0M916.9 181.6h0M917.4 182.2h0M917.1 202.7h0M916.9 199.6h0M916.9 346.3h0M916.8 424.4h0M916.7 367.4h0M917.5 371.3h0M917.1 340.1h0M916.7 384.8h0M916.9 374.9h0M917.4 378.8h0M918.2 224.4h0M918 211.1h0M918 215.1h0M918.3 232.8h0M918.4 227h0M918.4 326.3h0M918.4 322.3h0M917.5 318.6h0M917.8 335.6h0M917.9 319.3h0M918.1 329.3h0M917.8 184.4h0M917.9 166.4h0M917.8 155.2h0M918.1 193.4h0M917.5 132.4h0M918.1 194.2h0M918.5 173.9h0M918.1 347.7h0M918 349.6h0M918.5 414.4h0M917.9 366.4h0M918.1 375.4h0M918.2 389.5h0M918.2 369.1h0M918.2 358.4h0M917.9 393h0M919 217.7h0M918.6 209.2h0M919.1 227.6h0M919 219.1h0M919.3 222.5h0M919.5 328.9h0M919.2 316h0M918.7 335.6h0M918.8 321.7h0M919.3 317.3h0M919.2 339.7h0M919.4 177.1h0M918.9 174.2h0M918.6 185.3h0M919 146.6h0M919.2 188.4h0M919.1 189.7h0M918.8 196.2h0M919.4 340.4h0M919.5 359.5h0M918.6 350.9h0M919.4 372.9h0M918.8 360.5h0M919.2 344h0M918.7 415.2h0M918.8 358.7h0M919.4 377.9h0M920.4 228.4h0M919.9 211.5h0M920 227.2h0M919.8 210.2h0M919.5 232.2h0M920.2 322.4h0M919.8 327.4h0M920.1 332.9h0M919.7 334.1h0M920.5 324.6h0M919.9 335.8h0M919.6 198h0M919.6 172.8h0M919.7 161.3h0M919.9 180.8h0M919.7 158.4h0M920.1 204h0M920.3 183.7h0M919.6 363.3h0M919.6 367.2h0M919.8 352.6h0M920.5 424.2h0M920 357h0M919.8 392h0M919.8 351.4h0M920.2 369.4h0M920.9 227.1h0M921.4 230.1h0M921.1 218.1h0M921.2 233h0M920.5 217.3h0M921.1 328.8h0M921.3 328.1h0M920.7 323.2h0M921.4 316.3h0M920.7 334.8h0M920.9 319h0M920.9 190.7h0M920.7 201.6h0M921.3 188.9h0M920.6 196.9h0M921.3 196.7h0M920.7 168h0M921.2 191.4h0M921 367.4h0M921.4 370.3h0M921.1 340.9h0M920.6 397.8h0M920.7 370.7h0M921.3 381.5h0M921.1 363.1h0M921.1 343.9h0M920.6 391.1h0M922.2 210.9h0M921.8 204.9h0M921.6 228h0M922.4 208.7h0M922.1 213.6h0M922 320.2h0M922 327.4h0M921.6 311.1h0M922.1 323.8h0M922.3 326.8h0M922.2 326.2h0M921.7 168.3h0M921.8 152.2h0M922.2 199.1h0M922 171.7h0M921.7 153.1h0M921.8 189.2h0M922 159.4h0M921.6 377.9h0M921.9 340.4h0M922.1 374h0M922.2 341.6h0M922.3 385.1h0M922.3 373h0M922.2 387.5h0M922.4 356.2h0M921.9 346.2h0M923.3 205h0M923.2 216.7h0M922.5 212.5h0M922.5 220.9h0M923.1 217.8h0M922.6 311.7h0M923.4 328.3h0M922.6 314.8h0M922.9 320.2h0M922.8 319.9h0M922.7 310.9h0M923.3 202.5h0M923.5 192.5h0M922.9 177.3h0M923.2 184.2h0M923.1 189h0M922.8 199.4h0M922.7 190.7h0M922.7 351.9h0M923.3 373.2h0M922.6 361.4h0M922.7 370.5h0M923 345.3h0M923.3 356.5h0M923.1 378.7h0M923.4 369.5h0M923.4 387.7h0M924.1 206.4h0M924.3 218.2h0M924 231.9h0M923.5 207.5h0M923.9 206.7h0M924.1 315.7h0M924.5 338.7h0M923.9 325.8h0M923.6 322.2h0M924.2 338.8h0M924.3 171h0M924.1 203h0M923.9 193.7h0M924.4 199.9h0M924.5 175.8h0M924.2 189.9h0M923.8 177.6h0M923.6 392h0M923.6 360.4h0M924.1 374.4h0M923.5 340.5h0M924.4 370.4h0M924 340h0M923.7 416.6h0M923.5 360.5h0M924.3 361.2h0M925.1 216.7h0M924.7 221h0M924.9 224.7h0M924.8 225.2h0M925.2 220.6h0M925.4 318.4h0M925 325.8h0M924.7 333h0M924.9 330.6h0M924.6 332.9h0M925.3 322.5h0M925.5 198.8h0M925.4 173h0M924.9 176.3h0M924.8 170.9h0M925.4 200.8h0M924.9 177.2h0M925.5 180.3h0M924.6 385.1h0M925.1 345.9h0M925.5 367.2h0M924.8 380.4h0M924.8 381.6h0M924.9 381.9h0M925.1 341.4h0M924.8 363.2h0M925.7 223.7h0M926.3 212.3h0M926 206.3h0M925.9 212.3h0M926.3 214.4h0M926.4 325.6h0M926.1 337.6h0M926.1 316.3h0M926.2 325h0M926.4 318.8h0M926.1 312h0M925.9 199h0M925.7 184.8h0M925.9 203h0M926 129.9h0M925.7 172.7h0M926.4 185.7h0M925.9 194.3h0M925.8 400h0M926.2 372.9h0M925.8 346.3h0M925.6 344.6h0M926.5 380.8h0M926.1 392.9h0M925.9 373.1h0M926 385.5h0M926.9 206.7h0M927.5 216.6h0M927 219h0M926.9 228.1h0M926.6 217h0M927.2 331.2h0M927 339.5h0M926.6 332.3h0M927 324.9h0M926.7 330.4h0M926.8 183.4h0M926.8 194.9h0M927 182.3h0M926.9 200.2h0M927.5 201.9h0M927.4 199.2h0M926.9 159.5h0M926.9 367h0M927 417h0M927.2 374.9h0M927.2 403h0M927.1 376h0M926.6 345.2h0M927.4 422.1h0M926.9 340.7h0M926.7 340.5h0M928.5 208.1h0M927.9 212.8h0M928.1 223.8h0M927.9 204.2h0M927.7 230.4h0M927.9 338.2h0M928.4 337.7h0M928.3 319.4h0M928.3 312h0M928.3 334.4h0M928.1 326.8h0M927.7 189.5h0M928.5 181.1h0M928.1 182.8h0M927.6 191.2h0M928.1 194.8h0M928.2 182.8h0M927.8 148.9h0M928 391.8h0M927.7 348.5h0M927.7 365.7h0M927.8 371.1h0M927.8 420h0M928.3 350.4h0M928.2 344.5h0M927.9 342.3h0M1416.2 274.5h0M1416.3 273.2h0M1416.9 289.3h0M1416.7 289.7h0M1417.9 271.3h0M1417.2 270.6h0M1417.1 295.5h0M1417.9 299.2h0M1419 267.7h0M1418.6 263.6h0M1419.1 264.5h0M1419 263.8h0M1419.1 299.8h0M1418.3 304.4h0M1418.2 299.9h0M1418.3 305.9h0M1418.3 308.3h0M1418.3 310.5h0M1420 264.7h0M1419.4 262.1h0M1419.9 303.9h0M1419.3 310.3h0M1420.2 261.7h0M1420.1 256.5h0M1420.1 307.3h0M1420.4 311.7h0M1422.1 260.8h0M1421.3 255.1h0M1421.3 309.9h0M1421.4 311.3h0M1422.8 258.5h0M1422.8 254.2h0M1422.2 310.3h0M1422.6 315.5h0M1422.9 311.4h0M1422.5 314.3h0M1422.4 319.3h0M1422.7 321.7h0M1422.8 325.2h0M1422.7 326.3h0M1422.7 328.9h0M1423.5 259.5h0M1423.9 257.7h0M1423.6 313h0M1423.8 318.9h0M1424.3 256.1h0M1424.6 255.8h0M1424.8 253.9h0M1424.8 249.6h0M1425 248.5h0M1424.7 245.9h0M1424.9 318.3h0M1424.1 318.5h0M1425.9 254.8h0M1425.7 249.9h0M1425.6 254.4h0M1425.9 248.9h0M1425.6 245.8h0M1425.8 243.3h0M1425.5 319.5h0M1425.7 319.9h0M1425.2 319.8h0M1425.6 323.8h0M1425.7 326.3h0M1425.6 331.2h0M1425.3 332.5h0M1425.5 335.2h0M1427.1 253.6h0M1426.5 247.8h0M1427 317.1h0M1426.8 330.9h0M1426.3 318h0M1426.3 323h0M1426.2 325.6h0M1426.2 330.9h0M1425.8 333.7h0M1426.4 335.6h0M1426.1 338.3h0M1427.9 251h0M1427.5 242.7h0M1427.5 319.2h0M1427.9 326h0M1428.6 248.4h0M1428.3 246h0M1428.5 315.8h0M1429 315.9h0M1430 252h0M1430.1 251.6h0M1429.4 251h0M1429.6 248.6h0M1429.5 245.2h0M1429.6 241.9h0M1429.8 238.8h0M1429.5 236.6h0M1429.9 315.6h0M1429.6 330.8h0M1431 253h0M1431 242.2h0M1430.4 252.2h0M1430.6 248.2h0M1430.4 242.8h0M1430.7 239h0M1430.5 237.6h0M1430.7 235.3h0M1430.3 316.1h0M1431 317.2h0M1430.1 317.9h0M1430.1 321.5h0M1430.3 323.5h0M1430 327h0M1430.2 329.6h0M1432.1 251.8h0M1431.2 247.5h0M1432.1 313.9h0M1431.2 316.3h0M1432.8 254.2h0M1432.4 248.3h0M1432.8 251.8h0M1433 247.9h0M1433.1 245.5h0M1432.9 243.6h0M1433 241.1h0M1432.3 312h0M1432.6 319.3h0M1433.9 255.9h0M1433.3 253.8h0M1433.9 309.7h0M1433.4 312.7h0M1434.8 259.1h0M1435.1 256.4h0M1434.6 256h0M1434.9 255.1h0M1434.2 308h0M1434.1 311.5h0M1435.7 261.5h0M1435.9 254.9h0M1435.8 259.8h0M1435.7 257.8h0M1435.6 255h0M1435.7 306.1h0M1436 311.3h0M1436.6 263.1h0M1436.4 257.5h0M1435.9 262.8h0M1436.1 258.8h0M1436.6 302.8h0M1436.7 308.2h0M1437.9 265h0M1438.1 260.5h0M1437.9 303.3h0M1437.2 311.6h0M1438.8 266.1h0M1438.8 263.4h0M1438.9 265.7h0M1438.7 262h0M1438.1 301h0M1438.4 303.5h0M1440.1 264.1h0M1439.1 262.3h0M1439.2 299.7h0M1439.1 303.6h0M1440.2 263.3h0M1440.1 257.1h0M1440.6 300.9h0M1440.2 308.9h0M1442.1 260.7h0M1442 258.7h0M1442 301.5h0M1442 303.7h0M1443 258.8h0M1443.1 258.7h0M1442.7 302.7h0M1442.8 303.3h0M1443.2 256.9h0M1443.7 255.7h0M1444.1 255.4h0M1444.1 252.3h0M1443.4 304.7h0M1443.1 312.7h0M1444.6 255.3h0M1444.8 250h0M1444.9 308.1h0M1444.5 315h0M1444.3 309.1h0M1444.1 314.9h0M1444.4 318.3h0M1444.3 322.1h0M1444.4 324.3h0M1444.1 326h0M1445.5 255.2h0M1445.2 245.2h0M1445.7 254.9h0M1445.7 249.2h0M1446.1 245.8h0M1446 245h0M1445.7 314.8h0M1445.3 315.1h0M1446.8 252.1h0M1446.6 251.3h0M1446.3 319.2h0M1447.1 320.9h0M1446.3 321h0M1446.7 324.7h0M1446.7 328.4h0M1446.3 329.4h0M1446.3 332.2h0M1446.7 335.5h0M1446.5 338.1h0M1447.7 251.6h0M1447.8 243.4h0M1447.1 248.5h0M1447.2 243.9h0M1447.2 241.7h0M1447.4 239.7h0M1448 318.3h0M1448.1 321.3h0M1448.6 251.1h0M1448.4 243.6h0M1448.5 315h0M1448.9 316h0M1450 250.8h0M1449.4 249.8h0M1449.5 317.3h0M1450 319.8h0M1450.3 254.8h0M1450.4 246h0M1450.8 308.6h0M1450.6 321h0M1451.9 254.7h0M1451.3 247.5h0M1452 306.5h0M1451.8 309.9h0M1452.6 257h0M1452.3 254.3h0M1452.6 302.4h0M1452.6 305h0M1453.6 262.5h0M1453.4 258h0M1454 302.3h0M1453.5 303.6h0M1454.8 266.7h0M1455 263.8h0M1454.9 300.3h0M1455.1 308.2h0M1455.2 301.5h0M1454.8 303.7h0M1455 305h0M1455.6 268.3h0M1455.4 264.5h0M1455.5 299.2h0M1455.6 301.4h0M1456 299.7h0M1455.8 302.9h0M1455.9 307.6h0M1455.9 307.8h0M1456 310.6h0M1456.3 268.4h0M1456.5 266.2h0M1456.6 266.6h0M1456.9 265.8h0M1456.8 264.2h0M1456.4 298h0M1456.6 301.2h0M1456.8 300h0M1457 304.7h0M1456.8 307.4h0M1457.3 269.2h0M1457.7 268.4h0M1458 299.6h0M1457.7 304.4h0M1458.1 268.8h0M1458.9 266.2h0M1458.4 298.7h0M1458.5 298.8h0M1459.2 268.9h0M1459.2 268.2h0M1459.6 268.4h0M1459.7 266.8h0M1459.3 299.5h0M1459.7 306.8h0M1460.3 269.1h0M1460.2 266.8h0M1460.8 299.4h0M1460.4 304.2h0M1461.1 299.5h0M1461 304.8h0M1461.3 308.2h0M1461 309h0M1461.7 270.4h0M1462.1 269.6h0M1461.9 298.3h0M1462.1 303h0M1462.6 269.7h0M1463.1 269.2h0M1462.9 299h0M1462.9 299.5h0M1420.5 348.7h0M1427.6 368.1h0M1421.2 362h0M1424.6 349.6h0M1428.5 366.3h0M1425.3 365.5h0M1422.4 356.4h0M1426.3 355h0M1423.4 360.1h0M1425.3 344.7h0M1419.1 364h0M1431.1 356.9h0M1426.5 351h0M1424.2 358.8h0M1431.2 345.7h0M1430 349.9h0M1420.6 221h0M1432.8 225.2h0M1434.3 227.3h0M1427.7 218.3h0M1435.5 238.5h0M1423.4 236.6h0M1428.2 230.4h0M1424 229.5h0M1419.4 234.5h0M1432.9 210.4h0M1445.1 340h0M1449.5 328h0M1450 324.6h0M1442.3 326.6h0M1445.2 338.2h0M1441.7 338.8h0M1443.3 339.1h0M1450.7 339.2h0M255.5 222h0M255.5 231h0M277.5 236h0M277.5 240h0M146 324h0M163 339h0M208 335.5h0M218 335.5h0M232.5 331h0M393 317h0M393 323h0M603.3 195.5h0M603.3 201.4h0M603.3 211h0M581.5 220h0M579 229h0M457.4 334.5h0M607 315.5h0M620.5 301h0M631 313h0M778 191.5h0M779.5 199h0M779.5 207h0M877.4 60.4h0M908.4 73.4h0M876.4 88.4h0M886.5 90.5h0M842.5 96.4h0M842.5 108.3h0M927.6 93.5h0M917.5 95.5h0M912.5 100.5h0M916.4 104.5h0M876.4 104.5h0M885 111.5h0M908 109h0M858.5 120.5h0M867.5 119.5h0M836.5 128.5h0M843 134h0M843 144h0M833.5 149.5h0M876.4 126h0M889.5 132.5h0M900.5 132.5h0M912 116h0M910.5 122.5h0M916.5 127.5h0M843.5 390.4h0M848.4 390.4h0M859.4 390.4h0M843.5 403.5h0M843.5 424.3h0M852.3 438h0M852.3 443h0M852.3 448.7h0M859.4 447h0M868.6 447h0M881 439.6h0M881 449h0M888.6 446.3h0M881.3 458.5h0M911.5 456.3h0M917.4 452.5h0M917.4 463.5h0M852.4 474.2h0M862.4 476.4h0M859.4 493.5h0M859.4 496.5h0M1426 202.5h0M1428.5 204.5h0M1434.5 202.5h0M1422.5 210h0M1428.5 209h0M1428.5 215h0M1434.5 226h0M1449.5 218h0M1449.5 226h0M1449.5 231h0M1426.5 379.5h0M1426.5 387h0M1455.5 327.5h0" fill="none" stroke="#1f77b4" stroke-width="5.4" stroke-linecap="round"/>
<path d="M116.5 282L118.2 283L119.9 279.5L121.6 283.8L123.3 283.3L125 280.4L126.7 283L128.4 287.3L130.1 283.4L131.8 281.3L133.5 280.8L135.2 279.1L136.9 277.4L138.6 274.6L140.3 274.4L142 276.2L143.7 275.7L145.4 278.9L147.1 276.9L148.8 277.1L150.5 275.9L152.2 277.4L153.9 276.4L155.6 279.2L157.3 279.9L159 280.5L160.7 278.5L162.4 282.1L164.1 282.3L165.8 279.5L167.5 274.4L169.2 274.3L170.9 273.3L172.6 273.2L174.3 275.5L176 277.1L177.7 282.1L179.4 281.4L181.1 277.5L182.8 276L184.5 275.4L186.2 275.8L187.9 274.6L189.6 277.1L191.3 279.8L193 277L194.7 280.8L196.4 278.6L198.1 276.4L199.8 278.6L201.5 275.8L203.2 272.8L204.9 276.2L206.6 283.3L208.3 286.9L210 282.8L211.7 279.7L213.4 283.5L215.1 286.7L216.8 284.8L218.5 286.8L220.2 286.8L221.9 288L223.6 282.5L225.3 279.4L227 277.1L228.7 278.1L230.4 278L232.1 275.6L233.8 278.4L235.5 282.4L237.2 277.3L238.9 275.9L240.6 276L242.3 279.5L244 277L245.7 271.3L247.4 273.4L249.1 275.7L250.8 280L252.5 279.1L254.2 271.1L255.9 265.6L257.6 268.3L259.3 268.9L261 264.9L262.7 265.8L264.4 269.8L266.1 274.9L267.8 272L269.5 269.4L271.2 272.6L272.9 273.4L274.6 273L276.3 269.3L278 271.9L279.7 271.6L281.4 275.7L283.1 273.8L284.8 274.2L286.5 277.3L288.2 274.5L289.9 272.3L291.6 273.4L293.3 269.7L295 270.3L296.7 271.6L298.4 273L300.1 274.7L301.8 272.8L303.5 271.9L305.2 270.1L306.9 269.8L308.6 272.7L310.3 272.7L312 267.5L313.7 266.7L315.4 266.5L317.1 270.1L318.8 270.3L320.5 270.7L322.2 270.2L323.9 271.1L325.6 269L327.3 270.5L329 272.8L330.7 269.9L332.4 273.4L334.1 269.5L335.8 272.1L337.5 269.5L339.2 271L340.9 269.6L342.6 266.9L344.3 270L346 270.9L347.7 271.9L349.4 274.7L351.1 275.4L352.8 273L354.5 274.4L356.2 269.1L357.9 266L359.6 262.8L361.3 265.5L363 267.2L364.7 270.5L366.4 268.3L368.1 269.4L369.8 268.5L371.5 268.8L373.2 270.6L374.9 271.6L376.6 273.6L378.3 274.3L380 270.7L381.7 266L383.4 266.1L385.1 268.8L386.8 265.2L388.5 265.5L390.2 273.8L391.9 281.7L393.6 275.7L395.3 273.1L397 268.3L398.7 262.5L400.4 263.6L402.1 260.7L403.8 258.9L405.5 263.3L407.2 272L408.9 274.5L410.6 271.2L412.3 266.2L414 262.4L415.7 262.5L417.4 257.2L419.1 255.4L420.8 262.7L422.5 267.6L424.2 268.1L425.9 270.2L427.6 269.6L429.3 271.8L431 276L432.7 278.8L434.4 273.6L436.1 269.9L437.8 269.6L439.5 269.5L441.2 274L442.9 275.7L444.6 276L446.3 268.8L448 260.1L449.7 257L451.4 259.1L453.1 270L454.8 288.8L456.5 282L458.2 281.3L459.9 276.7L461.6 273.1L463.3 270.4L465 271.2L466.7 269.7L468.4 267.8L470.1 270.4L471.8 268.7L473.5 270.7L475.2 272.4L476.9 271.3L478.6 271L480.3 269.8L482 265.3L483.7 262.9L485.4 263.3L487.1 260.6L488.8 256.4L490.5 257.6L492.2 261.6L493.9 265.2L495.6 270.2L497.3 272.3L499 278.8L500.7 276L502.4 276.7L504.1 283.5L505.8 290.9L507.5 288.1L509.2 275.9L510.9 281.3L512.6 285L514.3 285.5L516 279.3L517.7 284.6L519.4 285.9L521.1 287.6L522.8 282L524.5 279.5L526.2 277.3L527.9 276.1L529.6 278L531.3 279.2L533 280.5L534.7 277.9L536.4 274.1L538.1 275.2L539.8 273.2L541.5 271.1L543.2 273.2L544.9 273.5L546.6 269.7L548.3 269.3L550 271.7L551.7 276.5L553.4 276.3L555.1 277.2L556.8 278.1L558.5 276L560.2 271.3L561.9 267.9L563.6 268.6L565.3 267.3L567 267.6L568.7 265.3L570.4 271L572.1 271.4L573.8 272.7L575.5 267.2L577.2 261.3L578.9 264.7L580.6 264.1L582.3 262.4L584 264.9L585.7 265.9L587.4 264.6L589.1 270.8L590.8 270.4L592.5 268.9L594.2 265.7L595.9 264.8L597.6 262.9L599.3 262.6L601 259L602.7 255L604.4 262.2L606.1 269.9L607.8 279L609.5 274.4L611.2 275.9L612.9 270.6L614.6 266L616.3 268.4L618 271L619.7 268.6L621.4 264L623.1 263.4L624.8 264.3L626.5 270.3L628.2 275.4L629.9 281L631.6 279L633.3 276L635 275.9L636.7 270.5L638.4 266L640.1 261.5L641.8 256.5L643.5 259.8L645.2 264.1L646.9 265.6L648.6 268.9L650.3 268.2L652 265.6L653.7 260.4L655.4 258.6L657.1 254L658.8 255.9L660.5 260.8L662.2 264.4L663.9 264.4L665.6 260.8L667.3 259.2L669 259L670.7 259.7L672.4 260.1L674.1 263.7L675.8 266.4L677.5 260.9L679.2 258.4L680.9 256.4L682.6 259.3L684.3 258.4L686 259.7L687.7 263.1L689.4 257.7L691.1 257.8L692.8 265L694.5 270.7L696.2 271.1L697.9 272.9L699.6 270.1L701.3 270.8L703 271.9L704.7 275.8L706.4 276.1L708.1 272.7L709.8 267.5L711.5 265.6L713.2 265.8L714.9 266.5L716.6 265.6L718.3 266.1L720 268.7L721.7 270.5L723.4 272.3L725.1 271.3L726.8 269.5L728.5 268.9L730.2 270.9L731.9 269.9L733.6 269.9L735.3 267.2L737 266.5L738.7 261.2L740.4 264.7L742.1 269.6L743.8 262.2L745.5 253.9L747.2 248L748.9 254.3L750.6 257.8L752.3 260.5L754 263.6L755.7 262L757.4 261L759.1 260.5L760.8 262L762.5 259.9L764.2 256.5L765.9 256.2L767.6 254.7L769.3 257.8L771 257.8L772.7 257.1L774.4 247.4L776.1 243.7L777.8 239.5L779.5 242.8L781.2 246.5L782.9 242.6L784.6 240.6L786.3 243.1L788 244.1L789.7 240.7L791.4 237.8L793.1 231.2L794.8 224.8L796.5 229.9L798.2 229.5L799.9 230L801.6 228L803.3 218.3L805 218.5L806.7 226.9L808.4 231.9L810.1 238.1L811.8 232.9L813.5 245.1L815.2 231.1L816.9 238.2L818.6 239L820.3 231.6L822 262.4L823.7 260.5L825.4 231L827.1 252L828.8 248.5L830.5 254.3L832.2 247.9L833.9 256.8L835.6 259.5L837.3 264.7L839 273.6L840.7 257L842.4 251L844.1 272.6L845.8 276.5L847.5 266.3L849.2 255L850.9 269.4L852.6 279.6L854.3 270.1L856 267.3L857.7 274.7L859.4 272.3L861.1 264.2L862.8 272.8L864.5 266.1L866.2 259.7L867.9 288.7L869.6 295.8L871.3 278.7L873 273.7L874.7 269.5L876.4 255.9L878.1 268.5L879.8 268.4L881.5 300L883.2 281.3L884.9 259.3L886.6 284.1L888.3 302.5L890 290.3L891.7 275.8L893.4 265.2L895.1 276.8L896.8 283.5L898.5 275.2L900.2 275.9L901.9 282.3L903.6 277.3L905.3 275.3L907 275.3L908.7 265.4L910.4 279.9L912.1 264.9L913.8 282.3L915.5 260.3L917.2 264.4L918.9 280.3L920.6 258.2L922.3 265L924 280.1L925.7 276.9L927.4 306.2L928.3 324.2L928.6 325.2L1416.6 275.4L1416.6 275.9L1417.6 274.1L1418.6 274.3L1419.6 276.6L1420.6 274.6L1421.6 273.2L1422.6 281.4L1423.6 286.2L1424.6 282L1425.6 278.5L1426.6 278.9L1427.6 283.7L1428.6 285.9L1429.6 281.1L1430.6 277.1L1431.6 278.1L1432.6 279.9L1433.6 276.8L1434.6 276.7L1435.6 274.5L1436.6 277.1L1437.6 277.1L1438.6 277.8L1439.6 275.5L1440.6 274.4L1441.6 274.3L1442.6 274.3L1443.6 274.9L1444.6 275.9L1445.6 274.6L1446.6 274.3L1447.6 273.5L1448.6 272.6L1449.6 272.1L1450.6 272.8L1451.6 274.8L1452.6 275.5L1453.6 275.8L1454.6 277.7L1455.6 280.5L1456.6 280.4L1457.6 278.3L1458.6 277.1L1459.6 276.8L1460.6 277L1461.6 276.2L1462.2 276.7" fill="none" stroke="#ff7f0e" stroke-width="2.1" stroke-linejoin="round" stroke-linecap="square"/>
</g>
<path d="M116.5 518.5v4.9M284.5 518.5v4.9M452.5 518.5v4.9M621.5 518.5v4.9M789.5 518.5v4.9M957.5 518.5v4.9M1125.5 518.5v4.9M1294.5 518.5v4.9M116.5 95.5h-4.9M116.5 184.5h-4.9M116.5 272.5h-4.9M116.5 361.5h-4.9M116.5 450.5h-4.9" stroke="#000" stroke-width="1.1" fill="none"/>
<rect x="116.5" y="38.5" width="1346.0" height="480.0" fill="none" stroke="#000" stroke-width="1.1"/>
<rect x="773.3" y="575.5" width="612.3" height="479.0" fill="#e7e7e7"/>
<path d="M284.5 1054.5V575.5M452.5 1054.5V575.5M621.5 1054.5V575.5M789.5 1054.5V575.5M957.5 1054.5V575.5M1125.5 1054.5V575.5M1294.5 1054.5V575.5M116.5 1042.5H1462.5M116.5 986.5H1462.5M116.5 930.5H1462.5M116.5 874.5H1462.5M116.5 818.5H1462.5M116.5 763.5H1462.5M116.5 707.5H1462.5M116.5 651.5H1462.5M116.5 595.5H1462.5" stroke="#b0b0b0" stroke-width="1.1" stroke-dasharray="1.1 1.83" fill="none"/>
<g clip-path="url(#cb)">
<path d="M116.5 782.9L117.5 779.6L118.5 783L119.5 781.2L120.5 779L121.5 780.2L122.5 786.3L123.5 779.2L124.5 779.1L125.5 778.2L126.5 780.6L127.5 780.2L128.5 787.4L129.5 785L130.5 785.8L131.5 793.7L132.5 791.4L133.5 813.6L134.5 806.8L135.5 802.9L136.5 786.8L137.5 785.8L138.5 784.7L139.5 780.9L140.5 776.6L141.5 769L142.5 771.9L143.5 765.6L144.5 767.7L145.5 770.1L146.5 774.8L147.5 774.7L148.5 775.1L149.5 773.6L150.5 772.4L151.5 774L152.5 777.2L153.5 775.6L154.5 777.9L155.5 774.2L156.5 773.8L157.5 771.3L158.5 769L159.5 771.3L160.5 764.3L161.5 761.7L162.5 759.3L163.5 756.9L164.5 759.4L165.5 750.3L166.5 747.8L167.5 745.1L168.5 743.2L169.5 744.4L170.5 746.1L171.5 745.5L172.5 751.7L173.5 752.6L174.5 754.6L175.5 756.5L176.5 752L177.5 754.6L178.5 753.7L179.5 754.9L180.5 757L181.5 759.7L182.5 763.9L183.5 760.9L184.5 761L185.5 761.7L186.5 763.4L187.5 769.1L188.5 770.5L189.5 768.8L190.5 767.1L191.5 764.1L192.5 764.7L193.5 763.7L194.5 760.2L195.5 758.7L196.5 759.5L197.5 757.1L198.5 759.2L199.5 758.4L200.5 757.7L201.5 761.5L202.5 756.3L203.5 759.3L204.5 755.4L205.5 756.6L206.5 760.5L207.5 758.4L208.5 763.9L209.5 763.4L210.5 764.5L211.5 764.5L212.5 764.7L213.5 767.7L214.5 762.5L215.5 762.3L216.5 765.6L217.5 765.5L218.5 761.9L219.5 761.8L220.5 765.1L221.5 761.1L222.5 761L223.5 763.9L224.5 761.8L225.5 763.5L226.5 762.8L227.5 766.4L228.5 766.1L229.5 763.3L230.5 764.9L231.5 765.3L232.5 763.5L233.5 764.8L234.5 772.3L235.5 771.6L236.5 778.1L237.5 781.3L238.5 774.9L239.5 771.3L240.5 766.8L241.5 763.3L242.5 760.3L243.5 757.1L244.5 759.8L245.5 760.2L246.5 761.9L247.5 764.2L248.5 770.9L249.5 771.9L250.5 770.9L251.5 771.6L252.5 768.3L253.5 773.9L254.5 771L255.5 766.5L256.5 769.2L257.5 773.5L258.5 778.7L259.5 781.2L260.5 782.6L261.5 781.4L262.5 781.7L263.5 778.5L264.5 775.7L265.5 774L266.5 772.5L267.5 770.8L268.5 770.1L269.5 769.2L270.5 768.5L271.5 767.7L272.5 769.4L273.5 762.4L274.5 763.1L275.5 772.4L276.5 783L277.5 796.3L278.5 795.8L279.5 802L280.5 801.9L281.5 799.5L282.5 800.1L283.5 796.3L284.5 793L285.5 791.8L286.5 789.9L287.5 781L288.5 777.1L289.5 770.5L290.5 768.4L291.5 766.5L292.5 759.6L293.5 754.4L294.5 753L295.5 746.5L296.5 743.3L297.5 744.8L298.5 740.9L299.5 740.1L300.5 738.8L301.5 739.1L302.5 736.2L303.5 736.2L304.5 735.3L305.5 738.2L306.5 741.7L307.5 738.2L308.5 741.6L309.5 737.9L310.5 737.8L311.5 739.9L312.5 744.8L313.5 743.5L314.5 750.1L315.5 746.2L316.5 742.9L317.5 737L318.5 733.2L319.5 731.1L320.5 727.6L321.5 729.9L322.5 732.3L323.5 731.2L324.5 731.6L325.5 731.9L326.5 733.4L327.5 728.5L328.5 728.7L329.5 724.7L330.5 727.8L331.5 728.8L332.5 729.7L333.5 728.7L334.5 730.2L335.5 732.1L336.5 733.5L337.5 737.8L338.5 734.2L339.5 734.4L340.5 735.7L341.5 730L342.5 731.8L343.5 729L344.5 726.8L345.5 729.7L346.5 726.4L347.5 726.9L348.5 726.8L349.5 733L350.5 734.1L351.5 733.7L352.5 735.2L353.5 728.5L354.5 728.2L355.5 731L356.5 728.7L357.5 727.2L358.5 724.8L359.5 728.8L360.5 728.7L361.5 730.7L362.5 732.3L363.5 731.3L364.5 735.1L365.5 733.5L366.5 730L367.5 729.7L368.5 734.7L369.5 741.1L370.5 740.2L371.5 743.3L372.5 744.5L373.5 740L374.5 744.6L375.5 743.3L376.5 748.4L377.5 748.2L378.5 744.1L379.5 739.9L380.5 737.9L381.5 732.3L382.5 727.8L383.5 726.7L384.5 721.3L385.5 721L386.5 716.1L387.5 712.5L388.5 713.4L389.5 714.9L390.5 719.8L391.5 725.3L392.5 730.6L393.5 724.7L394.5 720.5L395.5 717L396.5 713.1L397.5 717.1L398.5 721.9L399.5 730.3L400.5 732.1L401.5 736.6L402.5 735.7L403.5 740.8L404.5 735.1L405.5 737.3L406.5 737.6L407.5 743L408.5 750.2L409.5 751.3L410.5 751.6L411.5 754.1L412.5 758.4L413.5 755.8L414.5 758L415.5 755.7L416.5 754.8L417.5 756.1L418.5 753.6L419.5 749L420.5 749.1L421.5 746.4L422.5 748.6L423.5 741.5L424.5 742.1L425.5 740.1L426.5 744.2L427.5 738.9L428.5 738.6L429.5 740.7L430.5 741.3L431.5 735.5L432.5 735L433.5 732.4L434.5 731L435.5 730.4L436.5 728.8L437.5 728L438.5 729L439.5 728.7L440.5 722.2L441.5 722.7L442.5 720.4L443.5 726.8L444.5 729.9L445.5 730.1L446.5 732.4L447.5 734.9L448.5 737.1L449.5 733.3L450.5 730.8L451.5 728.7L452.5 728.1L453.5 728.9L454.5 733.1L455.5 733.6L456.5 727.7L457.5 727.4L458.5 727.4L459.5 728.2L460.5 726.9L461.5 727.4L462.5 728.9L463.5 731.6L464.5 736.8L465.5 734.8L466.5 735.1L467.5 729.2L468.5 730.4L469.5 729.3L470.5 727.9L471.5 728.2L472.5 728L473.5 727.5L474.5 728.6L475.5 725.9L476.5 730.9L477.5 731.1L478.5 724.3L479.5 723.5L480.5 723.5L481.5 728.5L482.5 723.6L483.5 717.6L484.5 718.5L485.5 714.3L486.5 717.1L487.5 716.5L488.5 715.4L489.5 712.6L490.5 713L491.5 714L492.5 705.4L493.5 702L494.5 700.3L495.5 700.3L496.5 700.4L497.5 708.9L498.5 706.6L499.5 711.1L500.5 713.4L501.5 712.7L502.5 713.9L503.5 716.9L504.5 720.2L505.5 723.5L506.5 726.3L507.5 726.2L508.5 730.6L509.5 728.5L510.5 725.3L511.5 726.7L512.5 726L513.5 721.6L514.5 719.5L515.5 717L516.5 721.2L517.5 713.4L518.5 712.2L519.5 711.5L520.5 716L521.5 711.2L522.5 712.2L523.5 716.1L524.5 715.5L525.5 717.1L526.5 714.1L527.5 712.6L528.5 718.9L529.5 716.2L530.5 717L531.5 716L532.5 716.7L533.5 716.9L534.5 717.6L535.5 717.1L536.5 721.6L537.5 720.8L538.5 719.5L539.5 719.3L540.5 717.1L541.5 718.6L542.5 714.6L543.5 712.4L544.5 710.8L545.5 710.9L546.5 707.7L547.5 710.3L548.5 710.4L549.5 705.3L550.5 704.7L551.5 703.1L552.5 699.1L553.5 698.3L554.5 698.3L555.5 691.7L556.5 689.4L557.5 689L558.5 685.9L559.5 686.6L560.5 687.7L561.5 683L562.5 686.8L563.5 684.5L564.5 682.1L565.5 684.4L566.5 690.1L567.5 691.5L568.5 693.3L569.5 696.3L570.5 701.2L571.5 701.3L572.5 702.3L573.5 707.5L574.5 705.9L575.5 713.1L576.5 713.6L577.5 711.6L578.5 711.6L579.5 716.4L580.5 713.8L581.5 709.9L582.5 711.5L583.5 703.7L584.5 702.4L585.5 699.9L586.5 697.6L587.5 699.7L588.5 695.9L589.5 692.3L590.5 691.1L591.5 689L592.5 687.8L593.5 686.6L594.5 687.3L595.5 689.8L596.5 687.6L597.5 693.7L598.5 691.5L599.5 694.2L600.5 692.8L601.5 692.1L602.5 694.3L603.5 690.4L604.5 690.1L605.5 687.5L606.5 688.4L607.5 692L608.5 687.4L609.5 684.3L610.5 679.9L611.5 681.1L612.5 678L613.5 674.4L614.5 676.7L615.5 671.6L616.5 675.6L617.5 674.3L618.5 676.8L619.5 679.8L620.5 680.2L621.5 683.6L622.5 682.7L623.5 688L624.5 684.7L625.5 690.3L626.5 689.8L627.5 687.6L628.5 688.6L629.5 692.3L630.5 690.7L631.5 693.8L632.5 693.6L633.5 700.2L634.5 696.2L635.5 695.3L636.5 697.6L637.5 694.1L638.5 695.4L639.5 692.1L640.5 695.6L641.5 693.3L642.5 688.7L643.5 687.4L644.5 690.5L645.5 685.6L646.5 686.3L647.5 689.3L648.5 683.4L649.5 685.1L650.5 689L651.5 691.1L652.5 692.5L653.5 692.9L654.5 690.9L655.5 690.9L656.5 688.2L657.5 687.1L658.5 687.4L659.5 685.2L660.5 682.7L661.5 681.6L662.5 681.6L663.5 686.7L664.5 682.8L665.5 684.8L666.5 686.5L667.5 689.8L668.5 688.1L669.5 690.8L670.5 692L671.5 695.9L672.5 698.2L673.5 702L674.5 705.8L675.5 710.1L676.5 713.3L677.5 716.1L678.5 715.2L679.5 720.6L680.5 718.9L681.5 723L682.5 722.5L683.5 725L684.5 722.4L685.5 720.6L686.5 720.2L687.5 719.9L688.5 719.2L689.5 719.2L690.5 720.2L691.5 715.3L692.5 712.7L693.5 709.5L694.5 706.3L695.5 703.3L696.5 704.8L697.5 699L698.5 699.5L699.5 699.1L700.5 692.6L701.5 694.3L702.5 687.9L703.5 685.5L704.5 687L705.5 682.3L706.5 681.1L707.5 683.1L708.5 681.6L709.5 681.7L710.5 676.6L711.5 676.4L712.5 680.3L713.5 679.5L714.5 677.6L715.5 677.1L716.5 678.6L717.5 673.1L718.5 673.9L719.5 672.9L720.5 672.1L721.5 671.3L722.5 671.6L723.5 674.4L724.5 670.1L725.5 672L726.5 671.1L727.5 670.9L728.5 673.3L729.5 670.7L730.5 673.3L731.5 672.1L732.5 674.6L733.5 678.4L734.5 675.7L735.5 677.5L736.5 679.7L737.5 684.1L738.5 682.1L739.5 683.6L740.5 688.4L741.5 688.6L742.5 691.7L743.5 697L744.5 698.9L745.5 702.7L746.5 704.7L747.5 705.5L748.5 704L749.5 704L750.5 702.9L751.5 702.7L752.5 704.3L753.5 701.4L754.5 701L755.5 700.9L756.5 705.3L757.5 703.5L758.5 700.6L759.5 701.4L760.5 704L761.5 710.6L762.5 710.3L763.5 714.2L764.5 718.8L765.5 725.2L766.5 731.4L767.5 737.2L768.5 743.6L769.5 742.9L769.5 804.9L768.5 805.4L767.5 802.5L766.5 804.8L765.5 805.4L764.5 804.6L763.5 803.2L762.5 800.9L761.5 803.7L760.5 800.5L759.5 806.8L758.5 807L757.5 805.5L756.5 800.1L755.5 804.8L754.5 807.8L753.5 804.2L752.5 804.4L751.5 808.4L750.5 805.3L749.5 807.1L748.5 800.6L747.5 803.8L746.5 805.2L745.5 802.5L744.5 804.7L743.5 808.8L742.5 809.6L741.5 810.4L740.5 807.9L739.5 810.4L738.5 805.6L737.5 800.5L736.5 809.3L735.5 809.6L734.5 804.6L733.5 808.4L732.5 806.5L731.5 800.6L730.5 807L729.5 803.3L728.5 801.7L727.5 806.1L726.5 800.4L725.5 807.4L724.5 808.7L723.5 799.4L722.5 808.6L721.5 798.7L720.5 806.6L719.5 800.6L718.5 809.2L717.5 801.4L716.5 810.4L715.5 802.7L714.5 803.8L713.5 803.3L712.5 802.1L711.5 808.9L710.5 809L709.5 810.5L708.5 813.2L707.5 816.4L706.5 808.8L705.5 817.1L704.5 818.5L703.5 820.4L702.5 815.7L701.5 821.7L700.5 815L699.5 824.4L698.5 819.2L697.5 820.4L696.5 825.1L695.5 827.7L694.5 822.8L693.5 829.3L692.5 825.7L691.5 827.5L690.5 830.4L689.5 829.8L688.5 824.8L687.5 830.1L686.5 828.3L685.5 828.6L684.5 830.1L683.5 830L682.5 827.4L681.5 829.3L680.5 829.1L679.5 827.5L678.5 828.6L677.5 822.4L676.5 826.5L675.5 826.2L674.5 824.9L673.5 825.7L672.5 819.7L671.5 822.4L670.5 817.3L669.5 817.4L668.5 813.1L667.5 819.5L666.5 820L665.5 819.7L664.5 812.6L663.5 813L662.5 824.4L661.5 823.8L660.5 825.4L659.5 826.8L658.5 827.1L657.5 829.4L656.5 820.2L655.5 830.1L654.5 829.2L653.5 828.5L652.5 830.4L651.5 832.7L650.5 832.4L649.5 832.3L648.5 829.7L647.5 831.6L646.5 828L645.5 828.9L644.5 821.6L643.5 829.4L642.5 831.1L641.5 830.7L640.5 827.8L639.5 833.8L638.5 835.1L637.5 835.7L636.5 831.4L635.5 833L634.5 830.4L633.5 837.7L632.5 836.8L631.5 836L630.5 832.5L629.5 838L628.5 835.4L627.5 832.4L626.5 829.9L625.5 835.1L624.5 833L623.5 837.2L622.5 836.7L621.5 832.9L620.5 834.7L619.5 825.7L618.5 827L617.5 834.6L616.5 830.6L615.5 833.5L614.5 831.9L613.5 825.7L612.5 829.4L611.5 817.5L610.5 824.3L609.5 825.9L608.5 825.4L607.5 817.5L606.5 819.6L605.5 824.5L604.5 823.7L603.5 823.1L602.5 812.6L601.5 814.5L600.5 824.6L599.5 824.4L598.5 818.8L597.5 817.2L596.5 823.7L595.5 825.9L594.5 828.2L593.5 822.1L592.5 829.1L591.5 827L590.5 827.9L589.5 822L588.5 831.8L587.5 823.2L586.5 830.3L585.5 834.4L584.5 832.6L583.5 826.6L582.5 827.2L581.5 832.6L580.5 838.1L579.5 836.6L578.5 832.9L577.5 839.9L576.5 837.8L575.5 835.9L574.5 839L573.5 831.1L572.5 834.1L571.5 839.7L570.5 831.1L569.5 840.1L568.5 839.6L567.5 836.2L566.5 831.9L565.5 839.8L564.5 835.4L563.5 836.1L562.5 831.3L561.5 827.3L560.5 830.1L559.5 835.3L558.5 826.6L557.5 833.4L556.5 822.4L555.5 832.1L554.5 821.4L553.5 828.3L552.5 830.8L551.5 827.8L550.5 832.6L549.5 831.3L548.5 836.4L547.5 838.3L546.5 839.7L545.5 840.8L544.5 842.5L543.5 840.4L542.5 841L541.5 846.3L540.5 842.4L539.5 840.9L538.5 846.1L537.5 849.7L536.5 847.7L535.5 851.1L534.5 845.2L533.5 843L532.5 852.9L531.5 845.8L530.5 853.8L529.5 851.1L528.5 854.7L527.5 851.2L526.5 854.4L525.5 845L524.5 848L523.5 850.8L522.5 847.7L521.5 845.4L520.5 846.7L519.5 844.8L518.5 847.1L517.5 838.7L516.5 846.2L515.5 844.3L514.5 845.5L513.5 844.4L512.5 841.7L511.5 845.2L510.5 845.1L509.5 850.7L508.5 850.5L507.5 853.5L506.5 856.1L505.5 847.7L504.5 858.6L503.5 859.1L502.5 855.4L501.5 850.6L500.5 850.7L499.5 858.5L498.5 854.2L497.5 853.8L496.5 849.3L495.5 849.1L494.5 852.6L493.5 852.3L492.5 851.9L491.5 843.7L490.5 848L489.5 852.4L488.5 853.6L487.5 852.2L486.5 852.2L485.5 855L484.5 853.2L483.5 858.4L482.5 860.1L481.5 854.4L480.5 858.8L479.5 857.9L478.5 865L477.5 863.8L476.5 863.2L475.5 866.7L474.5 865.4L473.5 861.1L472.5 861.4L471.5 870.3L470.5 870.1L469.5 870L468.5 872.7L467.5 872.8L466.5 868.9L465.5 872.2L464.5 870.3L463.5 870.9L462.5 878.6L461.5 876.7L460.5 877.3L459.5 880.6L458.5 869.3L457.5 877L456.5 874.8L455.5 872.4L454.5 879L453.5 873.4L452.5 879.6L451.5 878.9L450.5 876.6L449.5 880.2L448.5 872.1L447.5 867.7L446.5 867.8L445.5 874.9L444.5 880.6L443.5 879L442.5 878.1L441.5 876.5L440.5 871.4L439.5 880.5L438.5 870L437.5 875.6L436.5 878.2L435.5 874L434.5 870.6L433.5 872.6L432.5 880.8L431.5 880.5L430.5 872.7L429.5 872.4L428.5 873.4L427.5 882.1L426.5 882.3L425.5 882.5L424.5 882.4L423.5 881.1L422.5 882.3L421.5 880.2L420.5 878.7L419.5 882.7L418.5 882.6L417.5 883.8L416.5 881.7L415.5 878.5L414.5 880.8L413.5 881.1L412.5 881.8L411.5 883.2L410.5 883.6L409.5 882.6L408.5 885L407.5 882.5L406.5 882.2L405.5 879.8L404.5 881.6L403.5 882.1L402.5 881.9L401.5 880.8L400.5 881.8L399.5 874.6L398.5 880.9L397.5 880.6L396.5 872.1L395.5 876.1L394.5 877.5L393.5 876.9L392.5 873L391.5 876.8L390.5 871.2L389.5 876.8L388.5 875.4L387.5 874.5L386.5 876.2L385.5 875.8L384.5 870.5L383.5 866.8L382.5 876.7L381.5 873.4L380.5 871.3L379.5 882L378.5 883.7L377.5 884.4L376.5 886.4L375.5 886.4L374.5 889.6L373.5 888.4L372.5 884.8L371.5 884.1L370.5 884.1L369.5 892.8L368.5 891.8L367.5 893.7L366.5 892.8L365.5 882.1L364.5 893L363.5 892.3L362.5 891L361.5 890.4L360.5 891.4L359.5 888.7L358.5 878.6L357.5 885.7L356.5 889.6L355.5 888.9L354.5 880.3L353.5 887.1L352.5 876.1L351.5 883.3L350.5 876.3L349.5 880.3L348.5 877.6L347.5 878.8L346.5 882.7L345.5 879.3L344.5 878.3L343.5 882.5L342.5 878.9L341.5 883.2L340.5 878.3L339.5 878.9L338.5 880.5L337.5 881.3L336.5 875L335.5 879.7L334.5 879.6L333.5 879.4L332.5 871L331.5 872.1L330.5 871.9L329.5 876L328.5 868L327.5 867L326.5 866.2L325.5 873.5L324.5 874L323.5 866.6L322.5 875L321.5 867.3L320.5 874.7L319.5 877.8L318.5 871.2L317.5 879.5L316.5 878.6L315.5 881.2L314.5 878.3L313.5 877.1L312.5 878.5L311.5 884.4L310.5 880.6L309.5 882L308.5 878.8L307.5 884.5L306.5 887.4L305.5 882.8L304.5 886.2L303.5 880.9L302.5 889.8L301.5 882.5L300.5 890.7L299.5 889.9L298.5 891.4L297.5 887.6L296.5 890.7L295.5 897.3L294.5 898.7L293.5 899.8L292.5 893.2L291.5 896.8L290.5 898L289.5 904.8L288.5 905.6L287.5 902.4L286.5 901.3L285.5 908L284.5 904L283.5 911.6L282.5 908L281.5 911.6L280.5 906.3L279.5 905.4L278.5 911L277.5 914.2L276.5 906.4L275.5 909.1L274.5 912.9L273.5 910.4L272.5 907.9L271.5 911.4L270.5 910.8L269.5 907.7L268.5 908.2L267.5 909.3L266.5 903.6L265.5 906.3L264.5 907.6L263.5 907.4L262.5 904.4L261.5 906.4L260.5 900.7L259.5 902.4L258.5 897.9L257.5 897.9L256.5 902.8L255.5 905.4L254.5 902.5L253.5 899.6L252.5 905.4L251.5 905.1L250.5 897.2L249.5 905.4L248.5 902.8L247.5 903.9L246.5 907.1L245.5 906.9L244.5 901.8L243.5 908.1L242.5 899.9L241.5 901.1L240.5 894.1L239.5 893.2L238.5 899.1L237.5 897.5L236.5 897.6L235.5 892.7L234.5 891.2L233.5 897.7L232.5 887.3L231.5 895.1L230.5 891.9L229.5 893.3L228.5 885L227.5 883L226.5 887.5L225.5 886.4L224.5 883.6L223.5 886.7L222.5 882.4L221.5 875.9L220.5 876.4L219.5 885.9L218.5 884.1L217.5 885.3L216.5 887.1L215.5 887.4L214.5 879.7L213.5 887.9L212.5 884.5L211.5 884.7L210.5 882.8L209.5 885.9L208.5 886.7L207.5 888.6L206.5 889.2L205.5 889.7L204.5 890.1L203.5 885L202.5 888.8L201.5 890.4L200.5 885.6L199.5 893.4L198.5 892.7L197.5 889L196.5 897.1L195.5 891.9L194.5 890.7L193.5 900.9L192.5 894.7L191.5 903.2L190.5 902.7L189.5 903.1L188.5 902.2L187.5 907.3L186.5 906.6L185.5 909.4L184.5 900.8L183.5 909.3L182.5 906.4L181.5 902.8L180.5 897.7L179.5 900L178.5 902.8L177.5 897L176.5 895.6L175.5 900.3L174.5 903L173.5 903.4L172.5 893.2L171.5 902.5L170.5 898.6L169.5 897.2L168.5 900.5L167.5 895.9L166.5 895L165.5 897.2L164.5 898.3L163.5 896.4L162.5 893.4L161.5 886.7L160.5 895.6L159.5 895.3L158.5 894.2L157.5 897.3L156.5 895.7L155.5 898.6L154.5 897.1L153.5 900.4L152.5 895.2L151.5 901.6L150.5 901.5L149.5 903.9L148.5 895.1L147.5 904.7L146.5 903.2L145.5 906.4L144.5 898.3L143.5 907.1L142.5 910L141.5 904.8L140.5 913.5L139.5 916.6L138.5 917.3L137.5 919.8L136.5 916.6L135.5 924.4L134.5 924.1L133.5 918.3L132.5 920.1L131.5 920.4L130.5 926.3L129.5 922.1L128.5 927.5L127.5 927L126.5 924.4L125.5 923.1L124.5 925.8L123.5 927.1L122.5 926.1L121.5 929.5L120.5 926.9L119.5 929.8L118.5 925.5L117.5 928.4L116.5 927.5ZM768 722.6L769 723.9L770 725L771 724.5L772 729.2L773 723.1L774 723.2L775 723.8L776 724.1L777 723.5L778 726.3L779 725.3L780 724.3L781 721.6L782 723.2L783 731.3L784 732.8L785 740.1L786 748.8L787 754.3L788 752.1L789 756.8L790 757.2L791 767.6L792 780.7L793 793.7L794 800.1L795 799.9L796 814.5L797 829.6L798 846.1L799 848.5L800 855L801 852.3L802 855.2L803 861.9L804 858.6L805 860.5L806 866.9L807 871.6L808 872.2L809 875.4L810 875.2L811 886.8L812 904.9L813 919.6L814 928.6L815 936L816 943.9L817 947L818 947.8L819 949.9L820 954.2L821 953.5L822 955L823 956.3L824 958L825 961.1L826 963.8L827 962.2L828 964.1L829 965.9L830 980.2L831 994.7L832 1000.6L833 1001.5L834 1000.9L835 1001.3L836 1000.6L837 1000L838 1000.2L839 999.9L840 1001L841 1007.1L842 1011.9L843 1012.6L844 1013.7L845 1014.1L846 1014.7L847 1015.4L848 1016.3L849 1016.5L849 1030.4L848 1030.7L847 1030.6L846 1030.6L845 1029.5L844 1030.2L843 1030L842 1029.6L841 1028.6L840 1028.5L839 1028.6L838 1028L837 1028.7L836 1028.3L835 1028.5L834 1027.8L833 1028.1L832 1028.3L831 1027.7L830 1026.3L829 1021.4L828 1024.7L827 1024.7L826 1024.3L825 1020.6L824 1023.8L823 1022L822 1023.7L821 1020.4L820 1020.3L819 1022.5L818 1022.4L817 1021.3L816 1017.3L815 1018.3L814 1016.7L813 1019.5L812 1016.9L811 1014.1L810 1013.2L809 1012.4L808 1014.8L807 985.3L806 973.1L805 961.7L804 961L803 950.8L802 951.1L801 947.9L800 940.7L799 935.6L798 934.5L797 932.7L796 928.3L795 922.5L794 920.8L793 913.3L792 908.1L791 904.7L790 900.9L789 892.5L788 891.1L787 888.8L786 880L785 880.7L784 877.4L783 880L782 877.8L781 871.3L780 874.1L779 872.2L778 870.5L777 863.5L776 863.2L775 859.4L774 855.9L773 850.3L772 844.3L771 847.2L770 844.7L769 834.7L768 838.9ZM847 1015.8L848 1015.3L849 1015.7L850 1015.9L851 1016.6L852 1016.7L853 1016.3L854 1017.3L855 1017.2L856 1017.3L857 1017.2L858 1017.3L859 1017.5L860 1018.5L861 1018.6L862 1019.3L863 1018.9L864 1020L865 1020.4L866 1020.4L867 1020.8L868 1021.2L869 1021.7L870 1021.9L871 1022.1L872 1021.7L873 1021.9L874 1021.4L875 1021.4L876 1021.2L877 1021.1L878 1021L879 1021.4L880 1022.1L881 1022.9L882 1023.8L883 1024.8L884 1025.5L885 1026.3L886 1026.1L887 1025.9L888 1025.5L889 1025.5L890 1025.3L891 1025.2L892 1024.9L893 1024.9L894 1025.1L895 1024.7L896 1024.8L897 1024.9L898 1025.1L899 1025.5L900 1025.8L901 1025.6L902 1025.7L903 1026.1L904 1026L905 1026.2L906 1026.4L907 1026.6L908 1027L909 1026.6L910 1026.7L911 1026.5L912 1026.9L913 1026.8L914 1026.6L915 1026.5L916 1026.6L917 1026.9L918 1026.6L919 1026.6L920 1026.5L921 1026.6L922 1026.7L923 1027.1L924 1027.4L925 1027.3L926 1027.5L927 1027.8L928 1028.7L929 1029.6L929 1032.2L928 1032L927 1032L926 1031.9L925 1032.2L924 1032L923 1032.2L922 1031.9L921 1032.1L920 1032.1L919 1031.7L918 1031.7L917 1032L916 1031.9L915 1031.7L914 1032L913 1032.2L912 1032L911 1031.9L910 1032.1L909 1031.8L908 1031.8L907 1032.1L906 1032.1L905 1032.1L904 1032.1L903 1032.1L902 1031.6L901 1031.8L900 1031.9L899 1032.1L898 1032.1L897 1032L896 1032L895 1031.9L894 1031.8L893 1031.8L892 1031.8L891 1032L890 1032.1L889 1032L888 1031.5L887 1032L886 1032.1L885 1032L884 1031.7L883 1032.1L882 1031.5L881 1031.9L880 1031.3L879 1031.3L878 1031.7L877 1031.2L876 1031.3L875 1031.7L874 1031.8L873 1031.8L872 1031.8L871 1031.9L870 1031.3L869 1031.7L868 1031.7L867 1031.4L866 1031L865 1031.6L864 1031.5L863 1031.3L862 1031.5L861 1031.7L860 1031.2L859 1031.4L858 1030.8L857 1031.6L856 1031.5L855 1031.6L854 1031.3L853 1031.5L852 1031.5L851 1031.5L850 1031.5L849 1031.2L848 1030.9L847 1031.5ZM1415.8 1028.5L1416.8 1015.1L1417.8 1006L1418.8 998.8L1419.8 991.4L1420.8 984.6L1421.8 982.6L1422.8 982.6L1423.8 983.9L1424.8 983.2L1425.8 982.5L1426.8 983.1L1427.8 979.2L1428.8 977.9L1429.8 975.9L1430.8 974.3L1431.8 970.5L1432.8 967.8L1433.8 959.9L1434.8 955.5L1435.8 951.8L1436.8 944.3L1437.8 940.9L1438.8 934.1L1439.8 928.8L1440.8 928.1L1441.8 921.3L1442.8 914L1443.8 917.8L1444.8 918.6L1445.8 921.5L1446.8 923.9L1447.8 925.9L1448.8 925.2L1449.8 923.4L1450.8 918.9L1451.8 916.7L1452.8 914.8L1453.8 908.5L1454.8 902.5L1455.8 893.9L1456.8 889.9L1457.8 869.3L1458.8 853.7L1459.8 843L1460.8 837.1L1461.8 833.7L1462.8 828.8L1462.8 976.9L1461.8 974.3L1460.8 977.8L1459.8 984.1L1458.8 986.1L1457.8 990L1456.8 989L1455.8 992.6L1454.8 990L1453.8 996.2L1452.8 994.4L1451.8 999.9L1450.8 999.8L1449.8 1003.8L1448.8 1003.8L1447.8 1008.4L1446.8 1010.1L1445.8 1011.2L1444.8 1011.3L1443.8 1012L1442.8 1010.5L1441.8 1014L1440.8 1013.3L1439.8 1009.7L1438.8 1015.8L1437.8 1014.9L1436.8 1015.6L1435.8 1017.5L1434.8 1017.1L1433.8 1017.5L1432.8 1017.1L1431.8 1019.5L1430.8 1020.1L1429.8 1019.5L1428.8 1020L1427.8 1022.2L1426.8 1022.1L1425.8 1022L1424.8 1021.7L1423.8 1022L1422.8 1024.5L1421.8 1024.7L1420.8 1025L1419.8 1025.2L1418.8 1025.8L1417.8 1026.7L1416.8 1027.2L1415.8 1028.4Z" fill="#1f77b4"/>
<path d="M116.6 781.5h0M116.7 779.2h0M116.4 777.1h0M116.8 780.6h0M116.1 781.1h0M116.5 928.8h0M116.8 955h0M116.7 945.6h0M117 945.3h0M116.1 931.4h0M117.2 778.2h0M117.3 776.8h0M117.8 776.6h0M117.3 775.1h0M117.2 777.1h0M117.3 929.8h0M117.5 932.8h0M117.6 930.6h0M117.9 937.4h0M118 936.2h0M117.4 939.6h0M117.4 942.7h0M117.6 952h0M117.6 970.6h0M117.8 975.2h0M117.6 981.4h0M118.1 781.6h0M118.1 777.5h0M118.9 780.4h0M118.5 773h0M118.7 771.5h0M118.6 926.8h0M118.2 927.5h0M118.5 930.5h0M118.2 961.6h0M118.1 928.3h0M119.3 779.8h0M119.6 772.6h0M119.8 772.4h0M119 779.5h0M119.3 775.3h0M119.6 777.1h0M119.5 772.9h0M119.2 931.1h0M119.9 962.7h0M119.5 934h0M119.9 938.1h0M119.3 940.6h0M120.4 777.7h0M120.4 776.2h0M120.9 774.1h0M120.3 772.8h0M120.2 773.8h0M120.1 928.3h0M120.6 949.7h0M121 933.1h0M120.2 943.9h0M120.8 937.9h0M121.1 778.8h0M121.5 775.6h0M121.2 776.5h0M121.8 776.1h0M122 773.2h0M121 930.8h0M121.9 953.9h0M121.4 955.8h0M121.4 938h0M121.3 942.3h0M122.9 785h0M122.9 777.8h0M122.6 783.9h0M122.7 782.7h0M122.5 781.1h0M122.7 781.3h0M122.4 773.4h0M122.3 768.5h0M122.5 764.4h0M123 927.4h0M122.2 933.7h0M123 960.4h0M122.5 946.4h0M122.3 945.2h0M123.8 777.8h0M123.5 771.4h0M123.5 770.8h0M124 772.7h0M123.3 771.1h0M123.9 928.5h0M123.7 928.5h0M123.4 964.7h0M123.2 942h0M123.5 947.7h0M124.3 777.7h0M124.8 775.8h0M124.8 774.3h0M124.9 775.7h0M124.6 775.1h0M124.9 927.1h0M124.1 930.5h0M124.3 945.6h0M124.3 931.5h0M124.7 943.2h0M125.3 776.8h0M125.9 775.3h0M125.5 776.6h0M125.5 768.4h0M125.3 765.2h0M125.9 924.5h0M125.1 930.9h0M125.6 938.1h0M125.6 935.2h0M125.5 926.4h0M126.4 779.3h0M126.7 778.3h0M126.9 771.1h0M126.7 775.2h0M126.4 778.4h0M126.4 925.7h0M126.4 928.3h0M126.3 929.5h0M127 932.4h0M126.8 928.2h0M127.8 778.8h0M127.5 774.9h0M127.5 771.5h0M127.2 775.1h0M127.1 777.3h0M127.9 928.3h0M127.2 935h0M127.8 944.8h0M127.5 935h0M127.8 940h0M128.5 786.1h0M128.5 782.8h0M128.8 780.1h0M128.5 783.6h0M128.2 776.6h0M128.7 928.9h0M128.5 944.3h0M128.1 930.2h0M128.2 931.1h0M128.2 930.2h0M129.7 783.7h0M129.3 782.8h0M129.1 783.1h0M129.4 781.6h0M129.3 777.7h0M129.2 923.5h0M129.8 932.2h0M129.6 929.4h0M129.5 924h0M129.1 927h0M129.3 940.3h0M129.4 944.3h0M130.6 784.5h0M130 782.6h0M130.9 782.2h0M130.3 782.1h0M130.1 782.7h0M131 776.8h0M130.9 775.5h0M130.6 927.7h0M130.5 935.4h0M130.1 943.4h0M130.4 936.3h0M130.3 939.1h0M131 792.4h0M131.7 791.8h0M131.1 789.9h0M132 787.1h0M131.1 791.3h0M131.2 785.9h0M131.5 780h0M131.2 777.7h0M131.3 921.7h0M131.5 931.9h0M131.1 923.8h0M132 928.3h0M132 932.7h0M132.9 790h0M132.9 784.9h0M132.5 789.9h0M132.9 788.9h0M132.8 787.6h0M132.3 921.4h0M132.7 932.1h0M132.5 923.6h0M132.1 934.9h0M132.1 935h0M133.7 812.2h0M133.5 805.1h0M133.3 811.8h0M133.7 783.5h0M133.5 784.1h0M133.1 919.7h0M133.5 935.4h0M133.4 927.2h0M133.5 943.4h0M133.6 927h0M134.3 805.4h0M134.6 782.3h0M134.4 777h0M134.4 779.9h0M134.5 794.6h0M134.1 925.5h0M134.1 938.4h0M134.3 950.8h0M134.9 944.8h0M134.1 926.2h0M135.3 801.5h0M135.5 774.4h0M135.7 796h0M135.1 783.9h0M135.9 788.9h0M135.1 925.8h0M135.7 936.5h0M135.6 947.3h0M135.9 935.7h0M135.6 933.2h0M136.9 785.4h0M136.9 749.9h0M136.9 762.7h0M136.3 783.9h0M136 728.3h0M136.8 917.9h0M136.4 932.1h0M137 923.5h0M136.4 940.4h0M136.9 931h0M137 784.4h0M137.7 749.1h0M137.4 784h0M137.3 771.5h0M138 775.5h0M137.3 921.2h0M137.3 951.1h0M137.2 927.8h0M137.1 926.5h0M137.1 941.7h0M138.8 783.3h0M138.7 755.7h0M138.3 780.5h0M138.2 751h0M138.7 776.6h0M139.2 780.2h0M139 772.7h0M139.2 767.2h0M139 755h0M139 746.5h0M139.2 744.6h0M138.8 731.9h0M139 724.6h0M139 724.2h0M138.7 918.7h0M138.6 920.7h0M139 937.4h0M138.6 924.4h0M138.7 924.6h0M140 779.6h0M140 766.1h0M139.6 769.1h0M139.2 765.3h0M139.1 775.5h0M139.1 918h0M139.9 931h0M139.6 918.7h0M139.6 928.3h0M139 930.8h0M140.7 775.2h0M140.8 773.7h0M140.5 756h0M140.3 730.6h0M140 759h0M140.5 772.1h0M140.8 762.8h0M140.2 758.5h0M140.5 755.7h0M140.2 744.8h0M140.6 740.4h0M140.5 730.9h0M140.5 729.7h0M140.3 914.8h0M140.7 922h0M140.8 923.5h0M140.8 925.6h0M140.2 924.6h0M140.9 922h0M140.7 928.7h0M140.8 932.9h0M141.4 767.6h0M141.3 730.3h0M141.1 735h0M141.2 745.7h0M141.4 759.6h0M141.9 906.2h0M141.8 908h0M141.1 939.3h0M141.5 909.6h0M141.2 929h0M142.8 770.5h0M142.8 761h0M142.2 740.5h0M142.2 765.3h0M142.8 749.6h0M142.8 911.4h0M142.1 934.9h0M142.7 928.9h0M142.6 913.4h0M142.4 919.2h0M143.8 764.2h0M143.2 748.6h0M143.6 708.3h0M143.1 745.4h0M143.9 743.1h0M143.3 760.1h0M143.6 754.4h0M143.5 744.8h0M143.8 739h0M143.7 731.6h0M143.5 730.6h0M143.3 718.1h0M143.5 715.5h0M143.8 704.5h0M143.7 699.2h0M143.6 697.8h0M143.1 908.4h0M143.4 910.1h0M143.9 938.9h0M143.5 934.9h0M143.6 917.8h0M142.8 914.3h0M143 922.6h0M143.3 943.7h0M143.1 951.1h0M143 959h0M144.9 766.3h0M144.5 748.1h0M145 756.1h0M144.4 723.4h0M144.7 762.8h0M143.8 759.4h0M143.8 752.8h0M144.2 746.2h0M144.3 742.8h0M144 737.8h0M144.2 729.1h0M143.8 722.7h0M144.3 713.2h0M144 711h0M144.7 899.6h0M144.3 920.3h0M144.9 900.4h0M144.5 931.9h0M144.5 904.1h0M145.5 768.8h0M146 739.8h0M145.3 730.4h0M145 754.2h0M145.5 728.8h0M145.8 907.7h0M145.7 911.6h0M145.6 926.7h0M145.9 910.8h0M145.3 911.4h0M144.9 908.7h0M145 926.3h0M145.2 934.4h0M145.1 950.6h0M145 954.7h0M146.2 773.5h0M147 769h0M146.7 758.3h0M146 748.7h0M146.2 766h0M146.2 904.5h0M146.1 907.4h0M146.2 937.5h0M146.8 910.9h0M146.8 927.3h0M147.4 773.4h0M147.4 769.8h0M147.6 766.9h0M147.4 755h0M147.6 745.9h0M147.4 906.1h0M147.9 918.3h0M147.9 918.6h0M147.9 907.6h0M147.1 914.5h0M148.9 773.7h0M148.6 771.6h0M148.6 746.8h0M148 765.2h0M148.7 769.5h0M148.6 896.5h0M148.9 905.7h0M148.7 914.6h0M148.9 900.8h0M148.9 926.2h0M149.2 772.2h0M149.9 751h0M149.2 737.9h0M149.6 722.5h0M149.1 734.6h0M149.8 769.3h0M149.5 763.4h0M149.7 753.9h0M149.4 748.3h0M149.6 742.9h0M149.2 905.2h0M149.4 907h0M149.2 905.4h0M149.9 923.2h0M149.7 909.3h0M150.3 771h0M151 767.3h0M150.2 712.2h0M150.4 738h0M150.6 769h0M150.8 902.8h0M150.3 920h0M151 923h0M150.8 911h0M150.9 920.4h0M151.3 908.6h0M151 921.4h0M151 923.7h0M151 772.6h0M151.9 742.2h0M151.1 738.2h0M151.4 751.3h0M151.5 757.3h0M152 903h0M151.7 919.4h0M151.5 904.8h0M151.2 910.3h0M151 928.8h0M152.3 775.9h0M152.6 762.3h0M152.2 732.4h0M152.5 760.5h0M152.3 743.3h0M152.9 896.6h0M152 904.5h0M153 897.4h0M152.2 902.1h0M152 922.3h0M152.5 898.9h0M152.1 911h0M152.4 916.9h0M153.8 774.2h0M153.3 749h0M153.1 748.8h0M153 765.8h0M153 748.7h0M153.5 901.7h0M153.1 921h0M153.3 909.7h0M153.9 912h0M153.6 915.5h0M154.4 776.6h0M154.1 771.1h0M154 765.5h0M154.3 759.2h0M154.8 745.8h0M154.2 898.4h0M154.5 915.5h0M154.7 917.5h0M154.9 908h0M154.3 937.1h0M155.8 772.8h0M155.2 770h0M155.5 754.7h0M155.1 758.9h0M155 760.6h0M155.7 900h0M155.1 908.5h0M155.3 911.6h0M155.3 915.8h0M155.1 902.7h0M156.6 772.5h0M156.9 726h0M156.4 767.5h0M156.2 763h0M156.6 740.5h0M156.8 897.1h0M156.5 899.7h0M156.7 918.7h0M156.7 921.5h0M156.4 902.1h0M157.8 769.9h0M157.7 766.7h0M158 768.6h0M157.5 749.1h0M157.7 736.5h0M157.7 898.7h0M157.6 915.6h0M157.4 915.2h0M157.1 916.1h0M157.3 905.4h0M158.5 767.7h0M158.7 753h0M158.9 761.5h0M158.5 753h0M158.1 750.2h0M158.6 895.5h0M158.5 904.3h0M158.5 895.6h0M158.1 900.3h0M158 919.6h0M159.3 769.9h0M159.4 741.6h0M159.3 753.4h0M159.4 761.7h0M160 755.7h0M159.8 768.5h0M159.8 757.6h0M159.8 752.1h0M159.3 745.8h0M159.6 738.2h0M159.2 896.6h0M159.6 897.6h0M159.8 908.4h0M159.3 903.7h0M159.8 911.6h0M160.7 763h0M160.5 762.7h0M160.2 760.5h0M160.1 734.4h0M160.1 750.9h0M160.4 896.9h0M160.6 915.3h0M160.7 908h0M160.6 912.6h0M160.1 898.2h0M161.8 760.3h0M161.7 753.6h0M161.8 702.2h0M161.3 755.2h0M161.9 759.1h0M161.4 888.1h0M161.4 888.3h0M161.9 917.1h0M161.5 888.4h0M161.2 892.5h0M162.5 757.9h0M162.2 732.2h0M162.2 746h0M162.5 748.9h0M162.5 722.7h0M162.4 894.7h0M162.5 926h0M162.1 934.5h0M162.2 896.4h0M162.1 895.8h0M163.1 755.5h0M163.1 701.1h0M164 720.2h0M163.5 734.4h0M163.7 732.6h0M163.8 897.8h0M164 903.3h0M163.2 906.1h0M163.9 920.5h0M163.7 905.7h0M164.7 758h0M164.7 726h0M164.3 703.4h0M164.7 747.8h0M164.4 706.3h0M164.6 899.7h0M164 916.3h0M164.4 903.8h0M164.7 910h0M165 907.1h0M165.8 749h0M166 712.9h0M165.8 740.9h0M165.3 705.8h0M165.4 737.3h0M165.4 898.6h0M165.9 908.2h0M165.5 914.8h0M165.6 917.7h0M165.2 907h0M165.4 905.5h0M165.5 911.6h0M165.9 922.9h0M165.7 934.8h0M166.8 746.5h0M166.7 743h0M166.9 735.4h0M166.5 728h0M166 728.9h0M165.9 742.4h0M166.2 736.4h0M165.8 725.6h0M165.8 720.6h0M166 717.9h0M165.9 707h0M166 701.1h0M166.1 691.9h0M165.9 684h0M165.8 676.7h0M166.1 670.9h0M166 666.1h0M166 662.7h0M166.9 896.4h0M166.3 930.8h0M166.9 934.1h0M166.5 901.6h0M166.3 923.3h0M168 743.8h0M167.1 723.9h0M167.9 729.2h0M167.8 701.5h0M167.7 709.8h0M167.4 742.7h0M167.6 730.1h0M167.3 729.4h0M167.6 719.9h0M167.3 713.7h0M167.3 703.9h0M167.5 696.6h0M167.7 691.1h0M167.6 688.8h0M167.9 897.2h0M167.9 914.7h0M168 917h0M167.7 911.5h0M168 910h0M168.6 741.9h0M168.2 723.6h0M168.3 695.5h0M168.2 727.5h0M168.2 717.7h0M168.8 739.7h0M168.7 730.1h0M168.7 724.4h0M168.6 719.7h0M169.1 712.4h0M168.9 702.3h0M169.1 697.2h0M168.7 691.1h0M168.8 688.3h0M168 901.8h0M168.2 910.3h0M168.7 928.7h0M169 907.2h0M168.3 903.8h0M169.1 743h0M169.1 723.3h0M169.3 721.2h0M169.1 713.3h0M169.1 737.5h0M169.2 898.5h0M169.8 904.5h0M169.7 902.6h0M169.2 906.8h0M169.5 922.9h0M170.6 744.8h0M170.5 738.1h0M170.7 711.2h0M170.2 717.5h0M170.7 712.6h0M170.2 900h0M170.9 908.6h0M170.5 930.3h0M170.7 921.7h0M170.2 913.1h0M170.5 908.7h0M170.4 912.4h0M170.1 926.7h0M170.3 945.5h0M170.3 956.3h0M170.4 957.4h0M171.7 744.1h0M171.1 733.2h0M171.1 731.3h0M171.2 711.2h0M171.8 736.3h0M171.4 903.8h0M171.3 935.1h0M171.7 945.2h0M171.2 928h0M171.7 928.2h0M172.7 750.4h0M172.4 738.5h0M172.6 738.9h0M172.3 740.2h0M172.1 741.6h0M172.2 894.5h0M172.4 917.1h0M172.4 921.1h0M173 916.5h0M172.1 921.6h0M173.7 751.3h0M173.9 747.2h0M173.5 751.1h0M173.2 746.5h0M173.3 709.4h0M173.9 904.7h0M173.9 905.9h0M173.1 905.6h0M173.9 915.2h0M173.1 927.1h0M174 753.2h0M174.4 749.6h0M174.3 705.3h0M174.6 745.3h0M174.8 712.3h0M174.3 904.4h0M174.7 905.6h0M174.4 909.5h0M174 907.1h0M175 909.1h0M175.1 755.2h0M175.3 744.9h0M175.9 735.1h0M175.9 755h0M175.2 739.4h0M175.6 901.6h0M175.2 912h0M175.7 913.2h0M175.6 907.5h0M175.6 907.8h0M176.7 750.6h0M176.5 702.6h0M177 738.7h0M176.6 743.2h0M176.2 720h0M176.3 897h0M176.7 901.3h0M176.2 897.9h0M176.1 918.5h0M176.8 906.8h0M177.1 753.3h0M177.7 752h0M177.2 704.4h0M177.8 725.9h0M177 723.5h0M177.4 898.4h0M177.7 899.7h0M177.4 914.1h0M177.1 898.8h0M177.6 912.8h0M177.3 902.5h0M177.2 920.2h0M177.5 935.1h0M177.3 936.8h0M178.2 752.3h0M178.2 747.4h0M178.5 741h0M178.4 742.2h0M178.5 698.1h0M178 745h0M178.3 742.7h0M178.3 732.6h0M178.1 724.8h0M178.5 715.8h0M178.5 712.6h0M178.1 703.2h0M178 694h0M178 686h0M178.4 682.3h0M178.2 676h0M179 904.1h0M178.3 933.3h0M178.6 906.7h0M179 905.3h0M178 915.6h0M179.3 753.5h0M179.9 748.4h0M179.3 745.4h0M179.8 739.6h0M179.9 730.2h0M179.3 901.4h0M179.2 908.3h0M179.9 910.8h0M179.1 927.5h0M179.6 926.4h0M179.7 908.4h0M179.6 916.2h0M179.4 926.2h0M180.2 755.7h0M180.9 755.6h0M180.2 739.9h0M180.9 752.7h0M181 727.4h0M180.3 749.4h0M180.1 746.5h0M180.5 735.3h0M180.2 733.9h0M180.1 727.3h0M180.6 717.7h0M180.4 713h0M180.1 702.4h0M180.5 696.3h0M180.4 689.4h0M180.6 685.2h0M180.3 680.2h0M180.8 899.1h0M180.4 911.1h0M180.8 923.8h0M180.4 912.7h0M180.5 950.8h0M181.2 758.3h0M181.8 742.7h0M181.2 704.2h0M181.2 741h0M182 725h0M181.7 904.1h0M181.5 914h0M181.8 931h0M181 921.3h0M181.7 929.2h0M182.7 762.5h0M182.6 751.2h0M182.7 762h0M182.5 758.2h0M182.2 757.2h0M182.9 907.8h0M182.2 911.6h0M182.2 910.6h0M182.3 911.5h0M182.1 917.8h0M182.4 910.3h0M182.9 921.2h0M182.6 936.5h0M182.7 941.4h0M183.3 759.5h0M183.6 751.7h0M183 756.7h0M183.4 758.6h0M183.8 748.7h0M183.5 754.2h0M183.8 752h0M183.4 739.2h0M183.4 732h0M183.5 726.2h0M183.4 718.3h0M183.6 710.5h0M183.8 704.3h0M183.4 701.6h0M183.2 690.8h0M183.7 683.5h0M183.3 679.8h0M183.5 674.6h0M183.3 910.7h0M183.6 921.8h0M183.7 918.2h0M183.9 912h0M183.8 912.3h0M184.7 759.6h0M184.9 736.2h0M184.8 746.2h0M184.1 745.3h0M184.8 737h0M184.4 754.4h0M184.3 748h0M184.4 745.5h0M184.4 736.6h0M184.2 732.6h0M184.6 721.7h0M184.4 717h0M184.7 712.3h0M184.7 701.6h0M184.3 695.7h0M184.5 693.2h0M184.7 902.2h0M184.9 912h0M184.7 906.1h0M184.7 913.6h0M184.6 917.5h0M185.7 760.4h0M185.9 754.4h0M185.4 711.2h0M185 733.8h0M185.5 756.8h0M185.4 910.7h0M185.9 910.8h0M185.2 918.9h0M186 935h0M185.5 911.6h0M186 762h0M186.2 728h0M187 715.7h0M187 743.8h0M186.6 734.9h0M186.7 758.8h0M186.5 752.3h0M186.8 744h0M186.6 739.1h0M186.9 733.4h0M186.7 725h0M186.7 717.6h0M186.7 710.1h0M186.5 698.7h0M187.1 692.9h0M186.6 685.6h0M186.8 683.3h0M186.5 908h0M186.4 912.4h0M186.8 924.3h0M186.3 915.5h0M186.8 911.1h0M185.8 912.4h0M186.1 919.6h0M186.2 936h0M186 940h0M187 767.8h0M187.4 740.4h0M187.9 748.5h0M187.2 718.4h0M187.3 767.7h0M187.6 767.4h0M188.1 756.3h0M188.2 747.7h0M188.2 740.8h0M188.1 730.3h0M187.9 729.9h0M187.6 908.7h0M187.7 916.7h0M188 914.9h0M188 931.9h0M187.1 909.7h0M188.6 769.1h0M189 721.8h0M188.7 754.9h0M188.2 752.6h0M188.7 769.1h0M188.3 768.5h0M188.3 761.9h0M188.2 754.2h0M188.4 746.1h0M188.5 733.1h0M188.2 727.9h0M188.3 723.8h0M188.4 717.7h0M188.4 711.1h0M189 903.5h0M188.8 920.2h0M188.5 914.1h0M188.1 952h0M188.1 903.5h0M189.8 767.5h0M189.4 767.1h0M189.8 763.2h0M189.9 746.7h0M189.4 741.5h0M189.1 904.4h0M189.3 919.6h0M189.1 909.7h0M189.1 911.1h0M189 917.1h0M191 765.7h0M190.2 737.7h0M190.3 715.6h0M190.7 733.3h0M190.5 765.7h0M190.1 904h0M190.8 911.6h0M190.2 916.7h0M190.5 915h0M190.4 907.5h0M191 762.7h0M191.3 742.9h0M191.7 754.1h0M191.2 723.2h0M191.3 750.4h0M191.6 756.2h0M191.8 750.1h0M191.8 743.2h0M191.3 737.6h0M191.4 731.9h0M191.4 718.8h0M191.8 714.8h0M191.8 708.2h0M191.9 700.6h0M191.6 694h0M191.5 904.5h0M191.7 905h0M191.1 907.3h0M192 937.9h0M191.8 936.2h0M192.2 763.3h0M192.4 752.6h0M192.8 763.1h0M192.7 746.4h0M192.5 748.4h0M192.6 757.5h0M192.9 752.1h0M192.9 745.3h0M192.5 735.2h0M192.7 732.4h0M192.2 896h0M192.9 899.9h0M192.4 902.2h0M192.1 908h0M192.8 897.3h0M193.2 762.3h0M193.3 758.8h0M193.3 756.8h0M193.4 744h0M193.2 741.9h0M193.6 758.2h0M193.7 750.2h0M193.4 742.5h0M193.8 736.5h0M193.5 731.9h0M193.5 725h0M193.4 717h0M193.4 710.3h0M193.6 705.6h0M193.2 902.3h0M193.1 910.6h0M193.5 903.3h0M193.3 902.9h0M193.3 907.4h0M194.2 758.9h0M194 728.8h0M194.6 736.7h0M194.6 758.7h0M195 755.1h0M194 892.1h0M194.7 920.2h0M194.3 896.9h0M194.4 909.1h0M194.5 907.9h0M195.8 757.4h0M195.6 751.3h0M195.2 719.2h0M195.4 688.3h0M195.7 728.3h0M195.2 755.8h0M195.4 748.1h0M195.1 735.5h0M195.1 733.5h0M195.3 720.3h0M195.3 720.1h0M195.1 893.3h0M195.8 921.4h0M195.6 903.9h0M195.2 897.1h0M195.1 899.7h0M196.5 758.1h0M196.3 707.8h0M196.1 712.1h0M196.6 740.1h0M196.1 727h0M195.9 752.9h0M196 743.3h0M196.3 739.9h0M196.3 732h0M196.4 726.4h0M196.4 716.1h0M195.9 707h0M195.9 696.8h0M196.2 692.3h0M196.2 687.5h0M196.2 898.5h0M196.8 928.9h0M196.8 905.3h0M196.9 926.5h0M196.1 900.7h0M197.9 755.8h0M197.1 750.8h0M197.4 734.8h0M197.7 750.2h0M197.7 730.8h0M197.3 890.3h0M197.6 919.6h0M197.6 897.5h0M197.3 923.5h0M197.3 910.3h0M198.4 757.8h0M198.3 752.7h0M198.6 754.4h0M198.9 726.2h0M198.2 754.5h0M198.6 755.7h0M198.6 748.2h0M198.8 738h0M198.5 734.4h0M199 725.8h0M199 717.7h0M198.6 714.5h0M198.5 705.3h0M198.6 697h0M198.7 695.3h0M198 894.1h0M198.8 905.9h0M198.3 896.8h0M198.2 909.1h0M198.2 915.5h0M199.3 757.1h0M199.2 727.9h0M199.9 717.5h0M199.9 742.6h0M199.4 753.3h0M199.9 752.9h0M199.4 747.2h0M199.6 737.4h0M199.5 733.9h0M199.6 728.4h0M199.8 718.2h0M199.7 707.7h0M199.4 706.5h0M199.8 698.7h0M199.6 693.3h0M199.4 894.8h0M199.4 934.7h0M199.7 902.4h0M199 905.7h0M199.3 905.4h0M199.7 902.8h0M199.4 913.4h0M199.5 919.9h0M199.5 922.9h0M200.2 756.4h0M200.6 732.4h0M200.8 728.4h0M201 727.4h0M200.9 722.8h0M201.3 755.3h0M200.8 743.4h0M200.8 740.9h0M200.8 735.1h0M201 730.1h0M200.5 886.9h0M200.8 889.7h0M200.9 908.5h0M201 906.1h0M200.4 905.6h0M201.1 760.2h0M201.5 739.5h0M202 720.2h0M201.8 760.1h0M201.7 727.6h0M201.2 753.6h0M201.6 747.9h0M201 744.1h0M201.2 731.4h0M201.3 729.1h0M201.1 891.8h0M201 911h0M201.6 895h0M202 917h0M201.6 897.2h0M202.6 754.9h0M202.6 694.5h0M202.2 737.3h0M202.7 698h0M202.8 719.6h0M202.1 890.2h0M202.1 894.5h0M202 925.4h0M202.7 929.7h0M202.3 912.2h0M203.5 757.9h0M203.1 728.3h0M203.3 735.4h0M203.6 730.1h0M203.5 702.4h0M203.5 753.6h0M203.6 745.5h0M203.4 739.6h0M203.8 738h0M203.6 732.1h0M203.9 886.4h0M203.7 897.7h0M203.4 895h0M203.7 899.2h0M203.8 931h0M203.3 891.7h0M203 903.8h0M203.4 924.1h0M203.2 927.6h0M204.1 754h0M204.9 750.2h0M204.6 717.7h0M204.9 721.7h0M204.4 742.3h0M204.1 891.4h0M204.7 919.6h0M204.1 914.3h0M204.1 918h0M204 925.3h0M205.3 755.3h0M205.3 739.2h0M205.5 713.2h0M205.3 752.1h0M205.8 750.3h0M205.8 891h0M205.6 897.5h0M205.2 907h0M205.2 904.3h0M205.2 924.3h0M206 759.1h0M206.5 744.8h0M206.8 741.4h0M206.9 731.2h0M206.2 721.5h0M205.9 751.7h0M206.1 749.9h0M206.2 741.9h0M206 730.2h0M205.8 726.2h0M206 715.9h0M206 713.6h0M206.1 705.6h0M206 692.8h0M206 691.5h0M206.1 890.5h0M206.1 906.6h0M206.1 901.6h0M206.4 904.5h0M206.6 904h0M207.2 757.1h0M207.5 753.9h0M207.9 742h0M208 756.9h0M207.7 730.5h0M207.1 890h0M207.4 893.9h0M207.2 900.6h0M207.1 903.3h0M207.2 910.1h0M208.9 762.5h0M208.5 742.8h0M208.9 736h0M208.8 748.7h0M208.6 762.2h0M208.5 757h0M208.9 752.2h0M208.8 748.5h0M208.7 737.3h0M208.7 732h0M208.7 727.7h0M208.9 722.2h0M208.8 711h0M208.7 709.9h0M208.1 888h0M208.7 891h0M209 896.9h0M208.1 891h0M208.2 906.8h0M209.6 762h0M209.3 713.9h0M209.9 719.8h0M209.4 725h0M209.3 735h0M209.4 887.2h0M209.2 903.4h0M209.1 911.9h0M209.3 900.8h0M209.9 910.3h0M210.5 763.2h0M210.6 752.4h0M211 749.5h0M210.3 743.9h0M210.8 749.4h0M210.4 884.1h0M210.7 912.3h0M211 905.2h0M210.8 905.9h0M210.1 888.6h0M210.6 893.6h0M210.5 906.2h0M210.6 918.7h0M210.4 920.4h0M211.8 763.1h0M211.3 730.3h0M211.3 752.7h0M211.2 735h0M211.2 753.9h0M211.7 886.1h0M211.8 894.7h0M211.4 898.9h0M211.9 915.8h0M212 888.7h0M211.6 887.2h0M211.4 901.8h0M211.4 908.1h0M211.4 912.5h0M213 763.3h0M212.5 761.9h0M212.2 759.8h0M212.4 737.9h0M212.7 749.8h0M212.1 885.8h0M212.4 908.2h0M212.9 892.9h0M212.1 895.4h0M212.8 896h0M213.4 766.3h0M213.2 742h0M213.2 730h0M213.9 721.9h0M213.8 753.2h0M213.3 889.2h0M213.6 945.5h0M213.6 897.7h0M213.7 900.3h0M213.2 918.9h0M214.7 761.1h0M215 714.2h0M214 741.3h0M214.5 750.5h0M214.9 751.3h0M214.2 881h0M214.9 900.6h0M214.1 893.7h0M214.8 933.3h0M214.9 900.4h0M216 761h0M215.8 757.3h0M215.3 755.5h0M215.8 749.2h0M215.2 751h0M215.7 888.7h0M215.8 897.3h0M215.3 889.7h0M215.8 924.7h0M215.5 904.7h0M215.7 900.4h0M215.5 903.4h0M215.5 920.3h0M215.5 928.8h0M215.4 947.1h0M215.6 949.5h0M217 764.3h0M216.6 763.7h0M216.3 742.7h0M216.6 759.6h0M216.8 749.8h0M216.9 888.4h0M216.8 899.9h0M216.4 902.9h0M216 900h0M216.2 904.7h0M216.3 889.6h0M216.5 904.1h0M216.5 911.1h0M216.3 925.2h0M216.3 926.8h0M217.1 764.2h0M217.7 753.7h0M217.5 756.7h0M217.8 727.5h0M217.4 716.8h0M217.3 886.6h0M217.6 911.1h0M217 908.4h0M217.6 915.2h0M217.2 901.4h0M219 760.5h0M218.1 749.4h0M218.5 748.4h0M218.6 743h0M218.2 721.8h0M219 885.5h0M218.8 907.8h0M218.4 918.4h0M218.7 924.4h0M218.6 889.3h0M219.7 760.4h0M219.7 759.1h0M219.9 728.2h0M219.5 750.1h0M219.5 734.9h0M219.3 887.2h0M219.6 890.6h0M219.6 922.1h0M219.9 889.7h0M219.1 900h0M220.9 763.8h0M220.9 741.2h0M220.3 757.2h0M220.9 748.7h0M220.5 756.5h0M220.8 757.8h0M220.9 754.7h0M220.9 747.8h0M220.5 738.7h0M220.5 735.4h0M220.8 728.7h0M220.7 877.7h0M220.5 890h0M220.7 902.7h0M220.2 888.2h0M220.9 918.5h0M221.5 759.8h0M221.5 719.3h0M221.4 727.3h0M221.5 734.7h0M221.7 759.1h0M222 877.2h0M221.3 883.6h0M222 916.2h0M221.7 886.8h0M221.1 894.1h0M222.5 759.6h0M222.6 740.3h0M222.9 746.1h0M222.1 756.2h0M222.1 728.8h0M222.6 756.9h0M222.6 752.2h0M222.4 742.7h0M222.1 740.2h0M222.5 734.6h0M222.4 729.7h0M222.7 883.7h0M222.4 890.4h0M222.2 903.2h0M222.6 885.3h0M222.4 918.1h0M223.6 762.6h0M223.1 754.2h0M224 742.5h0M223.9 750.3h0M223.4 759.4h0M224 888.1h0M223.2 892.1h0M223.9 902.7h0M223.2 918.6h0M223.3 929.8h0M224.6 760.4h0M224.8 748.4h0M224.9 741.2h0M224.1 732.1h0M224 737.5h0M224.1 885h0M224.3 909h0M224.3 903.9h0M224.8 894.6h0M224.3 904.1h0M225.2 762.2h0M225.7 723.3h0M225.7 759.9h0M225.4 719h0M225.1 761.8h0M225.3 887.8h0M225.1 895h0M225.7 898.4h0M225.3 905.2h0M225 894.8h0M226.8 761.4h0M226.4 758.7h0M226.4 754.1h0M226.6 758.7h0M226.8 741.7h0M226.7 888.9h0M226.8 889.2h0M227 901.5h0M226.6 909.1h0M226.9 918.8h0M227.6 765.1h0M227.7 751.7h0M227.8 752.6h0M227 762.5h0M227.3 754.7h0M227.5 759.6h0M227.5 753.4h0M227.2 742.7h0M227.1 737.9h0M227.3 734h0M227.2 884.3h0M227.1 886h0M227 907.9h0M227.4 931.5h0M227.1 892h0M228.1 764.7h0M228.6 764.4h0M228.9 750.8h0M228.2 752.6h0M228.4 753.4h0M228 886.3h0M228.6 892.3h0M228.1 901.9h0M228.1 895.5h0M228.9 891h0M228.7 888.1h0M228.8 904.8h0M228.6 914.1h0M228.9 916.7h0M228.7 926.1h0M229.5 761.9h0M229 718.3h0M229.8 726.5h0M230 755.7h0M229.1 740.7h0M230.1 760.3h0M230 750.7h0M229.7 740.5h0M229.6 734.2h0M230 725.7h0M229.9 723.1h0M229.6 711.4h0M229.9 710.9h0M229.2 894.7h0M229.9 904h0M229.3 906.5h0M229 915.4h0M229.8 913.1h0M230.5 763.5h0M230.8 742.9h0M230.3 752.1h0M230.4 737.4h0M230.6 753h0M231 893.3h0M230.8 896.9h0M230.3 898.9h0M230.5 895.5h0M230.4 898.3h0M231.6 764h0M231.3 759.3h0M231.5 750.1h0M231.6 744.9h0M231.7 747.9h0M231.6 896.5h0M231.9 910.9h0M231.2 911.3h0M231.7 919.1h0M231.8 898.9h0M231.6 898.4h0M231.9 908.7h0M231.8 918.6h0M232.6 762.1h0M232.4 757h0M232.5 759.8h0M232.2 752.8h0M232.4 724.4h0M232.3 888.6h0M232.5 891.4h0M232.6 893.1h0M232 909.1h0M232.9 890.7h0M233 888.7h0M232.7 906.8h0M232.7 920.6h0M232.9 923.2h0M233.1 932.3h0M233.1 947.7h0M232.9 953.2h0M233.1 763.4h0M233.9 742.1h0M233.3 734.8h0M233.7 758.4h0M233.5 739.2h0M233.3 899.1h0M233.9 916.1h0M233.2 905.9h0M233.5 903.3h0M233.1 904.7h0M233.1 910.3h0M233.5 913.4h0M232.9 926.7h0M233.2 933.2h0M234.2 770.9h0M234.1 739.1h0M234.4 763.6h0M234.4 761.5h0M234.9 770.9h0M234.7 768.6h0M234.9 760.5h0M234.9 752.6h0M234.5 748h0M234.7 741.6h0M234.6 739.1h0M234.8 731.1h0M234.8 727.4h0M234 892.6h0M234.3 911.5h0M234.5 905.4h0M234.1 893.1h0M234.1 912h0M235.5 770.3h0M235.2 750.1h0M235.2 758.7h0M235.5 766.5h0M235.1 765.7h0M235.5 894.1h0M235.7 896.2h0M235.9 902.7h0M235.1 908.3h0M235.9 894.9h0M236.3 776.7h0M236.9 772.3h0M236 775.6h0M236.5 756.7h0M236.2 773.2h0M236.6 775.7h0M236.8 765.9h0M236.9 759.5h0M236.5 755.7h0M236.9 747.6h0M236.8 746.4h0M236.7 899h0M236.4 905.9h0M236.3 909.9h0M236.5 912h0M236.9 899.3h0M237.4 779.9h0M237.4 776.4h0M237.1 755h0M237.7 777h0M238 772.8h0M237.3 898.8h0M238 902.8h0M237.3 906.5h0M237.7 903.3h0M237.6 907.1h0M238.4 773.5h0M239 760h0M239 764.9h0M238 764.8h0M238.7 764.8h0M238.3 770.7h0M238.3 762.1h0M237.9 753.9h0M238.4 747.7h0M238.2 746.6h0M238.6 900.4h0M238.6 922h0M238.6 907.2h0M238.2 901.6h0M238.5 903.7h0M239.6 770h0M239.9 769.1h0M239.6 732.3h0M239.2 763.7h0M239.5 750.8h0M239.9 766.8h0M239.9 757.6h0M239.9 752.6h0M240.1 749.4h0M240.1 742.7h0M239.5 732.8h0M239.8 726.2h0M240 724h0M239.8 718.1h0M239 894.5h0M239.9 896.4h0M239.2 921.2h0M239 904.4h0M239 913.1h0M240.7 765.4h0M240.7 760.7h0M240.9 758.4h0M240.6 725.1h0M241 744.8h0M240 762.3h0M239.9 754.6h0M240.4 747.1h0M240.4 739h0M240 736h0M240.2 726.9h0M239.9 718.3h0M240.2 709.3h0M240.4 706.6h0M240.2 701.7h0M240.5 895.4h0M240.6 915h0M240.2 897.8h0M240.6 897h0M240.3 906.3h0M241.9 761.9h0M241.4 718h0M241.6 729.1h0M241.1 734.7h0M241.2 740h0M241.7 902.5h0M241.3 908h0M241.4 914.2h0M241.5 922.6h0M241.5 906.3h0M242.4 758.9h0M242.4 751.6h0M242.1 742.5h0M242.1 754h0M242.7 755.7h0M242.4 901.3h0M242.2 902.2h0M243 901.9h0M242.2 904.2h0M242.9 929.2h0M243 909.6h0M242.7 914h0M242.7 933.4h0M242.8 937.5h0M243.8 755.7h0M243.6 742.4h0M243.1 711.7h0M243.2 728.1h0M243.8 721.6h0M243.5 751.3h0M243.6 743.7h0M243.4 737.5h0M243.7 731.8h0M243.8 726.8h0M243.7 716.8h0M243.6 709.2h0M243.5 700.2h0M243.5 692.8h0M243.4 691.3h0M243.6 684.4h0M243.4 909.5h0M243.6 909.7h0M243.9 910h0M243.4 910.9h0M243.5 932.8h0M244.2 758.4h0M244.4 691h0M244.5 749.5h0M244.9 720.1h0M244.6 707.7h0M244.7 752.6h0M244.3 746.5h0M244.7 739.7h0M244.7 729.5h0M244.2 719.6h0M244.6 712.2h0M244.5 711.7h0M244 903.2h0M244.4 919.4h0M244.6 928.8h0M244.9 929.2h0M244.2 905.2h0M244.5 914.2h0M244.6 926.7h0M244.3 936.1h0M244.3 938.6h0M245.9 758.9h0M245.6 713h0M245.6 742.4h0M245.8 737.7h0M245.2 702.9h0M245.8 908.3h0M245.1 920h0M245.3 913.5h0M245.4 911.6h0M245.4 914.8h0M246.9 760.5h0M246.9 728.8h0M246.8 749.5h0M246.8 758.8h0M246.4 730.4h0M246 755h0M246.3 748h0M246.1 746.7h0M246.1 735.2h0M246.1 730.1h0M246.2 723h0M246.4 717.7h0M246.3 711h0M246.1 702.3h0M246 695.3h0M246.2 690.7h0M246.1 681.5h0M246.3 680.6h0M246.2 908.5h0M246 921.9h0M246.6 908.7h0M246.4 923.4h0M246.6 927.5h0M247.1 908.9h0M246.8 925h0M247.5 762.9h0M247.5 759.2h0M247.5 759.3h0M247.4 728.1h0M247.2 759.2h0M247.7 756.2h0M247.4 750.9h0M247.7 739.5h0M247.7 735.5h0M247.8 727h0M247.8 720.6h0M247.7 714.9h0M247.8 905.2h0M247.3 910.8h0M247.4 924.4h0M247.5 910h0M247.4 914.4h0M248.2 769.5h0M248.4 735h0M248.1 724.4h0M248.6 767.8h0M248.3 707.1h0M248.6 904.2h0M248.6 910.6h0M248.6 917.3h0M248.7 907h0M248.1 914.1h0M249.3 770.5h0M249.4 768.1h0M249.6 763.5h0M249.4 764.4h0M250 758.2h0M249.3 767.4h0M249.4 756.5h0M249.6 748.5h0M249.7 742.1h0M249.5 738.2h0M249.1 906.8h0M249.4 911.4h0M249.6 916.1h0M249.3 918.4h0M249.4 921h0M250.3 769.5h0M250.5 767.6h0M251 761.1h0M250.9 734.6h0M250.3 750.6h0M250.5 898.5h0M250.3 929.9h0M250.3 924.5h0M251 906.3h0M250.1 916h0M251.6 770.2h0M251.7 725.3h0M251.8 769.4h0M251.9 763h0M251.4 750.1h0M251.7 906.5h0M251.7 918.9h0M252 907.2h0M252 910.2h0M251.3 907.8h0M252.9 766.9h0M252.3 719.7h0M252.9 743.8h0M252.2 766.2h0M252.9 766.3h0M252 906.7h0M252.8 914.3h0M252.6 912.5h0M252.8 925h0M252.7 909.9h0M253.9 772.5h0M253.5 759.7h0M253 760.4h0M253.4 769.9h0M253.9 769.8h0M253.5 901h0M253.3 919.9h0M253.3 917.8h0M253.8 909.4h0M253.1 902.8h0M254.4 769.6h0M254.1 722.5h0M254 731.7h0M254.8 743.2h0M254.1 748h0M254.9 903.9h0M254.6 914.5h0M254.7 910h0M254.6 913.3h0M255 918.5h0M256 765.2h0M255.6 745.1h0M255.3 729h0M255.9 763.2h0M255.1 739.1h0M255.5 759.7h0M255.9 751.1h0M255.6 747.7h0M255.7 738.1h0M255.7 729.3h0M255.9 724.1h0M255.5 719.6h0M255.8 709.2h0M255.8 707h0M255.5 698.7h0M255.8 691.1h0M255.6 685.5h0M255.7 906.8h0M255.9 924.5h0M255.3 916.8h0M255.8 914.4h0M255.2 907.2h0M254.9 913.6h0M255 923.5h0M255.2 930.3h0M255.2 932.4h0M256.2 767.9h0M256.9 765.3h0M256.5 717.1h0M256.3 736.7h0M256.6 756.4h0M256.3 904.2h0M256.8 904.7h0M256.8 919.8h0M256.6 932.9h0M256.3 907.4h0M256.9 907.8h0M256.9 923.6h0M256.5 932.6h0M256.9 943.3h0M256.8 953.5h0M257.7 772.2h0M257.4 760.4h0M257.3 734.5h0M258 735.3h0M257.3 734.7h0M257.7 899.2h0M257.7 902.2h0M257.5 939.7h0M257.9 910.5h0M257 904.1h0M258.8 777.4h0M258.1 743.5h0M258.2 754.2h0M258.4 773.9h0M258.9 740.2h0M258.8 899.2h0M258.9 905.3h0M258.7 900.8h0M258.2 902.3h0M258.5 909.2h0M258.2 904.5h0M257.9 917.3h0M258.2 918.4h0M258.1 926.9h0M260 779.8h0M259.8 749.1h0M259.4 764.7h0M259.2 743.5h0M259.2 732.4h0M259.3 777.8h0M259.2 766.3h0M259.1 763h0M259.4 755.9h0M259.4 749.9h0M259.3 741h0M259 731.9h0M259.5 726h0M259.2 721h0M259 903.8h0M259.1 913.9h0M259.6 906.5h0M259.2 925.3h0M259.2 933.3h0M259.5 907h0M259.3 917.7h0M259.3 926.2h0M259.8 935.5h0M259.6 948.6h0M259.6 952.6h0M260.4 781.2h0M260.2 780.7h0M260.4 776.9h0M260.5 732.7h0M261 741.2h0M260.3 902.1h0M260.8 909.5h0M261 905.8h0M260.6 905.1h0M260.3 904.1h0M261.7 780.1h0M261.2 778.1h0M261.4 764h0M261.5 767.9h0M261.9 749.5h0M261.8 907.7h0M261 919.7h0M261.6 910h0M261.4 908.5h0M261.4 909.2h0M262.9 780.3h0M262.6 777.5h0M262.7 778.1h0M262.4 728.7h0M262.7 776.3h0M262.6 775.8h0M262.5 770.2h0M262.6 761.2h0M262.6 755.2h0M262.2 750.6h0M262.6 740.6h0M262.4 737.9h0M262.3 731h0M262.4 724.9h0M262 905.7h0M262.8 909.8h0M262.9 930.1h0M262.1 907.4h0M263 921.1h0M263.6 777.2h0M263.5 762.4h0M263.8 731.1h0M263.2 760.2h0M263.8 752.8h0M263.5 908.7h0M263.9 908.8h0M263.3 912.1h0M263.6 909.8h0M263.2 924.6h0M264.4 774.3h0M265 768.5h0M264 770.1h0M264.8 757.5h0M264.7 763.3h0M263.9 773.6h0M263.9 766h0M264 755.3h0M264.4 748h0M264.4 745h0M264 737.9h0M264.1 728.3h0M264.2 727.6h0M264.1 721.5h0M264.7 909h0M264.1 909.2h0M264.1 909.5h0M264.4 914.2h0M265 941.1h0M265.5 772.6h0M265.1 745.2h0M265.3 760.8h0M266 747h0M265.5 766.8h0M265.2 907.6h0M265.6 928h0M265.5 927.4h0M265 922h0M265.3 941h0M266.1 771.1h0M266.5 751.5h0M266.1 766.8h0M266 746.1h0M266.2 737.1h0M266.5 767.7h0M266.5 760.2h0M266.5 752.1h0M266.6 744.8h0M266.6 740.4h0M266.6 735.5h0M266.6 722.7h0M266.3 721.4h0M266.5 715.6h0M266.8 904.9h0M266 909h0M266.8 906.2h0M266.1 922.7h0M266.2 917.7h0M266.7 909.3h0M266.8 924.2h0M266.9 936h0M266.8 951.1h0M266.7 954.4h0M267.1 769.4h0M267.5 722.7h0M268 714.7h0M267.4 740.1h0M267.8 768h0M267.2 910.7h0M267.7 914.7h0M267.2 911h0M267.8 916.9h0M267.3 928.3h0M267.5 910.9h0M268.1 923.2h0M267.6 942.2h0M268 943.7h0M267.6 959.6h0M267.8 963.9h0M268.9 768.8h0M268.7 767.1h0M268.9 738.1h0M268.6 752.5h0M268.2 706.6h0M268.3 909.5h0M269 912.2h0M268.3 935.2h0M268 911.2h0M268.5 916.9h0M269.6 767.8h0M269.2 762.5h0M269.5 707.3h0M270 746.1h0M269.4 729.2h0M270.1 762.4h0M270.1 754.9h0M269.8 752.9h0M269.8 741.5h0M269.8 732.4h0M269.9 728.8h0M269.7 723.2h0M270.1 714.4h0M270 706.9h0M270 701h0M269.9 696.8h0M269.6 909.1h0M269.8 913.2h0M269.2 921.3h0M269.9 909.5h0M270 911.3h0M270.3 767.1h0M270.4 747h0M270.4 709.7h0M270.5 747.2h0M270.4 733.5h0M270.4 912.1h0M270.8 921.8h0M270 923h0M270.2 920.7h0M270.3 927.6h0M271.8 766.3h0M271.4 765.5h0M271.9 749.6h0M271.5 759.3h0M271.6 744.9h0M271.9 912.7h0M271.7 920.2h0M271.7 920.3h0M271.1 919.7h0M271.6 938.2h0M272.5 768h0M272.6 765.7h0M272.8 742.4h0M272.7 731.2h0M272.2 767h0M272.5 909.3h0M272.9 931.8h0M272.5 939.4h0M272.2 920.8h0M272.7 918.9h0M273.8 761.1h0M273.2 741.1h0M273.4 677.9h0M273.1 755h0M273.6 683h0M272.9 754.8h0M273.3 748.4h0M273 746.6h0M273.2 737.2h0M273.4 731.1h0M273.2 718.7h0M273.1 718.7h0M273.7 911.7h0M273.1 916.4h0M273.5 916.9h0M273.5 920.7h0M273.7 922.6h0M274.1 761.7h0M274.5 756.5h0M274.1 743.5h0M274.5 718.5h0M274.5 742.2h0M274.2 914.2h0M274.4 915h0M274.5 939h0M274.7 929.3h0M275 925.5h0M275.1 771h0M275.2 758.4h0M275.8 752.2h0M275.5 737.9h0M275.6 719.5h0M275.4 910.4h0M275.4 942.9h0M275.5 916.6h0M275.4 920.1h0M275.6 922.7h0M276.3 781.6h0M276.1 768.4h0M276.7 771.1h0M276.2 780h0M276.2 725.1h0M276.4 907.7h0M276.4 919.5h0M276.8 938h0M276.5 912.7h0M276.6 921.2h0M277.5 794.9h0M277.4 792.8h0M277 789.9h0M277.3 774.3h0M277.3 764.8h0M278.2 789.4h0M278 787.6h0M278 781.4h0M278 775.9h0M277.1 915.6h0M277.9 918.6h0M277.3 918.3h0M277.2 925.2h0M277.2 919.7h0M278.8 794.4h0M278.6 784.6h0M278.7 785.2h0M278.9 769.9h0M278.5 786.3h0M278.7 787.4h0M278.6 785.4h0M278.4 778.5h0M278.4 769.7h0M278.4 760.8h0M278.4 753.3h0M278.5 750.1h0M279 912.4h0M278.3 917.2h0M278.8 914.8h0M278.3 936.5h0M278.3 922.2h0M279.8 800.6h0M279.2 798.1h0M279.9 785.2h0M279.9 793.1h0M279.3 775.6h0M279.3 794.8h0M278.9 786h0M279.2 784.9h0M279.3 772.5h0M279 769.6h0M279.2 764h0M279.1 906.8h0M279.7 917h0M279.2 918.2h0M279.7 926.8h0M279.9 914.3h0M280.8 800.5h0M280.8 793.3h0M280.6 794.4h0M280.7 776.6h0M280.2 794.9h0M280.4 907.6h0M280.1 915.2h0M280.6 916h0M280.1 926.3h0M280.9 941.6h0M281.7 798.1h0M281.4 796.7h0M281.4 771.6h0M281.6 794.9h0M281.5 787.4h0M281.7 791.7h0M281.7 782.9h0M281.5 778.1h0M281.6 772.6h0M281.7 913h0M281.9 936.3h0M281.8 918.8h0M281.8 915.8h0M281.6 930h0M282 798.8h0M282 790.4h0M282.7 797.3h0M282.5 795.5h0M282.8 792.3h0M282.1 909.4h0M282.7 915.8h0M282.7 927.5h0M282.9 912.2h0M282.2 919.6h0M283.8 794.9h0M283.5 788.8h0M283.6 775.9h0M283.7 751.1h0M283.6 773.3h0M283.2 793.2h0M283.1 786.2h0M283.5 780.1h0M283 771.5h0M283.3 765.6h0M283.8 913h0M283.9 915.6h0M283.8 916h0M283.3 926.6h0M283.9 913.5h0M284.9 791.7h0M284.6 774.8h0M284.7 743.5h0M284.2 782.5h0M284.3 778.1h0M284.8 905.4h0M284.4 910.7h0M284 911.1h0M284 919h0M284.1 911.1h0M285.5 790.4h0M285.5 748.7h0M285.6 783.6h0M285.4 786.6h0M285.4 783.7h0M285.8 909.4h0M285.8 926.3h0M286 909.4h0M285.6 916.7h0M285.2 913.4h0M286.4 788.6h0M286.8 775.3h0M286.4 734.8h0M286.8 762.7h0M286.6 761.1h0M286.1 902.7h0M286.3 916.3h0M286.4 933.4h0M286.1 909.9h0M286.9 913.5h0M287 779.6h0M288 773.6h0M287.7 774.6h0M287.7 759.9h0M287.7 772.3h0M287.6 903.7h0M287.4 908.8h0M287.1 927.9h0M287.3 907.8h0M287.3 908.1h0M288.9 775.8h0M288.7 773.4h0M288.3 768.9h0M288.1 749.8h0M288.8 765.4h0M288.2 907h0M288.1 919.9h0M288.8 911h0M288.7 914.8h0M288.1 917.6h0M289.5 769.1h0M289.5 736.5h0M289.6 750.6h0M289.2 743.9h0M289.8 765.9h0M289.6 767.8h0M289.5 756.7h0M289.7 753.4h0M289.7 744h0M289.7 738.5h0M289.7 731.7h0M289.9 725.7h0M289.5 718.9h0M289.7 713.3h0M289.8 906.1h0M289.2 913.1h0M289.8 926.3h0M289.8 920.9h0M289.7 907.8h0M290.3 767.1h0M290.8 761.5h0M291 759.9h0M290 756.9h0M290.1 762.5h0M291 899.4h0M290.8 922.9h0M290.8 928.3h0M290.9 907.7h0M290 900.1h0M291.9 765.2h0M291.6 730.8h0M292 760.2h0M291.8 729.8h0M291.6 718.5h0M291.6 761.2h0M291.5 757.4h0M291.6 750.9h0M291.4 742h0M291.5 737.2h0M291 898.2h0M291.2 933.4h0M291.5 902.7h0M291.8 910.5h0M291.7 904.5h0M292.7 758.3h0M292.5 753.6h0M292.4 696.6h0M292.8 742.7h0M292.5 727.5h0M292.2 894.5h0M293 925.7h0M292 908.9h0M292.2 917.4h0M292.4 914.5h0M294 753.1h0M293.1 730.6h0M293.6 725.9h0M293.4 706.8h0M293.5 722.6h0M293.6 901.2h0M293.5 922.1h0M293.5 924h0M293.2 906.7h0M294 921h0M294.2 751.6h0M294.1 751.5h0M294.7 733h0M294.4 724.4h0M294.2 735.1h0M294.5 900h0M294.7 922.2h0M294.8 924.9h0M294.2 922.1h0M294.4 907.7h0M295.4 745.2h0M295.3 736.6h0M295.4 691.7h0M295.1 724h0M296 740.5h0M295.5 898.6h0M295.8 929h0M295.7 905.3h0M295.2 908.4h0M295.6 904.8h0M296.3 741.9h0M296.2 703.2h0M296.7 712.7h0M296.7 704.2h0M296.6 709.7h0M296.6 892h0M296.7 908.5h0M296.3 907h0M296.3 917.4h0M296.3 907h0M297.8 743.4h0M297.6 705.9h0M297.1 706.8h0M297.2 687.1h0M297.2 737.5h0M297 889h0M297.7 891.3h0M297.7 907.1h0M297.8 896.9h0M297.3 906.5h0M298.8 739.5h0M298.6 736.1h0M298.1 713.2h0M298.9 699.1h0M298 721.5h0M298.8 734.9h0M298.4 727.2h0M298.7 721h0M298.7 716.5h0M298.7 709.6h0M298.3 892.7h0M298.4 894h0M298.6 893.5h0M298.5 905.1h0M298.9 910.4h0M299.4 738.7h0M299.5 735.9h0M299.1 686.4h0M299.7 713.1h0M299.3 688.9h0M299.7 891.2h0M299.2 909.8h0M299.3 901.6h0M299.5 892.7h0M299.3 895.2h0M300.2 737.4h0M300.2 711.3h0M300.9 703.8h0M300.1 704.1h0M300.8 735h0M300.9 735h0M301 730h0M300.8 716.3h0M300.8 712.4h0M300.8 703.4h0M300.8 698.9h0M301 692h0M300.6 681.1h0M300.9 672.7h0M300.8 671.8h0M300.5 662.5h0M300.7 652.1h0M300.8 651.1h0M300.9 892.1h0M300.5 921.1h0M300.7 918.7h0M301 922.5h0M300.8 894h0M301.9 737.7h0M301.8 716.8h0M301.9 722.1h0M301.3 708.6h0M301.7 730.9h0M301.8 883.8h0M301.6 903.2h0M302 915.2h0M301.9 918.3h0M301.4 897h0M302.4 734.8h0M302.6 724.3h0M302.6 725.6h0M302.5 677.4h0M303 732h0M302.7 891.1h0M302.3 903.8h0M302.3 915.7h0M302.2 921.7h0M302.4 921.9h0M302.4 896h0M302.6 906.2h0M302.9 917.9h0M302.7 921h0M302.9 930.9h0M302.6 940.2h0M303.6 734.8h0M303.1 729.7h0M303 723.9h0M304 719.5h0M303.8 699.6h0M303.6 731.5h0M303.8 727.1h0M303.8 715.7h0M303.6 706.5h0M303.5 702.5h0M303.6 693.6h0M303.5 681.9h0M303.5 675.3h0M303.8 670.3h0M303.7 665.6h0M303.8 882.2h0M303.9 887.4h0M303.9 899.3h0M303.1 882.7h0M303.2 898.3h0M303.9 882.6h0M303.5 899.8h0M303.6 913.3h0M303.5 925.5h0M303.6 935.4h0M303.6 943.6h0M303.6 955.5h0M304.3 734h0M304.3 729.5h0M304.2 704h0M304 717.1h0M304.5 709.2h0M304.1 731h0M303.8 721.2h0M304 717.3h0M303.9 712h0M304.1 704.2h0M303.9 699.1h0M304.1 692.3h0M304 685.8h0M304.1 887.6h0M304.2 891.2h0M304.9 914.6h0M304.4 895.6h0M304.3 908.9h0M305.1 736.9h0M306 709.7h0M305 730.7h0M305.8 717.7h0M305.3 724h0M306 731.3h0M306.2 726h0M305.9 717.9h0M305.9 711.6h0M306.2 705.8h0M306.1 701.9h0M305.8 689.7h0M306.1 686.5h0M306.1 682.1h0M305.7 669.5h0M305.7 662.7h0M306 662.6h0M305.8 884.1h0M305.6 885.7h0M305.8 902.5h0M305.9 904.5h0M305.7 889.3h0M306.2 740.3h0M306.2 720.8h0M306.4 734.2h0M306.9 727.1h0M306.7 731.5h0M306.1 888.8h0M306.1 892.9h0M306.2 930.7h0M306.4 897.5h0M306.9 915.8h0M307 736.8h0M307.4 705.3h0M307.8 731.2h0M307.5 736.4h0M307.8 731.4h0M307.3 885.8h0M307.3 895.2h0M307.3 914.8h0M307.9 893h0M307.3 909.4h0M307 886.7h0M307 897.3h0M307.1 917.9h0M307.2 924h0M307.1 931.2h0M307 941.7h0M308.8 740.2h0M308.3 739.2h0M308.5 715.6h0M308.1 693.9h0M308.9 729.7h0M308.8 734.7h0M308.5 730.9h0M308.5 722.7h0M308.6 714.8h0M308.8 711.7h0M308.9 701h0M308.8 699.8h0M308.1 880.1h0M308.9 911h0M308.3 882.9h0M308.5 909.3h0M308.8 883.9h0M310 736.5h0M309.2 723h0M309.1 724h0M309.1 711.4h0M309.5 692.5h0M310.3 732.7h0M310 728.5h0M310 715.4h0M310.1 711.6h0M310.2 706.2h0M310 700.4h0M309.1 883.4h0M309.3 929.3h0M309.9 925.5h0M309.8 914.8h0M309.8 903.4h0M310.1 736.5h0M310.6 731.7h0M310.3 703.2h0M310.9 715.9h0M310.6 729.7h0M310 882h0M310.8 901.6h0M310.2 895.4h0M310.4 895.8h0M310.6 910.7h0M311.2 738.6h0M311.1 725.9h0M311.1 700h0M311.7 723.3h0M311.1 728.6h0M311.7 733.4h0M311.8 727.8h0M311.7 722.9h0M311.6 712h0M311.6 709.7h0M311.7 704.7h0M311.7 885.8h0M311.8 900.8h0M311.1 886.2h0M311.7 890.2h0M311 922.4h0M312.5 743.4h0M312.8 729h0M312 711.4h0M312.3 703.9h0M312.5 738.5h0M312.4 879.8h0M312.3 883.6h0M312.1 884.8h0M312.9 886h0M312.7 882.9h0M313.8 742.2h0M313.5 736.2h0M313.7 739.3h0M313.4 732.8h0M313.5 730.1h0M313.7 878.4h0M313.8 946.9h0M313.7 888.9h0M313.9 896.4h0M313.9 903.7h0M313.4 881.6h0M313.5 899.5h0M313.3 904.3h0M313.2 917.9h0M313.3 921.5h0M314.1 748.8h0M314.4 718.5h0M314.4 728.5h0M314.4 734.7h0M314.9 744h0M314.7 879.6h0M314.4 922.5h0M314.9 901.9h0M314.3 886.6h0M314.6 881.9h0M315.2 744.9h0M315.6 738.6h0M315.3 737.3h0M315 733.4h0M315.8 742.5h0M315.4 882.6h0M315.3 906.6h0M315.5 889.7h0M315.1 891.1h0M315.9 894.1h0M316.6 741.6h0M316.6 727.8h0M316.3 727.7h0M316.9 721.4h0M316.8 725.6h0M316.1 738.9h0M316.3 732.3h0M316.3 722.1h0M316.4 713.3h0M316.5 711.9h0M316.4 701.4h0M316.2 696.3h0M316.3 687.4h0M316.2 681.8h0M316.6 671.2h0M316.4 668.7h0M316.3 879.9h0M316.5 885.2h0M316.2 893.1h0M316.6 894.4h0M316.2 886.6h0M317.3 735.7h0M317.4 717.8h0M317.8 733.4h0M317.8 703.1h0M317.6 727.2h0M317.3 729.3h0M317.4 722.8h0M317.7 719.6h0M317.4 708.3h0M317.7 701.6h0M317.5 694.1h0M317.2 691.7h0M317.6 682.8h0M317.7 675.4h0M317.4 670.3h0M317.4 880.9h0M317.2 907.4h0M317.2 920.1h0M317.6 894.3h0M317.9 883.7h0M318.4 731.8h0M318.9 694.3h0M318.4 709.7h0M318.6 715.1h0M318.7 725.9h0M319 872.5h0M318.3 888.6h0M318 926.2h0M318.2 879.7h0M318.6 884.3h0M319.4 729.8h0M319.9 703.4h0M319.6 725.6h0M319.1 716.4h0M319.7 695.4h0M319.9 879.1h0M319.1 943.9h0M319.6 885.3h0M319.7 882h0M319.8 887.9h0M320.5 726.3h0M320.5 725.4h0M320.1 720.9h0M320.5 724.5h0M320.5 716.9h0M320.6 720.4h0M320.4 715.3h0M320.7 699.6h0M320.5 699.6h0M320.7 876.1h0M320.9 880.4h0M320.5 892.7h0M320.4 881.4h0M320.3 884.6h0M321.4 728.6h0M321.5 727.9h0M321.1 712.3h0M321.2 704.8h0M321.4 722.9h0M321.4 727.4h0M321.7 719.4h0M321.6 713.6h0M321.4 703.2h0M321.7 698.5h0M321.8 690.1h0M321.6 688.3h0M321.9 680.7h0M321.7 675h0M321.5 665.9h0M321.6 656.4h0M321.6 655.1h0M321.7 868.6h0M321.9 888h0M321.1 873.4h0M321.7 882.9h0M321.9 874.2h0M322.8 730.9h0M322.5 723.2h0M322.6 710.7h0M322.1 699.5h0M322.1 701.6h0M322.4 876.4h0M322.5 877.4h0M322 892.6h0M322.7 882.6h0M322.4 886.7h0M323.6 729.8h0M323.6 722.2h0M323.8 711.7h0M323.5 725.7h0M323.9 716.3h0M323.1 867.9h0M324 871.5h0M323.5 898.7h0M323.9 895.6h0M323.8 914.5h0M325 730.3h0M324.3 693h0M324 722.5h0M324.1 693.7h0M324.4 723h0M324.6 875.4h0M324.2 920.4h0M324.1 919.2h0M324.5 886.5h0M324.8 916.5h0M325.8 730.6h0M325.5 721.5h0M325.1 720.1h0M325.6 710.4h0M325.9 728h0M326 874.9h0M325.8 900.9h0M325.4 876.4h0M325.9 910.7h0M325.9 892.6h0M325.5 879.5h0M326.1 887.4h0M326 902.4h0M326 905.4h0M325.8 916.3h0M325.8 932.5h0M325.5 939.8h0M325.6 944.4h0M325.8 953.5h0M326.4 732h0M326.4 727.3h0M326.8 702.5h0M326.2 689h0M326.7 726.8h0M326.2 867.5h0M326.2 930.6h0M326.3 893.5h0M326.1 900.2h0M326.8 873.9h0M327.2 727.2h0M327.3 695.4h0M327.8 680.3h0M327.9 684.4h0M327 714h0M327.3 725.9h0M327.5 714.5h0M327.5 707.1h0M327.7 705h0M327.8 693.6h0M327.6 687.6h0M327.5 683.3h0M327.4 671.2h0M327.4 665.2h0M327.7 656.7h0M327.5 655.4h0M327.5 648.8h0M327.1 868.4h0M327.1 898.7h0M327 897.5h0M327.3 888.1h0M327.5 893.4h0M328.8 727.3h0M328.7 670.1h0M328.5 717.5h0M328.5 681.6h0M328.5 724.5h0M328.7 724.6h0M328.6 717.7h0M329 707.2h0M328.7 704.2h0M328.8 694.5h0M328.9 689.7h0M328.9 683.1h0M328.2 869.3h0M329 882.5h0M328.7 884.5h0M328.6 899.5h0M328.2 893.6h0M329.1 723.4h0M329.1 701.5h0M329.3 687h0M329.3 691.3h0M329.1 708.3h0M329.2 877.3h0M329.4 882.2h0M329.6 909.6h0M329.1 896.8h0M330 887.2h0M330.2 726.4h0M330.1 708.5h0M331 720.6h0M330.2 683.2h0M330.4 679.8h0M330.6 721.1h0M330.5 715.3h0M330.6 709.8h0M330.5 702.4h0M330.5 693.6h0M330.6 690.7h0M330.8 679.8h0M330.8 676.2h0M330.6 671.7h0M330.7 873.3h0M330.5 903.2h0M330.7 876.7h0M330 873.4h0M330.2 909.9h0M330.4 879.9h0M330.6 895.6h0M330.7 905.5h0M330.2 913.5h0M330.4 926.4h0M330.3 934.2h0M330.2 950.9h0M330.5 953.7h0M332 727.4h0M331.7 686.6h0M331.6 723.2h0M331.5 712.8h0M331.1 724.6h0M331.2 726.6h0M330.9 714.7h0M331.5 706.4h0M331.1 698.6h0M330.9 690.9h0M331.2 684.9h0M331.6 873.4h0M331.3 882.7h0M331 889.2h0M331.2 906.6h0M331.9 929.7h0M332.5 728.3h0M332.3 726.3h0M332.2 670.6h0M332.9 715.5h0M332.1 715.7h0M332.7 872.3h0M332.1 887.7h0M332.1 876.2h0M332.9 887.8h0M332.5 876.6h0M332.6 876.4h0M332.9 884.4h0M332.6 906.7h0M332.9 911.6h0M332.8 919.3h0M333.8 727.4h0M333.7 698.6h0M333.1 722.5h0M333.2 694.2h0M333.2 684.6h0M333.2 880.7h0M333.3 902.9h0M333.3 888.5h0M333.6 899.8h0M333.5 921.8h0M333.2 889.1h0M332.9 896h0M333.1 909.9h0M333.3 916.8h0M332.9 935.3h0M332.9 944.3h0M333.1 951.4h0M334.6 728.9h0M334.4 694.3h0M334.6 707.4h0M334.4 702.7h0M334.8 700.1h0M334.3 728.4h0M334 718.1h0M334.1 716h0M333.9 709.9h0M334.2 700.2h0M334.1 698.3h0M334.8 880.9h0M335 883.6h0M335 916.7h0M334.3 906.1h0M334.9 883.5h0M336 730.7h0M335.6 721.7h0M335.8 700.9h0M335.8 716h0M335.1 728.2h0M335.8 881.1h0M335.4 911.7h0M335.8 928.9h0M335.6 886.2h0M335.8 900.3h0M336.8 732.1h0M336.1 700.2h0M336.8 711.2h0M336.6 687.7h0M336.4 721.2h0M336.7 876.3h0M336 895.6h0M336.5 910.6h0M336 883.3h0M336.1 896.7h0M337.2 736.5h0M337.1 711.1h0M337 731.8h0M337.4 715.9h0M337.8 730.3h0M338.2 734.2h0M338 726.1h0M337.7 720.4h0M337.9 716.3h0M337.8 705.1h0M337.9 697.6h0M337.7 694.2h0M337.8 689.7h0M337.9 682.2h0M337.8 671.7h0M338 664.6h0M338 663.3h0M337.5 882.6h0M337.6 924.1h0M337.3 884.8h0M337.4 892.6h0M337.4 887.2h0M338.2 885.1h0M338 893.8h0M338 911.6h0M338.1 925h0M338 926.5h0M337.9 936h0M338.9 732.9h0M338.1 687.1h0M338.5 703.1h0M338.9 707.4h0M338.8 731.7h0M338.9 727.9h0M338.6 725.5h0M339 718.1h0M339 706.8h0M339 700.2h0M338.6 695.1h0M338.8 689.8h0M338.9 686.1h0M338.2 881.9h0M338.8 901.4h0M338.6 896.6h0M338.3 893.8h0M338.4 889h0M339.8 733h0M339.4 686.2h0M339.3 725.7h0M339.7 701.9h0M339.8 686.5h0M339.5 880.3h0M339.6 886h0M339.6 880.6h0M339.4 884.1h0M339.1 894.8h0M340.5 734.4h0M341 705.8h0M340.3 712.2h0M340.1 676.4h0M341 705.9h0M340.2 879.7h0M340.9 905.9h0M340.8 895.6h0M340.7 902.2h0M340.5 917.6h0M340.4 889.4h0M340.2 899.9h0M341.7 728.7h0M341.5 712.8h0M341.2 710.7h0M341.9 726.1h0M341 677.7h0M341.6 884.5h0M342 889.3h0M341.4 895.2h0M341.8 905.6h0M341.5 897h0M342.6 730.5h0M342.3 666.1h0M342.9 699.6h0M343 730h0M342.8 718.8h0M342.5 880.3h0M342.2 910h0M342.9 884.3h0M342.2 882.5h0M342.1 891.6h0M343.7 727.7h0M344 710.4h0M343.9 714.1h0M343.1 719.1h0M343 720.4h0M343.1 883.9h0M343.8 893.4h0M343.2 920.6h0M343.3 898.1h0M343.8 888.2h0M344.9 725.4h0M344.7 694.3h0M344 719.1h0M344.2 711.6h0M344.7 707.7h0M344.1 879.6h0M344.4 884.8h0M344.3 882.4h0M344.7 901.2h0M344.1 892.7h0M345.4 728.4h0M345.7 723.5h0M345.6 712h0M346 714.7h0M345.2 706.1h0M344.9 724.5h0M345.3 720.5h0M345.3 712h0M345.1 708.6h0M344.9 701.9h0M345.2 697.4h0M346 880.6h0M345.9 915.6h0M345.1 906h0M345.7 880.8h0M345.4 904.7h0M345.8 887.7h0M345.4 895.6h0M345.7 904.2h0M345.6 905.2h0M346.8 725.1h0M347 700.2h0M346.5 689h0M346.4 719.2h0M346.6 719.1h0M346 884.1h0M346.1 901.2h0M346.2 922.6h0M346.7 905.7h0M346.1 904.1h0M347.1 725.6h0M347.9 707.7h0M347.4 674.5h0M347.7 724.5h0M347.5 693.3h0M347.4 880.1h0M347.5 931.4h0M347.2 911h0M347.5 887.9h0M347.9 891.4h0M348.5 725.5h0M348.2 695h0M348.1 705.1h0M348.8 707.3h0M348.9 718.3h0M348.5 879h0M348.6 927.5h0M348.8 881.3h0M348.7 884.2h0M348.4 890.8h0M349.4 731.7h0M349.1 680.7h0M349.5 711.8h0M349.6 730.9h0M349.8 726.6h0M349.3 881.6h0M349.1 929.2h0M349.3 882.3h0M349 886.5h0M349.4 891.4h0M350.9 732.7h0M350.2 718.1h0M350.4 702.9h0M350.9 720.1h0M350.7 715.7h0M351.3 726.7h0M351 722.4h0M350.7 718.6h0M350.7 709.6h0M351 705.7h0M350.8 877.6h0M350.2 890.7h0M350.1 914.2h0M350.4 919.5h0M350 881.1h0M351.6 732.3h0M351.7 714h0M351.1 705h0M351.9 723.7h0M351.4 715.4h0M351.6 725.5h0M351.7 723.4h0M351.4 714.6h0M351.4 707.8h0M351.6 703.2h0M351.1 884.7h0M351.6 894h0M351.8 893h0M351.6 890.2h0M351.8 921.3h0M352.6 733.9h0M352.4 700.1h0M352.2 670.1h0M352.5 717.6h0M352.3 713.4h0M351.8 733.2h0M351.9 725.3h0M351.9 713.5h0M352.2 706.2h0M352.2 701.3h0M351.8 691.3h0M351.8 684.5h0M352.1 682.6h0M352.9 877.5h0M352.5 895.3h0M352.2 931.3h0M352.3 890.5h0M352.3 892.5h0M354 727.1h0M353.3 725.6h0M353.1 719.3h0M353.4 676.4h0M353.7 696.4h0M353.1 722h0M353.5 715.7h0M353.4 710.1h0M353.2 701.2h0M353.1 698.1h0M353.1 690.2h0M353.3 684.3h0M353.8 888.4h0M353.4 891.1h0M353.6 912.2h0M353.1 900.5h0M353.6 895.7h0M353.6 895.3h0M353.8 900.6h0M353.4 918.4h0M353.6 927.3h0M353.3 936.5h0M353.6 942.8h0M354.1 726.8h0M354.5 695.3h0M354.1 718.9h0M354.6 721.2h0M354.5 711.7h0M354.9 881.7h0M354.7 897.5h0M354.6 898.3h0M354.1 899.5h0M354.1 902.8h0M355.2 729.7h0M355.6 722.2h0M355.3 721.8h0M355.5 708.7h0M355.3 687.8h0M355.5 890.3h0M355.9 892.3h0M355.6 904.8h0M355.9 899.1h0M355.4 894.9h0M356.8 727.4h0M356.4 714.5h0M356.1 696h0M356.4 714.3h0M356.7 711.6h0M356.8 890.9h0M356.5 905.9h0M356.3 911.6h0M356.3 899.5h0M356.7 904.1h0M357 725.8h0M357.2 677.7h0M357.5 725.2h0M357.4 706.4h0M357.8 710.3h0M357.6 887.1h0M357.7 907.5h0M357.3 901.3h0M357 909.2h0M357.7 897.6h0M357.7 890h0M357.9 899.2h0M358 918.9h0M357.9 925.1h0M357.8 933.6h0M358 949.9h0M357.7 953.4h0M358.6 723.4h0M358.2 680.5h0M358.3 723.4h0M358 716.6h0M358.8 688.1h0M359.3 720.7h0M358.8 715.6h0M358.7 705.8h0M359.1 702.4h0M359 695.6h0M358.1 879.9h0M358.6 901.5h0M358.8 887.3h0M358.6 881h0M358.5 913.3h0M359.7 727.4h0M359.6 698.2h0M359.2 704.7h0M359.3 697.4h0M359.1 722h0M359.4 890.1h0M359.1 909.9h0M359.7 892.3h0M359.7 894.6h0M359.5 902.4h0M360.9 727.3h0M360 721.1h0M360.6 724.6h0M360.4 715.6h0M360.6 720.2h0M360.3 892.8h0M360 902.6h0M360.3 913.2h0M360.1 942h0M360.2 899.9h0M361.4 729.3h0M361.6 728.9h0M361.4 697.2h0M361.7 725.3h0M361.4 685.2h0M360.9 726.6h0M361.2 720.4h0M361.2 713.4h0M361.3 702.6h0M361.3 698.4h0M361 689.4h0M361.3 685.3h0M361 676.8h0M361 668.6h0M361.1 667h0M361.4 891.7h0M361.1 894.4h0M361.4 915.1h0M361.6 930.8h0M361.1 908h0M362.3 730.9h0M362.7 718.3h0M362.7 719.5h0M362.9 717.9h0M362.7 699.9h0M362.6 892.3h0M362.9 928.6h0M362.5 930h0M362.3 895.6h0M362.1 912.4h0M362.7 901.2h0M362.4 907.2h0M362.4 916.1h0M362.7 930.1h0M362.8 941.7h0M362.6 951.9h0M362.5 954h0M363.8 729.9h0M363.1 728.2h0M363.1 720.2h0M363.9 724.7h0M363.6 713.5h0M363.2 893.7h0M363.2 910.3h0M363.3 895.1h0M363.6 904.3h0M363.2 921.3h0M364.1 733.7h0M364 714.9h0M364.3 705.2h0M364.5 732.5h0M364.4 684.5h0M364.6 894.4h0M364.8 911.7h0M364.1 897.7h0M364.1 926.1h0M364.1 909.7h0M365 900.7h0M365.2 907.2h0M365.1 923.9h0M365 930.3h0M364.9 933.8h0M365.4 732.2h0M365.5 725.7h0M365.5 714h0M365 697.1h0M365.7 708.1h0M365.7 883.4h0M365.6 894.4h0M365.2 895.7h0M365.7 916h0M365.5 885.6h0M366.1 728.7h0M366.6 726.7h0M366.2 721.6h0M366.6 726.6h0M366.7 723.2h0M366.3 894.2h0M366.1 910.6h0M366.7 925.8h0M366.9 907h0M366.9 902h0M367.2 728.3h0M367.7 693.5h0M367.3 708.4h0M367.1 701.5h0M367.5 724.8h0M367 728.2h0M367 720h0M367.1 713.7h0M367 706.9h0M367.1 693.6h0M367 687.7h0M366.9 681.6h0M367 678.5h0M367.9 895.1h0M367.7 908.7h0M367.5 919.9h0M367.2 898.6h0M367.8 904.1h0M367.8 906.6h0M367.8 913.5h0M368 921.6h0M367.9 931.5h0M368.1 733.3h0M368 691.9h0M368.9 724.5h0M368.9 729.5h0M368.3 703.9h0M368.5 893.1h0M368.8 910.1h0M368.5 901.3h0M369 907.2h0M368.4 924.2h0M369.2 739.7h0M369.4 705.1h0M370 700.4h0M369.2 729.6h0M369.9 700.4h0M369.3 894.2h0M369.1 937.7h0M369.4 919.1h0M369.1 912.8h0M369.5 939.4h0M370.8 738.9h0M370.4 723.3h0M370.8 733.4h0M370.1 708.5h0M370.7 734.4h0M370.7 885.4h0M370.2 899.5h0M370.5 922h0M370.9 922.4h0M370 893.8h0M371.2 741.9h0M371.3 735.5h0M371.7 741.7h0M371.2 739.6h0M371.4 693.3h0M371.7 740.9h0M371.9 730.9h0M371.7 721.5h0M371.8 720.1h0M371.7 714.5h0M371.4 885.4h0M371.8 895h0M371.6 886h0M371.8 926.8h0M371.9 889.8h0M371.1 889.3h0M371.2 897.4h0M371.6 918.9h0M371.5 926.1h0M371.1 930.8h0M371.4 949.9h0M371.3 952.7h0M372.2 743.1h0M372 719.6h0M372.3 739.4h0M372.5 706.9h0M372.3 691.3h0M372.5 886.2h0M372.9 901.4h0M372.6 894.5h0M372.6 894.6h0M372.3 910.6h0M371.7 892.8h0M372.3 901.4h0M372.1 910.1h0M372.2 926.7h0M371.9 932.6h0M372 938.3h0M373.2 738.7h0M373.8 692.1h0M373.3 717.4h0M373.2 726.6h0M373.7 710.1h0M373.7 889.8h0M373.2 896.8h0M374 932.7h0M373.1 907.3h0M373.8 920.7h0M373.1 903h0M373.2 912.9h0M373 921.2h0M374.9 743.2h0M374.3 736.3h0M374.1 742.1h0M374.7 724.3h0M374.1 705.6h0M374.8 737.4h0M374.6 734.5h0M374.8 726.8h0M374.9 720.2h0M374.4 712.5h0M374.4 707.5h0M374.9 698.2h0M374.6 694.6h0M374.2 890.9h0M374.1 902.8h0M375 899.8h0M374.5 904.4h0M374.2 913.7h0M374.7 891.7h0M374.9 905.8h0M374.4 915.6h0M374.3 924.3h0M374.9 940.6h0M374.6 944.1h0M375.6 741.9h0M375.7 735.2h0M375.4 736.4h0M375.5 728.4h0M375.5 710.2h0M375.3 887.8h0M375.2 893.1h0M375.9 907.4h0M376 892.4h0M375.7 926.1h0M377 747h0M376.6 741.2h0M376.6 724.5h0M376.3 738h0M376.7 728.4h0M376.1 887.7h0M376.7 893.5h0M376.2 895.4h0M376.1 913.2h0M376.4 925.7h0M377.2 746.9h0M377.6 727.5h0M377.2 736.3h0M377.3 722.8h0M377.4 729.5h0M377.1 885.8h0M377.2 890.4h0M377.2 910.6h0M377.9 930.9h0M377.7 905.3h0M377.3 897.8h0M377.3 910.2h0M377.8 912.6h0M377.6 925.7h0M378.2 742.8h0M378.6 734.2h0M378 723.3h0M378.2 724.9h0M378.5 721.4h0M378.5 885.1h0M378.4 889.5h0M378.3 912.1h0M378.5 927.4h0M378.6 907.5h0M379.7 738.5h0M379.3 721h0M379.5 736.1h0M379.6 724.8h0M379.8 709.5h0M379.4 730.1h0M379.6 728.9h0M379.3 712.1h0M379.4 711.9h0M380 883.4h0M379.6 900.1h0M379.5 897.2h0M379.7 889.9h0M379.6 933.5h0M380.3 736.6h0M380.4 712.5h0M380.3 709.9h0M380 721h0M380.7 714h0M380.5 729.8h0M380.3 726.4h0M380.2 715.4h0M380.5 714.5h0M380.3 700.8h0M380.5 697h0M380.3 689h0M380.6 681.3h0M380.2 677.5h0M380.4 666.5h0M380.4 664.1h0M380 872.7h0M381 898.4h0M380.3 886.9h0M380.1 906.4h0M380.2 927.5h0M381.9 730.9h0M381.7 716.3h0M381.9 721.5h0M381.1 723.6h0M381.4 710.3h0M381.4 874.8h0M381.6 877.8h0M381.1 885.1h0M381.8 880.6h0M381.4 882.3h0M382.7 726.5h0M382.4 685h0M382.9 706.1h0M382.5 711.7h0M382.9 701h0M382.4 878h0M382.8 884.2h0M382.9 895.3h0M382.3 897.7h0M382.6 884.7h0M383.9 725.3h0M383.4 688.7h0M383.9 702.4h0M383.4 708.4h0M383.4 720.2h0M383.5 868.2h0M383.6 921.2h0M383.9 882.4h0M384 871.2h0M383.5 878.4h0M383.7 874.7h0M383.7 879.1h0M383.4 891.1h0M383.6 902.5h0M383.4 909.8h0M384.5 719.9h0M384.8 703h0M384.3 694.6h0M385 707.4h0M384 716.1h0M385 871.9h0M384.2 890.3h0M384.2 872.1h0M384.4 883h0M384.3 907.1h0M385.5 719.7h0M385.8 694.6h0M385.8 712.6h0M385.1 711.6h0M385.8 705.5h0M385.8 877.1h0M385.5 879.2h0M386 890.6h0M385.4 886.4h0M385.8 879.9h0M386.2 714.8h0M386.6 708h0M386.8 670.4h0M387 684.2h0M386.4 654.1h0M386.6 712h0M386.7 700.9h0M386.2 696h0M386.6 688.4h0M386.7 684.8h0M386.5 678.5h0M386.6 877.6h0M386.5 889.7h0M386.7 893.4h0M386.7 878h0M386.3 879.4h0M387.2 711.2h0M387.9 704.6h0M387.1 694.6h0M387.4 691.3h0M387.5 688.7h0M387.4 875.8h0M387.8 885.8h0M387.6 888.1h0M387.2 886.7h0M387.1 877.5h0M388.4 712.1h0M388.1 706.5h0M388.2 706.5h0M388.7 685.2h0M388.5 700.5h0M388.8 876.7h0M388.4 891.8h0M388.5 894.2h0M388.5 878.7h0M388 887.6h0M389.3 713.6h0M389.1 691.6h0M389 691.7h0M389.8 678.3h0M389.2 658.8h0M389.6 878.2h0M389.4 888.7h0M389.5 882.3h0M389.7 894.6h0M389.9 911.8h0M390.8 718.5h0M390.9 705.5h0M391 705.9h0M390.3 702.2h0M390.9 701.5h0M390 872.5h0M390.5 900.2h0M390.8 876.9h0M390.9 889.8h0M390.3 875.4h0M391.5 723.9h0M391.1 719.1h0M391.7 679h0M391.9 676.4h0M391.9 693.8h0M391.3 719.5h0M391 713.9h0M391.6 707.6h0M391.4 702.2h0M391 696.7h0M391.4 685.8h0M391.6 681.7h0M391.3 678.3h0M391.2 878.2h0M391.4 878.2h0M391.3 894.3h0M391.5 879.4h0M391.8 885.2h0M392.7 729.3h0M392.2 729.1h0M392.2 704.3h0M392.1 724.4h0M392.6 707.2h0M392.1 874.4h0M392.2 894.7h0M392.5 888h0M392.9 879.4h0M392 883.9h0M393.1 723.4h0M393.4 720.8h0M393.6 696.7h0M393.6 704.9h0M393.5 716.5h0M393.1 878.3h0M393.7 878.4h0M393.1 901.3h0M393.2 881.1h0M393.9 895.7h0M393.3 884.9h0M393.5 894.8h0M393.5 899.2h0M393.5 903.7h0M394.2 719.1h0M394.7 717.1h0M394.5 713.2h0M394.8 708.8h0M394.1 691h0M394.6 717.8h0M394.8 706.4h0M394.9 701.2h0M394.9 692.6h0M394.8 686.3h0M395 672.8h0M394.7 671.8h0M394 878.8h0M394.5 898.7h0M394.5 917.4h0M394.7 881.2h0M394.8 883.1h0M395.7 715.6h0M395.9 707.3h0M395.6 711.2h0M395.1 713.1h0M395.2 690.2h0M395.8 877.4h0M395.4 913.6h0M395.2 882.6h0M395.2 901.1h0M395.6 885.4h0M396.1 711.7h0M396.3 706h0M396.6 693.6h0M396.6 670.9h0M396.7 653.8h0M396.5 873.5h0M396.9 877.7h0M396.7 889.6h0M396.8 908.3h0M396.5 909.1h0M397.9 715.7h0M397.7 707.8h0M397.8 674.1h0M397.4 709.8h0M397.6 690.2h0M397.6 709.6h0M397.7 704.3h0M398 698.2h0M397.8 687.1h0M397.6 679.8h0M397.7 671.8h0M397.9 671.7h0M397.3 882h0M397.8 909h0M397.9 904.4h0M397.3 888.4h0M397.5 905.8h0M398.3 720.6h0M398.6 690.6h0M398.7 685.3h0M398.1 715.1h0M398.8 716.3h0M398.9 718.8h0M398.9 711.7h0M399 703.4h0M399 692.7h0M398.6 689.3h0M398.6 677.5h0M398.6 672.1h0M398.8 669.1h0M398.2 882.3h0M398.4 905.4h0M398.1 888.2h0M398.7 897.9h0M398.9 901.3h0M399.8 729h0M399.9 706.5h0M399 681.1h0M399.3 718.4h0M399.9 713.2h0M399.3 875.9h0M399.4 901.9h0M400 888.4h0M399.8 909.8h0M400 881.8h0M400.7 730.7h0M400.4 704.9h0M400.8 716.7h0M400.3 718.2h0M400.4 690.9h0M400.6 883.2h0M400.6 886.1h0M400.7 923.6h0M400.4 886h0M400.5 907.5h0M401.2 887.6h0M400.8 902.5h0M401.2 910.2h0M401 923.5h0M401 924.2h0M401.5 735.3h0M401.6 723.8h0M401.2 723.8h0M401.8 730.8h0M401.3 732.5h0M401.6 882.1h0M401.7 884h0M401.7 883h0M401.6 887.1h0M401.5 905.5h0M402.9 734.4h0M402.7 685.7h0M402.4 686.7h0M402.7 707.8h0M402.6 725h0M402.9 733.5h0M402.9 726.1h0M402.8 714.3h0M402.8 711.8h0M402.9 699.3h0M403.1 695.5h0M403 689.6h0M403 680.6h0M402.8 678h0M402.2 883.2h0M402.6 891.3h0M402.4 899.8h0M402.1 920.3h0M402.3 896.6h0M403.1 739.4h0M403.6 705.6h0M403.1 727.9h0M403.1 724h0M403.3 687.6h0M403.2 883.5h0M403.5 883.5h0M403.4 908.2h0M403.1 890.5h0M403.6 932.4h0M404.7 733.8h0M404.5 733.2h0M404.2 694.8h0M404.7 728.7h0M404.1 729.2h0M404.3 882.9h0M404.8 910.1h0M404.9 935.7h0M404.2 894.5h0M404.1 884.9h0M405.1 736h0M406 732.6h0M405.1 731.1h0M405.3 710.8h0M405.6 711.1h0M405.9 729.2h0M405.8 724.6h0M405.5 717.2h0M406 711.4h0M405.8 703.2h0M406 698.2h0M405.8 694h0M405.1 881.1h0M405.2 886.8h0M405.9 899.6h0M405.4 890.8h0M405.7 884.3h0M406.3 736.3h0M406.4 734h0M406.4 732.5h0M406.3 690.3h0M406.8 700.7h0M406.2 730h0M406.6 727.6h0M406.7 716.5h0M406.6 707.1h0M406.5 706.7h0M406.5 883.6h0M406.3 890.3h0M406 920.5h0M406.7 892.6h0M406.2 930.2h0M407.2 741.7h0M407.1 721.4h0M407.3 740h0M407.6 736.8h0M407.7 731.7h0M407.5 883.9h0M407.2 915.6h0M407 902.9h0M407.3 914.8h0M407.7 922.1h0M408.7 748.8h0M408.8 746.5h0M408.6 745.5h0M408.9 744.3h0M408.7 721.2h0M408.6 748.7h0M408.7 739.7h0M408.7 727.1h0M408.6 720.9h0M408.7 708.5h0M408.4 705.3h0M408.4 700.1h0M408.6 886.3h0M408.1 894.7h0M408.6 912.9h0M408.3 891h0M408.4 897.3h0M409.6 749.9h0M409.6 726.5h0M409.1 694.1h0M409.4 746.1h0M409.1 731.7h0M409.4 884h0M410 944.8h0M409.3 886.2h0M409.9 908.8h0M409.5 901.6h0M410.8 750.3h0M410.9 736.5h0M410.2 738.6h0M410 710.2h0M410.1 740h0M410.4 885h0M410.9 897h0M410.4 924.9h0M410.3 914.6h0M410.9 890h0M411.2 752.8h0M411.9 741.3h0M411.7 747.6h0M411.2 715.8h0M411.7 725.7h0M412 749.5h0M411.9 740h0M411.8 731h0M411.9 726.9h0M412.2 717.8h0M411.9 711.7h0M412 703.4h0M412 701.9h0M412 884.6h0M411.1 896.1h0M411.7 901.1h0M411.8 905.3h0M411 908.5h0M412.6 757.1h0M412.3 728.8h0M412 745.1h0M412.8 751.3h0M412 705.9h0M412.2 751.7h0M412.4 743.1h0M412.3 737.9h0M412.4 734.4h0M412.8 727.2h0M412.7 717.1h0M412.4 709.7h0M412.4 705.3h0M412.5 700.3h0M412.3 883.1h0M412.5 902h0M412.2 884.5h0M412.7 919h0M412.1 939.6h0M413.4 754.4h0M413.3 739.2h0M413.7 745h0M413.9 741h0M413.6 752.3h0M414 882.5h0M413.3 940.9h0M413.1 932.7h0M413.8 892h0M413.4 917.8h0M414.2 756.7h0M414 753.3h0M414.5 738.2h0M414 723.4h0M414.2 740.9h0M414.6 882.2h0M414.8 896.3h0M414.7 898.1h0M414.3 920.6h0M414.4 930h0M416 754.4h0M415.4 746.5h0M415.5 716.1h0M415.4 724.1h0M415.4 743.4h0M415.4 879.8h0M415.5 910.3h0M415.4 905.7h0M415.7 884.6h0M415.5 911.5h0M416.7 753.5h0M416.6 740.3h0M417 739.4h0M416.7 731.4h0M416.8 750.7h0M416.1 883h0M416.6 901h0M416.1 902.6h0M416.6 899.1h0M416.6 885.6h0M417 754.8h0M417.3 742.1h0M417.4 751.2h0M417.5 744.9h0M417.5 721h0M417.8 885.2h0M417.6 941.2h0M417.1 886.3h0M417.3 891.5h0M417.1 898h0M418.5 752.2h0M418.1 708.6h0M418.3 736.3h0M418.1 733h0M418.7 730.7h0M418.2 751.3h0M418.6 738.7h0M418.4 733.2h0M418.2 729.9h0M418.4 720.2h0M418.2 713.9h0M418.6 705.5h0M418.4 696.2h0M418.5 695.3h0M418.4 883.9h0M418.6 894.8h0M418.6 900.6h0M418.3 901.9h0M418.6 905.1h0M419.6 747.6h0M419.2 742h0M419.3 746.5h0M419.6 742.1h0M419.5 713.9h0M419.5 745.3h0M420 735.6h0M419.4 724.8h0M419.7 724.3h0M419.5 884.1h0M419.9 887h0M419.5 907.5h0M419.5 887.4h0M419.2 884.7h0M419.8 894.8h0M419.6 910.3h0M419.7 912.1h0M420 747.7h0M420.7 723.2h0M420.8 717.5h0M420.4 740.2h0M420.1 747.4h0M420.1 880h0M421 884.5h0M420.5 886.1h0M420.5 886.3h0M420.9 888.5h0M421.2 745.1h0M421.7 736.4h0M421.2 731.3h0M421.1 738.2h0M421.8 724.5h0M422.1 744h0M421.9 734h0M421.9 727.1h0M421.8 718.4h0M421.7 716.5h0M422 705h0M422.1 701.5h0M421.9 692.2h0M421.9 688.8h0M421.6 881.5h0M421.9 915.3h0M421.8 886.2h0M421.3 898.8h0M421.3 884.6h0M422.1 747.3h0M422.3 726.7h0M422.8 711.3h0M422.2 729.6h0M422.7 723.9h0M422.1 883.6h0M422.1 908.1h0M422.2 935.5h0M422.3 906.1h0M422.7 912.8h0M423.9 740.1h0M423.2 721h0M423.6 722.1h0M423.9 730.8h0M423.4 702.3h0M423 736.4h0M423 728.5h0M423.4 722.7h0M423.1 713.4h0M423.4 707.6h0M423.1 699.8h0M423.3 698.9h0M423.2 693h0M423 882.4h0M423.7 921.8h0M423.4 905.4h0M423.3 900.7h0M423.9 945.5h0M424.1 740.8h0M424.2 735.1h0M424.5 722.1h0M424.5 724.8h0M424.2 718h0M424.8 883.7h0M424.2 904.3h0M424.8 892.4h0M424 896.6h0M424.4 896.4h0M425.2 738.7h0M425.9 716.1h0M425.4 686.9h0M425.6 714.4h0M425.4 730.6h0M425.9 883.9h0M425.5 884.6h0M425.1 885.2h0M425.2 938h0M425.1 918.8h0M426.3 742.9h0M426.4 708.9h0M426.6 722.3h0M426.8 730.7h0M426.3 729h0M426.7 883.7h0M426.1 911.3h0M427 892.4h0M426.6 907.9h0M426 903h0M427.1 737.6h0M427.3 733.8h0M427.4 717.3h0M427.3 735.6h0M427.2 733.2h0M428 883.5h0M427.2 916.2h0M427.2 928.7h0M427.9 898.5h0M427.5 904.3h0M428.1 737.3h0M428.6 724h0M428.3 728.7h0M428.4 704.1h0M429 725.5h0M428.7 731.6h0M428.5 725.7h0M428.4 718.9h0M428.8 715.4h0M428.6 711.4h0M428.2 874.7h0M428.2 924.4h0M428.5 886.8h0M429 897.2h0M428.9 893.2h0M428.4 875.8h0M428.6 897.7h0M428.5 902.6h0M428.4 913h0M428.4 924.1h0M428.6 938h0M428.5 955h0M428.6 955.9h0M429.8 739.4h0M429.9 721.3h0M429 722.1h0M429.6 703.1h0M429.4 739.1h0M429.2 873.8h0M429.4 901.3h0M429.5 900.8h0M429.9 900.2h0M429.3 896.1h0M430.3 740h0M430.6 693.3h0M430.7 721.3h0M430 712.8h0M430.8 732.1h0M430.7 874h0M430.8 908.7h0M430.5 894.5h0M431 882.7h0M430.2 897h0M431.3 734.2h0M431.7 727.5h0M431.5 729.6h0M431.2 725.5h0M431.9 714.8h0M431.3 881.8h0M431.9 896.8h0M431.7 885.6h0M431.7 886.4h0M431.7 928.3h0M431.6 882.4h0M431.6 895.4h0M431.7 915.8h0M431.7 926.5h0M431.8 932.4h0M431.9 939.8h0M432.2 733.6h0M432.9 704.1h0M432.9 690.8h0M432.4 710h0M432.2 718.3h0M432.3 882.1h0M432.7 919.7h0M432.5 891.9h0M432.8 905.7h0M432.1 892.5h0M432.8 888.8h0M432.4 899h0M432.8 915h0M432.5 919.7h0M432.7 926.2h0M433.4 731h0M433.7 706.2h0M433.8 700.2h0M433.5 677.8h0M433.6 721.2h0M434.2 728.2h0M434 722.5h0M434.1 715.5h0M433.7 707.9h0M434.2 697.6h0M434 690.3h0M433.8 686h0M433.9 681.5h0M433.7 873.9h0M433.3 883.4h0M433.6 884.7h0M433.6 888.4h0M433.8 883.5h0M434.3 729.7h0M434.1 698.9h0M434.5 694.9h0M434.8 700.9h0M434.7 719.2h0M434.8 871.9h0M434.8 884.5h0M434.7 912.2h0M434.6 876.5h0M434.8 900.4h0M435.4 729h0M435.8 721.4h0M435.1 716h0M435.9 683.3h0M435.5 726.7h0M435.2 875.3h0M435.5 899.1h0M435.8 926h0M435.3 875.4h0M435.3 921.3h0M436.1 727.4h0M436.5 692.6h0M436.7 704.3h0M436 712.4h0M436.2 712.2h0M436.1 879.5h0M436.2 885.7h0M436 883.1h0M436 884.5h0M436.9 903.5h0M437.1 726.6h0M437.1 716.7h0M437.1 712.2h0M437.5 705.7h0M437.1 719.8h0M437.7 876.9h0M437.3 894.5h0M437.2 884.8h0M437.1 899.2h0M437 930.9h0M438.9 727.6h0M438.8 705.5h0M438.9 727.6h0M438.2 680.4h0M439 723.4h0M438.7 871.3h0M438.6 910.8h0M438.6 880.2h0M438.9 874.5h0M438 908.6h0M439.2 727.3h0M439.3 719.3h0M439.1 720.4h0M439.7 701h0M439.1 722.9h0M439.6 726.6h0M439.6 713.3h0M439.8 708.1h0M439.8 699.6h0M439.4 689.5h0M439.5 684.4h0M439.6 681.6h0M439.8 881.9h0M439.1 883h0M439.1 891.7h0M439.3 888.3h0M439.4 884.3h0M440.5 720.9h0M440.5 702h0M440.2 716.6h0M440 709.1h0M440.3 684.4h0M440.6 872.7h0M440.6 874h0M440.4 890.7h0M440.8 879.2h0M440.8 888.7h0M441.9 721.4h0M441.6 720.9h0M441.1 715.5h0M441.1 709.5h0M441.3 715.2h0M441.7 877.9h0M441.1 908.8h0M441.4 903.2h0M441.7 902.7h0M441.2 902.2h0M442.3 719.1h0M442.6 697.4h0M442.6 690.6h0M442.7 681.7h0M442.8 718.2h0M442.3 879.5h0M442.9 893.9h0M442.2 884.5h0M443 884.9h0M442.2 883.7h0M444 725.4h0M443.7 722.7h0M443 694.9h0M443.5 672.6h0M443.4 678.9h0M443.4 880.4h0M443 886.1h0M444 900.8h0M443.3 889.9h0M443.1 893.8h0M444.2 728.5h0M444 677.4h0M444.2 682h0M444.2 726.6h0M444.2 721.8h0M444.4 881.9h0M444.5 891.4h0M444.3 891.5h0M444.9 889.7h0M444.2 896.5h0M445.7 728.7h0M445 718.6h0M445.7 719.2h0M445.9 726.7h0M445.5 683.8h0M445 876.2h0M445.3 884.8h0M445.6 901.7h0M445.4 877.2h0M445.3 887.8h0M446.7 731h0M446.4 711.4h0M446.8 730.4h0M446.9 723.3h0M446.9 709.4h0M446.4 730.3h0M446.2 717.9h0M446.4 712h0M446.5 707.6h0M446.3 869.1h0M446.3 873.2h0M446.8 899.6h0M446.1 900.6h0M446.6 891.3h0M447.2 733.6h0M447.1 730.1h0M447.1 730.4h0M447.3 716.2h0M448 707.2h0M447.7 869h0M447.2 892.1h0M447.1 879.8h0M447.7 898.8h0M447.1 871.1h0M448.5 735.7h0M448.6 731.5h0M448.9 697.2h0M448.6 732h0M448.7 730.8h0M448.1 873.5h0M448 888.7h0M448.8 890.1h0M448.5 873.5h0M448.1 875.8h0M449.6 732h0M449.5 711.4h0M449.7 727.4h0M449.3 719.8h0M449.2 719.2h0M449.2 881.6h0M449.4 889.3h0M449.1 882.7h0M449.3 887.7h0M449.4 889.7h0M450 729.4h0M450.4 726.6h0M450.1 716.4h0M450.9 682.8h0M450.7 689.9h0M450.3 878h0M450.4 883.3h0M450.8 915.2h0M450.5 880.6h0M450.2 887.6h0M451.9 727.4h0M451.5 722.9h0M451.9 707.4h0M451.1 718.6h0M451.8 719h0M451.9 726.7h0M452.2 716.8h0M451.7 711.3h0M452 700.2h0M451.9 697.4h0M451.9 691.8h0M451.2 880.3h0M451.4 898.7h0M451.6 903.8h0M451.6 884.8h0M451.2 882.9h0M452.1 726.7h0M452.5 712.2h0M452.6 725.9h0M452.4 709.8h0M452.7 718.8h0M452.9 881h0M452.2 906.5h0M452.5 897.8h0M452.7 890.5h0M452.1 915.5h0M453.9 727.6h0M453.5 706h0M453.8 710.8h0M453.6 724.8h0M453.9 705h0M453.1 874.8h0M453 885.6h0M453.1 877.8h0M453.8 877.7h0M453.3 926.2h0M454.3 731.7h0M454.4 707.5h0M454.2 691.6h0M454.2 708.8h0M454.5 723.7h0M454.4 731.1h0M454.2 720.3h0M454.2 715.3h0M454.5 707.6h0M454.5 704.2h0M454.6 691.9h0M454.3 690.6h0M454.1 880.4h0M454.1 908.7h0M454.3 903.3h0M454.9 884.3h0M454.4 888.7h0M454.4 887h0M454.7 897h0M454.5 903.5h0M454.2 919.7h0M454.4 922.5h0M455.1 732.2h0M455.9 694.9h0M455.4 715.3h0M455.7 666.9h0M455.1 731.6h0M456 873.8h0M455.2 917.7h0M455.7 898.5h0M455.8 876.5h0M455.8 884.4h0M456.5 726.4h0M456.3 710.4h0M456.4 713.7h0M456.5 714.1h0M456.5 688.3h0M456.8 876.2h0M456.4 881.3h0M456.7 897.2h0M456.1 887.2h0M456.2 887.6h0M457.5 726.1h0M457.9 719.9h0M457.9 698.9h0M457.6 693.2h0M457.7 707.9h0M457.8 878.4h0M457.8 889.3h0M457.9 887h0M457.9 879.7h0M457.5 885.3h0M458.6 726h0M458.6 695.3h0M458.5 701.5h0M458.4 721.1h0M458.7 710.2h0M459 722.4h0M458.7 715.8h0M458.7 710.5h0M459.1 702.8h0M458.8 695.3h0M458.7 686.8h0M458.9 680.3h0M458.8 672.7h0M458.3 870.6h0M458.6 871.5h0M458.3 895.2h0M458.7 877.7h0M458.1 879.5h0M459.7 726.8h0M459.3 716.8h0M459.5 698.8h0M459.8 724.7h0M459.4 711.6h0M459.7 882h0M459.2 912.6h0M460 918.1h0M459.6 893.4h0M459.7 910.1h0M460.6 725.6h0M460.4 725.5h0M460.2 687.7h0M460.3 695.9h0M460.6 712.7h0M460.9 878.7h0M460.1 899.5h0M460.7 882.7h0M460.9 910.7h0M460.9 888.9h0M461.7 726.1h0M461.8 724.4h0M461.4 710.2h0M461.5 720.8h0M461.6 718.5h0M462 878.1h0M461.9 904.6h0M461.2 900.2h0M461.5 920.3h0M461.8 878.9h0M462.1 727.5h0M462 725.5h0M462.2 718.4h0M462.9 697h0M462.1 674.2h0M462.4 722.3h0M462.1 716.9h0M462.3 708.3h0M462.1 701.1h0M463 879.9h0M462.6 897.2h0M462.8 885.6h0M462.9 885.5h0M462.4 893.9h0M463.5 730.2h0M463.3 711h0M463.7 715.7h0M463.2 710.7h0M463.4 698.4h0M463.4 872.2h0M463.8 893.3h0M463.9 883.5h0M463.4 911.4h0M463.5 916.6h0M464.9 735.4h0M464.2 729.6h0M464.8 716.8h0M464.6 681.6h0M464.8 715.1h0M464.4 871.6h0M464.7 884.7h0M464.2 909.3h0M464 872.9h0M464 889.5h0M465.8 733.5h0M465.1 698.1h0M465 722.5h0M465 733.3h0M465.2 698.7h0M465.4 873.6h0M465.7 908.9h0M465 877.6h0M465.5 876.2h0M465.3 886.7h0M466.2 733.7h0M466.5 719.4h0M466.4 722.5h0M466.4 724.4h0M466.8 709h0M466.5 870.2h0M466.6 906.6h0M466.1 901.6h0M466.6 895.7h0M466 880.2h0M467.2 727.8h0M467.4 711.1h0M467.6 721.3h0M467.3 708h0M467.2 707.5h0M467.8 874.1h0M467.3 901.1h0M467.4 913.4h0M467.7 874.6h0M467.4 925.2h0M468.4 729.1h0M468.7 686.9h0M468.7 725.5h0M468.8 688.2h0M468 705h0M468.3 874.1h0M468.7 908.9h0M468.8 906.1h0M468.8 884.8h0M468.8 874.3h0M469.7 728h0M469.9 691.9h0M469.4 710.4h0M469.7 714.2h0M469.4 722.5h0M469.7 871.3h0M469.9 910.7h0M469.4 912h0M470 901.2h0M469 883.2h0M471 726.6h0M470.4 712.5h0M470 726.1h0M470.3 717.1h0M470.7 718.7h0M470.6 719.7h0M471.1 712.9h0M470.8 706.4h0M470.6 698.1h0M471.2 693.4h0M470.7 682.1h0M470.7 674.9h0M470.6 667.6h0M471.1 657.3h0M470.9 657.3h0M470.6 871.5h0M471 887.1h0M470.1 876.9h0M470.1 878.4h0M470.7 884.6h0M471.9 726.9h0M471.1 723.4h0M471.2 709.4h0M471.9 702.8h0M471.4 717.1h0M472.1 720.6h0M471.6 712.3h0M472.1 708.5h0M471.7 700h0M471.8 693.7h0M471.6 689.7h0M471.9 681.1h0M471.6 668.8h0M472 662.5h0M471.8 661.1h0M471.5 871.7h0M471.3 918.9h0M471.7 890.1h0M471.1 889.5h0M471.3 897.3h0M472.2 726.7h0M472.3 719.7h0M472.7 724.8h0M472.9 711.7h0M472.1 725.5h0M473.1 720.8h0M472.6 717h0M472.8 705.8h0M473 703.1h0M472.7 691h0M473 686.1h0M473.2 680.8h0M472.9 676.3h0M472 862.7h0M472.4 885.4h0M472.6 897.3h0M472.6 873.9h0M472 906.1h0M473.3 726.1h0M473.4 713.3h0M473.9 667.3h0M473.4 712.5h0M473.3 682.6h0M473.9 862.4h0M473.5 872.4h0M473.9 896.2h0M473.9 881.1h0M473 898.2h0M474.5 727.2h0M474.5 658.6h0M474.8 698.8h0M474.5 687.8h0M474.6 705h0M473.9 723.9h0M474.3 719h0M474.4 709.4h0M474.4 697.9h0M474.3 689.6h0M474.2 688.8h0M474.3 866.8h0M475 883.9h0M474.2 875.4h0M474.8 903.8h0M474.9 874.7h0M475.8 724.5h0M475.6 665h0M475.1 688.7h0M475.8 724.2h0M475.7 722.3h0M475.4 868.1h0M475.2 896.1h0M475.9 877.4h0M475.6 884.3h0M475.5 900.6h0M476.3 729.6h0M476.4 725.7h0M476.1 715.1h0M476.6 707.3h0M476.7 708.1h0M476.6 864.6h0M477 874.6h0M476 873.5h0M476.7 899.6h0M476.8 868.8h0M477.8 729.7h0M477.8 726.6h0M477.9 724h0M477.7 725.2h0M477.6 723.9h0M477.9 865.1h0M477.5 871h0M477.1 865.6h0M477.7 890.6h0M477.1 869.3h0M478.3 722.9h0M478.2 711.5h0M478.8 699.4h0M478.4 668.2h0M478.8 719.9h0M478.8 719.4h0M478.9 708.7h0M478.5 701.5h0M478.9 699.3h0M478.7 692.6h0M478.8 680.4h0M478.4 673.8h0M478.6 671.5h0M478.5 866.3h0M478.9 884.9h0M478.9 871.1h0M478.7 890.9h0M478.2 899.1h0M478.4 875.7h0M478.5 884h0M478.4 888.3h0M478.2 905.7h0M478.3 905.9h0M479.8 722.1h0M479.7 695.3h0M479.9 721.6h0M479.2 701.6h0M479.4 720.6h0M479.5 859.2h0M479.5 886.6h0M479.4 859.9h0M479.1 882.2h0M480 888.2h0M480.9 722.1h0M480.1 666.1h0M480.7 711.4h0M480 712.3h0M480.4 719.8h0M480.6 860.2h0M480.9 871.1h0M480.6 865.6h0M480.8 892h0M480.1 868.6h0M481.2 727.1h0M481.3 725.1h0M481.3 696.2h0M481.8 686.1h0M482 722.7h0M482 726.8h0M481.9 717.2h0M481.5 708.8h0M481.7 696.7h0M481.6 690.2h0M481.8 688.3h0M481.5 855.7h0M481.6 868.3h0M481 885.6h0M481.6 888.7h0M481.5 866h0M482.4 722.3h0M483 704.4h0M483 722h0M482.5 707.6h0M482.5 708.2h0M482 718.8h0M482.2 714.6h0M481.9 704h0M482 696.4h0M482.3 692.1h0M481.9 683.2h0M482.3 679h0M482 672.5h0M483 861.5h0M482.9 862.9h0M482.4 878.2h0M482.7 863.6h0M482.8 863.6h0M483.7 716.3h0M483.4 692h0M484 656.9h0M483.3 692.6h0M483.2 696.6h0M483.3 710h0M482.9 706.3h0M483 700.4h0M483.4 693.3h0M483.2 681.9h0M483.4 679.9h0M483.2 671.1h0M483.1 661.6h0M482.9 657h0M483.1 652.8h0M483.6 859.8h0M483.2 895.8h0M483.5 862.5h0M483.2 866.9h0M483.6 884h0M484.5 717.1h0M484.3 693.6h0M484.6 703h0M484.4 704.7h0M484 689.8h0M484.7 714.7h0M484.4 706.5h0M484.4 702.1h0M484.9 690.4h0M484.9 682.1h0M484.9 675.7h0M484.9 669.6h0M484.8 662.3h0M484.5 656.7h0M484.7 651.9h0M484.5 854.5h0M484.8 867.4h0M484.3 855.3h0M484.7 859.3h0M484.2 857.9h0M485 860.7h0M484.6 878.6h0M484.9 883.2h0M485.2 713h0M485.5 705.8h0M485.5 672.5h0M485.8 694.4h0M485.6 709.1h0M486 710.8h0M486.1 705.2h0M485.6 699.3h0M486 693.3h0M485.9 686h0M485.9 680.5h0M485.4 856.4h0M485.3 921.4h0M485.3 909.8h0M485.8 881h0M485.9 874h0M486.3 715.8h0M486.3 683.7h0M486.5 661.8h0M486.9 692.2h0M486.7 704.5h0M486 853.5h0M486.6 877.5h0M486.6 858.2h0M486.6 884.6h0M486.7 857.8h0M487.6 715.1h0M487.5 690h0M487.9 680.2h0M487.7 712.5h0M487.9 700.6h0M487.1 853.6h0M487.7 856.4h0M487.2 895.6h0M487.4 861.4h0M487.4 868.1h0M488.1 714.1h0M488.6 701.6h0M488.9 706.7h0M488.6 696.1h0M488.9 650.3h0M488.6 854.9h0M488.3 868h0M488.4 862h0M488.2 856.6h0M488.5 910.7h0M488.8 860h0M488.4 868.9h0M488.7 884.5h0M488.8 899.7h0M488.4 904.5h0M488.3 918.9h0M488.3 930.4h0M488.5 946h0M488.6 946.5h0M489.2 711.3h0M489.4 703.2h0M489.2 690.3h0M489.9 704.4h0M489.2 705.1h0M489.3 853.7h0M489.3 862.1h0M489.4 855.3h0M489 913.7h0M489.4 886.8h0M490.4 711.7h0M490.5 706.6h0M490.9 706.6h0M490.8 665.7h0M490.5 669.6h0M490.5 849.3h0M490.9 878.1h0M490.9 897.9h0M490.4 863.1h0M490.7 851.8h0M491.1 712.6h0M491.5 703h0M491.1 705.7h0M491.4 702.6h0M491.7 696.9h0M491.8 845.1h0M491.1 859.3h0M491.6 924.7h0M491 882.6h0M491.2 890.2h0M492.3 704h0M492.4 680.2h0M492.9 696.6h0M492.6 695.7h0M492.3 668.3h0M492.2 853.3h0M492.5 858.2h0M492.9 882.3h0M492.7 866.5h0M492.3 912.1h0M492.7 859.9h0M492.7 870h0M492.3 876.6h0M492.8 893.6h0M492.6 896.9h0M493.9 700.7h0M493 681.8h0M493.6 633.6h0M493.7 674.6h0M493.9 693.2h0M493.3 698.2h0M493.2 687.7h0M492.9 681.3h0M492.9 675h0M493.3 670.4h0M493.3 660.5h0M493 655.7h0M492.9 645.9h0M493.1 644.2h0M493.1 853.6h0M493.6 883.8h0M493.9 866.4h0M493.1 939.4h0M493.6 914.6h0M494.6 698.9h0M494.1 675.9h0M494.2 658.3h0M494 681.8h0M494.8 685.5h0M494.2 698.6h0M494.1 688.5h0M494.4 682.4h0M494.4 670.1h0M494.2 665.4h0M494.3 661.3h0M494.4 647.6h0M494.2 640.4h0M494.6 639.4h0M494.6 626.2h0M494.1 624h0M494.3 617.1h0M495 853.9h0M494.2 862.2h0M494 896.2h0M494.2 876.1h0M495 899.6h0M495 698.9h0M495.5 689.1h0M495.3 670.4h0M495.9 689.9h0M495.8 687.1h0M495.6 698.6h0M495.7 686.3h0M495.5 677h0M495.4 675.2h0M495.3 663.6h0M495.6 659.2h0M495.4 653.4h0M495.6 642.8h0M495.5 640h0M495 850.4h0M495.2 880.7h0M495.9 856h0M495.7 863.1h0M495.3 922.3h0M495.5 858h0M495.2 866h0M495.5 883.2h0M495.5 894.3h0M494.9 898.5h0M495.1 910.2h0M495.2 919h0M496.2 699h0M496.8 692.2h0M496.6 687.8h0M496.4 657.9h0M496.4 643.8h0M496.8 850.7h0M497 905.2h0M496.6 850.8h0M496.2 902.4h0M496.9 882.4h0M497.4 707.5h0M497.8 671.4h0M497.6 681.5h0M497.6 696.9h0M497.6 659.4h0M497.7 855.1h0M497.7 910.9h0M497 866.6h0M497.4 865.3h0M497.9 894.6h0M498.4 705.3h0M498.5 654.1h0M498 662.2h0M498.6 689.6h0M498.3 655.6h0M498.8 855.6h0M498.5 879.1h0M498.2 894.2h0M499 862.3h0M498.6 869.4h0M499.1 709.7h0M500 695.6h0M499.9 670.9h0M499.3 709.6h0M499.2 701.8h0M499.7 859.9h0M499.3 905.1h0M499.4 864.5h0M499.8 894.8h0M499.7 877.1h0M500.6 712h0M500.3 674.6h0M500.4 675.9h0M501 705.4h0M500.6 710.2h0M500.3 852h0M500 884.6h0M500.3 856.2h0M500.9 866.8h0M500.6 864.9h0M501.3 711.4h0M501.4 700.7h0M501.3 681.4h0M501.3 705.5h0M501.8 688.7h0M501.8 851.9h0M501.2 857.8h0M501.1 860.8h0M501.9 864.3h0M501.3 865.4h0M502.1 858.8h0M501.7 866.4h0M501.7 883h0M502.1 893.4h0M502.1 905.5h0M501.6 912.7h0M501.8 921.3h0M501.8 944.2h0M501.9 944.2h0M502.5 712.6h0M502.9 691.9h0M502.2 700.7h0M502.1 680.5h0M502 710h0M502.6 856.8h0M502.6 882.8h0M502.3 910.8h0M502 885.2h0M502.2 884.4h0M503.1 715.6h0M503.3 660.6h0M503.3 688.2h0M503.4 673.7h0M503.1 711.6h0M503.7 860.5h0M503.9 861.4h0M503.9 911.7h0M503.7 883.5h0M503.8 876h0M504.1 718.9h0M504.9 710.3h0M504.8 713.8h0M504.9 686.5h0M504.6 684.8h0M504.6 860h0M504.7 863.5h0M504.8 861.1h0M504.4 865.6h0M504.6 864h0M505.6 722.1h0M505.3 717.2h0M505.3 710.2h0M505.3 700.9h0M505.8 718.3h0M505.5 719.5h0M505.1 711.9h0M505.4 707.2h0M505.5 693.8h0M505.1 692.6h0M505.5 681.3h0M505 672.2h0M505.1 668.6h0M505.2 664h0M505.9 849.1h0M505.5 850.3h0M505.1 869.3h0M505.7 872.5h0M505.6 877h0M506.2 725h0M506.7 707.6h0M506.8 723.8h0M506.2 675h0M506.8 709.1h0M506.3 857.5h0M507 863.2h0M506.8 872.8h0M507 870.7h0M506.5 858.2h0M506.5 868.3h0M506.5 874.1h0M506.3 883.5h0M506.7 901.2h0M506.7 907.7h0M506.2 918.1h0M506.6 927h0M506.5 936.8h0M507.1 724.8h0M507.5 713.6h0M507.4 708.8h0M507.2 722.7h0M507.2 719.4h0M507.6 717.9h0M507.5 714.8h0M507.6 703.2h0M507.4 698.4h0M507 854.9h0M507.7 855.2h0M507.9 855.5h0M507.4 907.8h0M507.1 885.9h0M508.5 729.3h0M508.1 684.2h0M508.7 679.1h0M508.3 721.8h0M508.6 696.6h0M508.2 851.8h0M508.4 853.9h0M508.4 863.5h0M508.9 864.6h0M508.5 872.1h0M509.5 727.1h0M509.1 689.4h0M509.4 705.6h0M509.1 708.3h0M509.3 696.5h0M509.1 852.1h0M509.9 911.9h0M510 866.2h0M509 874.6h0M509.9 906.2h0M510.6 723.9h0M510.3 667.6h0M510.4 718.8h0M510.3 712.6h0M510.1 716.8h0M511 720.6h0M510.7 713.7h0M510.6 706.5h0M510.8 699.5h0M511.1 697h0M511 690.7h0M510.8 679h0M510.8 677.6h0M510.9 846.5h0M510.9 851.8h0M510 850.8h0M510.8 871.2h0M510.6 871.5h0M511.9 725.3h0M512 685.2h0M511.6 717.8h0M511.6 724.1h0M511.8 717.1h0M511.1 846.5h0M511.6 872.9h0M511 868.6h0M511.5 862.1h0M511.1 892.1h0M512.3 724.7h0M512.5 714.9h0M512.9 703.4h0M512.8 719h0M512.8 688.5h0M512.4 723.1h0M512.3 714.1h0M512.4 709.8h0M512.6 699.2h0M512.7 694.8h0M512.6 685.4h0M512.4 675.8h0M512.8 667.1h0M512.7 665.3h0M512.6 659.4h0M512.5 843.1h0M512.3 862.9h0M512.9 891.7h0M512.3 847.4h0M512.7 883.7h0M513 720.3h0M513.4 690.3h0M513 712.6h0M513.8 714h0M513.1 715.3h0M513.5 845.8h0M513.7 865.3h0M513.4 865h0M513.4 858.9h0M513 856.1h0M514.3 718.2h0M514.9 683.7h0M514.9 694.1h0M514.8 710.4h0M514.5 679.9h0M514.7 846.8h0M514.4 874.4h0M514.3 936.2h0M514.7 858.3h0M514.4 858.9h0M515.1 715.6h0M515.2 701.4h0M515.3 681.5h0M515.4 698.5h0M515.5 689.4h0M515.6 845.6h0M515.9 867.8h0M515.9 856.2h0M515.7 852.5h0M515.6 848.2h0M516.3 719.9h0M516.1 717.1h0M516.9 708.5h0M516.7 684.8h0M516.7 702.6h0M516.3 847.5h0M516.4 849h0M516 868.8h0M516.6 858.3h0M516.6 866.6h0M517.7 712.1h0M517.5 690.4h0M518 667.2h0M517.2 680h0M517.2 707.9h0M517.6 840.1h0M517.2 893h0M517.1 873.5h0M517.3 910.4h0M517.2 881.5h0M518.1 710.8h0M518.4 707.8h0M518.4 699.5h0M518.6 704.8h0M518.7 682.3h0M518.2 848.4h0M518.3 879.9h0M518.2 866.4h0M518.4 851.5h0M518.6 854h0M519.3 710.2h0M519.5 660.8h0M519.8 703.1h0M519.5 672.3h0M519.2 680.3h0M519.2 846.2h0M519.3 869.9h0M519.3 890.9h0M519.1 909.3h0M519.5 893h0M520.3 714.6h0M520.3 652.1h0M520.7 711.6h0M520.6 693.4h0M520.8 693.8h0M520.7 709.8h0M520.6 707.7h0M520.6 696.9h0M520.7 693.4h0M520.3 683.9h0M520.4 678h0M520.2 670.4h0M520.5 664.1h0M520.4 658.5h0M520.3 654.2h0M520.7 645.4h0M520.5 641.8h0M520.3 848h0M521 861.8h0M520.4 866.4h0M520.9 849.5h0M520.7 893.9h0M521.4 709.8h0M521.7 699h0M521.4 656.8h0M521.2 661.9h0M521.1 647.3h0M521.2 846.8h0M521 852h0M521.9 853.4h0M521.6 900.1h0M521.6 849.3h0M521.7 852.4h0M521.5 858.5h0M521.3 873.3h0M521.5 882.4h0M521.6 899.1h0M521.5 905.9h0M521.5 922.4h0M521.4 927.9h0M522.1 710.9h0M522.6 694.9h0M522.8 692.5h0M522.1 672h0M523 640.5h0M522.9 849.1h0M522.8 849.6h0M522.3 854.5h0M523 871.7h0M522.9 861.8h0M523.6 714.8h0M523.6 650h0M523.4 695.9h0M523.4 649.9h0M523.3 708.6h0M523.6 710.7h0M523.8 707.2h0M523.5 695.9h0M523.7 692.3h0M523.5 680.3h0M523.7 675.4h0M523.6 667.7h0M523.5 663.6h0M523.6 650.4h0M523.6 645.8h0M523.7 642.8h0M523.7 852.1h0M523.6 885.4h0M523.6 874h0M523 914.3h0M523.7 856.1h0M524.3 714.2h0M524.1 701.9h0M524.1 673.5h0M524.3 704.7h0M524.1 704.8h0M524.7 849.4h0M524.8 861h0M524.4 870.2h0M524.5 878.9h0M524.2 850.6h0M525.7 715.8h0M525.2 712.4h0M525.7 679.2h0M525.1 666.3h0M525.1 674.6h0M525.9 846.3h0M525.5 863.8h0M525.7 863.9h0M525.7 851.3h0M525.2 871.9h0M526.6 712.7h0M526.9 677.5h0M526 683.3h0M526.1 686.4h0M526.7 711.4h0M526.5 855.7h0M526.5 865.5h0M526.4 857.7h0M526.5 862.7h0M526.8 897.5h0M527.1 711.3h0M527.7 707.8h0M527.1 697.5h0M527.9 692.6h0M527.2 707.1h0M527.2 852.5h0M527 855.2h0M527.4 871.4h0M527.2 863.6h0M527.8 875.9h0M528.9 717.6h0M528.9 716.8h0M528.3 654.2h0M528.2 704.9h0M528.2 679.1h0M528.8 856h0M528 880.8h0M528.1 866.3h0M528.7 868.4h0M528.8 896.6h0M530 714.9h0M529.8 676.2h0M529 713.6h0M529.7 690.5h0M529.4 713.3h0M529.1 852.5h0M529.4 854.8h0M529.1 861.7h0M529.7 920.7h0M529.5 860.2h0M530.2 715.6h0M530.2 661.5h0M530.3 713.2h0M530.1 666.7h0M530 661.8h0M530.4 855.1h0M530.6 865.8h0M530.9 883.7h0M530.4 863.5h0M530.9 859h0M531 714.7h0M531.1 673.6h0M531.4 702.6h0M531.1 678h0M531.7 710.7h0M531.2 847.1h0M531.7 854.6h0M531.1 909h0M531.6 891.2h0M531 866.2h0M532.2 715.4h0M532.6 672.4h0M532.1 668.8h0M532.4 697.1h0M532.2 677.7h0M532.4 854.2h0M532.3 865.1h0M532.3 858.3h0M532.2 859.5h0M532.7 866.9h0M533.3 715.5h0M533.1 708h0M533.9 696.1h0M533.2 707h0M533.8 711.1h0M533.4 713.1h0M533.5 707.1h0M533.7 696.9h0M533.2 696.4h0M533.5 690.5h0M533 844.3h0M533.8 871.2h0M534 885h0M533.4 894.6h0M533.6 850.2h0M534.6 716.3h0M534.7 713.7h0M534.4 688.4h0M534.6 685.9h0M534.8 698.6h0M534.8 846.5h0M535 848.2h0M534 859.6h0M534.6 854.4h0M534.3 851.4h0M535.2 715.7h0M535 689.3h0M535.6 712.6h0M535.3 700.5h0M535 704.1h0M535.3 852.5h0M535.8 860h0M535.7 875.5h0M535.4 887.2h0M535.3 872.1h0M536.1 862h0M536.1 874.6h0M535.8 885.4h0M535.7 890.6h0M535.7 908.7h0M535.6 921.1h0M535.7 927.9h0M535.9 934.1h0M536.3 720.3h0M536.2 713.2h0M536.7 690.4h0M536.5 672.5h0M536.4 715.2h0M536.8 849h0M536.3 869h0M536.8 883h0M536.1 858.1h0M536.8 861.1h0M537.3 719.4h0M537.2 710.3h0M537.3 710.7h0M538 700.3h0M537.1 709.3h0M537.3 851.1h0M537.5 881.2h0M537.8 912.2h0M537.3 855h0M537.7 898.6h0M538.7 718.2h0M538.9 682.1h0M539 677.3h0M538.1 714.6h0M538.2 706.6h0M538.1 847.5h0M539 868.8h0M538.7 863.2h0M538.7 849h0M538.2 851.1h0M539.8 717.9h0M539.7 706.7h0M539.1 710.8h0M539.2 711.2h0M540 707.7h0M539.7 842.3h0M539 872.6h0M539.8 869.5h0M539.8 844.3h0M539.5 903.9h0M539.4 842.8h0M539.7 862h0M539.5 874.1h0M539.4 880.4h0M539.7 889.2h0M539.6 899.7h0M539.4 917.8h0M539.6 918h0M540.5 715.7h0M540.3 709h0M540.1 690.8h0M540.1 688.6h0M540.3 692.8h0M540.8 843.8h0M540.1 876.2h0M540.9 864.7h0M540.3 873.6h0M540.8 846.1h0M541.3 717.2h0M541.8 691.1h0M541.2 701.2h0M541.5 694.9h0M541.7 689.5h0M541.7 847.6h0M541.3 900.7h0M541.2 894.1h0M541.8 855.5h0M541.7 856.6h0M542.1 713.2h0M542.8 713.2h0M542 710h0M542.5 710h0M542.7 667.5h0M542.7 707.2h0M542.6 700.3h0M542.9 694.7h0M542.8 693h0M542.5 684.9h0M542.5 678.7h0M542.8 669.3h0M542.5 667h0M542.6 654.7h0M542.6 653.9h0M542.6 842.4h0M542.2 893.9h0M542.5 876.9h0M542.9 873.2h0M542.7 880h0M544 711.1h0M543.9 704h0M544 678.3h0M543.8 661h0M543.4 707.5h0M543.5 710.2h0M543.6 698.1h0M543.3 691.3h0M543.9 684.8h0M543.6 682.7h0M543.7 672.1h0M543.6 667.4h0M543.6 664.9h0M543.4 841.7h0M543.8 849.8h0M543.7 869.3h0M543.6 900.4h0M543.2 855.9h0M544.4 709.5h0M544.5 684.7h0M544 681.1h0M544.9 704.9h0M544.3 695.8h0M544.3 704.4h0M544.7 702h0M544.4 693.7h0M544.7 690.8h0M544.5 685.3h0M544.3 843.8h0M544.8 916.8h0M544.2 863.4h0M544.5 885.7h0M544.5 847.8h0M545.1 709.5h0M545 689.1h0M545.7 704.1h0M545.6 692.3h0M545.3 675.2h0M545.6 842.1h0M545.4 871.5h0M545.3 844.8h0M545.2 843.7h0M545.7 898.6h0M546.4 706.4h0M546.5 673.5h0M546.8 700.6h0M547 700.2h0M546.7 700.4h0M546.8 841.1h0M546.7 873.7h0M547 872.6h0M546 847.6h0M546.1 859.8h0M547.3 709h0M547.8 679.8h0M547.4 682.5h0M547.2 699.1h0M547 686.7h0M547.5 706h0M547.8 699h0M547.5 688.7h0M548 681.1h0M547.8 675h0M547.9 666.1h0M547.7 658.7h0M547.9 652.1h0M547.7 649.3h0M547.6 839.7h0M547.3 853.5h0M548 853.4h0M547.8 872.1h0M547.5 912.7h0M548.2 709h0M548.9 670.4h0M548.7 708.9h0M549 694h0M549 658h0M548.3 837.7h0M548.7 840h0M548.7 883.3h0M548.5 870.6h0M548.8 844.6h0M549.3 704h0M549.1 698.2h0M549.8 689.9h0M549 696.1h0M549.9 699.9h0M549.1 832.7h0M549.8 853.9h0M549.7 837.6h0M549.3 835.2h0M549.5 885.3h0M550.2 703.3h0M550.9 685.1h0M550.3 686.6h0M550.6 662.7h0M550.8 664.9h0M550.2 698.3h0M550.3 693.9h0M550.4 687.9h0M550.3 679.2h0M550.1 672.2h0M550.3 667.7h0M550.2 660h0M550.4 648h0M550.4 644.6h0M550.3 639.9h0M550.4 833.9h0M550.9 856h0M550.3 838.9h0M550.5 875.1h0M550.4 856.8h0M551.4 701.8h0M551.5 698.5h0M551.8 655.8h0M551.4 685h0M551.7 677h0M551.8 698.3h0M551.5 693.8h0M551.3 681.6h0M551.7 675.8h0M551.6 668.9h0M551.3 661.3h0M551.7 656.4h0M551.7 647.5h0M551.7 641.8h0M551.6 637.8h0M551.1 829.1h0M551.3 859.7h0M552 862.1h0M551.8 879.3h0M551.7 842h0M552.4 697.7h0M552.3 682.3h0M552.5 669.8h0M552.8 682.4h0M552 686.4h0M552.5 832.2h0M552.6 832.4h0M552.7 883.1h0M552.1 832.2h0M552.6 839.2h0M554 697h0M553.3 686.6h0M553.9 676.1h0M553.7 692.6h0M553.5 646.1h0M553.8 829.7h0M553.5 855h0M553 833.5h0M553.6 837.5h0M553.1 838.8h0M554.8 697h0M554.7 663.5h0M554.3 665.8h0M554.6 683.2h0M554.1 689.2h0M554.2 822.8h0M554.2 885.8h0M554.1 838h0M554.7 860.9h0M554.6 827.2h0M555.5 690.3h0M555.9 677.1h0M555.3 670h0M555.5 684.9h0M555.4 669.9h0M555.8 685.6h0M556.3 681.9h0M555.7 669.7h0M555.7 663.3h0M555.7 655.4h0M555.8 650.7h0M556 644.7h0M556.2 637.2h0M556 634h0M555.1 833.5h0M555.5 834.1h0M555.8 884.5h0M555.4 893.6h0M555.4 886.7h0M556.8 688.1h0M556.8 681.2h0M556.3 669.1h0M556.6 639.3h0M556.1 667.6h0M556 686.9h0M556.3 674.6h0M556 671.3h0M556 662.1h0M556.1 656.3h0M556.1 653h0M556.8 823.8h0M556.1 840.7h0M556.6 904.5h0M556.8 851.7h0M556.4 844.1h0M557.6 687.6h0M557 675.4h0M557.9 684.3h0M557.1 666.5h0M557.8 677.7h0M557.1 834.8h0M557.7 887.7h0M557.7 857.1h0M557.5 898.5h0M557.3 837.1h0M558.2 684.5h0M558.2 649.9h0M558.2 640.7h0M558 676.1h0M558.9 655.1h0M558.6 828h0M558.7 867.5h0M558.8 861.5h0M558.7 867.9h0M558.6 842.2h0M559.5 685.2h0M559.7 667.5h0M559.1 677.6h0M559 684.1h0M559.8 684.5h0M559.7 836.7h0M559.8 844h0M560 871.8h0M559.7 874h0M559.1 891.6h0M560.4 686.3h0M560.1 637.3h0M560.8 669.3h0M560.1 682.2h0M560.8 685.9h0M560.7 831.5h0M560.7 847.7h0M560.4 852h0M560.9 870.4h0M560.8 877.4h0M561.9 681.7h0M561.4 622.3h0M561.8 676.1h0M561.9 665.2h0M561.1 665.1h0M561 828.7h0M561.1 829.8h0M561.3 844.9h0M562 842.9h0M561.6 836.3h0M562.7 685.5h0M562.6 628.3h0M562.4 676.7h0M562.3 664.8h0M562.9 618.6h0M562.7 832.6h0M562.3 876.5h0M562.6 889.5h0M562 845.4h0M562.6 871.5h0M563.7 683.2h0M563.8 673.4h0M563.7 681.8h0M563 666.7h0M563.6 662.2h0M563.1 837.4h0M563.7 845.6h0M563.5 893.4h0M563.4 869.2h0M563.9 867.6h0M564.8 680.8h0M564.5 658.1h0M564.5 637.7h0M564.3 668.6h0M564.4 665.5h0M564.4 836.8h0M564.2 845.5h0M564.9 886.2h0M564.5 895.6h0M564 841.5h0M565.3 683.1h0M566 667h0M565.4 672.4h0M565.5 680.5h0M565.1 653.4h0M565.7 677.1h0M565.9 672.3h0M565.8 665h0M565.9 660.8h0M565.6 650h0M565.8 644.8h0M565.9 636.1h0M565.7 630.1h0M565.7 623.6h0M565.8 614.4h0M565.7 612.2h0M565.4 841.1h0M565.4 871.6h0M565.8 851.3h0M566 880.2h0M565.5 881h0M566.4 688.8h0M566.3 629.1h0M566.8 685.7h0M566.8 686.4h0M566.1 653.5h0M566.1 833.2h0M566.6 865.3h0M566.3 871.2h0M567 845.8h0M566.7 859.3h0M567.3 690.1h0M567.1 684.7h0M567.3 660h0M567.9 673.7h0M567.1 648.2h0M567.8 686.9h0M567.7 680h0M568 668.1h0M567.9 665.8h0M567.2 837.6h0M567.7 857.4h0M567.9 896h0M567.8 841.1h0M567.5 858.8h0M568.1 692h0M568.9 687.2h0M568.6 674.1h0M568.6 682.8h0M568.8 681.4h0M568.2 841h0M568.8 842.2h0M568.1 893.4h0M568.8 876.7h0M568.4 845.9h0M569.3 694.9h0M569.5 682.6h0M569.9 661.5h0M569.3 640.8h0M569.2 685.8h0M569.9 691.8h0M569.7 681.6h0M569.7 673.2h0M569.8 671h0M569.6 664h0M569.8 658.5h0M569.5 841.5h0M569.3 850.4h0M569.1 853.6h0M569.9 855.4h0M569.1 842.1h0M570.4 699.9h0M570.2 671.2h0M570.8 698.4h0M570.4 699.4h0M570.7 690.2h0M570.2 699.3h0M570.1 688.1h0M570.2 681.5h0M570.4 675.7h0M570.2 669.7h0M570.1 832.4h0M570.4 834.8h0M570.8 838.4h0M570.2 838.6h0M570.9 834.6h0M571.2 700h0M571.1 693.6h0M571.5 685.6h0M571.3 678.5h0M571.1 696.1h0M571.6 841.1h0M571.7 885.4h0M571.1 867.4h0M571.1 874.1h0M571.3 861h0M572.2 700.9h0M572.8 679.2h0M572.4 689.6h0M573 680.2h0M572.5 695.6h0M572.8 835.4h0M572.5 869.2h0M572.1 845.6h0M572.6 839.2h0M572.1 883.9h0M573.4 706.2h0M573.1 704h0M573.2 700.6h0M574 699.6h0M573.4 698h0M573.6 832.4h0M573 835.7h0M573.1 873.6h0M573.2 847.5h0M573.4 848.6h0M573.3 834.1h0M573.2 851h0M573.3 862.7h0M573.3 879.5h0M573.2 891h0M573.3 903.9h0M573.3 904.4h0M574.7 704.6h0M574.4 675.7h0M574.5 672.5h0M574.3 696.9h0M574.1 662.9h0M574.6 840.4h0M574.8 881.3h0M574.3 865.6h0M574.3 882h0M574.6 853.9h0M575 711.7h0M575.1 684.5h0M575.7 673.4h0M575.3 685.7h0M576 702.8h0M575.1 837.2h0M575.1 838.2h0M575.7 854.2h0M575.7 873.6h0M575.2 841.7h0M576.5 712.3h0M576.9 682.6h0M576.7 693.4h0M576.5 701h0M576.1 694.8h0M576.5 839.2h0M576 865.2h0M576.9 870.5h0M576.9 845.7h0M576.6 844.3h0M577.7 710.2h0M577.8 700.7h0M577.8 709.5h0M577.8 704.6h0M577.4 683.2h0M577.8 703.7h0M577.7 702.4h0M577.5 689.5h0M577.9 682.3h0M577.5 677.6h0M578 673.9h0M577.8 666.8h0M577.4 657.7h0M577.7 653.4h0M577.3 841.3h0M577.9 862.5h0M577.8 878.5h0M577.8 858.6h0M578 871.7h0M578.9 710.2h0M578.9 687.1h0M578.2 702h0M578.5 706.7h0M579 685.9h0M578.2 707.8h0M577.9 703.2h0M578 695.7h0M578.1 688.8h0M578.2 680.8h0M578 674.1h0M578 668.6h0M578.1 662h0M578.4 834.3h0M578.8 872.5h0M578.3 885h0M578.3 894.9h0M578.8 847.7h0M579.9 715h0M580 677.4h0M579.7 691.3h0M580 705.2h0M579.7 701.1h0M579.7 837.9h0M579.7 856.4h0M579.8 869.2h0M579.8 856.6h0M579.5 842.4h0M580.5 712.4h0M580.6 703.7h0M580.1 700.4h0M581 687.3h0M580.4 658.8h0M580.8 839.5h0M580.4 855.5h0M580.8 870.4h0M580.6 866h0M580.5 866.7h0M581 708.5h0M581.5 693.1h0M581.7 669.6h0M582 695.2h0M581.1 693.4h0M581.7 704h0M582.1 696.9h0M581.9 685.7h0M582 684.8h0M581.4 833.9h0M581.5 893.5h0M581.8 839.3h0M581.4 843h0M581.4 871.7h0M582.9 710.2h0M582.7 703.4h0M582.1 706.4h0M582.8 700.6h0M582.5 668.8h0M582.9 707.4h0M583 698.2h0M582.6 689.5h0M582.9 683.4h0M583.1 678.7h0M582.9 673.2h0M583.1 662.3h0M582.8 656.3h0M582.9 646.3h0M582.6 640.9h0M582.9 636.8h0M582.8 629.6h0M582.1 828.5h0M582.5 870.9h0M582.6 852.5h0M582.2 874.8h0M582.5 871.5h0M583.7 702.4h0M583.1 663.9h0M583.1 681.2h0M583.8 670.7h0M583.4 662.3h0M583.5 827.9h0M583.2 890.5h0M583.7 852.4h0M583.8 827.9h0M583.7 833.3h0M584.4 701h0M584.1 667.3h0M584.8 665.1h0M584.8 657h0M584.6 656.8h0M584.6 833.9h0M584.9 843.3h0M584.2 837.8h0M584.8 854.5h0M584.6 855.5h0M585.4 698.5h0M585.5 687h0M585.2 670.5h0M586 698.3h0M585.4 649.1h0M585.3 835.7h0M585.2 844.1h0M586 884.2h0M585.3 846.7h0M585.9 865.8h0M585.5 839.3h0M585.3 855.9h0M585.1 861h0M585.1 876h0M585.5 885.8h0M585.2 893h0M586.6 696.3h0M586.9 660.4h0M586.2 663.5h0M586.8 642.4h0M586.9 693.3h0M586.7 831.7h0M586.1 878.6h0M586.4 851.5h0M586.3 872.9h0M586.4 847.3h0M587.7 698.4h0M587.9 646.4h0M587.7 665.5h0M587.5 697.8h0M587.8 692.4h0M587.7 694.4h0M587.5 684.6h0M587.7 682.9h0M587.7 675.2h0M587.7 662.2h0M587.4 655.1h0M587.8 653.9h0M587.5 642.8h0M587.7 632.6h0M587.6 631.7h0M587.6 625.2h0M587.3 824.5h0M587.1 849.9h0M587.5 860h0M587.1 868.2h0M587 839.2h0M588.5 694.5h0M588.7 672.6h0M588.3 644.6h0M588.8 681.9h0M588.5 687h0M588 833.1h0M588.3 858.2h0M588.9 839.1h0M588.1 835.9h0M588.7 844.7h0M589.3 690.9h0M589.5 688.6h0M589.4 655.7h0M589.3 654.4h0M589.3 671.2h0M589.5 823.3h0M589.6 824.9h0M589.4 865.2h0M589.5 887.6h0M589.6 840.4h0M590.8 689.7h0M590.1 673.9h0M590.5 665.3h0M590.2 681.3h0M590.9 672.9h0M590.6 829.2h0M590.4 829.4h0M590.8 847.1h0M590.7 852h0M590.2 896.8h0M591.6 687.6h0M591.6 628.8h0M591.3 653.9h0M591.8 666.1h0M591.7 662.5h0M591.8 828.4h0M591.6 886.9h0M591.4 848.1h0M591.3 842.3h0M591.4 846.1h0M591.6 830.7h0M591.5 851h0M591.3 862.8h0M591.5 868.1h0M591.3 878.8h0M592.1 686.5h0M592.5 675.1h0M592.2 646.3h0M592.3 663h0M592.3 672.8h0M592.2 830.4h0M592.6 878.8h0M592.6 849.3h0M592 841.9h0M593 838.2h0M592.3 836.4h0M592.5 850.9h0M592.8 852.9h0M592.5 873h0M592.2 879.7h0M592.5 884h0M593 685.3h0M593.4 664.3h0M593.2 664.9h0M593.6 680.9h0M593.4 655h0M593.9 823.4h0M593.5 832.9h0M593.1 856.6h0M593.8 826.6h0M593.1 857.1h0M594.4 685.9h0M594.2 685.8h0M594.9 659h0M595 632.5h0M594.9 658.1h0M594.9 829.5h0M594.5 834h0M594.9 845.5h0M594.8 859.6h0M594.2 871.7h0M595.2 688.5h0M595.9 675.6h0M595.4 651.8h0M595.8 681.7h0M595.7 673.5h0M595.4 681.2h0M595.3 680.2h0M595.3 667.2h0M595.4 657.6h0M595 648.1h0M595.2 647.6h0M595.6 827.2h0M595.2 862.8h0M595.6 885.3h0M595.8 835.9h0M595.7 836.9h0M596.8 686.3h0M596.6 670.3h0M596.6 681.3h0M596.5 654.4h0M597 674.6h0M596.6 680.2h0M596.6 675.1h0M596.6 668.9h0M596.6 660.8h0M597 653.9h0M596.8 647.6h0M596.5 825h0M596.1 843.7h0M597 842.2h0M597 855.3h0M596.2 855.5h0M597.4 692.3h0M597 686.3h0M597.8 691.9h0M597.5 663.4h0M597.1 691.5h0M597.2 691.3h0M597.3 682.9h0M597.5 676.4h0M597.5 667.3h0M597.5 666h0M597.6 818.5h0M597.4 859.2h0M598 840.4h0M597.3 869h0M597.4 851.7h0M597.4 820.9h0M597.6 834.9h0M597.6 848.2h0M597.3 855.9h0M597.8 869.2h0M597.5 873.5h0M598.8 690.1h0M598.3 662.8h0M598.9 661.2h0M598.2 675.5h0M598.7 650.2h0M598.2 820.1h0M598.8 841.5h0M598.9 827.5h0M598.4 822.8h0M598.9 821.1h0M598.9 824.5h0M598.7 840.1h0M598.7 849.1h0M598.5 863.3h0M598.8 865.9h0M599.9 692.9h0M599.7 692.5h0M599.7 675.9h0M599.4 663.3h0M599.7 687.6h0M600 825.7h0M599.6 875.9h0M599.8 866.6h0M599.7 850.3h0M599.8 844.9h0M600.7 691.5h0M601 686.2h0M600.1 676.9h0M600.2 663.9h0M600.4 671.2h0M600.5 688.8h0M600.8 677.9h0M600.7 675.1h0M600.5 671h0M600.2 826h0M600.3 862.9h0M600.4 860.2h0M600.7 879.7h0M600.1 842.7h0M601.1 690.8h0M601.3 674.8h0M601 688.7h0M601.3 677.3h0M601.4 672.3h0M601.4 815.8h0M602 825.1h0M601.1 865.8h0M601.5 829.1h0M601.2 848.9h0M602.8 693h0M602.9 685.9h0M602.3 691.8h0M602.3 659h0M602.1 651.3h0M602.5 814h0M602.1 847.2h0M602.1 824.3h0M602.2 841.5h0M602.9 815.7h0M603.5 689.1h0M603.6 663.1h0M604 658.1h0M603.9 659.9h0M603.2 679.2h0M603.4 824.4h0M603.7 826.5h0M603.7 826.3h0M603.3 852.1h0M603.5 828.6h0M604.4 688.7h0M604.3 687.9h0M604.7 685.9h0M604.1 685.9h0M604.1 681.3h0M604.5 825h0M604.4 846.5h0M604.7 827.5h0M604.4 833.1h0M604.4 851.1h0M605.6 686.2h0M605.4 659.1h0M605.9 681.5h0M605.8 674.8h0M605.3 685.2h0M605.3 825.9h0M605.4 858.8h0M605.3 833.5h0M605.9 848.2h0M605.6 826.1h0M606.5 687.1h0M606.8 662.4h0M606.2 676.7h0M606.9 670.9h0M606.1 676.9h0M606.2 820.9h0M606.2 845.6h0M606.2 846.4h0M606.9 859.4h0M606.5 827.4h0M606.1 829.7h0M606.3 837.5h0M606.2 845.5h0M607.2 690.6h0M607.6 682.2h0M607.6 681h0M607.9 687.3h0M607 685.4h0M607.7 818.9h0M607.7 831.7h0M607.6 826h0M607.1 824.8h0M607.5 819h0M608.9 686h0M609 671h0M608.1 679.4h0M608.3 679.2h0M608.6 651.6h0M608.1 826.7h0M608 831.9h0M608.6 826.7h0M608.9 872.9h0M608.4 852.5h0M610 683h0M609.9 675.3h0M610 648.4h0M609.5 656.9h0M609.1 653.3h0M610 827.3h0M609.7 832h0M609.1 838.9h0M609.3 834.6h0M609.7 844.2h0M610 678.5h0M610.9 670.8h0M610.2 669.6h0M610 669h0M610.1 625.6h0M610.9 825.7h0M610.8 843.8h0M610.5 828h0M610.1 858.1h0M610.1 842.6h0M611.2 679.8h0M611.6 636.5h0M611.2 648.2h0M611.7 621.2h0M611 665.9h0M611.1 818.8h0M611.2 827.7h0M611.9 840.4h0M611.5 842.5h0M611.9 819.3h0M612.4 676.7h0M612.7 649.5h0M612.4 642.4h0M612.9 663.6h0M612.2 652.3h0M612.4 830.8h0M612.8 847.7h0M612 873.7h0M612 866.8h0M612.4 843.7h0M613.7 673h0M613 653.6h0M613 655.3h0M613.6 634.4h0M613.8 656.7h0M613.5 827.1h0M613.2 841.7h0M613.5 828h0M613.3 829.4h0M613.2 841h0M614.3 675.3h0M614.4 667.3h0M614.8 639.3h0M614.5 668.2h0M614.2 625.8h0M614.2 833.2h0M614.4 844.1h0M614.1 842.7h0M614.5 861.8h0M615 843.6h0M615.3 670.2h0M615.7 632.9h0M615.7 658.3h0M615.5 667.1h0M615.5 653.8h0M615.6 669.8h0M615.5 659.5h0M615.7 650h0M615.8 648.3h0M615.2 834.9h0M616 845.3h0M615 842h0M615.9 846.6h0M615.1 853.9h0M616 674.3h0M616.1 647.7h0M616.9 644.6h0M616.5 667.2h0M616.5 673.2h0M616 672.5h0M615.8 666.2h0M616 655.6h0M616.2 650.2h0M615.8 642.2h0M616 637.6h0M616.7 832h0M616.3 836.2h0M616.5 844.9h0M616 859h0M616.8 842.6h0M617.6 673h0M617.9 641h0M617 663.6h0M617.8 667.2h0M617.6 661.5h0M617.3 835.9h0M617.5 872.2h0M617.6 868.9h0M617.9 836h0M617.9 851.7h0M618.8 675.4h0M618.6 654.1h0M618.6 668.4h0M618.3 651.9h0M618.7 653.5h0M617.9 671.7h0M618.1 663h0M618.1 655.8h0M618.2 648.5h0M618 640.9h0M618.1 634.1h0M617.9 626h0M618.3 618.6h0M618 609.2h0M618 608h0M618.1 601.3h0M618.4 828.3h0M618.8 831.8h0M618.1 832.5h0M618 865.4h0M618.4 843.7h0M619.7 678.4h0M620 667.2h0M619.9 672h0M619 664.2h0M619.6 661.3h0M619.7 827h0M619.6 843.8h0M619.3 847.7h0M619.4 861.8h0M619.3 844.1h0M620 678.9h0M620.9 632.8h0M620.3 658.5h0M620.1 667.9h0M620.9 654h0M620.4 674.9h0M620.8 670.1h0M620.4 657h0M620.2 653h0M620.8 644.1h0M620.7 636.2h0M620.5 634.6h0M620.8 836.1h0M620.5 837.8h0M620.6 838.4h0M620.4 838.2h0M620.2 836.8h0M620.1 839.7h0M620 856h0M620.2 858.8h0M621.2 682.2h0M621.6 672.2h0M621.7 671.2h0M621.6 682h0M621.2 631.5h0M621.1 834.2h0M621.8 848h0M622 841.7h0M621.6 852.1h0M621.7 835.3h0M622.1 837.7h0M621.7 851.3h0M621.8 867.6h0M621.9 877.2h0M621.8 885.2h0M622 890.7h0M622.2 681.3h0M622.8 672.8h0M622.4 674.3h0M622.1 648.7h0M623 662.4h0M622.5 838.1h0M622.9 840.6h0M622.9 839.4h0M622.4 878.5h0M622.4 856.6h0M623.4 686.6h0M623.8 639.5h0M623 658.6h0M623.8 654.2h0M623.6 628h0M623.8 838.6h0M623.3 863.5h0M623.7 880.7h0M623.5 843.4h0M623.3 840.5h0M624.9 683.4h0M624.3 673.3h0M624.1 672.1h0M624.7 660.4h0M624.3 678.3h0M624.5 676.3h0M624.2 675.4h0M624.3 665.5h0M624.6 660.2h0M624.3 647.9h0M624.4 647.3h0M624.7 640.7h0M624.5 632.2h0M624.4 620.6h0M624.4 619.4h0M624.4 834.3h0M624.8 855.8h0M625 877.2h0M624.3 843.3h0M624.1 882.1h0M625.4 688.9h0M625.6 661h0M625.6 648.7h0M625.9 678.8h0M625.5 633.8h0M625.7 836.4h0M625 874.6h0M625.1 869.8h0M625.3 845.2h0M625.4 848h0M626.9 688.4h0M626.5 634h0M626.1 683.7h0M626.7 678.9h0M626.7 676.2h0M626.4 831.2h0M627 831.7h0M626.9 867.7h0M626.4 833.9h0M626.4 841.5h0M627 686.3h0M627.2 671.3h0M627.8 675.6h0M628 682.8h0M628 657.3h0M627.6 833.8h0M627.1 853.3h0M627.2 837.8h0M627.3 848.9h0M627.1 840.2h0M628.7 687.3h0M628.4 653.2h0M628.1 620.1h0M628.4 664.3h0M628.3 664.1h0M628.3 836.8h0M629 873.6h0M628.7 858.8h0M628.4 875.4h0M628.3 877.6h0M629.4 691h0M629.5 667.5h0M629.7 663.5h0M629.8 679.4h0M629.5 661.2h0M629.8 839.3h0M629.5 840.2h0M629.8 845h0M629.6 850.2h0M630 866.3h0M629.1 841.6h0M629.2 855.5h0M629 863.4h0M629.1 875.1h0M629.1 894.2h0M629.3 905.3h0M629.1 905.9h0M630.4 689.3h0M630.4 646.4h0M630.9 640.2h0M630 656.7h0M630.8 650.9h0M630.3 833.8h0M630.4 862.2h0M630.7 842.1h0M630.9 847.4h0M630.9 861.5h0M631.4 692.5h0M631.8 674.1h0M631.4 669.1h0M631.7 671.4h0M631.8 681.3h0M631.7 837.3h0M631.5 850.1h0M631.1 856.4h0M631.1 839.5h0M631.6 848.5h0M632.8 692.2h0M632.3 671.5h0M632.2 654.4h0M632.6 662.3h0M632.5 687.5h0M632.8 838.2h0M632.2 882.7h0M632.6 853.5h0M632.6 888.3h0M632 854.5h0M633.2 698.9h0M633.7 666h0M633.9 697.3h0M633.9 686.4h0M633.2 662.1h0M633.7 839h0M633.9 864.1h0M633.8 858.5h0M633.9 872.5h0M633.7 847.5h0M634.8 694.9h0M634.8 686h0M634.7 653.1h0M634.8 692.6h0M634.9 693.6h0M634.9 831.8h0M635 841.4h0M634.9 873.1h0M634.5 833.9h0M634.9 872.2h0M636 693.9h0M636 691.4h0M635.2 688.9h0M635.7 657.4h0M635.2 691.2h0M635.6 693.3h0M635.3 684.9h0M635.5 675.2h0M635.9 668.9h0M635.6 660.8h0M635.7 651.4h0M635.7 648.1h0M635.5 642.3h0M635.6 632.8h0M635.6 622.6h0M635.6 621.7h0M636 834.4h0M635 858.3h0M635.7 844.7h0M636 859.3h0M635.3 852.8h0M635.8 838h0M635.7 846.1h0M635.5 855.2h0M635.5 868.4h0M635.5 869h0M636.6 696.3h0M636 686.6h0M636.3 687.7h0M636.9 689.6h0M636.5 637.7h0M636.9 690.8h0M636.6 685.2h0M636.7 680.6h0M636.5 670.4h0M636.6 663.5h0M636.8 660.4h0M636.6 650.5h0M636.8 643.7h0M637 636h0M637 629.3h0M636.8 625.1h0M636.4 832.8h0M636.4 840h0M636.9 852.2h0M636.9 846.6h0M636.1 862.4h0M637.5 692.7h0M637.1 688.3h0M637.7 662.3h0M637.9 679.5h0M637.7 674.9h0M637.6 837.1h0M637.1 846.5h0M637.9 845.9h0M637.2 882.5h0M637.6 880.8h0M638.1 694h0M638.4 682.8h0M638.3 689.3h0M638.7 670.7h0M638.5 677.7h0M638.5 836.5h0M638.8 867.4h0M638.7 852.6h0M638.2 846.6h0M638.9 869.2h0M639.4 690.7h0M639.1 656h0M639.1 679.5h0M639.9 685.8h0M639.7 673.8h0M639.6 689.9h0M639.7 682.2h0M639.6 676.7h0M639.7 667h0M639.8 661.3h0M639.8 659.9h0M639.8 835.2h0M639.5 848.7h0M639.7 869.2h0M639.7 886h0M639.9 840.2h0M640.7 694.3h0M640.6 632.4h0M640.6 657.4h0M640.3 656h0M640.6 686.3h0M640.9 693.9h0M640.9 683.6h0M641.1 679.1h0M641.2 669.2h0M640.9 667.2h0M641 662h0M640.8 829.1h0M641 850h0M640.9 891.2h0M640.2 834.5h0M640.2 830.4h0M641.4 692h0M641.7 651.8h0M641.4 637.4h0M641.3 673.4h0M641 682.5h0M641.7 832.1h0M641.3 864h0M641.2 836.3h0M642 835h0M641.5 849.5h0M642.8 687.4h0M642.4 676.7h0M642.8 674.7h0M642.2 663.4h0M642.9 684h0M642.5 832.4h0M642 835.4h0M642.9 894.4h0M642.7 834.7h0M642.1 837h0M643.8 686.1h0M643.3 659.6h0M643.7 659.4h0M644 641h0M643.2 677.7h0M643.4 830.8h0M644 836.5h0M643.4 852h0M643.7 853.7h0M643.3 841.2h0M644.3 689.2h0M644.2 635.4h0M644.9 687.1h0M644.4 640.5h0M644.3 684.7h0M644.2 822.9h0M644.4 838h0M644.1 877.3h0M644.8 875.5h0M644.8 885.3h0M645.5 684.3h0M645.4 666.7h0M645.6 672.8h0M645.5 653.9h0M645.5 658.4h0M645.2 830.3h0M645.5 849.5h0M645.1 858.6h0M645.2 841h0M645.4 831.8h0M646.8 685h0M646.8 681.8h0M646.8 676.8h0M646.1 680.6h0M646.5 645h0M646.5 829.4h0M646.8 835.3h0M646.3 877.1h0M646.7 852.9h0M646.1 865h0M647.9 687.9h0M647.1 680.8h0M647 665.2h0M647.9 662.4h0M647.2 657.3h0M647.9 832.9h0M647 870.6h0M647.4 846.1h0M647.9 855.9h0M647.1 865.5h0M648.5 682h0M648.3 675.4h0M648.7 649.8h0M648.2 652.8h0M648.2 680.9h0M648.7 680.7h0M648.7 671.9h0M648.7 667.1h0M648.7 661.2h0M648.8 648.5h0M648.4 642.7h0M648.4 635.2h0M648.5 633.9h0M648.7 621h0M648.6 620.4h0M648.6 831h0M648.1 837.3h0M648.1 836h0M648.8 860.2h0M648.9 884h0M649.9 683.8h0M649.2 655.7h0M649.4 665.8h0M649.5 678.8h0M649.3 651.2h0M650 677.9h0M650 676.3h0M650 664h0M649.8 657.8h0M649.9 655.2h0M649.9 833.6h0M649.5 850.7h0M649.7 838.2h0M649.1 843.5h0M649.9 839.7h0M650.2 687.6h0M650.7 654.4h0M650.2 681h0M650.7 647.8h0M650.6 647h0M650.8 686.4h0M650.8 674.7h0M650.8 673.2h0M650.5 661.8h0M650.6 657h0M650.5 651.2h0M650.6 644.4h0M650.9 833.8h0M650.6 888.1h0M650.8 856.8h0M650.3 868.6h0M650.1 853.7h0M651.8 689.7h0M651.8 656.8h0M651.4 685.5h0M651.2 645.2h0M651.3 643h0M651.2 834h0M651.1 863.4h0M651.7 865.1h0M651.7 865.7h0M651.4 862.5h0M652.1 691.2h0M652.5 644h0M652.5 677.5h0M652.2 679.6h0M652.5 662.7h0M652.5 687.4h0M653 680.1h0M652.7 672.8h0M652.6 667.2h0M653 657.7h0M653 653.4h0M652.5 642.4h0M652.7 638.7h0M652.4 831.7h0M652.6 848h0M652.2 847.2h0M652.6 850h0M652.4 859.5h0M653.6 691.5h0M653.9 665.1h0M653.2 683.8h0M654 667.5h0M653.3 656.3h0M653.3 829.8h0M653.4 854.6h0M653.8 830.6h0M653.3 871.5h0M653.9 832.6h0M655 689.6h0M654.7 660.7h0M654.8 669.1h0M654.6 687.1h0M654.9 686.5h0M654.9 830.5h0M654.3 857.7h0M654.3 860.6h0M654.1 851.9h0M654.6 859.3h0M655 689.5h0M655.6 654.1h0M655.8 664.1h0M655.7 682.5h0M655.1 664h0M655.3 831.5h0M655.1 838.1h0M655.1 832.2h0M655.2 881.5h0M655 861.1h0M656.1 686.8h0M656.1 680.6h0M656.9 677.1h0M656.1 667h0M656.7 662.3h0M656.8 682.4h0M656.8 675h0M656.9 666.7h0M656.8 660.8h0M656.8 650.1h0M656.7 644.1h0M656.5 641.1h0M657 630.4h0M656.7 623.9h0M656.7 619.5h0M656.5 821.6h0M656.7 827.9h0M656.4 826.8h0M656.4 863.1h0M656.3 856.9h0M657.7 685.7h0M657.9 665.6h0M657.6 655.8h0M657.3 685.5h0M657 682.4h0M657.6 830.7h0M657.3 841.6h0M657.4 840.3h0M657.7 847.8h0M657.5 845.8h0M658.5 686h0M658.9 658.8h0M659 647.1h0M658.1 650h0M658.5 649.6h0M658.2 828.5h0M658.5 839.9h0M659 850.7h0M658.1 881.7h0M658.9 837.4h0M659.6 683.9h0M659.4 650.6h0M660 645.7h0M659.8 678.4h0M659.9 624.7h0M659.6 677.9h0M659.4 675.3h0M659.5 669.6h0M659.5 656.3h0M659.4 649.5h0M659.3 642.9h0M659.5 637h0M659.4 627.8h0M659.2 624.5h0M659.6 619.3h0M659.4 613.5h0M659.6 828.1h0M659.1 831.7h0M659.7 861.1h0M659.4 880.6h0M659.8 840.6h0M659.5 830.3h0M659.5 840.8h0M659.7 858.6h0M659.7 866h0M659.7 877.2h0M659.7 880.5h0M660.9 681.3h0M660.5 668.6h0M660.4 659.6h0M660.5 651h0M660.9 656.7h0M660.1 681.1h0M660.2 667.8h0M660 664.4h0M660.1 654.5h0M660.1 649.5h0M660.3 644.6h0M660.2 637.4h0M660.9 826.8h0M660.4 833.3h0M660.3 848.3h0M660.6 834.1h0M660.5 831.5h0M660.5 835.2h0M660.4 844.5h0M660.5 850.1h0M660.4 859.2h0M660.5 876.4h0M660.6 884.7h0M660.7 891.6h0M660.2 906.1h0M660.5 912.6h0M662 680.2h0M661.5 668.3h0M661.9 648.2h0M661.7 679.7h0M661.2 656.1h0M661.3 825.2h0M661.7 854.4h0M662 838.3h0M661 852.2h0M661.3 838.6h0M662.8 680.3h0M662.6 660.4h0M662.2 674.5h0M662.9 626.1h0M662.5 674.8h0M662.9 825.7h0M662.3 833.1h0M662.5 846.3h0M662.9 858.1h0M662.5 844.4h0M663.1 685.3h0M663.5 666.6h0M663.2 684h0M663.6 631.4h0M663.3 642.4h0M663.5 814.4h0M663.5 819.2h0M663.2 859.7h0M663.1 849.4h0M664 826.5h0M664.9 681.4h0M664.7 656.2h0M664.8 646.7h0M664.6 661.3h0M664.8 675.5h0M664.7 814h0M664.5 817.5h0M664.6 822.5h0M664.7 854.4h0M664.9 817.4h0M666 683.4h0M665.4 637.6h0M665.6 659.1h0M665.9 640.3h0M665.3 682.9h0M665.6 682.9h0M665.2 671.3h0M665.4 670.9h0M665.3 663.8h0M665.3 657.9h0M665.4 652.5h0M665.3 821h0M665.8 838.2h0M665.6 824h0M665.7 866.8h0M665.2 842.5h0M666.7 685.1h0M666.2 651.2h0M666.2 676h0M666.1 667.1h0M666.1 664h0M666.7 821.3h0M666.7 821.9h0M666.2 832.7h0M666.1 870.4h0M666.7 827.7h0M667.8 688.5h0M667.1 685.5h0M667.7 677.4h0M667.7 646.9h0M667.1 686h0M667.2 685.6h0M667.2 681.1h0M667 675.5h0M666.9 667h0M667.1 664.4h0M667.1 820.9h0M667.4 867.4h0M667.6 824.1h0M667.8 881.1h0M667.9 841.5h0M668.3 686.8h0M668.8 668.5h0M668.1 675.2h0M668.8 670.2h0M668.8 685.8h0M668.9 814.5h0M668.9 817.1h0M668.3 865.5h0M668.1 828.7h0M668.3 823.2h0M669.3 689.4h0M669.2 676.6h0M670 678h0M669.9 686.5h0M669.3 670.9h0M669.5 818.8h0M669.7 819.3h0M670 884h0M669.4 825.2h0M669.2 835.2h0M670.2 690.7h0M670.6 682.3h0M670.3 647.9h0M670.5 682h0M670.3 684.6h0M670.9 818.6h0M670.8 819.1h0M670.5 843.7h0M670.1 820.2h0M670.3 876.6h0M671.6 694.6h0M671.5 680.8h0M671.1 693.5h0M671.3 685.5h0M671.9 673.7h0M671.4 823.8h0M671.4 828.7h0M671.2 826.9h0M671.8 827h0M672 842.9h0M672.1 696.9h0M672.4 677.8h0M672.4 686.3h0M672.6 654.7h0M672.4 683.9h0M672.9 821h0M673 862.9h0M672.7 833.3h0M673 822.5h0M672.8 859.6h0M673.8 700.6h0M673.4 694.6h0M673.8 674.6h0M673.9 694.6h0M673.3 697.1h0M673.4 827h0M673.6 852.4h0M674 830.5h0M673.9 828h0M673.6 831.4h0M674.9 704.4h0M674.3 696.5h0M674.2 686.9h0M674.7 699.8h0M674.7 701.2h0M675.1 697.6h0M674.7 694.1h0M674.9 687.6h0M674.9 682.2h0M675.1 672h0M674.8 670h0M674.3 826.2h0M674.8 866h0M674.7 833.3h0M674.7 844.6h0M674.6 886.5h0M674.3 835.8h0M674.4 847.6h0M674.3 851.2h0M675.3 708.8h0M675.9 701.9h0M675.1 698.7h0M675.5 673.6h0M675.3 694.7h0M675.1 827.5h0M675.7 839.2h0M675.7 830.1h0M675.6 830.3h0M675.8 834.1h0M675.5 830.7h0M675.4 844.8h0M675.8 858.1h0M675.5 869.8h0M675.6 870.8h0M676.7 711.9h0M676.7 684.2h0M676.1 690h0M676.1 694.6h0M676 682.5h0M676.3 711.5h0M675.9 698.4h0M676.1 695.2h0M676.2 688.4h0M676.3 827.9h0M676.2 829.4h0M676.1 876.8h0M676.2 851.7h0M676.2 846.6h0M677 714.8h0M677.4 699.3h0M677.7 709.2h0M677.5 702h0M677.9 705.6h0M677.3 823.8h0M677.7 860.3h0M677.8 828.3h0M677.6 826.1h0M678 840.8h0M678 713.9h0M678.1 707.7h0M678.4 691.7h0M678.5 710h0M678.8 713h0M678.3 709h0M678.5 700.2h0M678.3 692.8h0M678.6 690.6h0M678.6 678.9h0M678.3 671.2h0M678.7 665.2h0M678.5 658.2h0M678.4 655.5h0M678.5 830h0M678.7 834.3h0M678.5 839.1h0M678.9 835.8h0M678 848.6h0M679.9 719.3h0M679.1 683.7h0M679.2 701.6h0M679 687.8h0M679.6 700.8h0M679.9 828.9h0M679.7 863.7h0M679.9 843.7h0M679.7 841.1h0M679.1 842.2h0M679.5 833.8h0M679.9 843.8h0M679.5 852.7h0M679.4 872.3h0M679.4 882.4h0M679.6 888h0M680.5 717.5h0M680.5 684.9h0M680.3 671h0M680.9 704.3h0M680.2 686.3h0M680.8 830.5h0M681 853.9h0M680.3 874h0M680.9 847h0M681 849.9h0M681.3 721.6h0M681.4 680.6h0M681.2 677.4h0M681.7 694.8h0M681.1 717.5h0M681.5 717.6h0M681.4 714.3h0M681.5 704.4h0M681.4 696.8h0M681.3 691.8h0M681.9 683.8h0M681.6 678.8h0M681.7 830.6h0M681.1 845.7h0M681.1 846.5h0M681.5 833.7h0M681.9 853.1h0M682.1 721.2h0M682.5 709h0M682.1 666.6h0M682.6 705.5h0M682.2 683.7h0M682 828.7h0M682 854.2h0M682.3 848.7h0M682.7 841.7h0M682.3 849.2h0M683.8 723.6h0M683.2 712.7h0M683.2 721.9h0M683.6 707.7h0M683.6 719.6h0M683.5 831.4h0M683.1 845.9h0M683.7 853.4h0M683.7 856.4h0M683.8 832.2h0M684.1 721.1h0M684.1 695.8h0M684.8 718.4h0M684.6 702.6h0M684.3 719.4h0M684.9 831.5h0M684.2 834.3h0M685 839.1h0M685 841.6h0M684.8 844.9h0M684.7 834.3h0M685.1 855.7h0M685 859.7h0M684.9 870.3h0M685.3 719.3h0M685.4 693.9h0M685.9 712.6h0M685.6 709.4h0M685.9 717.4h0M685.8 830h0M685.5 849.2h0M685.6 833.3h0M685.5 861.3h0M686 839.1h0M685.9 833.5h0M686.1 851.1h0M685.7 859.2h0M685.7 867h0M686.1 878.2h0M686 894.2h0M685.8 898.8h0M686 905.5h0M686.1 718.9h0M686.3 704.9h0M687 698.9h0M686.8 718.6h0M686.5 704.2h0M686.2 829.7h0M686.8 836.2h0M686.4 857.3h0M686.5 834.1h0M686.1 844h0M687 718.6h0M687.4 693.2h0M687 695.9h0M687.7 713.3h0M687.7 706.4h0M687.9 831.5h0M687.3 858.4h0M687.9 834.8h0M687.8 832.3h0M687.4 832.6h0M688.5 717.8h0M689 699.4h0M688.8 667.7h0M688.6 702.6h0M688 707.8h0M688.2 712.4h0M688.4 706.4h0M688.4 698.9h0M688.4 694.4h0M688.6 682.4h0M688.6 673.8h0M688.2 664h0M688.6 662.3h0M688.4 656.1h0M688.1 826.2h0M688.6 826.6h0M688 845.5h0M688.8 840.2h0M688.9 831h0M689.8 717.8h0M689.6 711.4h0M689.2 704.2h0M689.8 698.3h0M689 711h0M689.1 831.2h0M689.5 835.9h0M689.1 851.7h0M689.8 859.1h0M689.3 873.3h0M690.5 718.8h0M690.4 708.3h0M690.8 716.5h0M690.1 698.5h0M690.3 706.4h0M690 716.8h0M690.1 710.7h0M690.2 702.4h0M690.2 688.9h0M689.9 687.6h0M689.9 676h0M689.7 668.1h0M689.9 663.8h0M690 656.5h0M690.4 831.8h0M691 847h0M690.4 837.1h0M691 840.8h0M690.2 867.6h0M691.4 714h0M692 699h0M691 710.5h0M691.3 711.2h0M691.4 684.7h0M692 707.6h0M691.6 703.7h0M691.6 700.2h0M691.8 692.1h0M692 685.3h0M691.8 680.2h0M692 828.9h0M691.1 849.5h0M691.3 850.7h0M691.8 861.1h0M691.1 875.9h0M692.7 711.4h0M692.2 676.8h0M692.7 668.1h0M692.5 677h0M692.3 680.5h0M692.6 704.8h0M692.6 701h0M692.7 691h0M692.6 685.7h0M692.4 683h0M692.3 675.6h0M692.8 665h0M692.5 658.6h0M692.5 656.1h0M692.6 649.4h0M692.6 827.1h0M692.6 836h0M692.6 835.1h0M692.2 855.6h0M692.6 829h0M693.6 708.1h0M693.1 680.3h0M693.3 702.2h0M693.9 681.3h0M693.2 703.3h0M693.5 705.5h0M693.4 697.5h0M693.6 689.5h0M693.5 682.7h0M693.7 678.6h0M693.4 669.8h0M693.2 662.2h0M693.5 655h0M693.7 650.4h0M693.4 641.7h0M693.5 640.1h0M694 830.6h0M693.8 840.9h0M693.8 842.4h0M693.9 837.2h0M693.6 863.1h0M694.3 704.9h0M694.7 692.5h0M694.9 694.6h0M694.9 700.2h0M694.5 682.1h0M694.8 824.2h0M694.5 863.1h0M694.5 846.8h0M694.2 846.4h0M694.2 857.7h0M695.7 701.9h0M695.6 697.5h0M695.2 690.8h0M695.8 700.3h0M695.1 691.3h0M695.6 697.4h0M695.6 690.6h0M695.6 689h0M695.7 683.6h0M695.5 672.9h0M695.6 672.3h0M695.4 829h0M696 861.8h0M695.5 845h0M695.5 838.7h0M696 848.8h0M696.3 703.5h0M696.5 673h0M696.8 693.9h0M696 675.4h0M696.7 677.7h0M696.6 826.4h0M696.9 846.2h0M696.1 853.5h0M696.9 830.8h0M696.5 836.9h0M697.6 697.7h0M697.8 644.7h0M697.5 693.8h0M697.1 691h0M697 694h0M697.6 821.8h0M697.9 863.4h0M697.4 850.6h0M697.5 828.7h0M698 831.3h0M698.9 698.2h0M698.2 679h0M699 630h0M698.4 684.8h0M698.3 681.9h0M698.9 820.5h0M698.9 832.1h0M698.4 831.4h0M698.5 829.4h0M698.1 821.6h0M699 697.7h0M699.4 675.4h0M699.4 685.4h0M699.3 697.5h0M699.6 677.4h0M699.7 825.8h0M699.9 829.3h0M699.9 877h0M700 875.5h0M699.4 830h0M700.1 691.3h0M700.5 656.2h0M700.5 635.7h0M701 684.1h0M700.5 665.4h0M700.4 816.3h0M701 839.9h0M700.3 836.7h0M700.3 852.1h0M700.4 823.4h0M701.9 693h0M701.8 679.3h0M701.1 691.3h0M701.5 687.6h0M701.8 683.1h0M701.7 823.1h0M701.7 857.7h0M701.8 885.9h0M701.2 832.5h0M701.7 868.7h0M702.3 686.6h0M702 640.6h0M702.4 680.2h0M703 683.6h0M702.7 681.2h0M702.1 817.1h0M702.6 869.7h0M702.8 842.1h0M702.6 848.8h0M702.2 830.2h0M703.8 684.2h0M703.1 664.6h0M703.7 672.8h0M703 665.4h0M703.7 665.8h0M703.9 677.9h0M703.6 673.6h0M703.8 665.2h0M703.8 661.8h0M703.6 650.9h0M703.9 647.2h0M703.7 644.1h0M703.6 821.7h0M703.4 850.6h0M703.6 831.2h0M703.5 850.1h0M703.1 848.4h0M704 685.7h0M704.8 640.2h0M704.6 664.2h0M704.8 681.3h0M704.3 683.7h0M704.5 819.8h0M704.9 819.8h0M704.6 825.1h0M704.6 883.6h0M704.9 831.9h0M705.2 680.9h0M705.3 674.2h0M705 653.3h0M705.7 645.9h0M705.5 658.3h0M705.4 818.4h0M705 852.1h0M706 822.3h0M705.6 819h0M705.1 831.4h0M707 679.7h0M706.5 636.2h0M706.3 655.9h0M707 640.3h0M706.3 678.8h0M706.7 678.9h0M706.8 666.8h0M707 655.3h0M707 655.1h0M706.9 810.2h0M706.9 840.6h0M706.5 898h0M707 860.7h0M706.9 832h0M706.9 820.8h0M706.7 830.3h0M706.6 838.7h0M706.8 852.7h0M706.8 858.1h0M707 870.2h0M706.7 880.8h0M707.4 681.8h0M707.4 626.5h0M707.1 667.8h0M707.6 658.5h0M707.3 664.2h0M707.3 817.8h0M707.1 856h0M707.5 834.2h0M707.5 883.1h0M707.9 820.1h0M708.4 680.2h0M708.4 649.8h0M708.6 671h0M708.2 677.7h0M708.5 666.7h0M708 675.4h0M708.4 671.5h0M708.3 664.1h0M708.4 654.5h0M708.2 651.9h0M708.1 647.4h0M708 814.6h0M708.4 825.3h0M709 836.2h0M708.2 886h0M708.3 823.8h0M709.4 680.3h0M709.4 655.7h0M709 665.9h0M709.2 669.7h0M709.2 640.5h0M709.2 811.9h0M709.5 814.9h0M709.2 850.5h0M709.2 830.6h0M710 813.1h0M711 675.3h0M710.1 673.4h0M710.4 642.9h0M710.2 670.2h0M710.5 672.6h0M710.6 668.8h0M710.2 665.1h0M710.3 657.2h0M710.4 650h0M710.3 646.7h0M710.7 635.7h0M710.5 631.7h0M710.4 624.9h0M710.4 618.3h0M710.2 612.9h0M710.4 604.7h0M710.4 601.3h0M710.9 810.3h0M710.6 824.6h0M710.3 829.2h0M710.8 827.5h0M710.3 849.7h0M712 675h0M711.8 652.7h0M711.4 652.1h0M711.6 659.3h0M711.1 646.5h0M711.4 810.2h0M711.3 819.5h0M711.4 810.4h0M711.8 849.5h0M711.4 823.3h0M712.5 678.9h0M712.1 629.5h0M712.8 657.5h0M712 673.9h0M712.1 656.2h0M712.3 803.5h0M712 810h0M712.6 823.7h0M712.9 821.8h0M712.9 846.7h0M713.7 678.2h0M713.5 652.1h0M713.2 669.5h0M714 658.7h0M713.7 677.8h0M713.5 804.6h0M713.2 863.5h0M713.6 861.7h0M713.3 831.2h0M713.7 839.2h0M714.7 676.2h0M714.4 639.2h0M714.3 658.3h0M714.2 672.3h0M714.2 634.8h0M714.4 805.2h0M714.9 848.8h0M714.1 810.7h0M714.3 805.3h0M714.1 824h0M715.5 675.8h0M715.5 659.8h0M715.4 652.9h0M715.3 653.9h0M715.7 674.6h0M715 804h0M715.4 828.3h0M715.4 844.6h0M715.9 865.7h0M715.3 849.9h0M716.9 677.2h0M716.9 619.9h0M716.9 659.5h0M716.3 675.2h0M717 640h0M717.1 673.5h0M717.1 668.6h0M716.9 660.6h0M716.9 654.6h0M716.9 644.8h0M716.7 637.6h0M716.8 631.9h0M716.9 628.6h0M716.5 811.8h0M716.9 854h0M716.3 849h0M716.9 814.5h0M716.6 812.7h0M718 671.8h0M717.7 630.8h0M717.1 670.5h0M718 659h0M717 662.4h0M717.5 802.7h0M717.5 844.3h0M717.3 816.4h0M717.7 811.5h0M717.1 810.6h0M718.8 672.6h0M718.7 667.6h0M718.7 667.6h0M718.3 633.4h0M718.6 650.1h0M718.8 810.6h0M718.2 847.7h0M718.3 822.3h0M718.4 846.4h0M718.1 850.9h0M719.4 671.6h0M719.7 654.3h0M719.2 657.4h0M719.5 665.7h0M719.8 662.6h0M719.9 801.9h0M719.9 834.3h0M719.8 828.3h0M719.9 807.5h0M719.6 846.2h0M720.3 670.7h0M720.9 658.6h0M720.5 631.6h0M720.3 655.2h0M720.3 659.3h0M720.9 807.9h0M720.3 808.1h0M720.1 830.5h0M720.2 868.1h0M720.1 811.1h0M720.6 811.6h0M720.3 827h0M720.6 834.8h0M720.6 846.8h0M720.4 858.6h0M720.6 868h0M720.7 884.5h0M720.8 888.5h0M720.6 896.3h0M721.3 669.9h0M721.7 657.1h0M722 636h0M721.7 643.1h0M721.9 662.7h0M721.8 800h0M721.1 804.8h0M721.9 843.1h0M721.5 806.3h0M721 817.3h0M721.2 800.4h0M721.4 817.8h0M721.2 824.9h0M721.3 838.3h0M721.2 846.2h0M721.5 853.1h0M721.3 859.1h0M722.2 670.2h0M722.5 622.7h0M722.9 663.7h0M722.9 644.8h0M722.1 657.5h0M722.2 667h0M722.7 661.4h0M722.3 649.1h0M722.5 646.8h0M722.6 640.7h0M722.7 633.4h0M722.5 626.1h0M722.4 810h0M722.8 811.3h0M722.3 827.7h0M722.7 830.8h0M722.3 848.5h0M723.7 673.1h0M723.6 634.4h0M723.3 626.2h0M723.5 666.8h0M723.9 663.2h0M723.8 800.8h0M723.1 818.3h0M723 826.6h0M723 811.8h0M723.5 831.7h0M724.5 668.7h0M725 651.3h0M724.6 640.8h0M724.6 644.4h0M724.5 649.1h0M724.3 664.5h0M724.6 657h0M724.6 649.9h0M724.6 642.2h0M724.8 634h0M724.6 631.6h0M724.4 810h0M724.7 834h0M724.5 847.2h0M724.1 826.2h0M724.4 824.5h0M725.5 670.7h0M725 650.5h0M726 639h0M725.6 615.7h0M725.9 650.4h0M725.5 808.8h0M725 822.4h0M725.7 823.3h0M725.3 810.6h0M725.7 863.2h0M725.6 810.9h0M725.8 822h0M726.1 831.5h0M725.7 851.4h0M725.7 856.4h0M725.6 868h0M726.1 881.2h0M726 892.4h0M726.1 906.4h0M726.1 918.5h0M725.7 919.8h0M725.9 930h0M726.6 669.7h0M726.7 669.7h0M726.4 627.6h0M726.6 613.7h0M726.7 638.8h0M726.6 801.8h0M726.4 816.6h0M726.2 861.9h0M726.5 824.1h0M726.1 836.8h0M727.9 669.6h0M727.9 659.8h0M727.5 626.4h0M727.5 664.5h0M727.3 635.6h0M727.8 661.7h0M728.1 656.5h0M727.7 645.5h0M727.9 643.6h0M727 807.5h0M727.6 824.2h0M727.4 814.2h0M727.2 809.5h0M727.7 846.3h0M728.5 671.9h0M728.6 619.8h0M728.6 652.7h0M728.3 648.2h0M728.4 613.5h0M728.3 803h0M728.9 817.9h0M728.4 807.9h0M728.7 886.6h0M728.1 807.1h0M729.5 669.4h0M729.3 644.6h0M729.9 649.7h0M729.2 659.4h0M729.6 659.5h0M728.8 668.5h0M729.3 660.3h0M728.9 656.7h0M728.9 645.1h0M728.8 642.6h0M729.2 633.2h0M729 633h0M729.8 804.7h0M729.8 812.5h0M729.9 823.5h0M729.5 855h0M729.7 829.9h0M731 672h0M730.3 658.8h0M730.7 630.2h0M730.8 652.9h0M730.2 617.9h0M730.2 808.3h0M730.2 829.4h0M730.9 861.8h0M730.8 813.1h0M730.4 814.8h0M732 670.8h0M731.9 655.7h0M731.6 633h0M731.5 640.1h0M731.5 668h0M731.4 664.4h0M731.4 661.5h0M731.1 651.5h0M731.3 648.8h0M731.4 802h0M731.9 864h0M731.1 831.7h0M731.5 802.6h0M731.1 808.5h0M732.1 673.2h0M732.1 645.3h0M732.3 658.7h0M732.2 659h0M732.9 655.4h0M732.2 807.9h0M732 836.2h0M732.6 893.7h0M732.1 829.9h0M732.4 898.2h0M733.6 677.1h0M733.9 648.3h0M733.1 655.7h0M733.8 622.1h0M733.1 647.8h0M733.2 673.5h0M733.4 668.3h0M733.1 654.7h0M733.1 652.5h0M733.1 809.7h0M733.1 826.9h0M733.6 883.7h0M733.1 836h0M733.8 866.8h0M734.6 674.4h0M734.6 622.3h0M734.2 674.2h0M734.4 644.8h0M734.5 669.2h0M734.5 805.9h0M734.5 862.5h0M734.2 814.2h0M735 812.7h0M734.8 845.5h0M735.3 676.2h0M735.1 668.7h0M735.6 674.1h0M736 674.6h0M735.9 653.9h0M735.1 810.9h0M735.5 855.2h0M735.9 828.6h0M735.3 889.4h0M735.2 850.9h0M737 678.4h0M736.1 673.9h0M736.7 677.5h0M736.4 656.9h0M736.9 676.6h0M736 674.5h0M736.3 666.6h0M735.9 656.6h0M736 654.2h0M736 641h0M735.9 637.8h0M736.3 632.4h0M736.1 626h0M736.8 810.6h0M736.9 858.8h0M736.1 828.2h0M736.9 824.9h0M736.6 831.9h0M737.4 682.7h0M737.4 678h0M737.5 666.8h0M737.5 680.5h0M737.9 655.3h0M737.7 680.2h0M737.6 673.3h0M737.2 662.7h0M737.4 654h0M737.6 646.2h0M737.4 641.2h0M737.5 634.9h0M737.4 630.7h0M737.5 801.8h0M737.4 808.1h0M737.9 811.7h0M737.5 814.8h0M737.5 803.9h0M738.7 680.7h0M739 635.4h0M738.1 659.5h0M738 664h0M738.6 632.9h0M738.7 806.9h0M738 843.9h0M738.6 835.7h0M738.1 837.6h0M738.5 813.2h0M739.4 682.2h0M739.7 671h0M739.1 669.9h0M739.5 674.7h0M739.6 675.6h0M739.4 811.8h0M739.1 839.2h0M739.8 830.7h0M739 814.3h0M739.1 869.8h0M740.7 687.1h0M740.8 675.9h0M740.3 643.6h0M740.1 659.5h0M740.3 655.5h0M740.7 809.2h0M740.2 866.8h0M740.8 810.3h0M740.6 810.3h0M740.8 812.4h0M741.8 687.3h0M741.9 658.8h0M741.6 681h0M741.8 683.3h0M741.2 661.1h0M741.1 811.8h0M742 824.7h0M741.1 859.7h0M741.5 820h0M741.6 814h0M742 690.4h0M742.1 679.4h0M742.5 690h0M742.4 672.7h0M742.6 676.2h0M742.4 810.9h0M742.8 827.9h0M742.2 863h0M742.6 831.4h0M742.7 839h0M744 695.6h0M743.9 678.7h0M743.7 690.7h0M743.7 669.6h0M743.4 674.9h0M743.9 810.2h0M743.3 877.3h0M743.7 858.4h0M743.7 843.2h0M743.1 832h0M744.6 697.5h0M744.1 684.1h0M744.8 657.3h0M744.7 692.7h0M744.7 689.1h0M744.2 806.1h0M744.5 849.8h0M744.9 809h0M744.5 813.7h0M744.6 837.1h0M745.5 701.4h0M745.2 698.9h0M745.8 695.4h0M745.4 687.4h0M745.8 680.4h0M745.3 803.9h0M745.2 827.9h0M745.7 816.1h0M745.6 820.6h0M745.8 845.8h0M746.1 703.4h0M746.4 699.9h0M746.9 692h0M746.1 690.5h0M746.2 675.6h0M746.4 806.5h0M746.5 829h0M746.7 837.9h0M746.7 860.2h0M746.8 856.4h0M747.6 704.1h0M747.2 688.2h0M748 691.8h0M747 697.8h0M747.1 683.8h0M747.2 805.2h0M747.6 806.8h0M747.1 867.5h0M747.5 816.1h0M747.1 813.2h0M748.8 702.7h0M748.9 694.1h0M748.5 689.7h0M748.9 688.4h0M748.5 689.1h0M748.7 699.5h0M748.6 691.5h0M748.9 683.3h0M748.7 682.1h0M748.9 676.5h0M748 802h0M748.3 852.8h0M748.3 822.5h0M748.9 814.5h0M748.4 811.6h0M749.5 702.7h0M749.6 666.8h0M749.4 689.8h0M749.3 676h0M749.1 688.2h0M749.4 808.4h0M749.3 875.2h0M749.3 876.4h0M749 831.4h0M749.5 816.5h0M750.7 701.5h0M750.8 695.6h0M750.4 683.7h0M750.7 700.4h0M750.6 687.4h0M751 699.5h0M751 690h0M750.8 684.8h0M750.2 806.6h0M750.4 840.4h0M750.7 809.7h0M750.1 853.5h0M750.4 837h0M751.2 701.3h0M751.8 696.3h0M751.3 689h0M752 683.5h0M751.5 698.3h0M751.4 809.8h0M751.2 813.5h0M751.4 842.3h0M751.6 825.3h0M751.4 809.9h0M752.1 702.9h0M752.4 702.5h0M752.1 699h0M752.2 695.3h0M752.1 682.6h0M752.8 702.1h0M752.9 692.4h0M752.8 680.6h0M752.5 679h0M752.8 671.7h0M752.8 665.4h0M752.9 805.7h0M752.2 839.8h0M752.9 810.7h0M752.3 821.3h0M753 828.5h0M753.6 700.1h0M753.7 682.2h0M753.5 687h0M753.5 689.1h0M753.6 670h0M753.6 805.6h0M753.1 809.7h0M753.8 839.2h0M753.1 828.6h0M753.6 820.8h0M754.7 699.7h0M754.9 678.1h0M754.3 687.6h0M754.7 695.4h0M755 678.4h0M754.8 809.1h0M754.5 814.7h0M754 851.3h0M754.1 843.8h0M754.9 827.5h0M754.3 812h0M754.2 827.9h0M754.3 830.9h0M754.3 845.5h0M754.3 856.3h0M754.2 856.4h0M755.9 699.5h0M755.1 694.9h0M755.9 687.1h0M755.6 688.2h0M755.4 672.1h0M755.5 806.2h0M755.9 841.5h0M755.6 843.2h0M755.7 830.3h0M755.1 808.3h0M756.4 703.9h0M756.5 690h0M756.9 700.7h0M756.6 691.9h0M756.1 698.4h0M756.5 801.4h0M756.3 802.9h0M756.9 809h0M756.5 802.6h0M756.5 847.6h0M757.1 702.2h0M757.5 667.7h0M757.8 702.2h0M757.5 698.7h0M757.1 695.5h0M757.4 806.8h0M757.9 829.2h0M757.5 811.3h0M757.1 821.3h0M757.4 858.7h0M758.2 699.3h0M758.8 687.8h0M758.2 692.8h0M758.4 692.9h0M758.7 679h0M758.3 808.4h0M758.2 828.6h0M758.2 810.6h0M758.2 842.6h0M758.3 830.9h0M759.7 700h0M759.1 679.3h0M759.1 695.5h0M759.5 677.2h0M759.6 699.1h0M759.2 808.2h0M759.3 809.5h0M759.2 861.2h0M759.8 809.7h0M759.6 860.8h0M761 702.7h0M760.4 679.6h0M760.9 647.3h0M760.3 691.2h0M760.8 702.3h0M760.5 801.9h0M760.6 812.1h0M760.2 814.3h0M760 816.5h0M761 826.9h0M761.8 709.2h0M761.8 702.1h0M761.6 692.3h0M761.2 705.5h0M761.1 680.4h0M761.7 805.1h0M761.2 823.6h0M761.8 829.9h0M761.8 807.2h0M761.3 854.5h0M762.3 709h0M762.5 704.4h0M762.7 680.8h0M762.7 677.2h0M762.1 683h0M762.5 706.3h0M762.8 701.4h0M762.3 688.4h0M762.5 685.4h0M762.8 674.4h0M762.6 666.1h0M762.6 659.3h0M762.3 656.3h0M762.5 650.4h0M762.1 802.3h0M762.2 820.4h0M762.8 803h0M762.7 802.5h0M762.5 813.1h0M762.4 802.4h0M762.4 817.9h0M762.7 825.5h0M762.3 836.3h0M762.5 848.3h0M762.4 852.3h0M763.1 712.9h0M763.1 712.2h0M763.3 702.5h0M763.8 701.4h0M763.2 704.1h0M763.9 804.6h0M763.1 820.6h0M763.9 805.9h0M763.4 811.6h0M763.7 835.7h0M764.2 717.5h0M764.7 712.1h0M764 683.4h0M764.3 708.8h0M764.8 706.8h0M764.4 806h0M764.2 812.5h0M764.3 822.8h0M764.9 847.6h0M764.7 833.6h0M766 723.9h0M765.3 719.7h0M765.5 716.7h0M765.2 693.5h0M765.2 688.5h0M765.7 806.8h0M765.9 836.9h0M765.7 812.7h0M766 862.6h0M765.6 857.3h0M766.8 730.1h0M766.5 718.5h0M766.1 721.6h0M766.9 698.1h0M766.3 715.2h0M766.6 806.2h0M766.1 812.8h0M766.9 822.3h0M766.1 816.6h0M766.9 823.5h0M767.3 735.8h0M767.6 718.5h0M767.3 723.3h0M767.1 732.2h0M767.2 729.7h0M767.8 803.8h0M767.8 817h0M767.2 846.3h0M767.6 829.2h0M767.3 811.9h0M768.4 742.3h0M768.7 738h0M768.9 725.4h0M768.7 725.9h0M768 736.5h0M767.8 733.6h0M767.8 731.5h0M767.9 719h0M768.1 708.7h0M768 706.9h0M768.2 806.8h0M768.6 822.1h0M768.2 811.6h0M768.4 825.7h0M768.8 834.7h0M769.8 741.6h0M769.1 740h0M769.8 735.2h0M769.2 735.7h0M769.4 718.9h0M769.2 739.5h0M769.1 732.2h0M768.9 721.4h0M769.2 719.3h0M769.2 714.4h0M769.1 806.3h0M770 822.2h0M769.4 819.9h0M770 818.4h0M769.1 816.3h0M125.7 763.8h0M125.6 768h0M126.1 772.8h0M125.7 777.7h0M125.5 781.5h0M125.7 786.9h0M125.7 793.4h0M126.1 799h0M126.1 801.3h0M125.9 806.7h0M126.1 813h0M125.7 818.4h0M132.8 780h0M132.5 783h0M132.7 789.5h0M132.8 794.1h0M132.7 798.9h0M133 805h0M132.8 812h0M132.4 817.5h0M135.4 745h0M135.3 748h0M135.1 752.5h0M135.1 758.8h0M135.4 764.2h0M135.3 768.5h0M135.6 773h0M135.5 779.4h0M135.1 784.7h0M135.2 788.9h0M135.2 795.1h0M135.6 798h0M135.8 710h0M135.5 714h0M135.6 718.5h0M135.9 723.9h0M136.2 729.1h0M135.8 734.4h0M135.8 739.6h0M135.7 744.9h0M135.5 751h0M136 755h0M136.2 759.8h0M135.7 767.7h0M136 772.5h0M135.4 777.1h0M135.9 781.5h0M141.6 680h0M142 683.5h0M141.6 687.8h0M141.5 693.9h0M141.6 697.7h0M141.9 704.1h0M141.7 710.3h0M142 713.8h0M141.7 719.9h0M141.3 722.6h0M142 727.6h0M141.3 735.4h0M141.7 740.2h0M141.8 744.1h0M141.3 749.2h0M142 754.4h0M141.9 758h0M148 702.5h0M148.4 705.2h0M148 711.5h0M148 715.9h0M147.6 721.2h0M147.8 727.7h0M148.3 732.1h0M148 738.5h0M148.1 744.9h0M148.1 748.6h0M147.9 754h0M148.3 761.3h0M148 765.6h0M155.6 715h0M155.4 717.2h0M155.4 724.3h0M155.6 729.6h0M155.5 734.5h0M155.5 739h0M155.6 745.5h0M156 749h0M156 755.7h0M155.4 758.9h0M155.8 766.6h0M155.5 771.8h0M163.2 685h0M162.9 688h0M163.1 693.8h0M163.6 699.5h0M163 705.2h0M163 708.5h0M163.4 716.1h0M162.8 718.4h0M163.2 724h0M163.6 731.1h0M163.3 736.5h0M162.9 740.4h0M163.4 747.4h0M162.9 750.2h0M168 661.2h0M168.1 663.5h0M167.8 670.2h0M167.7 675.8h0M167.8 680.8h0M167.9 685.2h0M168.2 689.4h0M168.1 694.4h0M168.2 700.4h0M168 706.1h0M168.1 712.3h0M167.9 715.5h0M168.1 721.5h0M168 727.7h0M168.4 732.7h0M168.1 736.7h0M174.9 675h0M175.3 679.3h0M175 684.8h0M174.7 689.1h0M175.2 694.6h0M175 697.5h0M175.2 703.9h0M174.6 708.7h0M175.1 715.8h0M175 718.8h0M174.6 724.6h0M174.6 730.3h0M174.6 735.5h0M175.3 740.1h0M174.7 743.6h0M184.9 688.8h0M184.8 693.3h0M184.7 697h0M184.6 702.1h0M185 707.2h0M185.2 712.9h0M184.9 720.3h0M184.9 723.7h0M184.8 727.9h0M184.6 734.1h0M184.6 739.4h0M184.8 744.2h0M184.5 750h0M185.1 755.2h0M194.7 685h0M195 687.4h0M195.1 694.2h0M195 699.8h0M195.1 704h0M194.9 708.7h0M195.1 713.7h0M194.9 719.5h0M194.7 723.2h0M194.6 728.2h0M194.8 733.3h0M195.1 739.2h0M195 743h0M194.6 748.2h0M194.9 753.1h0M205.5 672.5h0M205.4 674.5h0M205.4 680.9h0M205.4 687.2h0M205.8 691.9h0M205.7 696.1h0M205.5 701.1h0M205.7 706.1h0M205.8 710.2h0M205.9 716.3h0M205.8 720.2h0M205.4 727.6h0M205.4 731.1h0M205.4 737.9h0M205.9 740.6h0M205.7 746.6h0M209.4 705h0M209.5 709.1h0M209.5 713.2h0M209.6 720.7h0M209.5 726.8h0M209.5 731.4h0M209.6 736.4h0M209.4 742.6h0M209.3 745.7h0M209.6 754.3h0M209.4 757.3h0M218.8 698.8h0M219.1 700.9h0M218.6 708.4h0M219.1 713.6h0M219.2 718.8h0M218.9 723.2h0M218.9 730.5h0M218.7 735.6h0M218.6 740.7h0M219 747h0M218.6 752.2h0M218.5 755.9h0M224.6 705h0M225 708.8h0M224.9 713h0M224.8 720.7h0M224.8 725.2h0M224.3 731.5h0M224.3 734.8h0M224.3 740.5h0M224.4 746.8h0M224.6 752h0M224.9 756.8h0M232.9 700h0M232.6 703h0M233.3 710.5h0M233 714.2h0M232.8 719.5h0M233.3 725.9h0M232.5 732h0M232.9 735.5h0M232.7 741.1h0M232.9 747.2h0M232.9 752.1h0M233.1 756.9h0M237.4 735h0M237.7 737.5h0M237.4 742.6h0M237.3 748.7h0M237.7 753.5h0M237.7 758.4h0M237.3 762.9h0M237.5 768.6h0M237.4 772.7h0M245.6 657.5h0M245.3 659.7h0M245.3 666.3h0M245.5 670h0M245.8 676.1h0M245.6 682.3h0M245.8 685.6h0M245.9 691.9h0M245.4 697.1h0M245.8 699.7h0M245.7 707.3h0M245.9 709.7h0M245.9 717.5h0M245.3 721.6h0M245.4 725.6h0M245.7 732.4h0M245.7 735.9h0M245.5 741.3h0M245.2 747.1h0M250.2 702.5h0M250.2 707.5h0M250.5 710.4h0M250.3 715.2h0M250.1 721.4h0M249.9 724.7h0M250.3 730.7h0M250 735.8h0M250 742.8h0M250.3 746.6h0M249.8 752.1h0M249.9 758h0M250.3 761.3h0M250 767.1h0M255.8 685h0M255.9 688.4h0M255.6 692.9h0M256 699h0M255.9 704.7h0M255.7 708h0M255.6 714.7h0M255.8 718.2h0M255.5 723.2h0M255.8 730.7h0M255.6 734.3h0M255.7 740.5h0M256 744.4h0M255.6 750.6h0M255.5 755.5h0M256.1 760.6h0M262.2 725h0M262.4 728.6h0M262.5 732.7h0M262.3 740h0M262.3 745.4h0M262.3 751.6h0M262.2 755.7h0M262.5 761.3h0M261.9 765.4h0M262.4 772.9h0M262.6 777.5h0M269.8 690h0M270.2 692.7h0M269.7 699.8h0M269.5 703.6h0M270 707.9h0M269.6 715.7h0M269.7 718.2h0M269.5 723.9h0M269.5 728.5h0M270 734.8h0M269.5 741.1h0M269.7 745.7h0M270.1 749.1h0M270.2 754.5h0M270.1 759.9h0M273.7 667h0M273.8 671.1h0M274.1 675.9h0M273.9 682.2h0M273.8 686h0M274 690h0M274.1 696.5h0M273.3 702.5h0M273.8 707.5h0M273.4 713.7h0M273.6 716.3h0M273.5 722.1h0M273.5 728.8h0M273.8 734.2h0M273.7 739.7h0M273.5 745h0M273.4 750h0M273.8 755.2h0M277.9 740h0M277.8 742.4h0M278.1 749.8h0M277.9 755.9h0M278 760.5h0M278.2 766.7h0M278.1 771.5h0M277.7 777.5h0M278.3 782.8h0M277.8 788.7h0M279.5 765h0M279.3 767.7h0M279.5 775.5h0M279.7 778.8h0M279.2 786.9h0M279.5 791.1h0M279.5 798.4h0M284.9 735h0M285.2 738.1h0M284.6 743.8h0M284.8 750.3h0M285 755.9h0M285.2 761.3h0M284.7 765.5h0M284.9 771.7h0M284.9 775h0M284.7 781.6h0M285.1 785.1h0M290.2 685h0M289.9 688.9h0M290.5 694.3h0M290.5 698.3h0M290.2 704h0M290 709.7h0M290.1 715.6h0M289.9 718.9h0M290.5 723.4h0M290.4 728.1h0M290.5 733.7h0M290 740.5h0M290.3 745.3h0M290.5 751.3h0M290.5 754.4h0M290 760.2h0M294.4 667.5h0M294.3 672.2h0M294 676.5h0M294.2 680.4h0M294.5 687.3h0M294.7 690h0M294.3 696.4h0M294.4 701.2h0M294.2 707.1h0M294.1 711.2h0M294.7 717.7h0M294.4 720.7h0M294.7 728.2h0M294.4 732.5h0M294.7 735.7h0M294 741.4h0M303.8 653.8h0M304.1 656.7h0M303.8 661.9h0M304.1 667.8h0M303.6 672.9h0M303.9 677.6h0M304.1 681.4h0M303.9 686.5h0M303.7 691.9h0M303.9 698.2h0M303.4 703.4h0M303.4 708.4h0M303.7 713.2h0M303.8 718.1h0M303.8 721.6h0M303.5 728.5h0M309.7 672.5h0M310 677.1h0M309.8 681.6h0M310.1 687.7h0M309.8 691.1h0M309.6 696.7h0M309.9 701.7h0M309.3 707h0M309.4 711.7h0M309.6 715.6h0M309.6 720.6h0M309.4 726.2h0M310 732.8h0M315.6 695h0M315.9 699.2h0M315.3 703.4h0M315.3 710.5h0M315.2 715.6h0M315.7 719.2h0M315.9 724.4h0M315.6 731.5h0M315.6 736.9h0M315.7 741.5h0M319.5 651.2h0M319.7 655.4h0M319.4 658.6h0M319.2 664.9h0M319.6 670.9h0M319.8 675.4h0M319.5 679.2h0M319.6 686.1h0M319.1 691.6h0M319.8 695.3h0M319.4 701.5h0M319.3 705.4h0M319.5 712.6h0M319.7 716.9h0M319.7 722.2h0M324.9 667.5h0M324.5 671.5h0M325.1 676.4h0M324.7 682.9h0M324.6 688.8h0M325.2 692.2h0M324.7 700.2h0M325 704.9h0M324.7 709.7h0M325.3 714.1h0M324.8 719.9h0M324.5 725.8h0M330.7 651.2h0M330.5 653.9h0M331 661.5h0M330.9 664.2h0M330.6 669.7h0M331 677.4h0M330.7 682.2h0M330.6 688.2h0M330.7 693.5h0M330.6 696.8h0M330.4 702.7h0M330.4 707.5h0M330.6 712.3h0M330.8 717.3h0M336.6 667.5h0M336.4 670.9h0M336.4 677h0M336.4 681.9h0M336.7 686.1h0M336.2 692.8h0M336.6 697.8h0M336.6 702.7h0M336.5 707.2h0M336.4 711.6h0M336.8 716.4h0M336.3 721.3h0M336.6 725.8h0M346.8 638.2h0M346.5 640.5h0M347 647.1h0M346.4 651.2h0M346.6 657.9h0M347 663.2h0M346.6 666.8h0M346.6 673.1h0M347 678.5h0M347.1 683.5h0M346.9 688.2h0M346.7 691.7h0M346.9 697.4h0M346.5 701.5h0M346.9 708.4h0M346.4 711.6h0M347 718.1h0M350.7 660h0M351 662.2h0M350.5 669h0M351 674.9h0M350.4 678h0M350.6 685.1h0M350.5 689.1h0M350.4 693.8h0M350.7 698.5h0M350.4 705.6h0M350.5 709.5h0M350.5 714.3h0M350.8 719h0M350.5 725.4h0M358.6 651.2h0M358.2 654.3h0M358.5 660.3h0M358.7 665.5h0M359 670.7h0M358.5 675.4h0M358.7 680.2h0M358.9 687.1h0M358.3 693.7h0M358.8 698.8h0M358.6 703.9h0M358.2 709.5h0M358.3 712.7h0M358.8 718.5h0M362.8 667.5h0M363 672.2h0M362.5 676.2h0M362.6 680.8h0M362.8 687.3h0M363.1 692.3h0M363.2 694.8h0M363.1 700.3h0M362.5 707.4h0M362.6 712.8h0M362.5 715.3h0M363.1 720.3h0M363.2 726h0M367.4 655h0M367.6 659.3h0M367.5 662.8h0M367.3 668.4h0M367.6 674.7h0M367.6 677.5h0M367.6 683.4h0M367.3 690h0M367.2 694.2h0M367.4 697.8h0M367.2 702.6h0M367.6 708.8h0M367.1 715.3h0M367.1 718.1h0M367.4 724.6h0M374.6 680h0M374.6 684.4h0M374.4 689.7h0M374.6 694.9h0M374.2 698.9h0M374.6 703h0M374.3 709.2h0M374.9 715.3h0M374.8 718.8h0M374.3 726.7h0M374.2 731.5h0M374.7 734.7h0M377.5 700h0M377.5 704.6h0M377.6 708.4h0M377.3 715.2h0M377.2 720.4h0M377.4 727.9h0M377.8 730.7h0M377.8 737.9h0M377.5 744.2h0M381.3 660h0M381.7 662.1h0M381.5 667.4h0M381.2 674.3h0M381.7 678h0M381.1 684.5h0M381.2 688.7h0M381.2 694.7h0M381.2 698.2h0M381.5 706.1h0M381.3 708.6h0M381.4 714.7h0M381.4 719.1h0M381.4 725.4h0M387.9 621.2h0M388.2 624.8h0M388 629.9h0M387.6 636.7h0M387.7 641.2h0M388.2 645.5h0M387.6 650h0M387.9 657.8h0M387.8 660.1h0M387.9 667.3h0M387.9 671.5h0M387.5 677h0M388.2 681h0M388.2 687.8h0M387.9 693.7h0M387.6 697.2h0M387.8 704.4h0M392.1 667.5h0M392.3 671.1h0M392.4 676.6h0M391.9 681.1h0M391.7 687.1h0M392.1 692.5h0M392.3 697.5h0M391.9 701.9h0M392.5 707.3h0M391.8 711.7h0M392.5 718.4h0M391.9 725.1h0M396.4 623.8h0M396.3 628.9h0M396.4 632.7h0M396.5 639.2h0M396.5 643.1h0M396.8 649.2h0M396.8 654.6h0M396.6 659.2h0M396.4 662.5h0M396.4 670.1h0M396.1 673.6h0M396 680.4h0M396.3 685h0M396.8 691h0M396.2 695.9h0M396.2 699.4h0M396.7 706.6h0M400.9 670h0M400.6 673.5h0M400.8 677.4h0M400.8 682.9h0M400.6 689.6h0M401 695.2h0M400.8 700.7h0M401 705.9h0M401.1 710.7h0M400.9 716h0M400.5 721.2h0M401 723.8h0M401.1 731.6h0M406 665h0M406.2 669h0M405.7 673h0M406.3 678.4h0M406 684.3h0M405.8 688.6h0M406 693.5h0M406.4 698.7h0M405.6 703.6h0M406 710.2h0M406.2 715.3h0M405.6 720h0M406.3 726.2h0M405.8 729.3h0M410.4 690h0M410.4 693.4h0M410.3 699.8h0M410.8 704.9h0M410 709.8h0M410.7 713.3h0M410.3 718.3h0M410.1 724.3h0M410.8 728.5h0M410.4 734.5h0M410.3 741.2h0M410.2 745.2h0M414.6 705h0M414.5 709.9h0M414.9 713.6h0M414.8 719.8h0M415 725.8h0M414.3 731.1h0M414.3 735.8h0M414.8 742.2h0M414.9 747.8h0M414.8 752.3h0M420.5 682.5h0M420.4 684.8h0M420.6 690.1h0M420.7 697.5h0M420.4 701.6h0M420.9 706.1h0M420.5 712.6h0M420.7 717.7h0M420.3 721.5h0M420.4 726.3h0M420.7 731h0M420.7 736.3h0M420.8 742.1h0M424.9 661.2h0M425 666h0M424.8 671.3h0M424.9 674.3h0M424.6 680.7h0M424.7 684.7h0M425 690.8h0M425.3 695.5h0M424.9 701.1h0M424.8 706.8h0M424.8 712h0M424.6 718.2h0M424.7 722h0M424.6 728.5h0M424.8 733.6h0M432.8 672.5h0M432.4 676.3h0M432.7 681.8h0M432.5 687.2h0M433.1 693.7h0M432.6 696.5h0M432.9 702.1h0M432.8 708.6h0M432.7 713.1h0M433.1 718.6h0M432.5 723.1h0M433.1 730.3h0M438.1 652.5h0M437.9 656.4h0M438.1 660.5h0M437.7 666.7h0M438.2 671.9h0M438.3 677.1h0M438.2 682.8h0M438.1 689.1h0M438.4 692.8h0M438.4 697.4h0M437.7 702.4h0M438.4 709.8h0M437.9 712.9h0M437.9 719.5h0M443 641.2h0M443.2 643.4h0M442.8 649.2h0M443.1 656.3h0M443 660.9h0M442.8 667.3h0M442.8 672.3h0M443.2 675.8h0M443.3 683.3h0M442.8 687h0M443.3 692.7h0M443.1 699.4h0M442.7 704.6h0M443.1 707.3h0M443.2 714.3h0M448.1 685h0M447.9 688.7h0M448.5 692.5h0M448.3 699.6h0M448.3 703h0M448.2 710.1h0M448.2 713.2h0M447.7 720.3h0M447.8 723.9h0M448.1 731.1h0M453.7 651.2h0M453.6 656.3h0M453.7 659.9h0M453.5 664.3h0M453.4 670.8h0M454.1 675.7h0M453.6 681.4h0M453.6 684h0M453.3 689.2h0M453.5 694.8h0M453.8 701.6h0M453.5 706.3h0M453.3 709.8h0M453.3 714.2h0M453.5 720.1h0M460.1 647.5h0M460.2 650.5h0M459.9 657.6h0M460.1 660.2h0M460.4 668h0M460.2 671.9h0M460.2 677.3h0M459.9 682.8h0M460.3 687.5h0M460.1 693.5h0M460.2 699.1h0M460.4 702h0M460.4 708.1h0M459.9 713.8h0M460.2 720.2h0M464.8 670h0M465.1 674.9h0M464.9 677.9h0M465.2 684.3h0M464.8 689.7h0M464.8 694h0M464.6 702.4h0M464.4 705.5h0M465 711.7h0M465.2 718.3h0M465.2 722.9h0M464.9 726.7h0M470.9 644.2h0M470.8 648.4h0M470.9 653.7h0M471.3 659h0M471.2 664h0M470.9 668.7h0M470.7 671.4h0M470.9 677.6h0M471 682.8h0M470.6 688.1h0M471.2 691.6h0M471.1 697.7h0M470.7 702.3h0M470.6 708.6h0M471.3 714.4h0M471.3 718.1h0M478 650h0M477.9 653h0M477.7 658.4h0M478.3 664.5h0M477.6 668.2h0M477.9 674.2h0M478.2 680.1h0M477.8 684.7h0M478.1 688.3h0M477.7 693.4h0M477.7 698.1h0M478.2 703.9h0M477.9 708.2h0M478 713.6h0M478.1 719h0M483.8 636.2h0M483.9 641.1h0M483.4 645.3h0M483.8 649.1h0M483.6 657.1h0M484.1 660.3h0M483.9 666.5h0M483.8 671.1h0M483.9 676.1h0M483.6 681.1h0M483.5 686.2h0M484.1 692.1h0M483.4 698.9h0M484.1 703.5h0M484 708.1h0M489.9 642.5h0M489.7 644.6h0M490.1 651.4h0M489.8 657.1h0M489.9 661.2h0M489.7 667.7h0M490.1 672.7h0M490.3 676.9h0M490.2 681.1h0M489.8 686.2h0M489.7 690.2h0M489.6 696.2h0M489.7 701.9h0M489.8 707.7h0M495.8 608.8h0M495.9 612.1h0M495.4 616.6h0M495.5 623.6h0M496.1 627.5h0M495.8 632.1h0M495.8 636.7h0M496.1 643.5h0M496.1 647.3h0M495.5 654.3h0M495.4 658.7h0M495.7 663.9h0M496.1 669.3h0M495.8 675.9h0M495.8 679.6h0M495.4 686h0M495.7 691.1h0M500.1 637.5h0M500.1 641.6h0M499.8 648h0M500 652.6h0M500.2 657.3h0M499.9 662.9h0M500.1 667.9h0M500.3 672h0M499.9 677h0M500.3 684.8h0M500 690.2h0M499.8 695.3h0M499.9 698.4h0M499.8 704.5h0M508.3 665h0M508.1 669.8h0M508.4 673.1h0M508.7 679.5h0M508.1 682.9h0M508 688.7h0M508.5 695.2h0M508.1 699.8h0M508.4 705.4h0M508.2 710.6h0M508.5 714.7h0M508.2 722.4h0M518.7 638.8h0M519 642.9h0M518.9 648.5h0M518.7 653.2h0M518.9 659.3h0M518.7 664.8h0M518.5 667.4h0M518.5 674h0M518.4 680.1h0M519 686.3h0M518.8 690.1h0M519 694h0M518.6 700.2h0M518.5 706.4h0M531 635h0M531.2 639.4h0M531.2 642.2h0M531 647.9h0M531.1 654.3h0M530.7 658.3h0M531.1 663h0M530.9 670.3h0M530.7 674.3h0M531 679h0M531.2 685.5h0M530.6 688.4h0M531.1 693.8h0M530.9 699.5h0M531 705.6h0M531.1 708.6h0M538.6 655h0M538.5 659.8h0M538.6 662.6h0M538.4 669.6h0M538.5 673.1h0M538.9 679.2h0M538.3 685h0M538.2 688.5h0M539 692.8h0M538.6 700.9h0M538.8 704h0M538.6 708.8h0M538.2 713.2h0M544.4 645h0M544.7 647.4h0M544.2 653.3h0M544.1 659.6h0M544.1 665.3h0M544.6 669.5h0M544.7 673.2h0M544.6 678.4h0M544.4 684.8h0M544.2 690.6h0M544.2 696.6h0M544.3 699.4h0M544.6 704.6h0M553.4 635h0M553.4 637.4h0M553.1 644.8h0M553.4 651.1h0M553.7 653.5h0M553.2 659.3h0M553.5 665.8h0M553.6 671.6h0M553.1 678.2h0M553.7 681.2h0M553.8 687.4h0M553.7 692.7h0M557.9 615h0M557.8 618.7h0M558.2 622.6h0M557.9 629.5h0M558 634.9h0M557.9 638.1h0M558 644.8h0M558.2 648h0M558.1 654.3h0M558 660.3h0M558.3 664.2h0M558 670.4h0M557.8 674.3h0M558.2 679.1h0M564.3 601.2h0M564.7 606h0M564.7 609.5h0M564.3 614.2h0M564.3 620.5h0M564.7 626.4h0M564.3 629.9h0M564.4 634h0M564.6 641h0M564.7 644.4h0M564.7 649.4h0M564.1 656.7h0M564.2 659.8h0M564 665.3h0M564.2 669.7h0M563.9 676.5h0M571.1 627.5h0M571.3 631.6h0M571.2 637h0M571.4 642h0M571 647.7h0M571.3 651.9h0M571.1 657.6h0M571.2 662.4h0M571.5 667.8h0M570.9 671.9h0M570.9 678.4h0M571.3 683.4h0M571 687.4h0M571.3 692.3h0M575.1 638.8h0M575.3 641.2h0M575.2 647.5h0M574.7 652.5h0M575.3 657.4h0M575.1 662.2h0M575.3 667.2h0M574.7 672h0M575 678.3h0M575.2 683.6h0M575.2 686.4h0M575.4 692.4h0M575.1 696.8h0M575 704.4h0M581.5 642.5h0M581.3 645.6h0M581.2 652.8h0M581.5 657.4h0M581.6 663h0M581.3 667.6h0M581.2 673.1h0M581.1 676.6h0M581.8 681.5h0M581.6 688.7h0M581.7 692.6h0M581.1 697h0M581.6 704.6h0M588.2 622.5h0M588 626h0M588.1 630.8h0M588.2 637.4h0M588.3 643.2h0M588 646.3h0M587.8 653.6h0M588.5 658.1h0M588.2 662.5h0M588.4 668.3h0M588.3 672.1h0M588.3 678.7h0M588.2 683.1h0M587.9 688.3h0M593.8 608.8h0M593.5 612.2h0M594.1 617.2h0M593.9 622.8h0M593.7 626.5h0M594.1 633.8h0M593.7 638.4h0M594.1 644.5h0M593.7 647.1h0M593.5 654.5h0M593.8 657.3h0M594.2 662h0M593.8 667.1h0M594.1 674.9h0M594.1 677.5h0M601.1 636.2h0M600.9 641.1h0M601.4 645.6h0M601.2 649h0M600.9 654.3h0M600.9 660.8h0M600.8 666.1h0M601.4 671.5h0M601 675.3h0M601.3 681.5h0M600.9 687.5h0M608.5 635h0M608.5 637.3h0M608.6 644.7h0M608.6 648.3h0M608.6 656.3h0M608.7 661.9h0M608.7 666.3h0M608.3 670.3h0M608.9 677.4h0M608.7 684h0M613.8 596.2h0M613.9 599.3h0M614 605.1h0M613.9 608.8h0M613.4 614.8h0M613.5 620.2h0M614 625.5h0M614 629.9h0M614.1 634.4h0M613.7 641.2h0M613.7 644h0M613.4 650.1h0M613.8 656h0M614.1 659.2h0M613.4 666.3h0M620.5 610h0M620.7 613.2h0M620.6 618.2h0M620.3 624.8h0M620.6 629.7h0M620.8 634.4h0M620.7 639.6h0M620.5 646.8h0M620.4 652.1h0M620.7 655.4h0M620.2 663.3h0M620.6 667.3h0M620.6 672.4h0M628.3 605h0M628 609.4h0M627.9 614.7h0M628 618.7h0M628.2 622.8h0M628.7 628.6h0M628.1 634.6h0M628.5 639.6h0M628.3 645.6h0M628 649.2h0M627.9 656.4h0M628.3 662.1h0M628.7 667h0M628.2 672h0M628 677.7h0M628.6 682.4h0M634.4 630h0M634.6 635.2h0M634.5 639.2h0M634.2 645.2h0M634 649.4h0M634.8 653.7h0M634.7 658.1h0M634.2 664.8h0M634.8 668.7h0M634.2 673.7h0M634.8 679h0M634.5 686h0M634.6 690.2h0M642 617.5h0M641.7 621.3h0M641.9 625.2h0M641.7 632.1h0M642.2 636.3h0M641.8 643.5h0M642.3 648h0M641.9 651.8h0M641.8 659.6h0M642.4 663h0M642 669.6h0M641.7 672.7h0M642.2 679.5h0M641.7 684.7h0M648.7 605h0M649 608.6h0M648.9 613.9h0M649 618.9h0M648.3 625.6h0M648.6 629.3h0M648.9 633.6h0M648.8 640.1h0M648.3 644.6h0M648.3 650.9h0M648.8 654.5h0M648.9 661.8h0M648.8 665.4h0M648.9 671.9h0M648.6 677.6h0M655.4 627.5h0M655.4 630.9h0M655.1 636.3h0M655.6 640.5h0M655.1 645.9h0M655.8 652.4h0M655.3 657h0M655.7 664.7h0M655.4 669.1h0M655.2 675.4h0M655.5 680.6h0M655.8 685.7h0M663.4 610h0M663.5 612.3h0M663.5 620.1h0M663.1 622.5h0M663.6 628.6h0M663.5 634.8h0M663.5 639.1h0M663.7 644.6h0M663.1 649.3h0M663.1 654.6h0M663.3 661h0M663.6 665h0M663.4 669h0M663.6 674.8h0M669 627.5h0M669.3 632.4h0M669 636.2h0M669.3 640.6h0M669.3 645.8h0M669.1 651.4h0M669 657.3h0M668.7 663.5h0M669.3 667.5h0M668.8 673.7h0M668.9 678.2h0M669 683.2h0M676.9 652.5h0M677.1 655.5h0M676.8 661.6h0M676.9 665.3h0M677 672h0M677.1 675.6h0M677.2 682.3h0M676.5 686.1h0M677.1 691.5h0M677.2 697.3h0M677.2 703.3h0M676.9 707.8h0M686.6 659.5h0M686.7 663.9h0M686.7 669.2h0M686.5 675h0M686.4 677.4h0M686.4 684.7h0M686.3 688.8h0M686.7 695h0M686.9 701h0M686.6 704.1h0M686.6 709.6h0M686.3 716.6h0M693.1 645h0M692.8 647.9h0M692.9 655.2h0M693.4 657.6h0M693.3 663.8h0M693.2 669h0M693 673.9h0M693.4 680.3h0M692.8 683.9h0M693.1 691.1h0M692.9 696.8h0M693.5 701.2h0M692.8 707.4h0M698.7 623.8h0M698.7 626.8h0M699 631.9h0M699.1 638.7h0M698.7 642.5h0M698.9 647.4h0M698.9 652.1h0M698.9 657h0M698.9 664.4h0M698.9 668.7h0M698.4 671.8h0M698.7 677h0M698.5 684.1h0M698.4 689.7h0M708.1 608.8h0M707.9 612.8h0M708.2 616.9h0M708 621.2h0M708.1 626.8h0M707.7 632.2h0M708.3 637h0M708 642.3h0M708.4 648.1h0M708.4 652.2h0M707.9 658.9h0M707.7 662.6h0M708.2 667h0M708.4 671.4h0M719.7 608.2h0M719.7 613.2h0M719.7 618.3h0M719.7 623.1h0M719.8 625.6h0M719.9 633.1h0M719.8 637.2h0M720 642.9h0M719.8 648.1h0M719.4 651.8h0M719.3 657.1h0M719.5 661.2h0M719.3 667.6h0M731 600h0M731.1 602.4h0M731.2 607.5h0M731 612.4h0M731.1 618.9h0M731.1 623.6h0M730.8 628.2h0M731.3 635.3h0M731 639.3h0M730.8 644.6h0M731 651.2h0M731 654.8h0M730.7 659.1h0M731 666h0M741.1 623.8h0M741.4 627.7h0M740.7 632.1h0M741.1 636.3h0M741.4 643h0M741.4 647.4h0M740.8 654.2h0M740.9 659.8h0M740.7 664.1h0M741.1 668.3h0M741 675h0M740.9 678.2h0M745.4 657.5h0M745.1 662.3h0M745.7 667.4h0M745.4 672.9h0M745.3 676.5h0M745.1 682.6h0M745.7 687.7h0M745.5 691.8h0M745.8 697.5h0M753.6 655h0M753.3 658.2h0M753.9 664h0M753.7 669.4h0M753.9 674.9h0M753.5 680.4h0M753.3 686.1h0M753.5 692.8h0M753.3 697.5h0M760.2 635h0M760.3 637.1h0M760 644.8h0M760.1 648.5h0M759.8 654.4h0M760.1 660.7h0M759.9 664.6h0M760.2 669.5h0M760.5 675.4h0M760.1 681.1h0M760.2 684.3h0M760.1 691.4h0M760.4 694.3h0M764.4 660h0M764.6 662.3h0M764.2 668.9h0M764.7 673.5h0M764.3 680.2h0M764.1 684.5h0M764.5 691.6h0M764.4 697.3h0M764.8 700.7h0M764.5 707.8h0M764.6 712.5h0M767.9 702.5h0M767.7 705.7h0M767.9 710.1h0M768.1 715.6h0M767.6 720.9h0M768.2 726.3h0M768 730.3h0M767.6 735.3h0M776.5 700h0M776.8 703.3h0M776.4 707.5h0M776.3 712.4h0M776.9 719.6h0M776.5 722.9h0M776.9 728h0M776.7 734.9h0M776.3 740.3h0M776.9 744.8h0M776.5 748.2h0M781.8 695h0M782 698.3h0M781.7 704.5h0M781.7 710.2h0M781.5 713.6h0M781.8 718.4h0M781.7 724h0M781.9 727.7h0M781.7 732.9h0M781.5 739.6h0M781.5 744.6h0M781.6 749.5h0M781.8 755.4h0M787.3 722.5h0M787.3 727.4h0M787.3 732h0M787.3 736.9h0M787.2 741.1h0M787.7 747.5h0M787.4 750.2h0M787.3 755.7h0M787.2 761.1h0M787.6 765.8h0M787.2 770.6h0M787.7 776.3h0M126.9 965h0M127 953h0M126.5 936.7h0M140 965h0M140.4 954.4h0M140.2 942.5h0M139.9 931.2h0M149.5 946.2h0M149.7 937.3h0M149.3 926.4h0M149.2 912.1h0M172 958.8h0M171.7 950.9h0M172.4 939.9h0M171.8 930.2h0M172.2 918.4h0M183.3 967h0M183.6 960.3h0M183 948.8h0M182.9 936.7h0M183 926.1h0M193.1 958.8h0M192.7 945.4h0M193.1 931.9h0M193 916.7h0M199.9 950h0M199.6 941.7h0M200.2 924.1h0M199.7 911.9h0M219.2 950.5h0M219.2 936.6h0M219.4 927.5h0M219.5 907.9h0M239.8 937.5h0M240.1 925.9h0M240.1 918.1h0M240.1 903.1h0M257 955h0M256.7 942.6h0M256.8 930.2h0M257.3 921.7h0M262.5 960h0M262.3 953.8h0M262.1 934h0M262.7 922.7h0M282 958.8h0M282.2 946.8h0M282 940.2h0M282.4 927.3h0M292.6 952.5h0M292.4 943.4h0M292.4 928.1h0M292.7 919.4h0M305.5 952.5h0M305.8 940.6h0M305.3 934.1h0M305.9 922.3h0M305.9 907.9h0M318 967.5h0M317.7 960.2h0M317.6 941.3h0M317.9 931h0M318.1 916.6h0M339.8 938.2h0M339.9 933.1h0M340 920.7h0M340 904.5h0M339.8 897.6h0M372.4 965.5h0M372 953.7h0M372.3 943.9h0M372.5 928.6h0M372.5 914.7h0M380.1 946.2h0M379.8 936.3h0M379.7 921.6h0M379.7 915.6h0M380.4 897.1h0M391.1 932.5h0M391.2 924.7h0M391 912.8h0M390.9 897.9h0M390.9 890h0M411.7 969.5h0M411.4 960.1h0M411.9 943.9h0M412 930.9h0M411.9 923.3h0M432.7 950h0M433.1 944.1h0M432.9 930.7h0M432.8 913.9h0M432.3 904.5h0M447.4 931.2h0M447.5 919.6h0M447.6 909.8h0M447.8 902h0M447.2 886h0M464.7 952.5h0M464.7 945.1h0M464.3 928.6h0M464.5 916.3h0M465.1 902.3h0M479.6 945h0M479.6 935.5h0M479.4 923.4h0M479.4 908.1h0M479.6 902h0M481.3 936.2h0M481.4 928h0M480.9 914.8h0M481.4 903.8h0M481.4 895.6h0M501.4 956.2h0M501.6 949.9h0M501 939.6h0M501.6 925.8h0M501.2 915.4h0M501.5 898.7h0M522.6 937.5h0M522.7 931.6h0M522.5 914.6h0M522.6 906.1h0M522.6 889.5h0M532.4 935.5h0M532.2 927.3h0M532.5 918h0M532.5 905.8h0M532.8 893.3h0M547.7 927.5h0M547.7 920.4h0M548.1 902.8h0M548 895.3h0M547.6 882.6h0M569.7 933h0M569.9 924h0M569.6 909.2h0M569.8 891.8h0M569.6 880.1h0M580.3 933h0M580 925.7h0M580.4 914.2h0M580.2 898.7h0M580.5 886.4h0M585.3 925h0M585.5 918h0M585.4 905.7h0M585.3 889.6h0M585 877.4h0M594.9 899.5h0M595 892.8h0M595.1 881.5h0M594.7 869.1h0M595.2 855.5h0M617.6 890h0M617.8 879.6h0M617.8 866.3h0M617.2 853.5h0M617.7 841.9h0M629.5 909.2h0M629.7 901.6h0M629.6 889.4h0M629.4 879.4h0M629.6 860.4h0M647 925h0M646.6 919.1h0M646.7 903.3h0M647.1 893.3h0M647.3 885h0M647.2 875.1h0M665.6 906.2h0M666 898.9h0M665.5 887.3h0M665.4 873.3h0M665.6 858.9h0M683.7 905.8h0M684 893.5h0M683.4 883h0M684 870.2h0M707.8 912h0M708.1 904.5h0M707.6 888.3h0M708.1 870.8h0M707.8 858.7h0M728.6 917h0M728.5 911.9h0M728.4 896h0M728.3 886.5h0M728.9 873.2h0M728.6 858.5h0M738.5 914.2h0M738.4 907.8h0M738.5 895.3h0M738.8 886.6h0M738.4 875.1h0M738.6 864h0M752.9 890h0M752.8 882.1h0M752.5 873h0M753.3 855.9h0M753 847.6h0M769 880h0M768.6 865.3h0M768.9 853.2h0M790 938h0M780.8 907.4h0M785 922.8h0M793.5 938.3h0M792.3 937.1h0M766.2 872.8h0M779.9 903h0M771.2 873.7h0M794.4 939.2h0M771.6 873h0M769.9 871.8h0M778.4 898.7h0M774.7 875.9h0M795.6 946.9h0M791.4 925.4h0M796.2 945.1h0M789.7 921.6h0M771.6 871.7h0M798.1 957.3h0M792.2 937.1h0M794.4 947.7h0M793.6 936.9h0M797.5 957.3h0M769.1 863h0M794.6 944.2h0M791.1 934.8h0M767.6 721.3h0M768 713.1h0M768.5 716.2h0M768.3 721.2h0M768.5 718h0M768.4 715.9h0M768.5 714.7h0M768.4 713.5h0M768.5 711.8h0M768.2 708.7h0M768.7 707.1h0M768.4 706.5h0M768.3 840.2h0M767.7 844.6h0M768.4 842.6h0M769.2 722.6h0M769.1 718.1h0M769.3 721.9h0M768.6 836.1h0M769.2 840.1h0M768.7 844h0M770.2 723.6h0M770 719.8h0M770 721.6h0M770.4 846.1h0M769.7 848.6h0M769.6 850.6h0M770.6 723.2h0M770.9 709.6h0M771.1 722.6h0M771.3 848.5h0M771.2 852.7h0M771.2 855.2h0M771.8 727.9h0M771.7 724.9h0M772.2 714.8h0M772.3 845.7h0M771.7 855.8h0M772.5 845.7h0M773.1 721.7h0M773.1 720.4h0M773.4 709.2h0M772.7 719.8h0M772.4 718.2h0M772.6 717.3h0M772.6 715.6h0M772.6 712.5h0M772.5 711.7h0M772.7 709.6h0M772.6 707.5h0M772.9 705.3h0M772.7 702.8h0M772.6 702.1h0M773.5 851.6h0M772.6 857.7h0M773.4 854.6h0M773.4 852.4h0M772.9 854.2h0M773.4 856.3h0M773.2 858h0M773.9 721.9h0M774.5 715.1h0M774.1 716.5h0M774.4 857.3h0M774.4 864.6h0M773.8 863.8h0M775.3 722.5h0M775.2 721.8h0M774.9 721.2h0M774.6 860.8h0M775 862.8h0M775.2 863.6h0M775.5 722.8h0M775.5 717.8h0M776.1 719.6h0M776 864.6h0M775.7 866.1h0M776.5 866.3h0M776.7 722.2h0M776.7 715h0M777.1 710.6h0M776.9 864.8h0M777.3 875.7h0M777 868.5h0M777.8 725h0M778.5 719.9h0M777.6 717h0M778.5 723h0M778.3 721.3h0M778.4 719.7h0M778.3 718.6h0M778.3 716.9h0M778.6 715.1h0M778.4 713.2h0M777.8 871.9h0M778.1 879.7h0M777.9 876.9h0M778.9 723.9h0M778.9 715h0M779.4 711h0M778.9 873.6h0M778.9 878.7h0M779.4 874.5h0M780.2 722.9h0M779.5 715.3h0M780 707h0M779.7 721.3h0M779.6 719.4h0M779.5 718.1h0M779.7 716.4h0M779.7 714h0M779.7 711.4h0M779.6 709.5h0M779.9 707h0M779.6 705.4h0M779.8 704.7h0M780.4 875.5h0M779.7 882.9h0M779.8 879.1h0M780.6 720.2h0M781.4 704h0M781.3 716.4h0M780.9 872.7h0M781.1 873h0M781.1 885.4h0M781.7 721.9h0M781.6 716.8h0M782.1 711.4h0M782.2 879.1h0M782.2 881.5h0M782.4 885.1h0M783.2 729.9h0M782.9 719.2h0M782.6 725.8h0M783 881.4h0M783.3 882.5h0M783.5 885.4h0M784.4 731.5h0M783.9 726h0M783.6 716.2h0M784.1 731.1h0M784.2 727.5h0M784 725.9h0M784.2 725h0M784.4 722.2h0M784.3 720.9h0M784 719h0M784.1 715.5h0M784 714.3h0M784.1 712.6h0M784.5 709.6h0M784.3 709.1h0M783.9 878.8h0M784.4 882h0M784 889.8h0M785.1 738.8h0M785.2 730.5h0M784.9 722.2h0M784.6 882.1h0M784.5 884.2h0M784.6 893.5h0M785 882.5h0M784.8 885.5h0M784.9 887.1h0M784.8 889.8h0M785 891.5h0M784.7 893.2h0M784.6 895.1h0M784.9 895.9h0M786.3 747.4h0M786.4 737h0M785.7 738.3h0M786.2 746.6h0M786.1 744.8h0M786 741.4h0M785.9 739.4h0M786.1 738.9h0M785.9 735.7h0M786.2 734.3h0M786.3 732h0M786.4 730.6h0M786.3 727.8h0M786.4 726.4h0M786.1 724.7h0M785.7 881.3h0M786.3 891h0M786.5 882.3h0M786.7 753h0M786.9 749.6h0M786.8 738h0M787.3 890.1h0M787 891.5h0M786.8 891.1h0M787.7 750.7h0M788 750.2h0M788.4 749.6h0M787.9 892.5h0M788.1 894.5h0M788.1 896.1h0M789.1 755.5h0M789.3 755.3h0M789.2 744.3h0M789.3 893.9h0M788.7 897.4h0M788.5 898.2h0M789.3 894.1h0M789.3 897.4h0M789.2 898.2h0M789.1 900.1h0M790.3 755.8h0M789.8 743.1h0M789.6 740.8h0M790 754h0M790.1 752.2h0M790 751.6h0M790.3 749.9h0M790.3 747.2h0M790.3 744.7h0M790.1 744h0M790.3 902.2h0M790.3 909.2h0M789.6 904.1h0M789.7 903.8h0M790.1 904.1h0M789.7 905.8h0M790.2 907.6h0M789.9 909.2h0M790.9 766.3h0M790.5 752.8h0M791.1 759.4h0M791.2 765.4h0M791.1 762.4h0M791.2 761.1h0M791.3 757.9h0M791.4 757h0M790.9 754.1h0M791.1 751.4h0M791.1 751.1h0M790.9 906h0M790.5 906.1h0M791.1 916.2h0M792.4 779.4h0M792.5 766.8h0M791.8 769.9h0M791.9 909.4h0M791.6 915h0M792 912.5h0M793.2 792.3h0M793 790.4h0M792.5 792.1h0M793.4 914.7h0M792.5 923.7h0M793 918.2h0M794.4 798.7h0M793.8 793.7h0M793.8 794.6h0M794.2 922.1h0M793.6 925.4h0M793.7 924h0M795.4 798.5h0M795.1 798.3h0M794.6 788.3h0M795.4 923.8h0M795.2 927.1h0M794.5 933.3h0M795.9 813.2h0M796.3 799.2h0M796.4 809.6h0M796.2 929.7h0M795.5 932.1h0M795.7 937.5h0M796.7 828.2h0M796.6 821.9h0M796.7 824.3h0M796.6 934h0M796.9 940.8h0M797.3 934.8h0M798.5 844.7h0M797.6 839.7h0M797.5 844.2h0M797.9 844.1h0M798 842h0M798 840.2h0M797.8 837.3h0M797.8 837.2h0M798 834.2h0M797.9 831.8h0M797.9 831.6h0M798.5 935.8h0M798.4 940.3h0M798.1 943.3h0M798.3 937.4h0M798 938h0M798.1 940.3h0M798.3 942.1h0M798.8 847.1h0M798.6 846.3h0M798.8 846h0M799.3 936.9h0M798.5 939.4h0M799.2 946.6h0M799.9 853.7h0M799.7 839.5h0M800 847.1h0M800.2 852.2h0M800.2 851.2h0M800.2 847.8h0M800.5 846.8h0M800.4 844h0M800.3 843.5h0M800.6 840.7h0M800.3 838.9h0M800.4 837.6h0M800.4 942.1h0M800.3 946h0M799.6 950.4h0M801 851h0M801.5 847h0M800.6 842.8h0M801.2 850.6h0M801.5 847.7h0M801.5 847.2h0M801.5 845.9h0M801.4 949.2h0M800.8 953.2h0M800.9 952.9h0M801.5 950.9h0M801.1 951.9h0M801.3 955.1h0M801.3 956.8h0M801.5 853.8h0M801.9 842.1h0M801.9 846.8h0M801.8 952.5h0M802.3 952.7h0M802.1 956.5h0M803.3 860.5h0M803.2 849.2h0M803.1 855.4h0M802.5 952.2h0M802.8 955.3h0M802.8 962.9h0M803.7 857.3h0M804.3 853.4h0M804 847.7h0M804 962.3h0M803.6 968h0M804.4 962.4h0M804.9 859.1h0M805.3 848.2h0M805 850.9h0M805.6 858h0M805.6 856.6h0M805.4 854.8h0M805.1 852.6h0M805.5 848.9h0M805.6 847.3h0M805.3 844.7h0M805.4 844.4h0M804.5 963.1h0M804.7 967.2h0M805.4 973h0M806.2 865.6h0M806 862.2h0M805.7 851.2h0M805.7 864.5h0M805.6 862.3h0M805.6 861h0M805.4 857.6h0M805.8 856.5h0M805.3 854.6h0M805.4 853.3h0M805.7 851.1h0M805.5 847.8h0M805.6 847.3h0M806.3 974.5h0M805.7 975.7h0M806.4 979.3h0M806.2 974.8h0M806.6 977.9h0M806.7 979.3h0M806.4 980.8h0M807.1 870.3h0M806.7 866.7h0M807.4 859.7h0M806.6 986.6h0M806.9 986.8h0M806.7 989.8h0M807.6 870.8h0M807.7 863h0M807.8 867.8h0M808 1016.2h0M807.6 1019.7h0M807.5 1019.4h0M808.9 874h0M809 873.7h0M808.7 873.7h0M808.9 1013.8h0M809.5 1021.5h0M809.3 1024.7h0M809.8 873.9h0M810 873.3h0M810.4 866h0M809.7 1014.5h0M809.5 1019.4h0M810.3 1021.9h0M811.3 885.5h0M811 882.2h0M811.3 873.7h0M811.3 885.4h0M811.4 883.4h0M811.7 880.8h0M811.6 878.6h0M811.5 876.6h0M811.2 873.4h0M811.4 873.1h0M810.6 1015.4h0M810.7 1024.6h0M810.9 1025.3h0M811.6 903.5h0M812.3 892.3h0M812.1 902.8h0M812.5 1018.2h0M812.2 1025.9h0M811.5 1023.1h0M813 918.3h0M812.8 908.1h0M813.3 917.8h0M813 1020.9h0M813.1 1022h0M812.7 1022.9h0M813.8 927.2h0M813.7 926.8h0M814.4 920.6h0M814.5 1018.1h0M813.9 1026.9h0M814.5 1020.3h0M814.7 934.7h0M814.6 926.2h0M815 932.5h0M814.8 933.7h0M814.6 932.9h0M814.6 930.2h0M814.7 929.1h0M814.6 927.5h0M815.3 1019.7h0M814.8 1023.1h0M814.9 1020.2h0M815.8 942.5h0M816.1 934.4h0M815.8 938.5h0M816 1018.6h0M815.7 1026.7h0M816.2 1018.6h0M816 1019.5h0M816.4 1022.5h0M816.2 1023.4h0M816 1025.2h0M816.2 1027.2h0M816.5 1030.9h0M816.2 1031h0M816.8 945.7h0M816.7 942.6h0M816.9 940.6h0M817.5 943.9h0M817.4 942h0M817.5 940.5h0M817 937.9h0M817.3 936.8h0M817.3 935.5h0M817.5 1022.6h0M816.7 1024.1h0M817.3 1028.4h0M817.9 946.4h0M818.2 938.7h0M817.9 943.6h0M818.5 1023.7h0M817.8 1028h0M818.3 1024.1h0M817.6 1025.7h0M817.8 1026.9h0M817.9 1029.1h0M817.6 1031.4h0M817.8 1031.5h0M819.4 948.6h0M819 942h0M818.9 941.9h0M819.3 1023.9h0M819.4 1024.4h0M819.2 1024.5h0M819.5 1026.2h0M819.2 1026.6h0M819.4 1028.9h0M819.6 952.9h0M820.3 948.3h0M820.4 949h0M819.6 1021.6h0M820.1 1022.3h0M820.2 1024.6h0M821.1 952.2h0M821.1 946.1h0M821.2 952h0M821.2 1021.8h0M820.7 1027.3h0M821 1025.5h0M822.3 953.7h0M822.4 951h0M822.1 948.3h0M822.3 952.5h0M822.2 950.1h0M822.5 949.5h0M821.7 1025.1h0M821.9 1025.9h0M821.8 1028.9h0M823.2 955h0M823.1 950.3h0M823 953.1h0M823 1023.4h0M823.3 1023.6h0M822.7 1028.5h0M823.7 956.7h0M824.1 954.8h0M824.3 955h0M824 1025.2h0M824.1 1025.9h0M824.1 1027h0M823.6 1026.6h0M823.8 1027.9h0M823.4 1031.2h0M823.6 1031.7h0M825.2 959.7h0M824.7 954.3h0M824.5 956.7h0M824.8 1021.9h0M825 1028.9h0M824.8 1025.4h0M825.5 962.4h0M826.1 956.2h0M826.2 957.6h0M826.3 1025.6h0M826.4 1029.8h0M825.6 1026.2h0M826.8 960.9h0M827.1 955.3h0M826.8 959.7h0M826.6 959.4h0M826.5 957.3h0M826.6 955.5h0M826.5 954.3h0M827.4 1026h0M826.6 1029.6h0M827 1029.5h0M827.8 962.7h0M828.3 959.2h0M828.2 959.3h0M827.9 1026.1h0M828 1029.1h0M828.1 1029.5h0M828.2 1026.4h0M828.1 1029.2h0M829 964.5h0M828.7 960.7h0M828.6 963.9h0M828.9 1022.7h0M829 1022.9h0M828.8 1029.3h0M828.6 1023.8h0M828.5 1025.5h0M828.6 1027h0M828.8 1028.6h0M829.5 978.9h0M830.4 977.5h0M829.7 975.4h0M830 1027.6h0M830 1028.3h0M830.4 1030.4h0M830.9 993.4h0M831.1 991.4h0M831.2 992.2h0M831.4 1029h0M830.7 1030.7h0M831 1030.1h0M832.2 999.2h0M832.2 998.4h0M832.2 997.7h0M831.6 999.1h0M831.5 997.3h0M832.3 1029.6h0M831.6 1031.6h0M831.5 1029.9h0M832.8 1000.1h0M832.9 998.9h0M833.2 997.8h0M832.8 1029.5h0M833.3 1031.3h0M832.8 1030.2h0M833.8 999.6h0M833.9 998.8h0M834.3 997.9h0M833.8 1029.2h0M834.4 1029.4h0M834 1030.9h0M834 1029.7h0M833.8 1030.8h0M835.3 1000h0M835 999.9h0M834.5 1000h0M834.6 1029.9h0M835.1 1030.6h0M834.6 1031.3h0M836.5 999.3h0M836.4 997h0M836 997h0M836.2 1029.6h0M835.6 1031.8h0M836.2 1030.8h0M837.4 998.7h0M836.9 997.4h0M837 996.6h0M837.5 998.4h0M837.5 996.1h0M837.7 994.6h0M837.5 993.9h0M836.6 1030h0M837.1 1030.6h0M837.1 1031.2h0M837.4 1031.3h0M837.1 1032h0M837.2 1032.6h0M837.8 998.9h0M837.7 998.1h0M837.5 996.2h0M838 998.3h0M837.9 995.8h0M837.8 994.6h0M837.8 1029.4h0M838.4 1031h0M838.1 1030.2h0M838.3 1031.9h0M838.4 1032h0M839.3 998.6h0M839.4 995.8h0M838.8 998.2h0M838.8 998h0M838.6 996.2h0M838.5 993.9h0M839.3 1029.9h0M839 1032h0M838.9 1031h0M838.8 1031.4h0M838.9 1033h0M840.1 999.7h0M839.5 999.5h0M840.2 997.5h0M840 999.5h0M840 997.3h0M840.1 1029.9h0M840.5 1030.8h0M839.6 1030.8h0M840.9 1005.7h0M841.3 1004.8h0M841.3 1005.4h0M840.8 1029.9h0M841.1 1032h0M840.6 1032.2h0M842.1 1010.6h0M841.8 1010h0M842.2 1008.2h0M841.7 1030.9h0M841.6 1032.6h0M841.9 1031.1h0M842.7 1011.2h0M843.3 1010.4h0M843.1 1009.4h0M842.8 1031.4h0M842.7 1031.9h0M842.5 1031.5h0M843.5 1031.8h0M843.2 1032.6h0M844.1 1012.4h0M844 1011.8h0M844.1 1012.2h0M844.4 1031.6h0M843.8 1032.1h0M844 1032.4h0M844.7 1012.8h0M844.5 1010.6h0M844.9 1012h0M844.8 1030.9h0M845.3 1030.9h0M845.3 1031.8h0M846.2 1013.3h0M846.4 1012.9h0M846 1012.6h0M845.8 1032h0M845.9 1033.1h0M846.2 1032.5h0M846.1 1032.3h0M846.1 1033.6h0M847.5 1014.1h0M846.9 1012.5h0M846.9 1014h0M847.1 1031.9h0M847.4 1032.9h0M847.5 1033h0M848.2 1014.9h0M847.6 1012.7h0M847.6 1014.9h0M848.3 1032.1h0M848.4 1032.8h0M848.1 1032.9h0M849.1 1015.1h0M848.9 1014.5h0M848.9 1013.9h0M849.2 1013.6h0M849.4 1013.2h0M849.2 1011.7h0M848.7 1031.8h0M849.4 1032.3h0M848.8 1033.3h0M822.3 904h0M822.9 907.2h0M822.5 910.4h0M822.5 913.6h0M822.6 916.8h0M823 920h0M823 923.2h0M822.8 926.4h0M822.2 929.6h0M822.6 932.8h0M822.6 936h0M822.4 939.2h0M822.5 942.4h0M822.7 945.6h0M809.1 995h0M809.6 997.5h0M808.2 1000h0M808.5 1002.5h0M809.1 1005h0M808.1 1007.5h0M808.4 1010h0M809.1 1012.5h0M809.4 1015h0M808.3 1017.5h0M808.9 1020h0M808.9 1022.5h0M809.3 1025h0M810 1027.5h0M809 1030h0M800.2 962.3h0M776.8 910h0M785.5 908.8h0M781 909h0M846.5 1014.4h0M847 1013.9h0M846.8 1032.8h0M848.1 1014h0M847.6 1013.7h0M848 1032.3h0M848.8 1014.3h0M849 1013.9h0M848.6 1013.5h0M848.7 1013.4h0M848.7 1032.5h0M849.7 1014.5h0M850.4 1013.7h0M850.5 1032.9h0M851.2 1015.2h0M850.9 1014.4h0M850.5 1032.9h0M851.9 1015.4h0M852 1014.8h0M851.5 1013.9h0M851.8 1012.6h0M851.8 1032.9h0M853.2 1014.9h0M853.3 1014.2h0M852.8 1032.9h0M854.2 1015.9h0M854.4 1015.8h0M854.4 1032.7h0M855 1015.8h0M854.6 1015.2h0M855.2 1032.9h0M856.2 1016h0M855.6 1014.4h0M855.9 1014.6h0M856.1 1014.2h0M856.1 1032.9h0M857.4 1015.9h0M857 1015.1h0M857.5 1032.9h0M858.2 1016h0M858 1015.1h0M858.4 1032.1h0M859.2 1016.1h0M858.7 1015.8h0M859.1 1014.9h0M859.1 1014.8h0M859.3 1032.7h0M859.9 1017.1h0M860.2 1015.8h0M860.3 1032.6h0M861.2 1017.3h0M861.2 1016.9h0M860.5 1033h0M862.2 1017.9h0M862.5 1016.6h0M861.7 1032.9h0M863.2 1017.6h0M862.8 1016.5h0M863.1 1032.6h0M863.5 1018.6h0M864.2 1017.7h0M864.2 1032.9h0M865.3 1019h0M865.2 1018.3h0M864.9 1017.7h0M864.6 1017.1h0M864.6 1032.9h0M866.3 1019.1h0M866.2 1017.9h0M865.9 1032.3h0M866.7 1019.4h0M867.4 1019.3h0M867.1 1032.8h0M867.7 1019.8h0M867.7 1019.8h0M868 1018.9h0M868.2 1018.8h0M868.2 1033.1h0M868.5 1020.4h0M868.9 1019.5h0M869.2 1033h0M870.5 1020.6h0M870.3 1020.5h0M870.3 1032.7h0M870.9 1020.7h0M871 1019.9h0M871.2 1033.2h0M871.7 1020.4h0M871.8 1020.3h0M871.9 1033.2h0M873.2 1020.5h0M872.6 1020.4h0M872.9 1033.2h0M873.8 1020.1h0M874.3 1019.9h0M873.7 1033.1h0M875.5 1020h0M875.1 1019.3h0M875 1019.3h0M875 1018.9h0M875.2 1033.1h0M876.5 1019.9h0M875.5 1019.6h0M875.8 1032.7h0M876.8 1019.8h0M877 1018.7h0M877.3 1032.6h0M877.6 1019.7h0M878.4 1018.8h0M878.2 1033.1h0M878.5 1020.1h0M879.2 1020h0M879.5 1019.2h0M879.3 1018.7h0M879.3 1032.7h0M880.4 1020.8h0M879.8 1020.3h0M880.2 1032.6h0M881.5 1021.6h0M881.1 1020.7h0M881.3 1021.5h0M881.2 1020.4h0M880.7 1033.3h0M882.1 1022.4h0M882.3 1022.3h0M881.6 1032.9h0M882.5 1023.4h0M883.4 1022.7h0M883.7 1023h0M883.5 1022.8h0M882.8 1033.4h0M883.5 1024.1h0M883.9 1024.1h0M884.2 1033h0M885.3 1025h0M884.5 1024.2h0M885 1033.4h0M886.5 1024.8h0M885.5 1024.7h0M885.9 1033.5h0M886.9 1024.6h0M886.6 1024.6h0M887.3 1033.4h0M887.7 1024.2h0M887.6 1024h0M888 1032.9h0M888.6 1024.2h0M889 1023.5h0M889 1033.4h0M889.9 1023.9h0M890.1 1023.9h0M890.5 1033.4h0M891 1023.8h0M890.7 1023.3h0M891.1 1033.4h0M891.6 1023.6h0M892.2 1023.3h0M892.3 1033.2h0M893.3 1023.5h0M893.4 1023h0M892.7 1033.2h0M893.7 1023.7h0M894.4 1023.5h0M894.3 1023.5h0M894.4 1022.4h0M894.5 1033.1h0M894.7 1023.4h0M895.2 1023.3h0M894.9 1033.2h0M896.3 1023.4h0M895.6 1023.2h0M896.4 1033.3h0M897.4 1023.5h0M897.1 1022.8h0M896.8 1023.2h0M896.7 1023h0M896.6 1033.4h0M898.3 1023.7h0M898.3 1023.6h0M898.4 1033.4h0M899.4 1024.2h0M899.1 1023.6h0M899.5 1033.4h0M900 1024.5h0M899.9 1023.7h0M899.6 1033.2h0M901.4 1024.3h0M900.8 1024.2h0M901.3 1024h0M901.3 1023.7h0M901.3 1033.2h0M902 1024.4h0M901.7 1023.7h0M902.2 1032.9h0M902.7 1024.7h0M902.9 1024.2h0M903.4 1033.5h0M904.4 1024.7h0M903.7 1024.6h0M904.5 1033.5h0M905.3 1024.9h0M904.7 1024.8h0M905.2 1024.8h0M905.1 1024.2h0M905.3 1033.5h0M906.3 1025h0M906.2 1024.3h0M905.5 1024.7h0M905.6 1024.3h0M906.1 1033.5h0M906.7 1025.2h0M907.2 1024.6h0M907.3 1024.9h0M907.4 1024.9h0M906.6 1033.5h0M907.6 1025.6h0M908.4 1024.8h0M908.3 1033.1h0M909.2 1025.3h0M909.2 1025h0M908.9 1033.1h0M910.5 1025.3h0M910.3 1025.3h0M910.4 1033.5h0M911.3 1025.2h0M910.5 1025.2h0M911.2 1033.3h0M911.6 1025.6h0M912.1 1025.6h0M912 1033.4h0M913.4 1025.5h0M913.2 1025h0M913.1 1033.5h0M914.5 1025.3h0M913.8 1024.6h0M914.1 1024.9h0M914.2 1024.8h0M913.8 1033.4h0M914.5 1025.2h0M914.6 1025.1h0M914.7 1033h0M916.3 1025.2h0M915.5 1025h0M915.9 1033.3h0M916.9 1025.6h0M916.9 1025.2h0M916.9 1033.4h0M918.3 1025.3h0M917.9 1025h0M918 1033h0M919.2 1025.3h0M918.6 1025.2h0M919 1033.1h0M920.5 1025.2h0M920.1 1025h0M920.2 1024.5h0M920.3 1024.3h0M920.3 1033.5h0M921.2 1025.2h0M921.5 1025h0M921.3 1033.5h0M922 1025.4h0M922 1024.7h0M922 1033.2h0M922.7 1025.8h0M922.7 1025h0M923.6 1025.2h0M923.3 1024.4h0M923 1033.5h0M924 1026h0M923.6 1026h0M923.6 1033.3h0M924.6 1025.9h0M924.9 1025.9h0M924.8 1033.5h0M926.3 1026.1h0M926.1 1026.1h0M925.5 1033.3h0M927.4 1026.4h0M927.4 1026.4h0M927 1033.3h0M927.7 1027.4h0M927.6 1027h0M928.1 1033.3h0M928.9 1028.3h0M929.1 1028.3h0M928.6 1033.6h0M1415.3 1027.1h0M1415.5 1026.8h0M1415.3 1026.7h0M1416 1026.7h0M1416.2 1026.7h0M1415.7 1029.7h0M1415.7 1029.8h0M1416.2 1029.7h0M1417 1013.8h0M1417.2 1013.4h0M1416.7 1011.2h0M1416.6 1010.2h0M1416.8 1013.7h0M1417.3 1012.4h0M1417.3 1011.9h0M1417 1028.6h0M1416.3 1028.7h0M1416.7 1029.3h0M1417.6 1004.7h0M1417.5 1002.6h0M1417.9 1002.7h0M1417.8 1003.7h0M1417.3 998.9h0M1417.6 1028.1h0M1417.9 1028.5h0M1418.2 1029.1h0M1418.9 997.5h0M1418.9 993.2h0M1418.5 990.7h0M1418.3 996.7h0M1419.1 993h0M1418.5 1027.2h0M1419.2 1027.9h0M1418.3 1027.4h0M1419.6 990h0M1419.8 990h0M1419.6 987.2h0M1419.4 982.7h0M1419.5 989.5h0M1419.7 1026.5h0M1419.3 1026.6h0M1420.1 1028h0M1420.8 983.2h0M1420.9 972.7h0M1420.5 972.7h0M1421.3 982h0M1420.9 979h0M1421.2 1026.4h0M1420.6 1026.9h0M1421 1026.4h0M1421.9 981.3h0M1421.9 972.6h0M1421.9 979.8h0M1422.3 973.7h0M1422.2 972.9h0M1421.3 1026.1h0M1421.3 1028.4h0M1421.6 1026.2h0M1423.1 981.2h0M1422.9 980.1h0M1423 972.6h0M1422.9 980.3h0M1422.8 977.5h0M1423.2 978.6h0M1423.5 975.9h0M1423.2 974.6h0M1423.3 1025.9h0M1422.6 1027.8h0M1422.8 1027.9h0M1424.1 982.6h0M1423.6 974.4h0M1423.6 973.8h0M1423.4 976h0M1423.6 982.2h0M1423.8 978.7h0M1423.7 976.5h0M1423.6 973.8h0M1423.4 969.2h0M1423.6 965.5h0M1423.4 1023.3h0M1423.9 1026.1h0M1423.5 1024.9h0M1425 981.8h0M1424.3 972.6h0M1424.6 981.3h0M1424.5 970.6h0M1425.1 975.3h0M1424.5 1023.1h0M1425.1 1023.1h0M1425.1 1027.2h0M1426 981.2h0M1425.8 977.6h0M1426.2 976.8h0M1425.7 971.1h0M1426.2 975h0M1426.2 1023.3h0M1425.7 1025.9h0M1426 1027.3h0M1425.9 1024.7h0M1425.7 1026.5h0M1425.8 1027.5h0M1426 1028.7h0M1426.5 981.8h0M1427.1 980.3h0M1427.2 975h0M1426.4 980.9h0M1427 974.3h0M1426.3 1023.4h0M1427.2 1023.9h0M1426.6 1026.7h0M1428.1 977.8h0M1427.8 972.1h0M1427.8 966.9h0M1427.3 973.6h0M1427.4 976.3h0M1427.6 976.8h0M1428.1 970.6h0M1427.8 970.2h0M1427.9 1023.5h0M1428 1025.3h0M1427.6 1026.7h0M1428.5 976.6h0M1428.5 972h0M1428.3 966.2h0M1428.5 966.7h0M1428.5 970h0M1428.7 1021.4h0M1428.5 1022.8h0M1428.5 1024.2h0M1429.7 974.5h0M1429.7 968.6h0M1429.7 970.4h0M1429.9 974.5h0M1429.7 966.6h0M1429.3 1020.8h0M1430.1 1021.6h0M1429.5 1021.8h0M1429.4 1021.4h0M1429.6 1024.3h0M1429.4 1024.8h0M1430.9 973h0M1431.2 971.8h0M1430.4 968.8h0M1431.2 970.7h0M1430.9 966.7h0M1430.5 969.4h0M1430.7 965.8h0M1430.6 965.3h0M1430.8 961.1h0M1430.8 958.3h0M1431.3 1021.5h0M1430.8 1021.5h0M1430.9 1021.9h0M1432.1 969.1h0M1432.3 960.5h0M1431.3 962.6h0M1431.5 967.5h0M1431.3 957h0M1431.9 1020.9h0M1431.8 1022.4h0M1431.9 1021.7h0M1432.4 966.5h0M1432.7 965h0M1432.5 956.3h0M1432.8 952.7h0M1433 961.1h0M1433.2 1018.5h0M1432.8 1019.8h0M1432.5 1023.5h0M1432.8 1018.6h0M1432.8 1020.8h0M1432.7 1022.7h0M1432.9 1024.2h0M1434 958.5h0M1433.9 949.2h0M1434 950.9h0M1433.4 958.5h0M1433.8 955.8h0M1434.3 1018.9h0M1433.7 1019.3h0M1433.5 1019h0M1433.4 1019.6h0M1433.3 1021.2h0M1433.1 1023h0M1433.3 1024.8h0M1433.4 1025.9h0M1434.4 954.1h0M1434.9 948h0M1435.1 950.8h0M1434.5 940.3h0M1434.9 939.2h0M1435.1 953.5h0M1435.2 950.4h0M1435.2 945.6h0M1435 944.1h0M1434.5 1018.5h0M1435.2 1020.6h0M1435.2 1018.6h0M1435.7 950.4h0M1435.8 947.4h0M1435.4 932.1h0M1436.1 941.3h0M1435.9 939.5h0M1436 948.6h0M1436.2 944.6h0M1435.8 939.4h0M1436.1 938.3h0M1435.8 1018.8h0M1435.8 1018.9h0M1435.6 1018.8h0M1436.8 942.9h0M1436.7 942.3h0M1437 930.9h0M1436.5 931.1h0M1437.1 927.7h0M1437.2 1016.9h0M1437 1019.3h0M1436.7 1020.8h0M1437.5 939.6h0M1437.6 936.2h0M1437.9 931.6h0M1438.1 918.6h0M1437.6 936.4h0M1437.6 1016.3h0M1438 1016.8h0M1437.7 1019.1h0M1438.7 932.8h0M1439 929.6h0M1438.8 931.4h0M1438.9 924.2h0M1439.2 915.3h0M1438.5 932.5h0M1438.3 927.6h0M1438.2 920.1h0M1438.2 916.9h0M1438.2 912.7h0M1438.5 910h0M1438.4 903.4h0M1438.4 902.1h0M1438.8 1017.2h0M1438.4 1022.4h0M1438.6 1021.2h0M1439.1 1018.8h0M1439.3 1019.2h0M1439.3 1022.4h0M1439.1 1023.7h0M1439 1024.4h0M1439.9 927.4h0M1439.7 920.6h0M1439.7 927.2h0M1440.2 927h0M1440.2 916.3h0M1440.2 1011h0M1440.2 1011.7h0M1439.9 1017.1h0M1441.2 926.8h0M1440.7 906.6h0M1440.9 904.1h0M1440.9 908.1h0M1440.3 925h0M1440.8 1014.7h0M1441 1019.3h0M1440.3 1014.8h0M1441.8 919.9h0M1441.9 913.9h0M1442.1 910.7h0M1442 904.8h0M1441.4 897.5h0M1441.8 919.5h0M1441.6 914.8h0M1441.5 911.4h0M1441.8 906.3h0M1441.7 906.3h0M1441.6 1015.3h0M1441.9 1015.6h0M1442.2 1017.9h0M1442.1 1016.5h0M1441.9 1018.8h0M1441.5 1020.3h0M1441.8 1022.1h0M1441.8 1022.5h0M1442.4 912.7h0M1442.6 910.1h0M1443.3 892.8h0M1442.4 897.4h0M1442.4 894.7h0M1443.2 1011.9h0M1443.1 1012.2h0M1443.3 1018.2h0M1443.6 916.5h0M1443.6 911.2h0M1443.9 908.6h0M1443.7 890h0M1444 913.2h0M1443.9 914.1h0M1444.3 911.8h0M1443.8 908.3h0M1444.3 901.1h0M1444.1 900.5h0M1443.5 1013.3h0M1444.1 1014.2h0M1444.2 1014.1h0M1444.9 917.3h0M1444.5 904.5h0M1444.4 909.8h0M1445.3 909.8h0M1444.4 909.6h0M1445 915.1h0M1445 911.9h0M1445.2 908h0M1444.8 905.5h0M1445.2 900.5h0M1445.2 896.5h0M1444.8 896h0M1445 892.5h0M1444.8 1012.7h0M1444.7 1016h0M1444.4 1013.1h0M1446.3 920.1h0M1446.1 919.4h0M1445.8 904.1h0M1445.6 898.5h0M1445.7 911.9h0M1446.2 1012.5h0M1445.6 1017.1h0M1445.7 1013.1h0M1446.9 922.6h0M1446.4 911.3h0M1447.2 921.8h0M1447.2 921.9h0M1446.9 922h0M1446.8 918.8h0M1447.3 917.3h0M1446.9 913.9h0M1447 911h0M1446.9 1011.5h0M1446.7 1013.6h0M1446.7 1015.8h0M1447.6 924.6h0M1447.7 917.2h0M1447.6 903.1h0M1447.3 922.4h0M1447.4 920.4h0M1447.4 1009.8h0M1447.6 1013.7h0M1447.8 1014h0M1448.5 923.9h0M1449.2 914.5h0M1449.1 912.6h0M1448.4 909.8h0M1449.1 916.3h0M1449.1 920h0M1449.4 917.9h0M1449.4 912.1h0M1448.9 909.5h0M1448.9 903.2h0M1449.2 901.3h0M1449.1 1005.2h0M1448.8 1005.2h0M1448.5 1007.9h0M1449.6 922h0M1449.6 900.8h0M1449.4 914.8h0M1450 900h0M1449.9 920.3h0M1449.5 1005.1h0M1449.3 1008.4h0M1449.5 1008.9h0M1450.5 917.6h0M1451 911h0M1451.3 912.6h0M1451.1 908.5h0M1450.6 910.3h0M1450.2 915.9h0M1450.5 909.7h0M1450.5 905.7h0M1450.3 902h0M1450.2 900.6h0M1450.3 895.7h0M1450.4 892.9h0M1451.2 1001.1h0M1450.9 1001.7h0M1450.8 1004.1h0M1452.3 915.3h0M1451.8 913h0M1451.7 894.9h0M1452 914.6h0M1451.7 899.6h0M1451.7 915.3h0M1452 911.3h0M1452 907.7h0M1451.8 901.1h0M1451.9 900h0M1451.6 892.8h0M1451.9 891.4h0M1452.1 887.2h0M1451.8 884.8h0M1451.5 1001.2h0M1451.9 1003.8h0M1451.9 1007.5h0M1452.7 913.4h0M1453.3 913.3h0M1452.7 898.4h0M1452.6 889.3h0M1452.3 913h0M1452.6 995.8h0M1453.2 1003.8h0M1452.9 1002.4h0M1453.6 907.2h0M1453.6 906.7h0M1453.8 906.2h0M1453.3 906h0M1453.5 906.1h0M1453.4 907.2h0M1453.5 901.4h0M1453.4 899.3h0M1453.4 895.7h0M1453.3 997.6h0M1453.7 998.1h0M1454.2 1000.2h0M1453.6 998.9h0M1453.7 1001.5h0M1453.9 1001.9h0M1454.8 901.1h0M1454.4 884.1h0M1455 880.9h0M1455.2 883.7h0M1454.3 900.4h0M1454.7 991.4h0M1455.1 994.1h0M1454.7 992h0M1456.2 892.5h0M1455.8 868.4h0M1455.4 882h0M1456.1 870.1h0M1456.2 885.2h0M1456.3 993.9h0M1455.9 994.7h0M1455.4 997.3h0M1456.9 888.6h0M1457 858.9h0M1457 873.8h0M1456.3 886.7h0M1456.7 878.7h0M1456.8 990.3h0M1456.5 991h0M1457.2 999.2h0M1457.8 867.9h0M1457.5 865.6h0M1457.9 866.3h0M1457.4 845.9h0M1457.6 852.5h0M1458.2 991.3h0M1457.6 993.2h0M1457.4 998.7h0M1458.4 852.3h0M1459 838.3h0M1459.1 819.1h0M1458.6 822.4h0M1458.6 846.1h0M1459.4 851.4h0M1459 844.5h0M1459.3 840.7h0M1459.1 836.9h0M1459.2 836h0M1458.6 987.5h0M1459 995.3h0M1458.8 989h0M1459.5 841.7h0M1460.3 831.4h0M1460.1 809.3h0M1459.4 825.5h0M1459.9 834h0M1459.8 985.4h0M1459.8 985.5h0M1460.2 995.4h0M1460.3 835.8h0M1460.4 805.1h0M1460.4 815.3h0M1460.6 797.7h0M1461.2 823.3h0M1460.6 979.2h0M1461.1 981.1h0M1460.3 979.7h0M1462 832.4h0M1461.4 826.8h0M1462 828.4h0M1461.8 829.6h0M1461.6 811.1h0M1462.2 975.7h0M1461.6 976.1h0M1461.8 987.8h0M1462.7 827.5h0M1462.5 825.8h0M1462.8 827.1h0M1463.2 807.9h0M1462.4 824.7h0M1462.8 978.2h0M1462.8 989h0M1463 979h0" fill="none" stroke="#1f77b4" stroke-width="5.4" stroke-linecap="round"/>
<path d="M116.5 889L117.2 888.5L118 875.1L118.8 857.6L119.5 847.1L120.2 851.5L121 857L121.8 861L122.5 859.8L123.2 854.2L124 853.4L124.8 848.6L125.5 850.2L126.2 862.7L127 875.8L127.8 889.7L128.5 889.2L129.2 880.7L130 876.3L130.8 881.7L131.5 885.2L132.2 875.8L133 863.6L133.8 849.1L134.5 841.9L135.2 837.1L136 833.9L136.8 843.8L137.5 853.9L138.2 848.3L139 830.7L139.8 811.5L140.5 792.7L141.2 775.3L142 787.9L142.8 799.5L143.5 812.5L144.2 825.2L145 836.6L145.8 837.6L146.5 818.4L147.2 798.2L148 800.4L148.8 810.8L149.5 823.7L150.2 830.4L151 825.3L151.8 822.4L152.5 818.3L153.2 815.9L154 821.9L154.8 825.8L155.5 829.9L156.2 834.1L157 836.7L157.8 837L158.5 835.2L159.2 829.1L160 821.2L160.8 816.8L161.5 809.8L162.2 803.1L163 794.6L163.8 787.5L164.5 792.3L165.2 795.8L166 801.5L166.8 794.6L167.5 783.4L168.2 770.8L169 799.4L169.8 826.4L170.5 812L171.2 778.4L172 763.8L172.8 787.7L173.5 808.4L174.2 805L175 784.8L175.8 775.9L176.5 789.4L177.2 805.5L178 817.7L178.8 821.8L179.5 825L180.2 825.3L181 824.8L181.8 820.2L182.5 817.7L183.2 822.1L184 825.9L184.8 826.2L185.5 822.8L186.2 815.6L187 808L187.8 798.8L188.5 789.7L189.2 795.2L190 806.2L190.8 817.3L191.5 828.2L192.2 827.8L193 820.2L193.8 812.4L194.5 812.9L195.2 829L196 846.5L196.8 846.5L197.5 834.8L198.2 823.3L199 815.1L199.8 803.9L200.5 794.7L201.2 782.6L202 789.6L202.8 796.3L203.5 806.1L204.2 804.9L205 795.2L205.8 794.7L206.5 807.7L207.2 818.6L208 831L208.8 824.9L209.5 819.3L210.2 814L211 807L211.8 803.2L212.5 798.4L213.2 795.3L214 792.8L214.8 799.3L215.5 807.1L216.2 812L217 804L217.8 800.4L218.5 808.6L219.2 815.6L220 812.1L220.8 807.4L221.5 803.2L222.2 799.4L223 795.9L223.8 791.6L224.5 797.1L225.2 802.6L226 807.9L226.8 812.5L227.5 816.3L228.2 818.4L229 810.3L229.8 802.7L230.5 793.9L231.2 784.6L232 776.2L232.8 777.2L233.5 789.2L234.2 803L235 816.3L235.8 826.9L236.5 833.5L237.2 824.5L238 815.4L238.8 825.4L239.5 835.2L240.2 828L241 819.5L241.8 813.5L242.5 805.9L243.2 799.5L244 791.9L244.8 792.5L245.5 806L246.2 819L247 812L247.8 804.9L248.5 807.7L249.2 816.3L250 824.3L250.8 833.4L251.5 841.4L252.2 850.2L253 848.8L253.8 846.6L254.5 841.4L255.2 837.5L256 834L256.8 829.7L257.5 826.5L258.2 822L259 817.9L259.8 814.3L260.5 812.3L261.2 815.5L262 822.6L262.8 831.7L263.5 838.5L264.2 833.2L265 814.5L265.8 809.6L266.5 822.4L267.2 833.6L268 847.7L268.8 827.7L269.5 806.6L270.2 785.8L271 780.8L271.8 782L272.5 784L273.2 789.3L274 803.3L274.8 815.4L275.5 830.1L276.2 842.4L277 855.2L277.8 861.5L278.5 851.4L279.2 839.5L280 843.5L280.8 857.9L281.5 864L282.2 858.5L283 852.9L283.8 845.2L284.5 841.5L285.2 835.1L286 830.4L286.8 824.9L287.5 820L288.2 815.6L289 812.2L289.8 808L290.5 816.4L291.2 834.4L292 837.9L292.8 816L293.5 797L294.2 776.6L295 797.9L295.8 820.6L296.5 833L297.2 824.3L298 816.3L298.8 809.8L299.5 800.6L300.2 791.2L301 783L301.8 774.4L302.5 763.4L303.2 760.9L304 757.8L304.8 754.2L305.5 761.6L306.2 772.8L307 786.1L307.8 793.8L308.5 788L309.2 782L310 810.5L310.8 790L311.5 782.4L312.2 803.1L313 826.2L313.8 808.5L314.5 794.5L315.2 787.8L316 799.2L316.8 813.5L317.5 795.7L318.2 777.5L319 761.8L319.8 752.1L320.5 758.1L321.2 766.2L322 774.2L322.8 779.3L323.5 778.9L324.2 778.8L325 779.1L325.8 771.1L326.5 764.7L327.2 763.9L328 767.7L328.8 771.7L329.5 766.3L330.2 762.4L331 760.1L331.8 766.1L332.5 778.1L333.2 791.1L334 802.9L334.8 794L335.5 772.6L336.2 777.5L337 792.7L337.8 802.8L338.5 791.6L339.2 781L340 772.3L340.8 779.7L341.5 787.6L342.2 785.6L343 781.7L343.8 779.1L344.5 769.9L345.2 772.1L346 784.8L346.8 798.3L347.5 809.8L348.2 801L349 792.9L349.8 783.1L350.5 788.5L351.2 797.3L352 802.6L352.8 797.3L353.5 786.9L354.2 779.3L355 772.5L355.8 766.5L356.5 761.3L357.2 754.8L358 748.1L358.8 758.1L359.5 769.3L360.2 777.5L361 783.4L361.8 783.6L362.5 775.5L363.2 774.1L364 780.5L364.8 789.2L365.5 783.7L366.2 773.2L367 762.1L367.8 758.2L368.5 768.3L369.2 778.8L370 787.9L370.8 786.1L371.5 786.4L372.2 805.7L373 836.2L373.8 815.9L374.5 796.4L375.2 787.3L376 797.9L376.8 813.3L377.5 807.8L378.2 801.9L379 797.8L379.8 792.1L380.5 784.3L381.2 773L382 765.8L382.8 759.6L383.5 757.8L384.2 755.3L385 752.4L385.8 755.6L386.5 757L387.2 755.5L388 751.3L388.8 761.9L389.5 770.8L390.2 779.3L391 783L391.8 789.5L392.5 793.8L393.2 799.4L394 797.5L394.8 780.9L395.5 765.1L396.2 748.7L397 758L397.8 766.4L398.5 774.2L399.2 780.5L400 787.6L400.8 791.4L401.5 793.8L402.2 787.3L403 780.5L403.8 774.4L404.5 769.1L405.2 767.7L406 775.5L406.8 781.5L407.5 789.5L408.2 797.4L409 802.4L409.8 795L410.5 793L411.2 794.7L412 801.4L412.8 802.8L413.5 798.1L414.2 793.8L415 798.8L415.8 804.8L416.5 810.8L417.2 812.5L418 814.5L418.8 814.8L419.5 806.2L420.2 798.7L421 790.4L421.8 783.1L422.5 780.2L423.2 777.5L424 776.7L424.8 774.1L425.5 777.8L426.2 783.6L427 789.4L427.8 792L428.5 787.9L429.2 784.7L430 786.3L430.8 790.7L431.5 797.5L432.2 802L433 806.1L433.8 806.5L434.5 808L435.2 805.2L436 790.4L436.8 774.5L437.5 761.8L438.2 761.4L439 756.9L439.8 758L440.5 754.4L441.2 750.2L442 746L442.8 740.5L443.5 742.4L444.2 749.6L445 756.4L445.8 764.6L446.5 772L447.2 782.7L448 793.5L448.8 801.1L449.5 795.7L450.2 789.8L451 788.7L451.8 789.5L452.5 788.7L453.2 789L454 786.9L454.8 775.7L455.5 765.3L456.2 755.9L457 767.6L457.8 777.7L458.5 788.6L459.2 791L460 786L460.8 784.5L461.5 780.7L462.2 780.4L463 782.6L463.8 788.9L464.5 795.3L465.2 794.9L466 788.1L466.8 779.4L467.5 768.2L468.2 765.2L469 761.1L469.8 755.1L470.5 763.7L471.2 776.1L472 787.2L472.8 792L473.5 783.8L474.2 773L475 774.4L475.8 779.7L476.5 782.4L477.2 788.7L478 792.2L478.8 787.8L479.5 786.4L480.2 782.7L481 793.4L481.8 808.1L482.5 825.8L483.2 803.8L484 784L484.8 762.6L485.5 756.2L486.2 757.7L487 757.3L487.8 757.1L488.5 762.1L489.2 772.5L490 780.6L490.8 766.1L491.5 752.9L492.2 738.2L493 724.5L493.8 715.5L494.5 716L495.2 715.6L496 714.4L496.8 740L497.5 764.4L498.2 778.4L499 773.8L499.8 767.5L500.5 762.4L501.2 769.4L502 775.6L502.8 782.8L503.5 787.7L504.2 788L505 784.4L505.8 794L506.5 802.1L507.2 795.5L508 779.1L508.8 762.1L509.5 758.9L510.2 781.8L511 780.9L511.8 766.5L512.5 751.5L513.2 747.5L514 758.9L514.8 770.9L515.5 767.1L516.2 753.4L517 740.9L517.8 728.5L518.5 734.1L519.2 747.1L520 760.5L520.8 769.9L521.5 776.9L522.2 786.6L523 785.1L523.8 776.4L524.5 769.6L525.2 763.3L526 761.6L526.8 762.6L527.5 765.3L528.2 773.6L529 783.1L529.8 779L530.5 771L531.2 768.6L532 774.7L532.8 782L533.5 781.5L534.2 776.6L535 771.2L535.8 765.6L536.5 767.7L537.2 771.1L538 776.9L538.8 782.9L539.5 781.4L540.2 768.7L541 756.5L541.8 758L542.5 759.9L543.2 744.2L544 730.2L544.8 736.7L545.5 750.8L546.2 762L547 760.3L547.8 758.3L548.5 758.2L549.2 756.7L550 757.4L550.8 755.1L551.5 756.3L552.2 746.5L553 730.9L553.8 741.7L554.5 750.9L555.2 744.1L556 733.8L556.8 719.8L557.5 731.6L558.2 740.3L559 739.1L559.8 727.9L560.5 729.4L561.2 739.8L562 749.2L562.8 733.9L563.5 711.6L564.2 687.6L565 701.2L565.8 715.8L566.5 718.8L567.2 712.8L568 731.8L568.8 749.2L569.5 765.4L570.2 785.4L571 786.1L571.8 775.5L572.5 769.4L573.2 759.8L574 751.4L574.8 755.2L575.5 762.1L576.2 770L577 777.3L577.8 780.5L578.5 783.6L579.2 785.1L580 773.2L580.8 763.5L581.5 750L582.2 739.1L583 748.4L583.8 770.6L584.5 777L585.2 758.4L586 735.4L586.8 744.4L587.5 748.6L588.2 746L589 740.1L589.8 737.5L590.5 727.4L591.2 718.2L592 708.2L592.8 707.7L593.5 728.6L594.2 748.5L595 738.9L595.8 728.3L596.5 727.6L597.2 732.8L598 737.8L598.8 737.8L599.5 734.1L600.2 733.2L601 737.3L601.8 740L602.5 745.8L603.2 751.7L604 758.1L604.8 749.5L605.5 729.1L606.2 723.9L607 742.7L607.8 748.8L608.5 732.3L609.2 718.4L610 701.2L610.8 687.7L611.5 685.9L612.2 680L613 685.2L613.8 691.9L614.5 698L615.2 708.5L616 720.9L616.8 730.2L617.5 742.5L618.2 751.7L619 746.6L619.8 730.5L620.5 714.7L621.2 729.3L622 745.2L622.8 740.2L623.5 728.9L624.2 731.3L625 742.2L625.8 750.7L626.5 751.4L627.2 742.3L628 741.9L628.8 748.3L629.5 752.8L630.2 755.6L631 759.3L631.8 756.6L632.5 752.7L633.2 749.6L634 755.9L634.8 763.9L635.5 772.6L636.2 761.5L637 750L637.8 739.4L638.5 733.7L639.2 729.7L640 727.1L640.8 725.9L641.5 721.3L642.2 720.9L643 724.1L643.8 724L644.5 728L645.2 741L646 751.4L646.8 763.4L647.5 752.4L648.2 740.4L649 728.3L649.8 733.1L650.5 746L651.2 751.6L652 736.9L652.8 723.9L653.5 727.9L654.2 735.2L655 746.2L655.8 755.4L656.5 754.3L657.2 748.7L658 745.6L658.8 741.1L659.5 736.4L660.2 730.2L661 725.6L661.8 720.3L662.5 712.8L663.2 710.5L664 707.6L664.8 705.2L665.5 703.5L666.2 708.6L667 711.3L667.8 712.4L668.5 721.1L669.2 730L670 739L670.8 747.8L671.5 749.8L672.2 751.2L673 749.2L673.8 756.7L674.5 763.4L675.2 757.2L676 745.8L676.8 732.8L677.5 743.6L678.2 755L679 767L679.8 766.7L680.5 758L681.2 756.8L682 768.8L682.8 781.2L683.5 794L684.2 804.8L685 791.8L685.8 774.1L686.5 758.5L687.2 757.8L688 761.4L688.8 765.8L689.5 769.8L690.2 773.5L691 772.7L691.8 768L692.5 760.9L693.2 757.2L694 749.7L694.8 748.7L695.5 750.4L696.2 750.8L697 750.2L697.8 744.3L698.5 739.3L699.2 733.9L700 729.7L700.8 730.9L701.5 743.5L702.2 757.7L703 734.9L703.8 711.8L704.5 707.1L705.2 723.6L706 742.4L706.8 763.5L707.5 742L708.2 718.7L709 717.9L709.8 728.1L710.5 739.7L711.2 730.1L712 721.4L712.8 713.6L713.5 706.3L714.2 710.3L715 724.5L715.8 728.5L716.5 719.1L717.2 706.5L718 705.8L718.8 704.9L719.5 714.6L720.2 721.4L721 732.4L721.8 740.2L722.5 730.7L723.2 721.7L724 712.5L724.8 703.7L725.5 694.3L726.2 704.9L727 714.9L727.8 727.1L728.5 737.4L729.2 729.1L730 718L730.8 707.2L731.5 709L732.2 715.8L733 719.1L733.8 715.6L734.5 713.5L735.2 710.2L736 716L736.8 725.5L737.5 736.3L738.2 746.7L739 739.5L739.8 724.1L740.5 729L741.2 743.1L742 749.1L742.8 740.9L743.5 732.9L744.2 735.3L745 734.2L745.8 735.6L746.5 734.5L747.2 729.8L748 726.8L748.8 724.2L749.5 724.7L750.2 730L751 736.4L751.8 742.6L752.5 739.3L753.2 741.5L754 746L754.8 750.5L755.5 743.1L756.2 726.1L757 739L757.8 752.2L758.5 747.2L759.2 736.3L760 721.7L760.8 710.6L761.5 715L762.2 728.1L763 740.1L763.8 751.9L764.5 761.6L765.2 766L766 771.4L766.8 774.5L767.5 772.7L768.2 769.6L769 771.7L769.8 775.4L770.5 781.5L771.2 783.4L772 788.5L772.8 792.8L773.5 797.4L774.2 801.6L775 791.4L775.8 781.7L776.5 782.1L777.2 791.9L778 799.5L778.8 804.3L779.5 796.6L780.2 790.2L781 792.5L781.8 799.3L782.5 804.2L783.2 809.6L784 814.5L784.8 815.8L785.5 818L786.2 822.6L787 823.4L787.8 820.5L788.5 817.1L789.2 810.2L790 821L790.8 828.1L791.5 835.3L792.2 842.7L793 852L793.8 857.6L794.5 865.2L795.2 874.8L796 880.8L796.8 886.7L797.5 890.8L798.2 895.6L799 900.1L799.8 900.5L800.5 899.7L801.2 895.2L802 894.1L802.8 891.8L803.5 895.9L804.2 897.4L805 898.3L805.8 895.1L806.5 891.2L807.2 890.8L808 910.8L808.8 930.3L809.5 951.4L810.2 957.8L811 943.8L811.8 941L812.5 949.7L813.2 958.5L814 967.6L814.8 974L815.5 980.2L816.2 985.2L817 987.6L817.8 984.4L818.5 985.9L819.2 995.2L820 992.1L820.8 980.2L821.5 970.3L822.2 958.3L823 973.6L823.8 990.9L824.5 1007.5L825.2 1008L826 998.7L826.8 989.8L827.5 991.3L828.2 1005L829 1018.3L829.8 1023.2L830.5 1020.6L831.2 1017.8L832 1015.4L832.8 1015.6L833.5 1014.5L834.2 1015.3L835 1019.2L835.8 1021.3L836.5 1018.7L837.2 1015.8L838 1010.1L838.8 1012.1L839.5 1015.4L840.2 1021.6L841 1022.9L841.8 1023.2L842.5 1022.7L843.2 1026.3L844 1024.8L844.8 1025.3L845.5 1026.2L846.2 1025.4L847 1026.1L847.3 1025.7L853.2 1023.1L854 1025L854.7 1026.4L855.5 1026.1L856.2 1025.6L857 1024.7L857.7 1024.1L858.5 1023.9L859.2 1023.8L860 1023.3L860.7 1022.9L861.5 1024L862.2 1025.6L863 1027.8L863.7 1026.8L864.5 1025.8L865.2 1025.1L866 1025.6L866.7 1026L867.5 1026.7L868.2 1027.5L869 1028.2L869.7 1028.7L870.5 1029.2L871.2 1028.4L872 1028.4L872.7 1028.1L873.5 1028.1L874.2 1028.3L875 1028.2L875.7 1027.8L876.5 1027L877.2 1026L878 1024.6L878.7 1023.5L879.5 1026.1L880.2 1026.8L881 1027.7L881.7 1028.3L882.5 1028.4L883.2 1029L884 1028L884.7 1028.6L885.5 1028.9L886.2 1028.7L887 1028.9L887.7 1028.6L888.5 1029L889.2 1028L890 1027.7L890.7 1027.8L891.5 1027.9L892.2 1027.3L893 1027.4L893.7 1026.7L894.5 1026.3L895.2 1027L896 1027.8L896.7 1028.5L897.5 1028.8L898.2 1029.1L899 1028.9L899.7 1029L900.5 1029L901.2 1028.8L902 1028.1L902.7 1028.3L903.5 1028.1L904.2 1028L905 1028.3L905.7 1028.5L906.5 1028.9L907.2 1029.1L908 1029.3L908.7 1029.3L909.5 1029.5L910.2 1029.3L911 1028.7L911.7 1029.3L912.5 1029.1L913.2 1029.3L914 1029L914.7 1028.9L915.5 1029L916.2 1028.9L917 1028.7L917.7 1028.3L918.5 1029.1L919.2 1028.2L920 1028.5L920.7 1028.7L921.5 1028.5L922.2 1028.6L923 1028.9L923.7 1029.3L924.5 1029.3L925.2 1030.2L926 1029.5L926.7 1030.1L927.5 1030.2L928.2 1030.4L929 1030.9L929.5 1030.9L929.5 1030.6L1415.8 1028.6L1415.8 1029.9L1416.6 1022.9L1417.3 1017.7L1418.1 1013.6L1418.8 1009.1L1419.6 1006.4L1420.3 1002L1421.1 998.8L1421.8 1001.4L1422.6 1005L1423.3 1007.8L1424.1 1009.8L1424.8 1011.1L1425.6 1011.3L1426.3 1011.5L1427.1 1011.7L1427.8 1009.4L1428.6 1002.2L1429.3 996L1430.1 991.3L1430.8 996.9L1431.6 998L1432.3 993.9L1433.1 989L1433.8 984.6L1434.6 981L1435.3 978.4L1436.1 978.9L1436.8 980.8L1437.6 982.1L1438.3 979.8L1439.1 975.8L1439.8 973.6L1440.6 967.8L1441.3 958.2L1442.1 948.5L1442.8 943.1L1443.6 955L1444.3 966.5L1445.1 978L1445.8 973.5L1446.6 964L1447.3 963.4L1448.1 969.5L1448.8 976.6L1449.6 973.6L1450.3 963.9L1451.1 955.9L1451.8 949.4L1452.6 949.3L1453.3 944.6L1454.1 935.1L1454.8 932.9L1455.6 945.9L1456.3 957L1457.1 942.6L1457.8 930.1L1458.6 914.6L1459.3 899.5L1460.1 887.2L1460.8 880.4L1461.4 877.7" fill="none" stroke="#ff7f0e" stroke-width="2.1" stroke-linejoin="round" stroke-linecap="square"/>
</g>
<path d="M116.5 1054.5v4.9M284.5 1054.5v4.9M452.5 1054.5v4.9M621.5 1054.5v4.9M789.5 1054.5v4.9M957.5 1054.5v4.9M1125.5 1054.5v4.9M1294.5 1054.5v4.9M116.5 1042.5h-4.9M116.5 986.5h-4.9M116.5 930.5h-4.9M116.5 874.5h-4.9M116.5 818.5h-4.9M116.5 763.5h-4.9M116.5 707.5h-4.9M116.5 651.5h-4.9M116.5 595.5h-4.9" stroke="#000" stroke-width="1.1" fill="none"/>
<rect x="116.5" y="575.5" width="1346.0" height="479.0" fill="none" stroke="#000" stroke-width="1.1"/>
<g font-family="Liberation Sans, sans-serif" font-weight="bold" fill="#000" stroke="#000" stroke-width="0.45" stroke-linejoin="round" filter="url(#nf)">
<text x="116" y="30.4" font-size="27.2" text-anchor="start" textLength="40.6" lengthAdjust="spacingAndGlyphs" >(a)</text>
<text x="115.6" y="567.2" font-size="27.2" text-anchor="start" textLength="42.4" lengthAdjust="spacingAndGlyphs" >(b)</text>
<text x="784" y="29.6" font-size="27.2" text-anchor="middle" textLength="282.5" lengthAdjust="spacingAndGlyphs" >2.5 MHz N0000002</text>
<text x="105.4" y="102.5" font-size="21.8" text-anchor="end" textLength="14.3" lengthAdjust="spacingAndGlyphs" >2</text>
<text x="105.4" y="191.5" font-size="21.8" text-anchor="end" textLength="14.3" lengthAdjust="spacingAndGlyphs" >1</text>
<text x="105.4" y="279.5" font-size="21.8" text-anchor="end" textLength="14.3" lengthAdjust="spacingAndGlyphs" >0</text>
<text x="105.4" y="368.5" font-size="21.8" text-anchor="end" textLength="32.6" lengthAdjust="spacingAndGlyphs" >−1</text>
<text x="105.4" y="457.5" font-size="21.8" text-anchor="end" textLength="32.6" lengthAdjust="spacingAndGlyphs" >−2</text>
<text x="105.3" y="1049.7" font-size="21.8" text-anchor="end" textLength="54.6" lengthAdjust="spacingAndGlyphs" >0.00</text>
<text x="105.3" y="993.7" font-size="21.8" text-anchor="end" textLength="54.6" lengthAdjust="spacingAndGlyphs" >0.01</text>
<text x="105.3" y="937.7" font-size="21.8" text-anchor="end" textLength="54.6" lengthAdjust="spacingAndGlyphs" >0.02</text>
<text x="105.3" y="881.7" font-size="21.8" text-anchor="end" textLength="54.6" lengthAdjust="spacingAndGlyphs" >0.03</text>
<text x="105.3" y="825.7" font-size="21.8" text-anchor="end" textLength="54.6" lengthAdjust="spacingAndGlyphs" >0.04</text>
<text x="105.3" y="770.7" font-size="21.8" text-anchor="end" textLength="54.6" lengthAdjust="spacingAndGlyphs" >0.05</text>
<text x="105.3" y="714.7" font-size="21.8" text-anchor="end" textLength="54.6" lengthAdjust="spacingAndGlyphs" >0.06</text>
<text x="105.3" y="658.7" font-size="21.8" text-anchor="end" textLength="54.6" lengthAdjust="spacingAndGlyphs" >0.07</text>
<text x="105.3" y="602.7" font-size="21.8" text-anchor="end" textLength="54.6" lengthAdjust="spacingAndGlyphs" >0.08</text>
<text transform="translate(61.4,278.6) rotate(-90)" font-size="22.3" text-anchor="middle" textLength="226" lengthAdjust="spacingAndGlyphs">Doppler Shift [Hz]</text>
<text transform="translate(40.4,814.8) rotate(-90)" font-size="22.3" text-anchor="middle" textLength="210.5" lengthAdjust="spacingAndGlyphs">Peak Voltage [V]</text>
<text transform="translate(114.6,1076.4) rotate(-30)" font-size="21.8" text-anchor="end" textLength="113" lengthAdjust="spacingAndGlyphs">10-18 00</text>
<text transform="translate(282.9,1076.4) rotate(-30)" font-size="21.8" text-anchor="end" textLength="113" lengthAdjust="spacingAndGlyphs">10-18 03</text>
<text transform="translate(451.1,1076.4) rotate(-30)" font-size="21.8" text-anchor="end" textLength="113" lengthAdjust="spacingAndGlyphs">10-18 06</text>
<text transform="translate(619.4,1076.4) rotate(-30)" font-size="21.8" text-anchor="end" textLength="113" lengthAdjust="spacingAndGlyphs">10-18 09</text>
<text transform="translate(787.6,1076.4) rotate(-30)" font-size="21.8" text-anchor="end" textLength="113" lengthAdjust="spacingAndGlyphs">10-18 12</text>
<text transform="translate(955.9,1076.4) rotate(-30)" font-size="21.8" text-anchor="end" textLength="113" lengthAdjust="spacingAndGlyphs">10-18 15</text>
<text transform="translate(1124.1,1076.4) rotate(-30)" font-size="21.8" text-anchor="end" textLength="113" lengthAdjust="spacingAndGlyphs">10-18 18</text>
<text transform="translate(1292.3,1076.4) rotate(-30)" font-size="21.8" text-anchor="end" textLength="113" lengthAdjust="spacingAndGlyphs">10-18 21</text>
<text x="789.3" y="1158" font-size="22.3" text-anchor="middle" textLength="50.6" lengthAdjust="spacingAndGlyphs" >UTC</text>
</g>
<rect x="1047.8" y="48.9" width="405.8" height="79.3" rx="3.6" fill="#fff" fill-opacity="0.8" stroke="#ccc" stroke-opacity="0.8" stroke-width="1.1"/>
<circle cx="1073.5" cy="63.6" r="3.0" fill="#1f77b4"/>
<path d="M1053.4 101.8H1092" stroke="#ff7f0e" stroke-width="2.1" fill="none"/>
<g font-family="Liberation Sans, sans-serif" font-weight="bold" fill="#000" stroke="#000" stroke-linejoin="round" font-size="18" stroke-width="0.3" filter="url(#nf)">
<text x="1106.6" y="68.8" textLength="99" lengthAdjust="spacingAndGlyphs">Raw Data</text>
<text x="1106.6" y="95.8" textLength="270" lengthAdjust="spacingAndGlyphs">Butterworth Filtered Data</text>
<text x="1106.6" y="116.4" textLength="339" lengthAdjust="spacingAndGlyphs">(N=6, Tc=3.3333 min, Type: low)</text>
</g>
<rect x="1047.8" y="584.9" width="405.8" height="80.2" rx="3.6" fill="#fff" fill-opacity="0.8" stroke="#ccc" stroke-opacity="0.8" stroke-width="1.1"/>
<circle cx="1073.5" cy="600.6" r="3.0" fill="#1f77b4"/>
<path d="M1053.4 638.8H1092" stroke="#ff7f0e" stroke-width="2.1" fill="none"/>
<g font-family="Liberation Sans, sans-serif" font-weight="bold" fill="#000" stroke="#000" stroke-linejoin="round" font-size="18" stroke-width="0.3" filter="url(#nf)">
<text x="1106.6" y="605.8" textLength="99" lengthAdjust="spacingAndGlyphs">Raw Data</text>
<text x="1106.6" y="632.8" textLength="270" lengthAdjust="spacingAndGlyphs">Butterworth Filtered Data</text>
<text x="1106.6" y="653.4" textLength="339" lengthAdjust="spacingAndGlyphs">(N=6, Tc=3.3333 min, Type: low)</text>
</g>
</svg>
</body></html>
